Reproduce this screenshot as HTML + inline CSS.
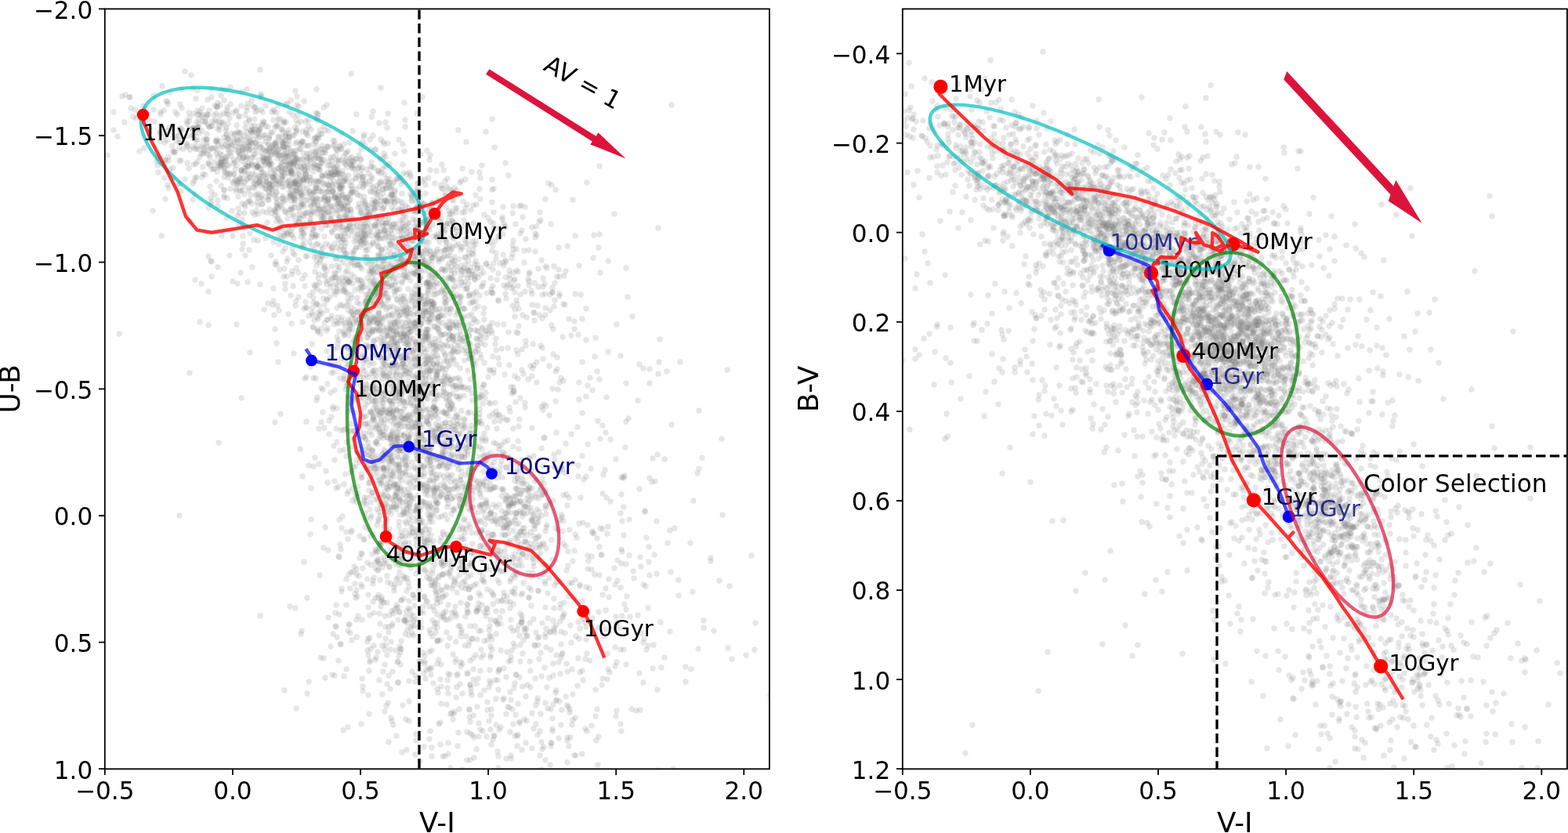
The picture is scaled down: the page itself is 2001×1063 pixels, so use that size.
<!DOCTYPE html>
<html><head><meta charset="utf-8"><title>Color-color diagrams</title><style>
html,body{margin:0;padding:0;background:#fff;width:2001px;height:1063px;overflow:hidden}
svg{display:block}
text{font-family:"DejaVu Sans","Liberation Sans",sans-serif}
.s{fill:#808080;fill-opacity:0.2}
</style></head><body>
<svg width="2001" height="1063" viewBox="0 0 2001 1063">
<rect width="2001" height="1063" fill="#fff"/>
<defs><clipPath id="cl"><rect x="133.8" y="11.4" width="848.1" height="969.9"/></clipPath><clipPath id="cr"><rect x="1151.8" y="11.4" width="848.1" height="969.9"/></clipPath></defs><g clip-path="url(#cl)" class="s"><circle cx="511" cy="425" r="3.7"/><circle cx="513" cy="272" r="3.7"/><circle cx="489" cy="181" r="3.7"/><circle cx="445" cy="284" r="3.7"/><circle cx="474" cy="289" r="3.7"/><circle cx="611" cy="539" r="3.7"/><circle cx="600" cy="421" r="3.7"/><circle cx="548" cy="527" r="3.7"/><circle cx="392" cy="202" r="3.7"/><circle cx="706" cy="452" r="3.7"/><circle cx="523" cy="424" r="3.7"/><circle cx="299" cy="178" r="3.7"/><circle cx="330" cy="169" r="3.7"/><circle cx="664" cy="640" r="3.7"/><circle cx="440" cy="224" r="3.7"/><circle cx="444" cy="506" r="3.7"/><circle cx="726" cy="407" r="3.7"/><circle cx="703" cy="952" r="3.7"/><circle cx="752" cy="751" r="3.7"/><circle cx="448" cy="268" r="3.7"/><circle cx="452" cy="434" r="3.7"/><circle cx="533" cy="338" r="3.7"/><circle cx="449" cy="215" r="3.7"/><circle cx="513" cy="264" r="3.7"/><circle cx="455" cy="146" r="3.7"/><circle cx="477" cy="214" r="3.7"/><circle cx="520" cy="562" r="3.7"/><circle cx="534" cy="385" r="3.7"/><circle cx="468" cy="328" r="3.7"/><circle cx="412" cy="526" r="3.7"/><circle cx="539" cy="265" r="3.7"/><circle cx="294" cy="221" r="3.7"/><circle cx="483" cy="398" r="3.7"/><circle cx="231" cy="164" r="3.7"/><circle cx="414" cy="546" r="3.7"/><circle cx="411" cy="224" r="3.7"/><circle cx="474" cy="658" r="3.7"/><circle cx="553" cy="444" r="3.7"/><circle cx="614" cy="457" r="3.7"/><circle cx="373" cy="205" r="3.7"/><circle cx="429" cy="623" r="3.7"/><circle cx="221" cy="227" r="3.7"/><circle cx="549" cy="389" r="3.7"/><circle cx="518" cy="277" r="3.7"/><circle cx="509" cy="227" r="3.7"/><circle cx="491" cy="829" r="3.7"/><circle cx="484" cy="281" r="3.7"/><circle cx="654" cy="642" r="3.7"/><circle cx="460" cy="289" r="3.7"/><circle cx="443" cy="442" r="3.7"/><circle cx="724" cy="645" r="3.7"/><circle cx="657" cy="663" r="3.7"/><circle cx="523" cy="412" r="3.7"/><circle cx="515" cy="346" r="3.7"/><circle cx="679" cy="636" r="3.7"/><circle cx="595" cy="812" r="3.7"/><circle cx="529" cy="459" r="3.7"/><circle cx="290" cy="141" r="3.7"/><circle cx="405" cy="240" r="3.7"/><circle cx="513" cy="295" r="3.7"/><circle cx="502" cy="783" r="3.7"/><circle cx="681" cy="684" r="3.7"/><circle cx="557" cy="623" r="3.7"/><circle cx="365" cy="156" r="3.7"/><circle cx="496" cy="947" r="3.7"/><circle cx="660" cy="939" r="3.7"/><circle cx="428" cy="190" r="3.7"/><circle cx="483" cy="663" r="3.7"/><circle cx="475" cy="574" r="3.7"/><circle cx="515" cy="535" r="3.7"/><circle cx="560" cy="924" r="3.7"/><circle cx="596" cy="344" r="3.7"/><circle cx="541" cy="859" r="3.7"/><circle cx="506" cy="650" r="3.7"/><circle cx="547" cy="361" r="3.7"/><circle cx="669" cy="679" r="3.7"/><circle cx="747" cy="841" r="3.7"/><circle cx="556" cy="740" r="3.7"/><circle cx="558" cy="818" r="3.7"/><circle cx="706" cy="899" r="3.7"/><circle cx="525" cy="554" r="3.7"/><circle cx="427" cy="348" r="3.7"/><circle cx="403" cy="254" r="3.7"/><circle cx="383" cy="190" r="3.7"/><circle cx="507" cy="560" r="3.7"/><circle cx="518" cy="792" r="3.7"/><circle cx="566" cy="733" r="3.7"/><circle cx="626" cy="655" r="3.7"/><circle cx="378" cy="167" r="3.7"/><circle cx="668" cy="626" r="3.7"/><circle cx="531" cy="732" r="3.7"/><circle cx="618" cy="743" r="3.7"/><circle cx="443" cy="291" r="3.7"/><circle cx="576" cy="345" r="3.7"/><circle cx="521" cy="488" r="3.7"/><circle cx="456" cy="634" r="3.7"/><circle cx="441" cy="347" r="3.7"/><circle cx="659" cy="654" r="3.7"/><circle cx="715" cy="860" r="3.7"/><circle cx="555" cy="394" r="3.7"/><circle cx="521" cy="638" r="3.7"/><circle cx="519" cy="668" r="3.7"/><circle cx="414" cy="194" r="3.7"/><circle cx="431" cy="438" r="3.7"/><circle cx="556" cy="441" r="3.7"/><circle cx="484" cy="783" r="3.7"/><circle cx="551" cy="852" r="3.7"/><circle cx="657" cy="939" r="3.7"/><circle cx="525" cy="446" r="3.7"/><circle cx="350" cy="142" r="3.7"/><circle cx="651" cy="768" r="3.7"/><circle cx="528" cy="500" r="3.7"/><circle cx="500" cy="516" r="3.7"/><circle cx="539" cy="582" r="3.7"/><circle cx="703" cy="905" r="3.7"/><circle cx="573" cy="269" r="3.7"/><circle cx="520" cy="531" r="3.7"/><circle cx="568" cy="580" r="3.7"/><circle cx="578" cy="414" r="3.7"/><circle cx="239" cy="158" r="3.7"/><circle cx="855" cy="677" r="3.7"/><circle cx="530" cy="684" r="3.7"/><circle cx="594" cy="641" r="3.7"/><circle cx="503" cy="644" r="3.7"/><circle cx="471" cy="413" r="3.7"/><circle cx="600" cy="350" r="3.7"/><circle cx="835" cy="708" r="3.7"/><circle cx="400" cy="246" r="3.7"/><circle cx="312" cy="218" r="3.7"/><circle cx="430" cy="302" r="3.7"/><circle cx="330" cy="224" r="3.7"/><circle cx="496" cy="580" r="3.7"/><circle cx="599" cy="495" r="3.7"/><circle cx="393" cy="214" r="3.7"/><circle cx="401" cy="328" r="3.7"/><circle cx="769" cy="759" r="3.7"/><circle cx="258" cy="188" r="3.7"/><circle cx="627" cy="624" r="3.7"/><circle cx="375" cy="231" r="3.7"/><circle cx="668" cy="617" r="3.7"/><circle cx="479" cy="371" r="3.7"/><circle cx="215" cy="200" r="3.7"/><circle cx="368" cy="221" r="3.7"/><circle cx="520" cy="540" r="3.7"/><circle cx="319" cy="227" r="3.7"/><circle cx="482" cy="832" r="3.7"/><circle cx="606" cy="527" r="3.7"/><circle cx="430" cy="316" r="3.7"/><circle cx="654" cy="718" r="3.7"/><circle cx="468" cy="492" r="3.7"/><circle cx="482" cy="567" r="3.7"/><circle cx="630" cy="622" r="3.7"/><circle cx="312" cy="272" r="3.7"/><circle cx="536" cy="664" r="3.7"/><circle cx="678" cy="607" r="3.7"/><circle cx="534" cy="562" r="3.7"/><circle cx="533" cy="632" r="3.7"/><circle cx="398" cy="270" r="3.7"/><circle cx="489" cy="857" r="3.7"/><circle cx="484" cy="613" r="3.7"/><circle cx="351" cy="223" r="3.7"/><circle cx="563" cy="240" r="3.7"/><circle cx="548" cy="474" r="3.7"/><circle cx="556" cy="564" r="3.7"/><circle cx="344" cy="240" r="3.7"/><circle cx="464" cy="509" r="3.7"/><circle cx="748" cy="800" r="3.7"/><circle cx="538" cy="566" r="3.7"/><circle cx="707" cy="801" r="3.7"/><circle cx="492" cy="509" r="3.7"/><circle cx="568" cy="305" r="3.7"/><circle cx="391" cy="256" r="3.7"/><circle cx="556" cy="522" r="3.7"/><circle cx="549" cy="574" r="3.7"/><circle cx="840" cy="983" r="3.7"/><circle cx="622" cy="752" r="3.7"/><circle cx="333" cy="188" r="3.7"/><circle cx="293" cy="151" r="3.7"/><circle cx="749" cy="834" r="3.7"/><circle cx="689" cy="271" r="3.7"/><circle cx="409" cy="839" r="3.7"/><circle cx="375" cy="451" r="3.7"/><circle cx="482" cy="218" r="3.7"/><circle cx="829" cy="734" r="3.7"/><circle cx="556" cy="639" r="3.7"/><circle cx="609" cy="816" r="3.7"/><circle cx="387" cy="229" r="3.7"/><circle cx="495" cy="708" r="3.7"/><circle cx="467" cy="385" r="3.7"/><circle cx="343" cy="255" r="3.7"/><circle cx="494" cy="558" r="3.7"/><circle cx="750" cy="780" r="3.7"/><circle cx="404" cy="114" r="3.7"/><circle cx="499" cy="586" r="3.7"/><circle cx="374" cy="323" r="3.7"/><circle cx="387" cy="233" r="3.7"/><circle cx="714" cy="375" r="3.7"/><circle cx="485" cy="304" r="3.7"/><circle cx="362" cy="206" r="3.7"/><circle cx="485" cy="455" r="3.7"/><circle cx="589" cy="750" r="3.7"/><circle cx="423" cy="274" r="3.7"/><circle cx="545" cy="737" r="3.7"/><circle cx="641" cy="712" r="3.7"/><circle cx="493" cy="661" r="3.7"/><circle cx="707" cy="764" r="3.7"/><circle cx="774" cy="635" r="3.7"/><circle cx="440" cy="427" r="3.7"/><circle cx="566" cy="555" r="3.7"/><circle cx="618" cy="781" r="3.7"/><circle cx="619" cy="660" r="3.7"/><circle cx="530" cy="707" r="3.7"/><circle cx="545" cy="361" r="3.7"/><circle cx="485" cy="405" r="3.7"/><circle cx="786" cy="787" r="3.7"/><circle cx="465" cy="251" r="3.7"/><circle cx="367" cy="299" r="3.7"/><circle cx="385" cy="805" r="3.7"/><circle cx="606" cy="466" r="3.7"/><circle cx="305" cy="149" r="3.7"/><circle cx="719" cy="486" r="3.7"/><circle cx="479" cy="290" r="3.7"/><circle cx="326" cy="196" r="3.7"/><circle cx="430" cy="191" r="3.7"/><circle cx="288" cy="115" r="3.7"/><circle cx="572" cy="481" r="3.7"/><circle cx="512" cy="525" r="3.7"/><circle cx="473" cy="191" r="3.7"/><circle cx="530" cy="393" r="3.7"/><circle cx="315" cy="189" r="3.7"/><circle cx="759" cy="733" r="3.7"/><circle cx="403" cy="240" r="3.7"/><circle cx="364" cy="271" r="3.7"/><circle cx="550" cy="717" r="3.7"/><circle cx="730" cy="854" r="3.7"/><circle cx="298" cy="204" r="3.7"/><circle cx="534" cy="262" r="3.7"/><circle cx="452" cy="509" r="3.7"/><circle cx="661" cy="615" r="3.7"/><circle cx="401" cy="259" r="3.7"/><circle cx="510" cy="571" r="3.7"/><circle cx="439" cy="618" r="3.7"/><circle cx="404" cy="175" r="3.7"/><circle cx="610" cy="509" r="3.7"/><circle cx="661" cy="483" r="3.7"/><circle cx="601" cy="722" r="3.7"/><circle cx="717" cy="657" r="3.7"/><circle cx="414" cy="279" r="3.7"/><circle cx="626" cy="825" r="3.7"/><circle cx="468" cy="458" r="3.7"/><circle cx="599" cy="457" r="3.7"/><circle cx="384" cy="155" r="3.7"/><circle cx="502" cy="287" r="3.7"/><circle cx="787" cy="795" r="3.7"/><circle cx="658" cy="660" r="3.7"/><circle cx="552" cy="438" r="3.7"/><circle cx="731" cy="716" r="3.7"/><circle cx="419" cy="256" r="3.7"/><circle cx="821" cy="470" r="3.7"/><circle cx="553" cy="376" r="3.7"/><circle cx="582" cy="890" r="3.7"/><circle cx="557" cy="352" r="3.7"/><circle cx="641" cy="682" r="3.7"/><circle cx="430" cy="521" r="3.7"/><circle cx="559" cy="404" r="3.7"/><circle cx="528" cy="526" r="3.7"/><circle cx="510" cy="638" r="3.7"/><circle cx="202" cy="220" r="3.7"/><circle cx="538" cy="479" r="3.7"/><circle cx="521" cy="561" r="3.7"/><circle cx="417" cy="363" r="3.7"/><circle cx="492" cy="232" r="3.7"/><circle cx="441" cy="228" r="3.7"/><circle cx="641" cy="609" r="3.7"/><circle cx="640" cy="652" r="3.7"/><circle cx="589" cy="344" r="3.7"/><circle cx="415" cy="273" r="3.7"/><circle cx="426" cy="414" r="3.7"/><circle cx="558" cy="651" r="3.7"/><circle cx="470" cy="337" r="3.7"/><circle cx="273" cy="147" r="3.7"/><circle cx="617" cy="741" r="3.7"/><circle cx="497" cy="403" r="3.7"/><circle cx="691" cy="982" r="3.7"/><circle cx="223" cy="195" r="3.7"/><circle cx="365" cy="174" r="3.7"/><circle cx="337" cy="211" r="3.7"/><circle cx="477" cy="435" r="3.7"/><circle cx="648" cy="715" r="3.7"/><circle cx="286" cy="128" r="3.7"/><circle cx="381" cy="236" r="3.7"/><circle cx="509" cy="267" r="3.7"/><circle cx="633" cy="647" r="3.7"/><circle cx="521" cy="481" r="3.7"/><circle cx="652" cy="838" r="3.7"/><circle cx="665" cy="678" r="3.7"/><circle cx="453" cy="629" r="3.7"/><circle cx="318" cy="256" r="3.7"/><circle cx="696" cy="649" r="3.7"/><circle cx="343" cy="244" r="3.7"/><circle cx="485" cy="384" r="3.7"/><circle cx="386" cy="411" r="3.7"/><circle cx="565" cy="241" r="3.7"/><circle cx="258" cy="226" r="3.7"/><circle cx="507" cy="582" r="3.7"/><circle cx="485" cy="415" r="3.7"/><circle cx="521" cy="776" r="3.7"/><circle cx="574" cy="314" r="3.7"/><circle cx="572" cy="545" r="3.7"/><circle cx="576" cy="349" r="3.7"/><circle cx="464" cy="575" r="3.7"/><circle cx="551" cy="276" r="3.7"/><circle cx="330" cy="253" r="3.7"/><circle cx="552" cy="550" r="3.7"/><circle cx="667" cy="757" r="3.7"/><circle cx="619" cy="440" r="3.7"/><circle cx="398" cy="314" r="3.7"/><circle cx="604" cy="854" r="3.7"/><circle cx="447" cy="254" r="3.7"/><circle cx="492" cy="823" r="3.7"/><circle cx="435" cy="190" r="3.7"/><circle cx="371" cy="221" r="3.7"/><circle cx="467" cy="440" r="3.7"/><circle cx="306" cy="169" r="3.7"/><circle cx="446" cy="256" r="3.7"/><circle cx="315" cy="114" r="3.7"/><circle cx="510" cy="575" r="3.7"/><circle cx="563" cy="299" r="3.7"/><circle cx="497" cy="209" r="3.7"/><circle cx="314" cy="157" r="3.7"/><circle cx="411" cy="224" r="3.7"/><circle cx="537" cy="325" r="3.7"/><circle cx="500" cy="419" r="3.7"/><circle cx="644" cy="666" r="3.7"/><circle cx="448" cy="550" r="3.7"/><circle cx="412" cy="225" r="3.7"/><circle cx="544" cy="407" r="3.7"/><circle cx="378" cy="240" r="3.7"/><circle cx="538" cy="678" r="3.7"/><circle cx="534" cy="675" r="3.7"/><circle cx="514" cy="285" r="3.7"/><circle cx="377" cy="231" r="3.7"/><circle cx="587" cy="589" r="3.7"/><circle cx="481" cy="387" r="3.7"/><circle cx="525" cy="378" r="3.7"/><circle cx="442" cy="293" r="3.7"/><circle cx="462" cy="366" r="3.7"/><circle cx="533" cy="539" r="3.7"/><circle cx="258" cy="138" r="3.7"/><circle cx="246" cy="172" r="3.7"/><circle cx="569" cy="528" r="3.7"/><circle cx="568" cy="452" r="3.7"/><circle cx="445" cy="420" r="3.7"/><circle cx="652" cy="964" r="3.7"/><circle cx="787" cy="845" r="3.7"/><circle cx="405" cy="211" r="3.7"/><circle cx="471" cy="581" r="3.7"/><circle cx="540" cy="308" r="3.7"/><circle cx="433" cy="287" r="3.7"/><circle cx="664" cy="298" r="3.7"/><circle cx="660" cy="593" r="3.7"/><circle cx="571" cy="442" r="3.7"/><circle cx="483" cy="300" r="3.7"/><circle cx="465" cy="328" r="3.7"/><circle cx="531" cy="622" r="3.7"/><circle cx="678" cy="736" r="3.7"/><circle cx="409" cy="426" r="3.7"/><circle cx="479" cy="701" r="3.7"/><circle cx="503" cy="617" r="3.7"/><circle cx="405" cy="266" r="3.7"/><circle cx="601" cy="341" r="3.7"/><circle cx="546" cy="509" r="3.7"/><circle cx="322" cy="166" r="3.7"/><circle cx="312" cy="233" r="3.7"/><circle cx="355" cy="192" r="3.7"/><circle cx="530" cy="339" r="3.7"/><circle cx="353" cy="245" r="3.7"/><circle cx="332" cy="164" r="3.7"/><circle cx="596" cy="633" r="3.7"/><circle cx="503" cy="619" r="3.7"/><circle cx="538" cy="425" r="3.7"/><circle cx="512" cy="684" r="3.7"/><circle cx="630" cy="271" r="3.7"/><circle cx="393" cy="211" r="3.7"/><circle cx="507" cy="623" r="3.7"/><circle cx="306" cy="234" r="3.7"/><circle cx="569" cy="308" r="3.7"/><circle cx="705" cy="930" r="3.7"/><circle cx="554" cy="629" r="3.7"/><circle cx="452" cy="206" r="3.7"/><circle cx="664" cy="715" r="3.7"/><circle cx="291" cy="221" r="3.7"/><circle cx="531" cy="416" r="3.7"/><circle cx="675" cy="639" r="3.7"/><circle cx="425" cy="200" r="3.7"/><circle cx="690" cy="911" r="3.7"/><circle cx="360" cy="226" r="3.7"/><circle cx="514" cy="381" r="3.7"/><circle cx="575" cy="374" r="3.7"/><circle cx="614" cy="342" r="3.7"/><circle cx="666" cy="472" r="3.7"/><circle cx="518" cy="473" r="3.7"/><circle cx="574" cy="400" r="3.7"/><circle cx="434" cy="302" r="3.7"/><circle cx="959" cy="709" r="3.7"/><circle cx="430" cy="430" r="3.7"/><circle cx="892" cy="598" r="3.7"/><circle cx="522" cy="693" r="3.7"/><circle cx="559" cy="884" r="3.7"/><circle cx="619" cy="669" r="3.7"/><circle cx="713" cy="316" r="3.7"/><circle cx="386" cy="297" r="3.7"/><circle cx="602" cy="611" r="3.7"/><circle cx="433" cy="234" r="3.7"/><circle cx="450" cy="322" r="3.7"/><circle cx="471" cy="380" r="3.7"/><circle cx="466" cy="300" r="3.7"/><circle cx="503" cy="232" r="3.7"/><circle cx="580" cy="302" r="3.7"/><circle cx="645" cy="654" r="3.7"/><circle cx="517" cy="666" r="3.7"/><circle cx="560" cy="414" r="3.7"/><circle cx="530" cy="389" r="3.7"/><circle cx="491" cy="293" r="3.7"/><circle cx="545" cy="323" r="3.7"/><circle cx="344" cy="190" r="3.7"/><circle cx="558" cy="475" r="3.7"/><circle cx="405" cy="311" r="3.7"/><circle cx="410" cy="273" r="3.7"/><circle cx="492" cy="504" r="3.7"/><circle cx="417" cy="326" r="3.7"/><circle cx="497" cy="621" r="3.7"/><circle cx="725" cy="722" r="3.7"/><circle cx="588" cy="351" r="3.7"/><circle cx="600" cy="921" r="3.7"/><circle cx="432" cy="280" r="3.7"/><circle cx="545" cy="286" r="3.7"/><circle cx="675" cy="623" r="3.7"/><circle cx="293" cy="223" r="3.7"/><circle cx="583" cy="496" r="3.7"/><circle cx="644" cy="683" r="3.7"/><circle cx="672" cy="920" r="3.7"/><circle cx="400" cy="294" r="3.7"/><circle cx="341" cy="203" r="3.7"/><circle cx="525" cy="497" r="3.7"/><circle cx="362" cy="190" r="3.7"/><circle cx="535" cy="386" r="3.7"/><circle cx="484" cy="653" r="3.7"/><circle cx="575" cy="355" r="3.7"/><circle cx="336" cy="220" r="3.7"/><circle cx="480" cy="703" r="3.7"/><circle cx="498" cy="466" r="3.7"/><circle cx="361" cy="187" r="3.7"/><circle cx="530" cy="711" r="3.7"/><circle cx="489" cy="503" r="3.7"/><circle cx="342" cy="193" r="3.7"/><circle cx="519" cy="957" r="3.7"/><circle cx="391" cy="538" r="3.7"/><circle cx="535" cy="754" r="3.7"/><circle cx="544" cy="289" r="3.7"/><circle cx="376" cy="325" r="3.7"/><circle cx="497" cy="477" r="3.7"/><circle cx="359" cy="224" r="3.7"/><circle cx="436" cy="236" r="3.7"/><circle cx="571" cy="340" r="3.7"/><circle cx="696" cy="375" r="3.7"/><circle cx="574" cy="608" r="3.7"/><circle cx="415" cy="191" r="3.7"/><circle cx="493" cy="240" r="3.7"/><circle cx="751" cy="716" r="3.7"/><circle cx="304" cy="170" r="3.7"/><circle cx="433" cy="784" r="3.7"/><circle cx="674" cy="642" r="3.7"/><circle cx="868" cy="462" r="3.7"/><circle cx="537" cy="197" r="3.7"/><circle cx="643" cy="761" r="3.7"/><circle cx="354" cy="254" r="3.7"/><circle cx="241" cy="155" r="3.7"/><circle cx="360" cy="266" r="3.7"/><circle cx="505" cy="504" r="3.7"/><circle cx="503" cy="326" r="3.7"/><circle cx="659" cy="601" r="3.7"/><circle cx="255" cy="411" r="3.7"/><circle cx="672" cy="618" r="3.7"/><circle cx="418" cy="383" r="3.7"/><circle cx="597" cy="576" r="3.7"/><circle cx="396" cy="682" r="3.7"/><circle cx="637" cy="644" r="3.7"/><circle cx="415" cy="351" r="3.7"/><circle cx="468" cy="274" r="3.7"/><circle cx="714" cy="488" r="3.7"/><circle cx="679" cy="375" r="3.7"/><circle cx="511" cy="639" r="3.7"/><circle cx="434" cy="222" r="3.7"/><circle cx="551" cy="606" r="3.7"/><circle cx="482" cy="407" r="3.7"/><circle cx="517" cy="603" r="3.7"/><circle cx="281" cy="134" r="3.7"/><circle cx="395" cy="377" r="3.7"/><circle cx="510" cy="435" r="3.7"/><circle cx="251" cy="226" r="3.7"/><circle cx="523" cy="606" r="3.7"/><circle cx="739" cy="510" r="3.7"/><circle cx="479" cy="191" r="3.7"/><circle cx="538" cy="556" r="3.7"/><circle cx="275" cy="153" r="3.7"/><circle cx="530" cy="390" r="3.7"/><circle cx="615" cy="419" r="3.7"/><circle cx="562" cy="634" r="3.7"/><circle cx="344" cy="234" r="3.7"/><circle cx="679" cy="955" r="3.7"/><circle cx="637" cy="707" r="3.7"/><circle cx="473" cy="236" r="3.7"/><circle cx="563" cy="788" r="3.7"/><circle cx="592" cy="583" r="3.7"/><circle cx="417" cy="448" r="3.7"/><circle cx="543" cy="321" r="3.7"/><circle cx="360" cy="228" r="3.7"/><circle cx="540" cy="572" r="3.7"/><circle cx="401" cy="262" r="3.7"/><circle cx="549" cy="658" r="3.7"/><circle cx="541" cy="260" r="3.7"/><circle cx="517" cy="602" r="3.7"/><circle cx="743" cy="462" r="3.7"/><circle cx="576" cy="582" r="3.7"/><circle cx="368" cy="231" r="3.7"/><circle cx="420" cy="537" r="3.7"/><circle cx="500" cy="298" r="3.7"/><circle cx="459" cy="315" r="3.7"/><circle cx="487" cy="762" r="3.7"/><circle cx="561" cy="465" r="3.7"/><circle cx="497" cy="240" r="3.7"/><circle cx="444" cy="206" r="3.7"/><circle cx="530" cy="338" r="3.7"/><circle cx="686" cy="938" r="3.7"/><circle cx="637" cy="855" r="3.7"/><circle cx="542" cy="692" r="3.7"/><circle cx="442" cy="203" r="3.7"/><circle cx="512" cy="714" r="3.7"/><circle cx="463" cy="882" r="3.7"/><circle cx="482" cy="296" r="3.7"/><circle cx="573" cy="326" r="3.7"/><circle cx="578" cy="357" r="3.7"/><circle cx="663" cy="679" r="3.7"/><circle cx="364" cy="362" r="3.7"/><circle cx="390" cy="385" r="3.7"/><circle cx="355" cy="462" r="3.7"/><circle cx="787" cy="907" r="3.7"/><circle cx="511" cy="576" r="3.7"/><circle cx="246" cy="234" r="3.7"/><circle cx="583" cy="449" r="3.7"/><circle cx="682" cy="399" r="3.7"/><circle cx="479" cy="507" r="3.7"/><circle cx="585" cy="746" r="3.7"/><circle cx="487" cy="765" r="3.7"/><circle cx="568" cy="381" r="3.7"/><circle cx="551" cy="965" r="3.7"/><circle cx="600" cy="874" r="3.7"/><circle cx="332" cy="184" r="3.7"/><circle cx="423" cy="280" r="3.7"/><circle cx="636" cy="457" r="3.7"/><circle cx="454" cy="430" r="3.7"/><circle cx="657" cy="751" r="3.7"/><circle cx="483" cy="547" r="3.7"/><circle cx="436" cy="290" r="3.7"/><circle cx="532" cy="612" r="3.7"/><circle cx="533" cy="400" r="3.7"/><circle cx="394" cy="161" r="3.7"/><circle cx="281" cy="196" r="3.7"/><circle cx="530" cy="445" r="3.7"/><circle cx="613" cy="647" r="3.7"/><circle cx="425" cy="244" r="3.7"/><circle cx="397" cy="623" r="3.7"/><circle cx="579" cy="292" r="3.7"/><circle cx="785" cy="850" r="3.7"/><circle cx="426" cy="372" r="3.7"/><circle cx="528" cy="328" r="3.7"/><circle cx="627" cy="688" r="3.7"/><circle cx="549" cy="808" r="3.7"/><circle cx="455" cy="203" r="3.7"/><circle cx="476" cy="494" r="3.7"/><circle cx="431" cy="192" r="3.7"/><circle cx="403" cy="483" r="3.7"/><circle cx="485" cy="526" r="3.7"/><circle cx="422" cy="280" r="3.7"/><circle cx="469" cy="593" r="3.7"/><circle cx="471" cy="856" r="3.7"/><circle cx="787" cy="414" r="3.7"/><circle cx="510" cy="508" r="3.7"/><circle cx="396" cy="273" r="3.7"/><circle cx="398" cy="399" r="3.7"/><circle cx="378" cy="169" r="3.7"/><circle cx="693" cy="355" r="3.7"/><circle cx="553" cy="302" r="3.7"/><circle cx="490" cy="476" r="3.7"/><circle cx="262" cy="156" r="3.7"/><circle cx="560" cy="735" r="3.7"/><circle cx="528" cy="570" r="3.7"/><circle cx="248" cy="190" r="3.7"/><circle cx="615" cy="495" r="3.7"/><circle cx="548" cy="943" r="3.7"/><circle cx="269" cy="333" r="3.7"/><circle cx="480" cy="299" r="3.7"/><circle cx="530" cy="376" r="3.7"/><circle cx="696" cy="678" r="3.7"/><circle cx="636" cy="604" r="3.7"/><circle cx="383" cy="279" r="3.7"/><circle cx="489" cy="378" r="3.7"/><circle cx="697" cy="826" r="3.7"/><circle cx="664" cy="596" r="3.7"/><circle cx="449" cy="398" r="3.7"/><circle cx="318" cy="154" r="3.7"/><circle cx="710" cy="881" r="3.7"/><circle cx="637" cy="465" r="3.7"/><circle cx="633" cy="323" r="3.7"/><circle cx="463" cy="281" r="3.7"/><circle cx="242" cy="150" r="3.7"/><circle cx="502" cy="356" r="3.7"/><circle cx="511" cy="227" r="3.7"/><circle cx="354" cy="264" r="3.7"/><circle cx="630" cy="565" r="3.7"/><circle cx="444" cy="445" r="3.7"/><circle cx="536" cy="475" r="3.7"/><circle cx="482" cy="368" r="3.7"/><circle cx="442" cy="679" r="3.7"/><circle cx="325" cy="223" r="3.7"/><circle cx="487" cy="692" r="3.7"/><circle cx="797" cy="607" r="3.7"/><circle cx="482" cy="716" r="3.7"/><circle cx="594" cy="624" r="3.7"/><circle cx="508" cy="575" r="3.7"/><circle cx="490" cy="596" r="3.7"/><circle cx="439" cy="372" r="3.7"/><circle cx="552" cy="359" r="3.7"/><circle cx="430" cy="369" r="3.7"/><circle cx="662" cy="668" r="3.7"/><circle cx="475" cy="301" r="3.7"/><circle cx="485" cy="326" r="3.7"/><circle cx="252" cy="115" r="3.7"/><circle cx="418" cy="220" r="3.7"/><circle cx="554" cy="455" r="3.7"/><circle cx="475" cy="213" r="3.7"/><circle cx="538" cy="493" r="3.7"/><circle cx="496" cy="298" r="3.7"/><circle cx="660" cy="388" r="3.7"/><circle cx="612" cy="697" r="3.7"/><circle cx="360" cy="238" r="3.7"/><circle cx="589" cy="718" r="3.7"/><circle cx="488" cy="580" r="3.7"/><circle cx="330" cy="247" r="3.7"/><circle cx="545" cy="192" r="3.7"/><circle cx="284" cy="188" r="3.7"/><circle cx="377" cy="236" r="3.7"/><circle cx="596" cy="934" r="3.7"/><circle cx="664" cy="844" r="3.7"/><circle cx="421" cy="263" r="3.7"/><circle cx="381" cy="222" r="3.7"/><circle cx="468" cy="396" r="3.7"/><circle cx="293" cy="177" r="3.7"/><circle cx="617" cy="400" r="3.7"/><circle cx="547" cy="582" r="3.7"/><circle cx="369" cy="230" r="3.7"/><circle cx="799" cy="848" r="3.7"/><circle cx="699" cy="757" r="3.7"/><circle cx="504" cy="245" r="3.7"/><circle cx="532" cy="545" r="3.7"/><circle cx="569" cy="508" r="3.7"/><circle cx="896" cy="584" r="3.7"/><circle cx="549" cy="590" r="3.7"/><circle cx="549" cy="320" r="3.7"/><circle cx="596" cy="295" r="3.7"/><circle cx="518" cy="336" r="3.7"/><circle cx="493" cy="257" r="3.7"/><circle cx="491" cy="522" r="3.7"/><circle cx="405" cy="151" r="3.7"/><circle cx="648" cy="654" r="3.7"/><circle cx="498" cy="513" r="3.7"/><circle cx="531" cy="567" r="3.7"/><circle cx="561" cy="362" r="3.7"/><circle cx="580" cy="333" r="3.7"/><circle cx="574" cy="485" r="3.7"/><circle cx="546" cy="396" r="3.7"/><circle cx="634" cy="725" r="3.7"/><circle cx="629" cy="455" r="3.7"/><circle cx="590" cy="622" r="3.7"/><circle cx="555" cy="348" r="3.7"/><circle cx="599" cy="915" r="3.7"/><circle cx="320" cy="184" r="3.7"/><circle cx="461" cy="706" r="3.7"/><circle cx="503" cy="412" r="3.7"/><circle cx="408" cy="232" r="3.7"/><circle cx="838" cy="665" r="3.7"/><circle cx="331" cy="233" r="3.7"/><circle cx="502" cy="533" r="3.7"/><circle cx="581" cy="265" r="3.7"/><circle cx="465" cy="403" r="3.7"/><circle cx="719" cy="786" r="3.7"/><circle cx="495" cy="585" r="3.7"/><circle cx="577" cy="450" r="3.7"/><circle cx="538" cy="619" r="3.7"/><circle cx="571" cy="327" r="3.7"/><circle cx="816" cy="859" r="3.7"/><circle cx="598" cy="599" r="3.7"/><circle cx="475" cy="354" r="3.7"/><circle cx="351" cy="218" r="3.7"/><circle cx="344" cy="191" r="3.7"/><circle cx="490" cy="719" r="3.7"/><circle cx="683" cy="321" r="3.7"/><circle cx="376" cy="265" r="3.7"/><circle cx="399" cy="293" r="3.7"/><circle cx="439" cy="252" r="3.7"/><circle cx="521" cy="721" r="3.7"/><circle cx="522" cy="399" r="3.7"/><circle cx="448" cy="730" r="3.7"/><circle cx="712" cy="497" r="3.7"/><circle cx="614" cy="696" r="3.7"/><circle cx="587" cy="574" r="3.7"/><circle cx="512" cy="705" r="3.7"/><circle cx="555" cy="365" r="3.7"/><circle cx="622" cy="782" r="3.7"/><circle cx="370" cy="238" r="3.7"/><circle cx="554" cy="417" r="3.7"/><circle cx="432" cy="221" r="3.7"/><circle cx="642" cy="893" r="3.7"/><circle cx="432" cy="465" r="3.7"/><circle cx="444" cy="292" r="3.7"/><circle cx="522" cy="549" r="3.7"/><circle cx="413" cy="204" r="3.7"/><circle cx="497" cy="490" r="3.7"/><circle cx="377" cy="776" r="3.7"/><circle cx="315" cy="212" r="3.7"/><circle cx="680" cy="731" r="3.7"/><circle cx="486" cy="231" r="3.7"/><circle cx="482" cy="301" r="3.7"/><circle cx="502" cy="439" r="3.7"/><circle cx="414" cy="343" r="3.7"/><circle cx="493" cy="446" r="3.7"/><circle cx="490" cy="523" r="3.7"/><circle cx="388" cy="230" r="3.7"/><circle cx="702" cy="376" r="3.7"/><circle cx="547" cy="650" r="3.7"/><circle cx="568" cy="477" r="3.7"/><circle cx="349" cy="153" r="3.7"/><circle cx="298" cy="209" r="3.7"/><circle cx="907" cy="716" r="3.7"/><circle cx="268" cy="211" r="3.7"/><circle cx="704" cy="948" r="3.7"/><circle cx="538" cy="299" r="3.7"/><circle cx="340" cy="271" r="3.7"/><circle cx="443" cy="252" r="3.7"/><circle cx="613" cy="627" r="3.7"/><circle cx="370" cy="250" r="3.7"/><circle cx="742" cy="787" r="3.7"/><circle cx="449" cy="211" r="3.7"/><circle cx="282" cy="237" r="3.7"/><circle cx="359" cy="303" r="3.7"/><circle cx="473" cy="407" r="3.7"/><circle cx="577" cy="354" r="3.7"/><circle cx="287" cy="219" r="3.7"/><circle cx="605" cy="479" r="3.7"/><circle cx="321" cy="128" r="3.7"/><circle cx="296" cy="185" r="3.7"/><circle cx="628" cy="816" r="3.7"/><circle cx="529" cy="412" r="3.7"/><circle cx="453" cy="436" r="3.7"/><circle cx="418" cy="255" r="3.7"/><circle cx="775" cy="834" r="3.7"/><circle cx="463" cy="256" r="3.7"/><circle cx="246" cy="187" r="3.7"/><circle cx="532" cy="493" r="3.7"/><circle cx="272" cy="189" r="3.7"/><circle cx="532" cy="265" r="3.7"/><circle cx="561" cy="272" r="3.7"/><circle cx="687" cy="366" r="3.7"/><circle cx="541" cy="691" r="3.7"/><circle cx="518" cy="334" r="3.7"/><circle cx="694" cy="695" r="3.7"/><circle cx="356" cy="312" r="3.7"/><circle cx="724" cy="314" r="3.7"/><circle cx="440" cy="412" r="3.7"/><circle cx="430" cy="813" r="3.7"/><circle cx="547" cy="622" r="3.7"/><circle cx="570" cy="807" r="3.7"/><circle cx="326" cy="182" r="3.7"/><circle cx="472" cy="444" r="3.7"/><circle cx="530" cy="862" r="3.7"/><circle cx="485" cy="421" r="3.7"/><circle cx="577" cy="637" r="3.7"/><circle cx="526" cy="799" r="3.7"/><circle cx="594" cy="621" r="3.7"/><circle cx="671" cy="435" r="3.7"/><circle cx="519" cy="465" r="3.7"/><circle cx="714" cy="895" r="3.7"/><circle cx="557" cy="561" r="3.7"/><circle cx="526" cy="251" r="3.7"/><circle cx="510" cy="730" r="3.7"/><circle cx="512" cy="544" r="3.7"/><circle cx="881" cy="693" r="3.7"/><circle cx="542" cy="671" r="3.7"/><circle cx="614" cy="686" r="3.7"/><circle cx="450" cy="420" r="3.7"/><circle cx="584" cy="542" r="3.7"/><circle cx="516" cy="459" r="3.7"/><circle cx="465" cy="172" r="3.7"/><circle cx="428" cy="376" r="3.7"/><circle cx="420" cy="237" r="3.7"/><circle cx="564" cy="580" r="3.7"/><circle cx="788" cy="715" r="3.7"/><circle cx="542" cy="561" r="3.7"/><circle cx="678" cy="371" r="3.7"/><circle cx="486" cy="261" r="3.7"/><circle cx="566" cy="441" r="3.7"/><circle cx="443" cy="258" r="3.7"/><circle cx="510" cy="705" r="3.7"/><circle cx="641" cy="766" r="3.7"/><circle cx="588" cy="647" r="3.7"/><circle cx="419" cy="702" r="3.7"/><circle cx="342" cy="162" r="3.7"/><circle cx="449" cy="677" r="3.7"/><circle cx="458" cy="398" r="3.7"/><circle cx="473" cy="525" r="3.7"/><circle cx="490" cy="264" r="3.7"/><circle cx="518" cy="596" r="3.7"/><circle cx="505" cy="565" r="3.7"/><circle cx="498" cy="391" r="3.7"/><circle cx="617" cy="698" r="3.7"/><circle cx="334" cy="249" r="3.7"/><circle cx="501" cy="528" r="3.7"/><circle cx="578" cy="290" r="3.7"/><circle cx="439" cy="320" r="3.7"/><circle cx="217" cy="118" r="3.7"/><circle cx="224" cy="174" r="3.7"/><circle cx="773" cy="751" r="3.7"/><circle cx="459" cy="712" r="3.7"/><circle cx="432" cy="269" r="3.7"/><circle cx="645" cy="637" r="3.7"/><circle cx="545" cy="468" r="3.7"/><circle cx="404" cy="333" r="3.7"/><circle cx="518" cy="640" r="3.7"/><circle cx="497" cy="233" r="3.7"/><circle cx="408" cy="327" r="3.7"/><circle cx="567" cy="549" r="3.7"/><circle cx="544" cy="399" r="3.7"/><circle cx="605" cy="747" r="3.7"/><circle cx="568" cy="319" r="3.7"/><circle cx="371" cy="247" r="3.7"/><circle cx="599" cy="906" r="3.7"/><circle cx="559" cy="255" r="3.7"/><circle cx="551" cy="342" r="3.7"/><circle cx="589" cy="807" r="3.7"/><circle cx="672" cy="405" r="3.7"/><circle cx="577" cy="544" r="3.7"/><circle cx="571" cy="459" r="3.7"/><circle cx="350" cy="268" r="3.7"/><circle cx="435" cy="549" r="3.7"/><circle cx="520" cy="495" r="3.7"/><circle cx="311" cy="184" r="3.7"/><circle cx="362" cy="296" r="3.7"/><circle cx="856" cy="730" r="3.7"/><circle cx="612" cy="507" r="3.7"/><circle cx="451" cy="507" r="3.7"/><circle cx="513" cy="499" r="3.7"/><circle cx="527" cy="674" r="3.7"/><circle cx="392" cy="240" r="3.7"/><circle cx="330" cy="167" r="3.7"/><circle cx="544" cy="768" r="3.7"/><circle cx="557" cy="610" r="3.7"/><circle cx="439" cy="485" r="3.7"/><circle cx="261" cy="189" r="3.7"/><circle cx="336" cy="190" r="3.7"/><circle cx="371" cy="207" r="3.7"/><circle cx="570" cy="636" r="3.7"/><circle cx="468" cy="289" r="3.7"/><circle cx="546" cy="731" r="3.7"/><circle cx="606" cy="350" r="3.7"/><circle cx="568" cy="540" r="3.7"/><circle cx="596" cy="368" r="3.7"/><circle cx="505" cy="462" r="3.7"/><circle cx="367" cy="279" r="3.7"/><circle cx="351" cy="420" r="3.7"/><circle cx="463" cy="239" r="3.7"/><circle cx="594" cy="787" r="3.7"/><circle cx="558" cy="463" r="3.7"/><circle cx="770" cy="606" r="3.7"/><circle cx="422" cy="501" r="3.7"/><circle cx="470" cy="442" r="3.7"/><circle cx="534" cy="605" r="3.7"/><circle cx="562" cy="403" r="3.7"/><circle cx="348" cy="169" r="3.7"/><circle cx="566" cy="345" r="3.7"/><circle cx="507" cy="382" r="3.7"/><circle cx="534" cy="409" r="3.7"/><circle cx="567" cy="320" r="3.7"/><circle cx="351" cy="337" r="3.7"/><circle cx="765" cy="212" r="3.7"/><circle cx="498" cy="560" r="3.7"/><circle cx="415" cy="166" r="3.7"/><circle cx="400" cy="255" r="3.7"/><circle cx="577" cy="516" r="3.7"/><circle cx="753" cy="482" r="3.7"/><circle cx="570" cy="750" r="3.7"/><circle cx="507" cy="623" r="3.7"/><circle cx="626" cy="473" r="3.7"/><circle cx="515" cy="495" r="3.7"/><circle cx="584" cy="594" r="3.7"/><circle cx="485" cy="589" r="3.7"/><circle cx="604" cy="407" r="3.7"/><circle cx="489" cy="597" r="3.7"/><circle cx="510" cy="525" r="3.7"/><circle cx="679" cy="623" r="3.7"/><circle cx="561" cy="595" r="3.7"/><circle cx="507" cy="523" r="3.7"/><circle cx="590" cy="688" r="3.7"/><circle cx="564" cy="343" r="3.7"/><circle cx="423" cy="407" r="3.7"/><circle cx="692" cy="631" r="3.7"/><circle cx="460" cy="502" r="3.7"/><circle cx="582" cy="483" r="3.7"/><circle cx="516" cy="694" r="3.7"/><circle cx="517" cy="589" r="3.7"/><circle cx="325" cy="274" r="3.7"/><circle cx="423" cy="226" r="3.7"/><circle cx="587" cy="725" r="3.7"/><circle cx="594" cy="265" r="3.7"/><circle cx="774" cy="507" r="3.7"/><circle cx="350" cy="229" r="3.7"/><circle cx="542" cy="396" r="3.7"/><circle cx="442" cy="854" r="3.7"/><circle cx="685" cy="488" r="3.7"/><circle cx="410" cy="314" r="3.7"/><circle cx="552" cy="268" r="3.7"/><circle cx="556" cy="755" r="3.7"/><circle cx="344" cy="237" r="3.7"/><circle cx="184" cy="189" r="3.7"/><circle cx="534" cy="455" r="3.7"/><circle cx="601" cy="705" r="3.7"/><circle cx="498" cy="601" r="3.7"/><circle cx="504" cy="632" r="3.7"/><circle cx="377" cy="244" r="3.7"/><circle cx="599" cy="526" r="3.7"/><circle cx="308" cy="222" r="3.7"/><circle cx="664" cy="639" r="3.7"/><circle cx="321" cy="182" r="3.7"/><circle cx="330" cy="204" r="3.7"/><circle cx="492" cy="459" r="3.7"/><circle cx="504" cy="253" r="3.7"/><circle cx="491" cy="582" r="3.7"/><circle cx="490" cy="464" r="3.7"/><circle cx="517" cy="340" r="3.7"/><circle cx="627" cy="624" r="3.7"/><circle cx="405" cy="420" r="3.7"/><circle cx="156" cy="123" r="3.7"/><circle cx="260" cy="195" r="3.7"/><circle cx="530" cy="331" r="3.7"/><circle cx="410" cy="372" r="3.7"/><circle cx="586" cy="637" r="3.7"/><circle cx="583" cy="862" r="3.7"/><circle cx="346" cy="326" r="3.7"/><circle cx="599" cy="819" r="3.7"/><circle cx="572" cy="434" r="3.7"/><circle cx="613" cy="856" r="3.7"/><circle cx="501" cy="549" r="3.7"/><circle cx="493" cy="429" r="3.7"/><circle cx="441" cy="276" r="3.7"/><circle cx="570" cy="563" r="3.7"/><circle cx="646" cy="381" r="3.7"/><circle cx="363" cy="201" r="3.7"/><circle cx="376" cy="253" r="3.7"/><circle cx="535" cy="528" r="3.7"/><circle cx="267" cy="162" r="3.7"/><circle cx="427" cy="311" r="3.7"/><circle cx="598" cy="346" r="3.7"/><circle cx="511" cy="501" r="3.7"/><circle cx="646" cy="911" r="3.7"/><circle cx="504" cy="618" r="3.7"/><circle cx="532" cy="245" r="3.7"/><circle cx="429" cy="330" r="3.7"/><circle cx="421" cy="279" r="3.7"/><circle cx="348" cy="226" r="3.7"/><circle cx="439" cy="184" r="3.7"/><circle cx="569" cy="264" r="3.7"/><circle cx="632" cy="793" r="3.7"/><circle cx="534" cy="446" r="3.7"/><circle cx="522" cy="440" r="3.7"/><circle cx="636" cy="857" r="3.7"/><circle cx="534" cy="383" r="3.7"/><circle cx="516" cy="426" r="3.7"/><circle cx="687" cy="714" r="3.7"/><circle cx="797" cy="771" r="3.7"/><circle cx="764" cy="316" r="3.7"/><circle cx="776" cy="449" r="3.7"/><circle cx="577" cy="273" r="3.7"/><circle cx="634" cy="357" r="3.7"/><circle cx="512" cy="818" r="3.7"/><circle cx="658" cy="632" r="3.7"/><circle cx="441" cy="206" r="3.7"/><circle cx="479" cy="518" r="3.7"/><circle cx="550" cy="528" r="3.7"/><circle cx="207" cy="110" r="3.7"/><circle cx="391" cy="171" r="3.7"/><circle cx="589" cy="231" r="3.7"/><circle cx="603" cy="453" r="3.7"/><circle cx="384" cy="288" r="3.7"/><circle cx="517" cy="692" r="3.7"/><circle cx="507" cy="845" r="3.7"/><circle cx="485" cy="369" r="3.7"/><circle cx="308" cy="217" r="3.7"/><circle cx="406" cy="268" r="3.7"/><circle cx="579" cy="570" r="3.7"/><circle cx="499" cy="650" r="3.7"/><circle cx="277" cy="136" r="3.7"/><circle cx="756" cy="680" r="3.7"/><circle cx="302" cy="141" r="3.7"/><circle cx="638" cy="537" r="3.7"/><circle cx="718" cy="833" r="3.7"/><circle cx="471" cy="414" r="3.7"/><circle cx="586" cy="591" r="3.7"/><circle cx="537" cy="414" r="3.7"/><circle cx="638" cy="601" r="3.7"/><circle cx="541" cy="445" r="3.7"/><circle cx="659" cy="655" r="3.7"/><circle cx="714" cy="378" r="3.7"/><circle cx="544" cy="463" r="3.7"/><circle cx="464" cy="289" r="3.7"/><circle cx="597" cy="497" r="3.7"/><circle cx="572" cy="531" r="3.7"/><circle cx="423" cy="205" r="3.7"/><circle cx="488" cy="377" r="3.7"/><circle cx="715" cy="793" r="3.7"/><circle cx="589" cy="345" r="3.7"/><circle cx="487" cy="648" r="3.7"/><circle cx="776" cy="854" r="3.7"/><circle cx="537" cy="687" r="3.7"/><circle cx="541" cy="608" r="3.7"/><circle cx="563" cy="555" r="3.7"/><circle cx="529" cy="546" r="3.7"/><circle cx="598" cy="752" r="3.7"/><circle cx="581" cy="416" r="3.7"/><circle cx="556" cy="277" r="3.7"/><circle cx="534" cy="801" r="3.7"/><circle cx="487" cy="345" r="3.7"/><circle cx="676" cy="348" r="3.7"/><circle cx="494" cy="325" r="3.7"/><circle cx="716" cy="925" r="3.7"/><circle cx="762" cy="474" r="3.7"/><circle cx="351" cy="270" r="3.7"/><circle cx="455" cy="726" r="3.7"/><circle cx="632" cy="719" r="3.7"/><circle cx="539" cy="390" r="3.7"/><circle cx="666" cy="609" r="3.7"/><circle cx="583" cy="877" r="3.7"/><circle cx="315" cy="141" r="3.7"/><circle cx="467" cy="496" r="3.7"/><circle cx="468" cy="406" r="3.7"/><circle cx="484" cy="157" r="3.7"/><circle cx="447" cy="210" r="3.7"/><circle cx="577" cy="429" r="3.7"/><circle cx="267" cy="162" r="3.7"/><circle cx="520" cy="513" r="3.7"/><circle cx="429" cy="772" r="3.7"/><circle cx="588" cy="491" r="3.7"/><circle cx="312" cy="218" r="3.7"/><circle cx="288" cy="206" r="3.7"/><circle cx="413" cy="699" r="3.7"/><circle cx="557" cy="505" r="3.7"/><circle cx="533" cy="240" r="3.7"/><circle cx="562" cy="606" r="3.7"/><circle cx="580" cy="448" r="3.7"/><circle cx="907" cy="712" r="3.7"/><circle cx="501" cy="606" r="3.7"/><circle cx="744" cy="868" r="3.7"/><circle cx="635" cy="959" r="3.7"/><circle cx="395" cy="196" r="3.7"/><circle cx="429" cy="547" r="3.7"/><circle cx="481" cy="650" r="3.7"/><circle cx="461" cy="204" r="3.7"/><circle cx="530" cy="416" r="3.7"/><circle cx="402" cy="257" r="3.7"/><circle cx="836" cy="614" r="3.7"/><circle cx="388" cy="394" r="3.7"/><circle cx="491" cy="236" r="3.7"/><circle cx="332" cy="123" r="3.7"/><circle cx="558" cy="318" r="3.7"/><circle cx="476" cy="173" r="3.7"/><circle cx="543" cy="574" r="3.7"/><circle cx="510" cy="564" r="3.7"/><circle cx="655" cy="713" r="3.7"/><circle cx="618" cy="881" r="3.7"/><circle cx="607" cy="307" r="3.7"/><circle cx="794" cy="704" r="3.7"/><circle cx="413" cy="272" r="3.7"/><circle cx="488" cy="768" r="3.7"/><circle cx="527" cy="759" r="3.7"/><circle cx="552" cy="500" r="3.7"/><circle cx="807" cy="404" r="3.7"/><circle cx="326" cy="182" r="3.7"/><circle cx="588" cy="315" r="3.7"/><circle cx="570" cy="396" r="3.7"/><circle cx="689" cy="625" r="3.7"/><circle cx="441" cy="324" r="3.7"/><circle cx="666" cy="708" r="3.7"/><circle cx="458" cy="214" r="3.7"/><circle cx="445" cy="627" r="3.7"/><circle cx="538" cy="382" r="3.7"/><circle cx="718" cy="430" r="3.7"/><circle cx="622" cy="680" r="3.7"/><circle cx="492" cy="362" r="3.7"/><circle cx="436" cy="755" r="3.7"/><circle cx="467" cy="335" r="3.7"/><circle cx="558" cy="558" r="3.7"/><circle cx="608" cy="261" r="3.7"/><circle cx="247" cy="173" r="3.7"/><circle cx="609" cy="776" r="3.7"/><circle cx="379" cy="243" r="3.7"/><circle cx="519" cy="328" r="3.7"/><circle cx="384" cy="258" r="3.7"/><circle cx="439" cy="298" r="3.7"/><circle cx="403" cy="144" r="3.7"/><circle cx="366" cy="208" r="3.7"/><circle cx="519" cy="494" r="3.7"/><circle cx="362" cy="353" r="3.7"/><circle cx="542" cy="389" r="3.7"/><circle cx="506" cy="572" r="3.7"/><circle cx="501" cy="234" r="3.7"/><circle cx="312" cy="215" r="3.7"/><circle cx="518" cy="787" r="3.7"/><circle cx="706" cy="420" r="3.7"/><circle cx="569" cy="780" r="3.7"/><circle cx="574" cy="465" r="3.7"/><circle cx="684" cy="699" r="3.7"/><circle cx="353" cy="195" r="3.7"/><circle cx="643" cy="364" r="3.7"/><circle cx="517" cy="162" r="3.7"/><circle cx="590" cy="271" r="3.7"/><circle cx="609" cy="654" r="3.7"/><circle cx="346" cy="198" r="3.7"/><circle cx="191" cy="170" r="3.7"/><circle cx="487" cy="276" r="3.7"/><circle cx="458" cy="260" r="3.7"/><circle cx="591" cy="542" r="3.7"/><circle cx="290" cy="137" r="3.7"/><circle cx="485" cy="391" r="3.7"/><circle cx="254" cy="146" r="3.7"/><circle cx="921" cy="560" r="3.7"/><circle cx="511" cy="321" r="3.7"/><circle cx="445" cy="359" r="3.7"/><circle cx="628" cy="412" r="3.7"/><circle cx="518" cy="412" r="3.7"/><circle cx="406" cy="215" r="3.7"/><circle cx="355" cy="215" r="3.7"/><circle cx="387" cy="300" r="3.7"/><circle cx="566" cy="449" r="3.7"/><circle cx="460" cy="223" r="3.7"/><circle cx="586" cy="441" r="3.7"/><circle cx="559" cy="420" r="3.7"/><circle cx="341" cy="192" r="3.7"/><circle cx="528" cy="402" r="3.7"/><circle cx="477" cy="521" r="3.7"/><circle cx="360" cy="259" r="3.7"/><circle cx="570" cy="748" r="3.7"/><circle cx="664" cy="630" r="3.7"/><circle cx="640" cy="767" r="3.7"/><circle cx="674" cy="356" r="3.7"/><circle cx="389" cy="365" r="3.7"/><circle cx="344" cy="267" r="3.7"/><circle cx="343" cy="176" r="3.7"/><circle cx="432" cy="256" r="3.7"/><circle cx="875" cy="851" r="3.7"/><circle cx="541" cy="502" r="3.7"/><circle cx="821" cy="746" r="3.7"/><circle cx="590" cy="847" r="3.7"/><circle cx="471" cy="572" r="3.7"/><circle cx="848" cy="586" r="3.7"/><circle cx="491" cy="848" r="3.7"/><circle cx="608" cy="745" r="3.7"/><circle cx="460" cy="272" r="3.7"/><circle cx="329" cy="213" r="3.7"/><circle cx="450" cy="498" r="3.7"/><circle cx="599" cy="618" r="3.7"/><circle cx="470" cy="262" r="3.7"/><circle cx="530" cy="328" r="3.7"/><circle cx="520" cy="795" r="3.7"/><circle cx="436" cy="260" r="3.7"/><circle cx="511" cy="608" r="3.7"/><circle cx="498" cy="511" r="3.7"/><circle cx="652" cy="593" r="3.7"/><circle cx="545" cy="455" r="3.7"/><circle cx="542" cy="488" r="3.7"/><circle cx="591" cy="716" r="3.7"/><circle cx="508" cy="871" r="3.7"/><circle cx="307" cy="244" r="3.7"/><circle cx="448" cy="523" r="3.7"/><circle cx="672" cy="711" r="3.7"/><circle cx="410" cy="229" r="3.7"/><circle cx="617" cy="361" r="3.7"/><circle cx="537" cy="442" r="3.7"/><circle cx="630" cy="476" r="3.7"/><circle cx="556" cy="640" r="3.7"/><circle cx="832" cy="615" r="3.7"/><circle cx="387" cy="209" r="3.7"/><circle cx="607" cy="384" r="3.7"/><circle cx="605" cy="612" r="3.7"/><circle cx="586" cy="734" r="3.7"/><circle cx="481" cy="237" r="3.7"/><circle cx="337" cy="290" r="3.7"/><circle cx="574" cy="861" r="3.7"/><circle cx="417" cy="408" r="3.7"/><circle cx="621" cy="336" r="3.7"/><circle cx="562" cy="922" r="3.7"/><circle cx="306" cy="243" r="3.7"/><circle cx="543" cy="866" r="3.7"/><circle cx="503" cy="497" r="3.7"/><circle cx="392" cy="205" r="3.7"/><circle cx="547" cy="291" r="3.7"/><circle cx="616" cy="515" r="3.7"/><circle cx="490" cy="448" r="3.7"/><circle cx="377" cy="244" r="3.7"/><circle cx="465" cy="400" r="3.7"/><circle cx="626" cy="690" r="3.7"/><circle cx="524" cy="492" r="3.7"/><circle cx="360" cy="225" r="3.7"/><circle cx="681" cy="718" r="3.7"/><circle cx="503" cy="512" r="3.7"/><circle cx="258" cy="149" r="3.7"/><circle cx="463" cy="496" r="3.7"/><circle cx="510" cy="416" r="3.7"/><circle cx="526" cy="570" r="3.7"/><circle cx="445" cy="301" r="3.7"/><circle cx="550" cy="861" r="3.7"/><circle cx="408" cy="734" r="3.7"/><circle cx="750" cy="492" r="3.7"/><circle cx="555" cy="355" r="3.7"/><circle cx="539" cy="396" r="3.7"/><circle cx="631" cy="188" r="3.7"/><circle cx="510" cy="825" r="3.7"/><circle cx="491" cy="627" r="3.7"/><circle cx="499" cy="606" r="3.7"/><circle cx="591" cy="617" r="3.7"/><circle cx="572" cy="317" r="3.7"/><circle cx="524" cy="653" r="3.7"/><circle cx="747" cy="930" r="3.7"/><circle cx="769" cy="630" r="3.7"/><circle cx="239" cy="187" r="3.7"/><circle cx="282" cy="122" r="3.7"/><circle cx="571" cy="606" r="3.7"/><circle cx="387" cy="292" r="3.7"/><circle cx="571" cy="824" r="3.7"/><circle cx="694" cy="631" r="3.7"/><circle cx="298" cy="223" r="3.7"/><circle cx="462" cy="791" r="3.7"/><circle cx="643" cy="891" r="3.7"/><circle cx="513" cy="960" r="3.7"/><circle cx="337" cy="236" r="3.7"/><circle cx="562" cy="283" r="3.7"/><circle cx="577" cy="375" r="3.7"/><circle cx="490" cy="769" r="3.7"/><circle cx="584" cy="579" r="3.7"/><circle cx="250" cy="126" r="3.7"/><circle cx="499" cy="656" r="3.7"/><circle cx="647" cy="768" r="3.7"/><circle cx="455" cy="247" r="3.7"/><circle cx="509" cy="597" r="3.7"/><circle cx="348" cy="231" r="3.7"/><circle cx="603" cy="323" r="3.7"/><circle cx="467" cy="490" r="3.7"/><circle cx="701" cy="530" r="3.7"/><circle cx="550" cy="385" r="3.7"/><circle cx="258" cy="185" r="3.7"/><circle cx="627" cy="905" r="3.7"/><circle cx="348" cy="235" r="3.7"/><circle cx="512" cy="489" r="3.7"/><circle cx="522" cy="767" r="3.7"/><circle cx="499" cy="294" r="3.7"/><circle cx="677" cy="694" r="3.7"/><circle cx="526" cy="660" r="3.7"/><circle cx="585" cy="449" r="3.7"/><circle cx="510" cy="603" r="3.7"/><circle cx="705" cy="917" r="3.7"/><circle cx="638" cy="788" r="3.7"/><circle cx="482" cy="602" r="3.7"/><circle cx="428" cy="329" r="3.7"/><circle cx="603" cy="647" r="3.7"/><circle cx="522" cy="322" r="3.7"/><circle cx="304" cy="266" r="3.7"/><circle cx="456" cy="338" r="3.7"/><circle cx="521" cy="632" r="3.7"/><circle cx="487" cy="537" r="3.7"/><circle cx="677" cy="648" r="3.7"/><circle cx="734" cy="740" r="3.7"/><circle cx="344" cy="235" r="3.7"/><circle cx="486" cy="613" r="3.7"/><circle cx="423" cy="316" r="3.7"/><circle cx="424" cy="245" r="3.7"/><circle cx="553" cy="613" r="3.7"/><circle cx="543" cy="397" r="3.7"/><circle cx="533" cy="503" r="3.7"/><circle cx="545" cy="340" r="3.7"/><circle cx="275" cy="180" r="3.7"/><circle cx="570" cy="288" r="3.7"/><circle cx="239" cy="208" r="3.7"/><circle cx="593" cy="741" r="3.7"/><circle cx="571" cy="878" r="3.7"/><circle cx="461" cy="301" r="3.7"/><circle cx="447" cy="237" r="3.7"/><circle cx="365" cy="201" r="3.7"/><circle cx="605" cy="967" r="3.7"/><circle cx="385" cy="214" r="3.7"/><circle cx="536" cy="324" r="3.7"/><circle cx="401" cy="210" r="3.7"/><circle cx="313" cy="186" r="3.7"/><circle cx="589" cy="582" r="3.7"/><circle cx="696" cy="645" r="3.7"/><circle cx="538" cy="258" r="3.7"/><circle cx="663" cy="923" r="3.7"/><circle cx="515" cy="657" r="3.7"/><circle cx="628" cy="698" r="3.7"/><circle cx="604" cy="840" r="3.7"/><circle cx="635" cy="797" r="3.7"/><circle cx="738" cy="427" r="3.7"/><circle cx="661" cy="699" r="3.7"/><circle cx="476" cy="474" r="3.7"/><circle cx="489" cy="284" r="3.7"/><circle cx="556" cy="557" r="3.7"/><circle cx="465" cy="366" r="3.7"/><circle cx="371" cy="300" r="3.7"/><circle cx="267" cy="198" r="3.7"/><circle cx="517" cy="534" r="3.7"/><circle cx="481" cy="368" r="3.7"/><circle cx="533" cy="315" r="3.7"/><circle cx="766" cy="348" r="3.7"/><circle cx="583" cy="345" r="3.7"/><circle cx="351" cy="185" r="3.7"/><circle cx="544" cy="433" r="3.7"/><circle cx="489" cy="608" r="3.7"/><circle cx="559" cy="475" r="3.7"/><circle cx="477" cy="464" r="3.7"/><circle cx="443" cy="356" r="3.7"/><circle cx="523" cy="507" r="3.7"/><circle cx="422" cy="232" r="3.7"/><circle cx="670" cy="803" r="3.7"/><circle cx="494" cy="873" r="3.7"/><circle cx="515" cy="650" r="3.7"/><circle cx="291" cy="146" r="3.7"/><circle cx="569" cy="315" r="3.7"/><circle cx="739" cy="815" r="3.7"/><circle cx="584" cy="300" r="3.7"/><circle cx="554" cy="520" r="3.7"/><circle cx="473" cy="684" r="3.7"/><circle cx="423" cy="221" r="3.7"/><circle cx="386" cy="180" r="3.7"/><circle cx="451" cy="324" r="3.7"/><circle cx="637" cy="303" r="3.7"/><circle cx="501" cy="502" r="3.7"/><circle cx="600" cy="484" r="3.7"/><circle cx="439" cy="443" r="3.7"/><circle cx="301" cy="187" r="3.7"/><circle cx="674" cy="648" r="3.7"/><circle cx="461" cy="191" r="3.7"/><circle cx="536" cy="652" r="3.7"/><circle cx="492" cy="299" r="3.7"/><circle cx="290" cy="187" r="3.7"/><circle cx="508" cy="737" r="3.7"/><circle cx="769" cy="675" r="3.7"/><circle cx="675" cy="349" r="3.7"/><circle cx="566" cy="761" r="3.7"/><circle cx="505" cy="647" r="3.7"/><circle cx="593" cy="306" r="3.7"/><circle cx="601" cy="749" r="3.7"/><circle cx="411" cy="328" r="3.7"/><circle cx="446" cy="509" r="3.7"/><circle cx="425" cy="224" r="3.7"/><circle cx="276" cy="145" r="3.7"/><circle cx="646" cy="334" r="3.7"/><circle cx="469" cy="430" r="3.7"/><circle cx="368" cy="166" r="3.7"/><circle cx="407" cy="547" r="3.7"/><circle cx="705" cy="496" r="3.7"/><circle cx="512" cy="331" r="3.7"/><circle cx="577" cy="429" r="3.7"/><circle cx="374" cy="249" r="3.7"/><circle cx="666" cy="294" r="3.7"/><circle cx="366" cy="211" r="3.7"/><circle cx="735" cy="964" r="3.7"/><circle cx="612" cy="664" r="3.7"/><circle cx="521" cy="410" r="3.7"/><circle cx="898" cy="801" r="3.7"/><circle cx="467" cy="561" r="3.7"/><circle cx="534" cy="368" r="3.7"/><circle cx="464" cy="557" r="3.7"/><circle cx="553" cy="558" r="3.7"/><circle cx="481" cy="260" r="3.7"/><circle cx="681" cy="658" r="3.7"/><circle cx="631" cy="664" r="3.7"/><circle cx="464" cy="234" r="3.7"/><circle cx="397" cy="303" r="3.7"/><circle cx="620" cy="431" r="3.7"/><circle cx="423" cy="250" r="3.7"/><circle cx="419" cy="167" r="3.7"/><circle cx="448" cy="376" r="3.7"/><circle cx="420" cy="287" r="3.7"/><circle cx="384" cy="809" r="3.7"/><circle cx="465" cy="532" r="3.7"/><circle cx="611" cy="923" r="3.7"/><circle cx="668" cy="477" r="3.7"/><circle cx="602" cy="706" r="3.7"/><circle cx="577" cy="782" r="3.7"/><circle cx="535" cy="542" r="3.7"/><circle cx="816" cy="465" r="3.7"/><circle cx="635" cy="868" r="3.7"/><circle cx="491" cy="786" r="3.7"/><circle cx="518" cy="700" r="3.7"/><circle cx="526" cy="307" r="3.7"/><circle cx="372" cy="413" r="3.7"/><circle cx="460" cy="456" r="3.7"/><circle cx="580" cy="743" r="3.7"/><circle cx="512" cy="555" r="3.7"/><circle cx="342" cy="255" r="3.7"/><circle cx="479" cy="288" r="3.7"/><circle cx="485" cy="552" r="3.7"/><circle cx="541" cy="641" r="3.7"/><circle cx="719" cy="694" r="3.7"/><circle cx="465" cy="397" r="3.7"/><circle cx="548" cy="660" r="3.7"/><circle cx="546" cy="656" r="3.7"/><circle cx="463" cy="504" r="3.7"/><circle cx="535" cy="439" r="3.7"/><circle cx="526" cy="374" r="3.7"/><circle cx="454" cy="763" r="3.7"/><circle cx="352" cy="182" r="3.7"/><circle cx="441" cy="310" r="3.7"/><circle cx="533" cy="531" r="3.7"/><circle cx="494" cy="687" r="3.7"/><circle cx="741" cy="376" r="3.7"/><circle cx="385" cy="249" r="3.7"/><circle cx="571" cy="624" r="3.7"/><circle cx="587" cy="470" r="3.7"/><circle cx="574" cy="540" r="3.7"/><circle cx="755" cy="727" r="3.7"/><circle cx="389" cy="213" r="3.7"/><circle cx="238" cy="183" r="3.7"/><circle cx="468" cy="216" r="3.7"/><circle cx="665" cy="679" r="3.7"/><circle cx="506" cy="371" r="3.7"/><circle cx="745" cy="790" r="3.7"/><circle cx="472" cy="495" r="3.7"/><circle cx="602" cy="543" r="3.7"/><circle cx="383" cy="223" r="3.7"/><circle cx="433" cy="259" r="3.7"/><circle cx="610" cy="866" r="3.7"/><circle cx="234" cy="190" r="3.7"/><circle cx="535" cy="468" r="3.7"/><circle cx="543" cy="480" r="3.7"/><circle cx="402" cy="366" r="3.7"/><circle cx="572" cy="554" r="3.7"/><circle cx="508" cy="543" r="3.7"/><circle cx="526" cy="590" r="3.7"/><circle cx="630" cy="590" r="3.7"/><circle cx="671" cy="889" r="3.7"/><circle cx="519" cy="754" r="3.7"/><circle cx="545" cy="446" r="3.7"/><circle cx="474" cy="271" r="3.7"/><circle cx="320" cy="249" r="3.7"/><circle cx="353" cy="180" r="3.7"/><circle cx="499" cy="248" r="3.7"/><circle cx="485" cy="740" r="3.7"/><circle cx="318" cy="240" r="3.7"/><circle cx="453" cy="395" r="3.7"/><circle cx="647" cy="696" r="3.7"/><circle cx="615" cy="677" r="3.7"/><circle cx="587" cy="415" r="3.7"/><circle cx="638" cy="662" r="3.7"/><circle cx="423" cy="263" r="3.7"/><circle cx="196" cy="140" r="3.7"/><circle cx="506" cy="772" r="3.7"/><circle cx="439" cy="863" r="3.7"/><circle cx="520" cy="297" r="3.7"/><circle cx="627" cy="950" r="3.7"/><circle cx="482" cy="541" r="3.7"/><circle cx="517" cy="584" r="3.7"/><circle cx="669" cy="655" r="3.7"/><circle cx="572" cy="467" r="3.7"/><circle cx="231" cy="244" r="3.7"/><circle cx="305" cy="188" r="3.7"/><circle cx="486" cy="376" r="3.7"/><circle cx="324" cy="197" r="3.7"/><circle cx="518" cy="535" r="3.7"/><circle cx="229" cy="182" r="3.7"/><circle cx="516" cy="378" r="3.7"/><circle cx="553" cy="597" r="3.7"/><circle cx="434" cy="267" r="3.7"/><circle cx="557" cy="301" r="3.7"/><circle cx="469" cy="265" r="3.7"/><circle cx="557" cy="480" r="3.7"/><circle cx="525" cy="400" r="3.7"/><circle cx="639" cy="796" r="3.7"/><circle cx="336" cy="206" r="3.7"/><circle cx="696" cy="970" r="3.7"/><circle cx="609" cy="411" r="3.7"/><circle cx="246" cy="255" r="3.7"/><circle cx="402" cy="202" r="3.7"/><circle cx="557" cy="478" r="3.7"/><circle cx="688" cy="684" r="3.7"/><circle cx="575" cy="729" r="3.7"/><circle cx="303" cy="362" r="3.7"/><circle cx="325" cy="137" r="3.7"/><circle cx="514" cy="700" r="3.7"/><circle cx="476" cy="745" r="3.7"/><circle cx="392" cy="327" r="3.7"/><circle cx="521" cy="284" r="3.7"/><circle cx="355" cy="174" r="3.7"/><circle cx="294" cy="133" r="3.7"/><circle cx="507" cy="467" r="3.7"/><circle cx="440" cy="262" r="3.7"/><circle cx="515" cy="631" r="3.7"/><circle cx="426" cy="285" r="3.7"/><circle cx="547" cy="594" r="3.7"/><circle cx="453" cy="406" r="3.7"/><circle cx="456" cy="380" r="3.7"/><circle cx="457" cy="294" r="3.7"/><circle cx="652" cy="968" r="3.7"/><circle cx="406" cy="173" r="3.7"/><circle cx="492" cy="439" r="3.7"/><circle cx="276" cy="196" r="3.7"/><circle cx="366" cy="296" r="3.7"/><circle cx="693" cy="693" r="3.7"/><circle cx="426" cy="231" r="3.7"/><circle cx="647" cy="669" r="3.7"/><circle cx="713" cy="344" r="3.7"/><circle cx="581" cy="387" r="3.7"/><circle cx="341" cy="232" r="3.7"/><circle cx="629" cy="365" r="3.7"/><circle cx="407" cy="231" r="3.7"/><circle cx="571" cy="638" r="3.7"/><circle cx="588" cy="380" r="3.7"/><circle cx="348" cy="225" r="3.7"/><circle cx="579" cy="911" r="3.7"/><circle cx="560" cy="329" r="3.7"/><circle cx="483" cy="400" r="3.7"/><circle cx="688" cy="699" r="3.7"/><circle cx="309" cy="191" r="3.7"/><circle cx="459" cy="477" r="3.7"/><circle cx="501" cy="308" r="3.7"/><circle cx="432" cy="345" r="3.7"/><circle cx="594" cy="337" r="3.7"/><circle cx="456" cy="444" r="3.7"/><circle cx="477" cy="782" r="3.7"/><circle cx="491" cy="375" r="3.7"/><circle cx="476" cy="410" r="3.7"/><circle cx="494" cy="597" r="3.7"/><circle cx="498" cy="702" r="3.7"/><circle cx="704" cy="236" r="3.7"/><circle cx="733" cy="410" r="3.7"/><circle cx="855" cy="806" r="3.7"/><circle cx="642" cy="674" r="3.7"/><circle cx="492" cy="343" r="3.7"/><circle cx="532" cy="480" r="3.7"/><circle cx="377" cy="201" r="3.7"/><circle cx="533" cy="518" r="3.7"/><circle cx="701" cy="639" r="3.7"/><circle cx="513" cy="461" r="3.7"/><circle cx="463" cy="876" r="3.7"/><circle cx="441" cy="276" r="3.7"/><circle cx="648" cy="562" r="3.7"/><circle cx="530" cy="348" r="3.7"/><circle cx="575" cy="452" r="3.7"/><circle cx="477" cy="387" r="3.7"/><circle cx="356" cy="190" r="3.7"/><circle cx="310" cy="301" r="3.7"/><circle cx="785" cy="826" r="3.7"/><circle cx="504" cy="260" r="3.7"/><circle cx="723" cy="728" r="3.7"/><circle cx="657" cy="356" r="3.7"/><circle cx="466" cy="302" r="3.7"/><circle cx="315" cy="137" r="3.7"/><circle cx="500" cy="265" r="3.7"/><circle cx="509" cy="575" r="3.7"/><circle cx="736" cy="686" r="3.7"/><circle cx="346" cy="169" r="3.7"/><circle cx="599" cy="438" r="3.7"/><circle cx="617" cy="836" r="3.7"/><circle cx="439" cy="230" r="3.7"/><circle cx="513" cy="533" r="3.7"/><circle cx="629" cy="344" r="3.7"/><circle cx="494" cy="418" r="3.7"/><circle cx="513" cy="613" r="3.7"/><circle cx="552" cy="287" r="3.7"/><circle cx="573" cy="277" r="3.7"/><circle cx="489" cy="242" r="3.7"/><circle cx="313" cy="210" r="3.7"/><circle cx="666" cy="625" r="3.7"/><circle cx="650" cy="351" r="3.7"/><circle cx="469" cy="355" r="3.7"/><circle cx="534" cy="648" r="3.7"/><circle cx="580" cy="240" r="3.7"/><circle cx="551" cy="391" r="3.7"/><circle cx="673" cy="811" r="3.7"/><circle cx="509" cy="781" r="3.7"/><circle cx="473" cy="721" r="3.7"/><circle cx="574" cy="418" r="3.7"/><circle cx="434" cy="285" r="3.7"/><circle cx="613" cy="433" r="3.7"/><circle cx="502" cy="342" r="3.7"/><circle cx="523" cy="536" r="3.7"/><circle cx="519" cy="437" r="3.7"/><circle cx="520" cy="444" r="3.7"/><circle cx="521" cy="265" r="3.7"/><circle cx="438" cy="549" r="3.7"/><circle cx="303" cy="236" r="3.7"/><circle cx="478" cy="477" r="3.7"/><circle cx="671" cy="441" r="3.7"/><circle cx="527" cy="347" r="3.7"/><circle cx="538" cy="377" r="3.7"/><circle cx="409" cy="397" r="3.7"/><circle cx="511" cy="434" r="3.7"/><circle cx="599" cy="458" r="3.7"/><circle cx="519" cy="476" r="3.7"/><circle cx="477" cy="491" r="3.7"/><circle cx="504" cy="508" r="3.7"/><circle cx="475" cy="537" r="3.7"/><circle cx="342" cy="202" r="3.7"/><circle cx="561" cy="394" r="3.7"/><circle cx="672" cy="625" r="3.7"/><circle cx="583" cy="266" r="3.7"/><circle cx="620" cy="587" r="3.7"/><circle cx="270" cy="353" r="3.7"/><circle cx="643" cy="674" r="3.7"/><circle cx="616" cy="735" r="3.7"/><circle cx="648" cy="634" r="3.7"/><circle cx="620" cy="727" r="3.7"/><circle cx="744" cy="781" r="3.7"/><circle cx="386" cy="260" r="3.7"/><circle cx="710" cy="836" r="3.7"/><circle cx="527" cy="279" r="3.7"/><circle cx="538" cy="500" r="3.7"/><circle cx="337" cy="203" r="3.7"/><circle cx="510" cy="502" r="3.7"/><circle cx="404" cy="232" r="3.7"/><circle cx="677" cy="679" r="3.7"/><circle cx="554" cy="615" r="3.7"/><circle cx="555" cy="714" r="3.7"/><circle cx="722" cy="697" r="3.7"/><circle cx="468" cy="299" r="3.7"/><circle cx="522" cy="662" r="3.7"/><circle cx="712" cy="676" r="3.7"/><circle cx="339" cy="231" r="3.7"/><circle cx="581" cy="774" r="3.7"/><circle cx="533" cy="518" r="3.7"/><circle cx="523" cy="617" r="3.7"/><circle cx="210" cy="227" r="3.7"/><circle cx="320" cy="167" r="3.7"/><circle cx="613" cy="503" r="3.7"/><circle cx="372" cy="219" r="3.7"/><circle cx="485" cy="413" r="3.7"/><circle cx="451" cy="596" r="3.7"/><circle cx="489" cy="586" r="3.7"/><circle cx="364" cy="221" r="3.7"/><circle cx="423" cy="222" r="3.7"/><circle cx="504" cy="437" r="3.7"/><circle cx="656" cy="878" r="3.7"/><circle cx="558" cy="706" r="3.7"/><circle cx="660" cy="952" r="3.7"/><circle cx="396" cy="204" r="3.7"/><circle cx="545" cy="338" r="3.7"/><circle cx="488" cy="477" r="3.7"/><circle cx="349" cy="309" r="3.7"/><circle cx="292" cy="187" r="3.7"/><circle cx="608" cy="441" r="3.7"/><circle cx="477" cy="604" r="3.7"/><circle cx="575" cy="560" r="3.7"/><circle cx="549" cy="217" r="3.7"/><circle cx="434" cy="331" r="3.7"/><circle cx="448" cy="392" r="3.7"/><circle cx="655" cy="771" r="3.7"/><circle cx="521" cy="529" r="3.7"/><circle cx="403" cy="181" r="3.7"/><circle cx="750" cy="567" r="3.7"/><circle cx="538" cy="435" r="3.7"/><circle cx="454" cy="228" r="3.7"/><circle cx="431" cy="262" r="3.7"/><circle cx="363" cy="180" r="3.7"/><circle cx="483" cy="727" r="3.7"/><circle cx="560" cy="595" r="3.7"/><circle cx="389" cy="272" r="3.7"/><circle cx="296" cy="269" r="3.7"/><circle cx="559" cy="457" r="3.7"/><circle cx="580" cy="697" r="3.7"/><circle cx="485" cy="500" r="3.7"/><circle cx="611" cy="294" r="3.7"/><circle cx="418" cy="211" r="3.7"/><circle cx="529" cy="468" r="3.7"/><circle cx="601" cy="570" r="3.7"/><circle cx="269" cy="253" r="3.7"/><circle cx="604" cy="386" r="3.7"/><circle cx="572" cy="948" r="3.7"/><circle cx="578" cy="283" r="3.7"/><circle cx="535" cy="490" r="3.7"/><circle cx="640" cy="633" r="3.7"/><circle cx="471" cy="367" r="3.7"/><circle cx="690" cy="624" r="3.7"/><circle cx="433" cy="250" r="3.7"/><circle cx="430" cy="365" r="3.7"/><circle cx="642" cy="533" r="3.7"/><circle cx="270" cy="124" r="3.7"/><circle cx="735" cy="812" r="3.7"/><circle cx="573" cy="630" r="3.7"/><circle cx="283" cy="186" r="3.7"/><circle cx="353" cy="247" r="3.7"/><circle cx="278" cy="256" r="3.7"/><circle cx="531" cy="525" r="3.7"/><circle cx="555" cy="582" r="3.7"/><circle cx="737" cy="545" r="3.7"/><circle cx="392" cy="196" r="3.7"/><circle cx="538" cy="677" r="3.7"/><circle cx="137" cy="198" r="3.7"/><circle cx="778" cy="858" r="3.7"/><circle cx="414" cy="256" r="3.7"/><circle cx="538" cy="321" r="3.7"/><circle cx="438" cy="335" r="3.7"/><circle cx="503" cy="345" r="3.7"/><circle cx="285" cy="145" r="3.7"/><circle cx="580" cy="349" r="3.7"/><circle cx="519" cy="334" r="3.7"/><circle cx="557" cy="483" r="3.7"/><circle cx="792" cy="750" r="3.7"/><circle cx="349" cy="384" r="3.7"/><circle cx="447" cy="808" r="3.7"/><circle cx="430" cy="254" r="3.7"/><circle cx="467" cy="383" r="3.7"/><circle cx="286" cy="243" r="3.7"/><circle cx="487" cy="520" r="3.7"/><circle cx="844" cy="852" r="3.7"/><circle cx="866" cy="760" r="3.7"/><circle cx="529" cy="412" r="3.7"/><circle cx="460" cy="492" r="3.7"/><circle cx="499" cy="916" r="3.7"/><circle cx="544" cy="425" r="3.7"/><circle cx="347" cy="143" r="3.7"/><circle cx="352" cy="197" r="3.7"/><circle cx="471" cy="505" r="3.7"/><circle cx="355" cy="159" r="3.7"/><circle cx="281" cy="207" r="3.7"/><circle cx="721" cy="389" r="3.7"/><circle cx="560" cy="424" r="3.7"/><circle cx="561" cy="624" r="3.7"/><circle cx="574" cy="512" r="3.7"/><circle cx="548" cy="362" r="3.7"/><circle cx="258" cy="167" r="3.7"/><circle cx="578" cy="580" r="3.7"/><circle cx="541" cy="761" r="3.7"/><circle cx="497" cy="527" r="3.7"/><circle cx="545" cy="430" r="3.7"/><circle cx="327" cy="184" r="3.7"/><circle cx="717" cy="660" r="3.7"/><circle cx="651" cy="601" r="3.7"/><circle cx="612" cy="522" r="3.7"/><circle cx="511" cy="479" r="3.7"/><circle cx="594" cy="728" r="3.7"/><circle cx="541" cy="499" r="3.7"/><circle cx="547" cy="853" r="3.7"/><circle cx="675" cy="750" r="3.7"/><circle cx="303" cy="182" r="3.7"/><circle cx="590" cy="215" r="3.7"/><circle cx="251" cy="187" r="3.7"/><circle cx="322" cy="135" r="3.7"/><circle cx="675" cy="763" r="3.7"/><circle cx="574" cy="814" r="3.7"/><circle cx="370" cy="214" r="3.7"/><circle cx="666" cy="957" r="3.7"/><circle cx="508" cy="559" r="3.7"/><circle cx="545" cy="767" r="3.7"/><circle cx="412" cy="497" r="3.7"/><circle cx="711" cy="471" r="3.7"/><circle cx="244" cy="96" r="3.7"/><circle cx="799" cy="778" r="3.7"/><circle cx="205" cy="146" r="3.7"/><circle cx="281" cy="214" r="3.7"/><circle cx="436" cy="263" r="3.7"/><circle cx="431" cy="260" r="3.7"/><circle cx="731" cy="255" r="3.7"/><circle cx="390" cy="155" r="3.7"/><circle cx="397" cy="275" r="3.7"/><circle cx="324" cy="232" r="3.7"/><circle cx="481" cy="309" r="3.7"/><circle cx="585" cy="619" r="3.7"/><circle cx="411" cy="186" r="3.7"/><circle cx="884" cy="755" r="3.7"/><circle cx="491" cy="223" r="3.7"/><circle cx="809" cy="738" r="3.7"/><circle cx="609" cy="422" r="3.7"/><circle cx="608" cy="680" r="3.7"/><circle cx="412" cy="234" r="3.7"/><circle cx="512" cy="695" r="3.7"/><circle cx="506" cy="466" r="3.7"/><circle cx="410" cy="277" r="3.7"/><circle cx="552" cy="747" r="3.7"/><circle cx="343" cy="209" r="3.7"/><circle cx="713" cy="845" r="3.7"/><circle cx="446" cy="332" r="3.7"/><circle cx="599" cy="752" r="3.7"/><circle cx="394" cy="870" r="3.7"/><circle cx="457" cy="358" r="3.7"/><circle cx="510" cy="645" r="3.7"/><circle cx="668" cy="744" r="3.7"/><circle cx="651" cy="668" r="3.7"/><circle cx="720" cy="352" r="3.7"/><circle cx="307" cy="348" r="3.7"/><circle cx="534" cy="578" r="3.7"/><circle cx="367" cy="189" r="3.7"/><circle cx="408" cy="244" r="3.7"/><circle cx="362" cy="154" r="3.7"/><circle cx="415" cy="223" r="3.7"/><circle cx="507" cy="394" r="3.7"/><circle cx="634" cy="707" r="3.7"/><circle cx="636" cy="980" r="3.7"/><circle cx="750" cy="726" r="3.7"/><circle cx="613" cy="538" r="3.7"/><circle cx="465" cy="458" r="3.7"/><circle cx="459" cy="590" r="3.7"/><circle cx="226" cy="146" r="3.7"/><circle cx="541" cy="572" r="3.7"/><circle cx="655" cy="805" r="3.7"/><circle cx="527" cy="622" r="3.7"/><circle cx="636" cy="965" r="3.7"/><circle cx="567" cy="567" r="3.7"/><circle cx="522" cy="683" r="3.7"/><circle cx="201" cy="211" r="3.7"/><circle cx="559" cy="563" r="3.7"/><circle cx="506" cy="469" r="3.7"/><circle cx="397" cy="165" r="3.7"/><circle cx="470" cy="565" r="3.7"/><circle cx="518" cy="263" r="3.7"/><circle cx="414" cy="251" r="3.7"/><circle cx="528" cy="481" r="3.7"/><circle cx="526" cy="546" r="3.7"/><circle cx="489" cy="333" r="3.7"/><circle cx="509" cy="666" r="3.7"/><circle cx="764" cy="940" r="3.7"/><circle cx="348" cy="188" r="3.7"/><circle cx="326" cy="166" r="3.7"/><circle cx="654" cy="711" r="3.7"/><circle cx="446" cy="182" r="3.7"/><circle cx="490" cy="555" r="3.7"/><circle cx="545" cy="689" r="3.7"/><circle cx="449" cy="514" r="3.7"/><circle cx="532" cy="400" r="3.7"/><circle cx="510" cy="596" r="3.7"/><circle cx="658" cy="722" r="3.7"/><circle cx="519" cy="717" r="3.7"/><circle cx="577" cy="270" r="3.7"/><circle cx="330" cy="211" r="3.7"/><circle cx="450" cy="437" r="3.7"/><circle cx="615" cy="541" r="3.7"/><circle cx="687" cy="343" r="3.7"/><circle cx="449" cy="478" r="3.7"/><circle cx="365" cy="196" r="3.7"/><circle cx="393" cy="255" r="3.7"/><circle cx="507" cy="369" r="3.7"/><circle cx="539" cy="618" r="3.7"/><circle cx="286" cy="226" r="3.7"/><circle cx="598" cy="334" r="3.7"/><circle cx="483" cy="325" r="3.7"/><circle cx="365" cy="255" r="3.7"/><circle cx="519" cy="431" r="3.7"/><circle cx="491" cy="465" r="3.7"/><circle cx="646" cy="661" r="3.7"/><circle cx="264" cy="146" r="3.7"/><circle cx="792" cy="655" r="3.7"/><circle cx="499" cy="337" r="3.7"/><circle cx="547" cy="541" r="3.7"/><circle cx="491" cy="908" r="3.7"/><circle cx="559" cy="817" r="3.7"/><circle cx="453" cy="758" r="3.7"/><circle cx="557" cy="218" r="3.7"/><circle cx="513" cy="419" r="3.7"/><circle cx="497" cy="609" r="3.7"/><circle cx="544" cy="855" r="3.7"/><circle cx="739" cy="488" r="3.7"/><circle cx="304" cy="233" r="3.7"/><circle cx="582" cy="787" r="3.7"/><circle cx="477" cy="492" r="3.7"/><circle cx="461" cy="309" r="3.7"/><circle cx="543" cy="427" r="3.7"/><circle cx="630" cy="760" r="3.7"/><circle cx="635" cy="669" r="3.7"/><circle cx="567" cy="527" r="3.7"/><circle cx="629" cy="771" r="3.7"/><circle cx="451" cy="245" r="3.7"/><circle cx="524" cy="418" r="3.7"/><circle cx="252" cy="163" r="3.7"/><circle cx="684" cy="630" r="3.7"/><circle cx="602" cy="887" r="3.7"/><circle cx="803" cy="709" r="3.7"/><circle cx="301" cy="142" r="3.7"/><circle cx="626" cy="599" r="3.7"/><circle cx="248" cy="171" r="3.7"/><circle cx="545" cy="586" r="3.7"/><circle cx="547" cy="309" r="3.7"/><circle cx="625" cy="309" r="3.7"/><circle cx="500" cy="588" r="3.7"/><circle cx="520" cy="347" r="3.7"/><circle cx="586" cy="676" r="3.7"/><circle cx="537" cy="284" r="3.7"/><circle cx="576" cy="302" r="3.7"/><circle cx="501" cy="344" r="3.7"/><circle cx="426" cy="214" r="3.7"/><circle cx="508" cy="531" r="3.7"/><circle cx="588" cy="608" r="3.7"/><circle cx="500" cy="469" r="3.7"/><circle cx="586" cy="379" r="3.7"/><circle cx="472" cy="814" r="3.7"/><circle cx="659" cy="447" r="3.7"/><circle cx="562" cy="867" r="3.7"/><circle cx="388" cy="306" r="3.7"/><circle cx="686" cy="891" r="3.7"/><circle cx="471" cy="426" r="3.7"/><circle cx="423" cy="476" r="3.7"/><circle cx="542" cy="319" r="3.7"/><circle cx="351" cy="268" r="3.7"/><circle cx="498" cy="312" r="3.7"/><circle cx="620" cy="422" r="3.7"/><circle cx="501" cy="464" r="3.7"/><circle cx="540" cy="439" r="3.7"/><circle cx="526" cy="540" r="3.7"/><circle cx="514" cy="486" r="3.7"/><circle cx="600" cy="440" r="3.7"/><circle cx="338" cy="241" r="3.7"/><circle cx="502" cy="253" r="3.7"/><circle cx="571" cy="285" r="3.7"/><circle cx="716" cy="482" r="3.7"/><circle cx="691" cy="863" r="3.7"/><circle cx="541" cy="953" r="3.7"/><circle cx="632" cy="514" r="3.7"/><circle cx="495" cy="559" r="3.7"/><circle cx="392" cy="289" r="3.7"/><circle cx="583" cy="415" r="3.7"/><circle cx="424" cy="243" r="3.7"/><circle cx="566" cy="427" r="3.7"/><circle cx="476" cy="576" r="3.7"/><circle cx="556" cy="550" r="3.7"/><circle cx="650" cy="646" r="3.7"/><circle cx="336" cy="223" r="3.7"/><circle cx="570" cy="696" r="3.7"/><circle cx="444" cy="339" r="3.7"/><circle cx="515" cy="739" r="3.7"/><circle cx="326" cy="229" r="3.7"/><circle cx="655" cy="677" r="3.7"/><circle cx="453" cy="527" r="3.7"/><circle cx="565" cy="785" r="3.7"/><circle cx="305" cy="148" r="3.7"/><circle cx="259" cy="222" r="3.7"/><circle cx="560" cy="760" r="3.7"/><circle cx="374" cy="212" r="3.7"/><circle cx="559" cy="764" r="3.7"/><circle cx="522" cy="450" r="3.7"/><circle cx="434" cy="575" r="3.7"/><circle cx="640" cy="568" r="3.7"/><circle cx="455" cy="813" r="3.7"/><circle cx="599" cy="627" r="3.7"/><circle cx="485" cy="203" r="3.7"/><circle cx="552" cy="384" r="3.7"/><circle cx="646" cy="968" r="3.7"/><circle cx="534" cy="505" r="3.7"/><circle cx="489" cy="712" r="3.7"/><circle cx="497" cy="675" r="3.7"/><circle cx="468" cy="384" r="3.7"/><circle cx="442" cy="739" r="3.7"/><circle cx="591" cy="630" r="3.7"/><circle cx="519" cy="780" r="3.7"/><circle cx="535" cy="452" r="3.7"/><circle cx="660" cy="683" r="3.7"/><circle cx="545" cy="587" r="3.7"/><circle cx="402" cy="194" r="3.7"/><circle cx="601" cy="718" r="3.7"/><circle cx="317" cy="212" r="3.7"/><circle cx="589" cy="543" r="3.7"/><circle cx="327" cy="248" r="3.7"/><circle cx="437" cy="240" r="3.7"/><circle cx="743" cy="527" r="3.7"/><circle cx="511" cy="427" r="3.7"/><circle cx="413" cy="283" r="3.7"/><circle cx="399" cy="373" r="3.7"/><circle cx="651" cy="363" r="3.7"/><circle cx="439" cy="428" r="3.7"/><circle cx="543" cy="620" r="3.7"/><circle cx="348" cy="389" r="3.7"/><circle cx="560" cy="443" r="3.7"/><circle cx="341" cy="206" r="3.7"/><circle cx="565" cy="679" r="3.7"/><circle cx="433" cy="186" r="3.7"/><circle cx="524" cy="223" r="3.7"/><circle cx="444" cy="263" r="3.7"/><circle cx="590" cy="885" r="3.7"/><circle cx="626" cy="655" r="3.7"/><circle cx="145" cy="143" r="3.7"/><circle cx="440" cy="459" r="3.7"/><circle cx="582" cy="465" r="3.7"/><circle cx="539" cy="408" r="3.7"/><circle cx="388" cy="276" r="3.7"/><circle cx="541" cy="455" r="3.7"/><circle cx="551" cy="461" r="3.7"/><circle cx="549" cy="441" r="3.7"/><circle cx="438" cy="200" r="3.7"/><circle cx="418" cy="260" r="3.7"/><circle cx="664" cy="655" r="3.7"/><circle cx="565" cy="469" r="3.7"/><circle cx="585" cy="554" r="3.7"/><circle cx="621" cy="644" r="3.7"/><circle cx="342" cy="387" r="3.7"/><circle cx="574" cy="590" r="3.7"/><circle cx="508" cy="617" r="3.7"/><circle cx="367" cy="272" r="3.7"/><circle cx="582" cy="436" r="3.7"/><circle cx="506" cy="446" r="3.7"/><circle cx="585" cy="714" r="3.7"/><circle cx="626" cy="812" r="3.7"/><circle cx="697" cy="518" r="3.7"/><circle cx="398" cy="439" r="3.7"/><circle cx="264" cy="178" r="3.7"/><circle cx="591" cy="638" r="3.7"/><circle cx="564" cy="753" r="3.7"/><circle cx="527" cy="529" r="3.7"/><circle cx="167" cy="138" r="3.7"/><circle cx="326" cy="143" r="3.7"/><circle cx="514" cy="460" r="3.7"/><circle cx="377" cy="183" r="3.7"/><circle cx="518" cy="403" r="3.7"/><circle cx="519" cy="533" r="3.7"/><circle cx="287" cy="215" r="3.7"/><circle cx="459" cy="238" r="3.7"/><circle cx="479" cy="566" r="3.7"/><circle cx="532" cy="495" r="3.7"/><circle cx="501" cy="445" r="3.7"/><circle cx="534" cy="588" r="3.7"/><circle cx="463" cy="230" r="3.7"/><circle cx="401" cy="177" r="3.7"/><circle cx="839" cy="880" r="3.7"/><circle cx="345" cy="206" r="3.7"/><circle cx="431" cy="444" r="3.7"/><circle cx="337" cy="156" r="3.7"/><circle cx="552" cy="522" r="3.7"/><circle cx="552" cy="401" r="3.7"/><circle cx="353" cy="230" r="3.7"/><circle cx="642" cy="577" r="3.7"/><circle cx="332" cy="786" r="3.7"/><circle cx="549" cy="502" r="3.7"/><circle cx="470" cy="775" r="3.7"/><circle cx="463" cy="226" r="3.7"/><circle cx="690" cy="281" r="3.7"/><circle cx="335" cy="158" r="3.7"/><circle cx="247" cy="210" r="3.7"/><circle cx="497" cy="616" r="3.7"/><circle cx="592" cy="644" r="3.7"/><circle cx="667" cy="277" r="3.7"/><circle cx="377" cy="234" r="3.7"/><circle cx="444" cy="408" r="3.7"/><circle cx="376" cy="233" r="3.7"/><circle cx="568" cy="231" r="3.7"/><circle cx="541" cy="506" r="3.7"/><circle cx="514" cy="900" r="3.7"/><circle cx="333" cy="252" r="3.7"/><circle cx="559" cy="348" r="3.7"/><circle cx="772" cy="600" r="3.7"/><circle cx="539" cy="404" r="3.7"/><circle cx="500" cy="402" r="3.7"/><circle cx="494" cy="621" r="3.7"/><circle cx="573" cy="630" r="3.7"/><circle cx="614" cy="839" r="3.7"/><circle cx="551" cy="743" r="3.7"/><circle cx="566" cy="394" r="3.7"/><circle cx="559" cy="331" r="3.7"/><circle cx="651" cy="883" r="3.7"/><circle cx="644" cy="660" r="3.7"/><circle cx="496" cy="402" r="3.7"/><circle cx="230" cy="179" r="3.7"/><circle cx="612" cy="533" r="3.7"/><circle cx="578" cy="429" r="3.7"/><circle cx="531" cy="651" r="3.7"/><circle cx="262" cy="155" r="3.7"/><circle cx="602" cy="606" r="3.7"/><circle cx="376" cy="207" r="3.7"/><circle cx="500" cy="647" r="3.7"/><circle cx="765" cy="299" r="3.7"/><circle cx="524" cy="248" r="3.7"/><circle cx="514" cy="604" r="3.7"/><circle cx="435" cy="309" r="3.7"/><circle cx="792" cy="924" r="3.7"/><circle cx="483" cy="218" r="3.7"/><circle cx="633" cy="531" r="3.7"/><circle cx="575" cy="521" r="3.7"/><circle cx="615" cy="714" r="3.7"/><circle cx="521" cy="392" r="3.7"/><circle cx="679" cy="389" r="3.7"/><circle cx="626" cy="355" r="3.7"/><circle cx="620" cy="563" r="3.7"/><circle cx="552" cy="259" r="3.7"/><circle cx="646" cy="367" r="3.7"/><circle cx="449" cy="335" r="3.7"/><circle cx="488" cy="579" r="3.7"/><circle cx="534" cy="520" r="3.7"/><circle cx="592" cy="281" r="3.7"/><circle cx="404" cy="388" r="3.7"/><circle cx="466" cy="673" r="3.7"/><circle cx="316" cy="132" r="3.7"/><circle cx="542" cy="575" r="3.7"/><circle cx="250" cy="180" r="3.7"/><circle cx="371" cy="250" r="3.7"/><circle cx="427" cy="253" r="3.7"/><circle cx="355" cy="215" r="3.7"/><circle cx="530" cy="598" r="3.7"/><circle cx="696" cy="393" r="3.7"/><circle cx="669" cy="801" r="3.7"/><circle cx="459" cy="428" r="3.7"/><circle cx="567" cy="571" r="3.7"/><circle cx="578" cy="315" r="3.7"/><circle cx="529" cy="518" r="3.7"/><circle cx="842" cy="433" r="3.7"/><circle cx="558" cy="279" r="3.7"/><circle cx="287" cy="202" r="3.7"/><circle cx="472" cy="526" r="3.7"/><circle cx="496" cy="307" r="3.7"/><circle cx="532" cy="565" r="3.7"/><circle cx="710" cy="893" r="3.7"/><circle cx="598" cy="318" r="3.7"/><circle cx="701" cy="722" r="3.7"/><circle cx="707" cy="340" r="3.7"/><circle cx="528" cy="319" r="3.7"/><circle cx="513" cy="430" r="3.7"/><circle cx="696" cy="728" r="3.7"/><circle cx="352" cy="240" r="3.7"/><circle cx="265" cy="148" r="3.7"/><circle cx="482" cy="347" r="3.7"/><circle cx="413" cy="381" r="3.7"/><circle cx="488" cy="341" r="3.7"/><circle cx="364" cy="369" r="3.7"/><circle cx="738" cy="840" r="3.7"/><circle cx="150" cy="174" r="3.7"/><circle cx="374" cy="222" r="3.7"/><circle cx="622" cy="817" r="3.7"/><circle cx="476" cy="629" r="3.7"/><circle cx="229" cy="234" r="3.7"/><circle cx="466" cy="261" r="3.7"/><circle cx="582" cy="411" r="3.7"/><circle cx="408" cy="217" r="3.7"/><circle cx="264" cy="183" r="3.7"/><circle cx="472" cy="598" r="3.7"/><circle cx="486" cy="431" r="3.7"/><circle cx="625" cy="617" r="3.7"/><circle cx="611" cy="757" r="3.7"/><circle cx="501" cy="467" r="3.7"/><circle cx="223" cy="193" r="3.7"/><circle cx="503" cy="325" r="3.7"/><circle cx="549" cy="589" r="3.7"/><circle cx="339" cy="304" r="3.7"/><circle cx="558" cy="586" r="3.7"/><circle cx="685" cy="668" r="3.7"/><circle cx="576" cy="715" r="3.7"/><circle cx="604" cy="377" r="3.7"/><circle cx="524" cy="226" r="3.7"/><circle cx="569" cy="759" r="3.7"/><circle cx="733" cy="763" r="3.7"/><circle cx="691" cy="632" r="3.7"/><circle cx="424" cy="861" r="3.7"/><circle cx="698" cy="342" r="3.7"/><circle cx="513" cy="492" r="3.7"/><circle cx="473" cy="461" r="3.7"/><circle cx="554" cy="748" r="3.7"/><circle cx="443" cy="293" r="3.7"/><circle cx="475" cy="260" r="3.7"/><circle cx="550" cy="407" r="3.7"/><circle cx="578" cy="457" r="3.7"/><circle cx="409" cy="171" r="3.7"/><circle cx="535" cy="416" r="3.7"/><circle cx="618" cy="591" r="3.7"/><circle cx="434" cy="483" r="3.7"/><circle cx="319" cy="298" r="3.7"/><circle cx="535" cy="483" r="3.7"/><circle cx="474" cy="383" r="3.7"/><circle cx="515" cy="655" r="3.7"/><circle cx="558" cy="407" r="3.7"/><circle cx="501" cy="526" r="3.7"/><circle cx="734" cy="682" r="3.7"/><circle cx="482" cy="433" r="3.7"/><circle cx="421" cy="211" r="3.7"/><circle cx="623" cy="611" r="3.7"/><circle cx="563" cy="236" r="3.7"/><circle cx="488" cy="389" r="3.7"/><circle cx="495" cy="429" r="3.7"/><circle cx="487" cy="327" r="3.7"/><circle cx="444" cy="259" r="3.7"/><circle cx="429" cy="372" r="3.7"/><circle cx="527" cy="432" r="3.7"/><circle cx="677" cy="856" r="3.7"/><circle cx="557" cy="321" r="3.7"/><circle cx="618" cy="463" r="3.7"/><circle cx="601" cy="621" r="3.7"/><circle cx="478" cy="246" r="3.7"/><circle cx="772" cy="812" r="3.7"/><circle cx="582" cy="784" r="3.7"/><circle cx="347" cy="197" r="3.7"/><circle cx="799" cy="538" r="3.7"/><circle cx="457" cy="786" r="3.7"/><circle cx="535" cy="460" r="3.7"/><circle cx="415" cy="267" r="3.7"/><circle cx="474" cy="598" r="3.7"/><circle cx="386" cy="356" r="3.7"/><circle cx="450" cy="362" r="3.7"/><circle cx="515" cy="735" r="3.7"/><circle cx="632" cy="584" r="3.7"/><circle cx="572" cy="560" r="3.7"/><circle cx="513" cy="359" r="3.7"/><circle cx="549" cy="366" r="3.7"/><circle cx="375" cy="209" r="3.7"/><circle cx="600" cy="763" r="3.7"/><circle cx="422" cy="201" r="3.7"/><circle cx="573" cy="510" r="3.7"/><circle cx="383" cy="240" r="3.7"/><circle cx="281" cy="148" r="3.7"/><circle cx="614" cy="666" r="3.7"/><circle cx="367" cy="132" r="3.7"/><circle cx="386" cy="245" r="3.7"/><circle cx="557" cy="303" r="3.7"/><circle cx="541" cy="399" r="3.7"/><circle cx="547" cy="420" r="3.7"/><circle cx="494" cy="259" r="3.7"/><circle cx="465" cy="473" r="3.7"/><circle cx="562" cy="619" r="3.7"/><circle cx="518" cy="593" r="3.7"/><circle cx="577" cy="334" r="3.7"/><circle cx="486" cy="318" r="3.7"/><circle cx="480" cy="512" r="3.7"/><circle cx="730" cy="925" r="3.7"/><circle cx="530" cy="510" r="3.7"/><circle cx="733" cy="964" r="3.7"/><circle cx="503" cy="754" r="3.7"/><circle cx="340" cy="204" r="3.7"/><circle cx="606" cy="394" r="3.7"/><circle cx="489" cy="422" r="3.7"/><circle cx="371" cy="218" r="3.7"/><circle cx="499" cy="351" r="3.7"/><circle cx="280" cy="161" r="3.7"/><circle cx="564" cy="541" r="3.7"/><circle cx="604" cy="285" r="3.7"/><circle cx="361" cy="253" r="3.7"/><circle cx="501" cy="590" r="3.7"/><circle cx="354" cy="231" r="3.7"/><circle cx="543" cy="645" r="3.7"/><circle cx="587" cy="494" r="3.7"/><circle cx="451" cy="285" r="3.7"/><circle cx="710" cy="894" r="3.7"/><circle cx="484" cy="234" r="3.7"/><circle cx="445" cy="385" r="3.7"/><circle cx="575" cy="581" r="3.7"/><circle cx="558" cy="454" r="3.7"/><circle cx="640" cy="624" r="3.7"/><circle cx="689" cy="933" r="3.7"/><circle cx="590" cy="548" r="3.7"/><circle cx="749" cy="933" r="3.7"/><circle cx="756" cy="498" r="3.7"/><circle cx="453" cy="370" r="3.7"/><circle cx="327" cy="210" r="3.7"/><circle cx="351" cy="275" r="3.7"/><circle cx="719" cy="665" r="3.7"/><circle cx="571" cy="868" r="3.7"/><circle cx="474" cy="342" r="3.7"/><circle cx="676" cy="622" r="3.7"/><circle cx="316" cy="228" r="3.7"/><circle cx="266" cy="209" r="3.7"/><circle cx="528" cy="308" r="3.7"/><circle cx="488" cy="886" r="3.7"/><circle cx="529" cy="763" r="3.7"/><circle cx="563" cy="279" r="3.7"/><circle cx="487" cy="500" r="3.7"/><circle cx="517" cy="495" r="3.7"/><circle cx="629" cy="528" r="3.7"/><circle cx="657" cy="872" r="3.7"/><circle cx="433" cy="241" r="3.7"/><circle cx="568" cy="380" r="3.7"/><circle cx="519" cy="457" r="3.7"/><circle cx="425" cy="522" r="3.7"/><circle cx="324" cy="165" r="3.7"/><circle cx="512" cy="469" r="3.7"/><circle cx="531" cy="540" r="3.7"/><circle cx="535" cy="717" r="3.7"/><circle cx="582" cy="271" r="3.7"/><circle cx="565" cy="965" r="3.7"/><circle cx="316" cy="258" r="3.7"/><circle cx="439" cy="425" r="3.7"/><circle cx="445" cy="428" r="3.7"/><circle cx="324" cy="168" r="3.7"/><circle cx="332" cy="166" r="3.7"/><circle cx="534" cy="865" r="3.7"/><circle cx="419" cy="237" r="3.7"/><circle cx="610" cy="621" r="3.7"/><circle cx="540" cy="476" r="3.7"/><circle cx="512" cy="330" r="3.7"/><circle cx="626" cy="661" r="3.7"/><circle cx="378" cy="192" r="3.7"/><circle cx="542" cy="333" r="3.7"/><circle cx="481" cy="670" r="3.7"/><circle cx="833" cy="585" r="3.7"/><circle cx="492" cy="350" r="3.7"/><circle cx="507" cy="454" r="3.7"/><circle cx="501" cy="348" r="3.7"/><circle cx="685" cy="300" r="3.7"/><circle cx="555" cy="745" r="3.7"/><circle cx="558" cy="303" r="3.7"/><circle cx="443" cy="374" r="3.7"/><circle cx="610" cy="423" r="3.7"/><circle cx="661" cy="685" r="3.7"/><circle cx="487" cy="320" r="3.7"/><circle cx="709" cy="884" r="3.7"/><circle cx="393" cy="218" r="3.7"/><circle cx="479" cy="379" r="3.7"/><circle cx="589" cy="685" r="3.7"/><circle cx="612" cy="630" r="3.7"/><circle cx="542" cy="728" r="3.7"/><circle cx="501" cy="715" r="3.7"/><circle cx="270" cy="245" r="3.7"/><circle cx="666" cy="794" r="3.7"/><circle cx="465" cy="295" r="3.7"/><circle cx="630" cy="939" r="3.7"/><circle cx="387" cy="181" r="3.7"/><circle cx="412" cy="265" r="3.7"/><circle cx="466" cy="235" r="3.7"/><circle cx="417" cy="134" r="3.7"/><circle cx="604" cy="599" r="3.7"/><circle cx="595" cy="675" r="3.7"/><circle cx="410" cy="208" r="3.7"/><circle cx="801" cy="379" r="3.7"/><circle cx="344" cy="235" r="3.7"/><circle cx="535" cy="498" r="3.7"/><circle cx="477" cy="498" r="3.7"/><circle cx="598" cy="403" r="3.7"/><circle cx="739" cy="668" r="3.7"/><circle cx="633" cy="666" r="3.7"/><circle cx="571" cy="791" r="3.7"/><circle cx="493" cy="546" r="3.7"/><circle cx="551" cy="469" r="3.7"/><circle cx="429" cy="223" r="3.7"/><circle cx="667" cy="834" r="3.7"/><circle cx="748" cy="816" r="3.7"/><circle cx="334" cy="261" r="3.7"/><circle cx="652" cy="843" r="3.7"/><circle cx="371" cy="267" r="3.7"/><circle cx="485" cy="456" r="3.7"/><circle cx="586" cy="331" r="3.7"/><circle cx="476" cy="309" r="3.7"/><circle cx="739" cy="781" r="3.7"/><circle cx="440" cy="231" r="3.7"/><circle cx="522" cy="471" r="3.7"/><circle cx="338" cy="192" r="3.7"/><circle cx="291" cy="191" r="3.7"/><circle cx="462" cy="226" r="3.7"/><circle cx="382" cy="241" r="3.7"/><circle cx="465" cy="237" r="3.7"/><circle cx="649" cy="844" r="3.7"/><circle cx="459" cy="432" r="3.7"/><circle cx="277" cy="192" r="3.7"/><circle cx="441" cy="547" r="3.7"/><circle cx="567" cy="483" r="3.7"/><circle cx="466" cy="501" r="3.7"/><circle cx="268" cy="238" r="3.7"/><circle cx="463" cy="362" r="3.7"/><circle cx="657" cy="737" r="3.7"/><circle cx="552" cy="328" r="3.7"/><circle cx="532" cy="524" r="3.7"/><circle cx="488" cy="824" r="3.7"/><circle cx="334" cy="220" r="3.7"/><circle cx="521" cy="556" r="3.7"/><circle cx="152" cy="426" r="3.7"/><circle cx="428" cy="251" r="3.7"/><circle cx="408" cy="166" r="3.7"/><circle cx="518" cy="918" r="3.7"/><circle cx="658" cy="286" r="3.7"/><circle cx="635" cy="414" r="3.7"/><circle cx="458" cy="198" r="3.7"/><circle cx="421" cy="379" r="3.7"/><circle cx="465" cy="642" r="3.7"/><circle cx="839" cy="580" r="3.7"/><circle cx="335" cy="255" r="3.7"/><circle cx="544" cy="420" r="3.7"/><circle cx="569" cy="570" r="3.7"/><circle cx="857" cy="542" r="3.7"/><circle cx="354" cy="390" r="3.7"/><circle cx="376" cy="255" r="3.7"/><circle cx="531" cy="265" r="3.7"/><circle cx="466" cy="460" r="3.7"/><circle cx="160" cy="121" r="3.7"/><circle cx="459" cy="388" r="3.7"/><circle cx="289" cy="200" r="3.7"/><circle cx="489" cy="344" r="3.7"/><circle cx="679" cy="600" r="3.7"/><circle cx="529" cy="369" r="3.7"/><circle cx="449" cy="380" r="3.7"/><circle cx="576" cy="571" r="3.7"/><circle cx="251" cy="190" r="3.7"/><circle cx="594" cy="573" r="3.7"/><circle cx="474" cy="225" r="3.7"/><circle cx="457" cy="265" r="3.7"/><circle cx="369" cy="237" r="3.7"/><circle cx="503" cy="608" r="3.7"/><circle cx="315" cy="223" r="3.7"/><circle cx="484" cy="700" r="3.7"/><circle cx="649" cy="584" r="3.7"/><circle cx="575" cy="980" r="3.7"/><circle cx="595" cy="558" r="3.7"/><circle cx="405" cy="369" r="3.7"/><circle cx="462" cy="866" r="3.7"/><circle cx="571" cy="731" r="3.7"/><circle cx="592" cy="688" r="3.7"/><circle cx="336" cy="200" r="3.7"/><circle cx="432" cy="621" r="3.7"/><circle cx="315" cy="230" r="3.7"/><circle cx="478" cy="268" r="3.7"/><circle cx="510" cy="335" r="3.7"/><circle cx="324" cy="160" r="3.7"/><circle cx="469" cy="819" r="3.7"/><circle cx="539" cy="483" r="3.7"/><circle cx="507" cy="439" r="3.7"/><circle cx="310" cy="311" r="3.7"/><circle cx="378" cy="287" r="3.7"/><circle cx="530" cy="963" r="3.7"/><circle cx="410" cy="322" r="3.7"/><circle cx="511" cy="281" r="3.7"/><circle cx="663" cy="921" r="3.7"/><circle cx="506" cy="709" r="3.7"/><circle cx="396" cy="200" r="3.7"/><circle cx="399" cy="287" r="3.7"/><circle cx="478" cy="501" r="3.7"/><circle cx="582" cy="340" r="3.7"/><circle cx="644" cy="290" r="3.7"/><circle cx="445" cy="396" r="3.7"/><circle cx="756" cy="789" r="3.7"/><circle cx="497" cy="588" r="3.7"/><circle cx="536" cy="532" r="3.7"/><circle cx="249" cy="357" r="3.7"/><circle cx="499" cy="819" r="3.7"/><circle cx="439" cy="318" r="3.7"/><circle cx="333" cy="120" r="3.7"/><circle cx="755" cy="710" r="3.7"/><circle cx="456" cy="289" r="3.7"/><circle cx="270" cy="161" r="3.7"/><circle cx="230" cy="133" r="3.7"/><circle cx="692" cy="956" r="3.7"/><circle cx="622" cy="896" r="3.7"/><circle cx="469" cy="830" r="3.7"/><circle cx="375" cy="304" r="3.7"/><circle cx="469" cy="267" r="3.7"/><circle cx="353" cy="282" r="3.7"/><circle cx="371" cy="218" r="3.7"/><circle cx="389" cy="186" r="3.7"/><circle cx="278" cy="200" r="3.7"/><circle cx="576" cy="318" r="3.7"/><circle cx="601" cy="878" r="3.7"/><circle cx="359" cy="284" r="3.7"/><circle cx="743" cy="856" r="3.7"/><circle cx="530" cy="652" r="3.7"/><circle cx="760" cy="914" r="3.7"/><circle cx="497" cy="511" r="3.7"/><circle cx="517" cy="153" r="3.7"/><circle cx="548" cy="481" r="3.7"/><circle cx="319" cy="190" r="3.7"/><circle cx="560" cy="434" r="3.7"/><circle cx="546" cy="411" r="3.7"/><circle cx="567" cy="621" r="3.7"/><circle cx="417" cy="372" r="3.7"/><circle cx="521" cy="701" r="3.7"/><circle cx="559" cy="526" r="3.7"/><circle cx="662" cy="602" r="3.7"/><circle cx="594" cy="311" r="3.7"/><circle cx="557" cy="479" r="3.7"/><circle cx="533" cy="295" r="3.7"/><circle cx="380" cy="207" r="3.7"/><circle cx="325" cy="152" r="3.7"/><circle cx="481" cy="479" r="3.7"/><circle cx="552" cy="564" r="3.7"/><circle cx="515" cy="563" r="3.7"/><circle cx="544" cy="361" r="3.7"/><circle cx="631" cy="657" r="3.7"/><circle cx="221" cy="214" r="3.7"/><circle cx="524" cy="725" r="3.7"/><circle cx="565" cy="762" r="3.7"/><circle cx="446" cy="516" r="3.7"/><circle cx="349" cy="368" r="3.7"/><circle cx="356" cy="232" r="3.7"/><circle cx="472" cy="244" r="3.7"/><circle cx="656" cy="501" r="3.7"/><circle cx="266" cy="327" r="3.7"/><circle cx="563" cy="714" r="3.7"/><circle cx="259" cy="213" r="3.7"/><circle cx="527" cy="349" r="3.7"/><circle cx="572" cy="610" r="3.7"/><circle cx="556" cy="587" r="3.7"/><circle cx="503" cy="426" r="3.7"/><circle cx="465" cy="639" r="3.7"/><circle cx="471" cy="411" r="3.7"/><circle cx="555" cy="530" r="3.7"/><circle cx="443" cy="346" r="3.7"/><circle cx="578" cy="494" r="3.7"/><circle cx="516" cy="478" r="3.7"/><circle cx="532" cy="509" r="3.7"/><circle cx="535" cy="251" r="3.7"/><circle cx="458" cy="735" r="3.7"/><circle cx="501" cy="552" r="3.7"/><circle cx="463" cy="276" r="3.7"/><circle cx="825" cy="686" r="3.7"/><circle cx="502" cy="431" r="3.7"/><circle cx="576" cy="460" r="3.7"/><circle cx="378" cy="342" r="3.7"/><circle cx="522" cy="895" r="3.7"/><circle cx="597" cy="560" r="3.7"/><circle cx="481" cy="302" r="3.7"/><circle cx="502" cy="291" r="3.7"/><circle cx="547" cy="465" r="3.7"/><circle cx="665" cy="262" r="3.7"/><circle cx="449" cy="205" r="3.7"/><circle cx="313" cy="163" r="3.7"/><circle cx="542" cy="431" r="3.7"/><circle cx="583" cy="541" r="3.7"/><circle cx="730" cy="744" r="3.7"/><circle cx="395" cy="244" r="3.7"/><circle cx="701" cy="467" r="3.7"/><circle cx="475" cy="347" r="3.7"/><circle cx="499" cy="622" r="3.7"/><circle cx="563" cy="753" r="3.7"/><circle cx="462" cy="307" r="3.7"/><circle cx="552" cy="732" r="3.7"/><circle cx="934" cy="841" r="3.7"/><circle cx="898" cy="792" r="3.7"/><circle cx="582" cy="313" r="3.7"/><circle cx="495" cy="145" r="3.7"/><circle cx="412" cy="279" r="3.7"/><circle cx="499" cy="555" r="3.7"/><circle cx="492" cy="606" r="3.7"/><circle cx="461" cy="433" r="3.7"/><circle cx="552" cy="532" r="3.7"/><circle cx="405" cy="145" r="3.7"/><circle cx="659" cy="383" r="3.7"/><circle cx="798" cy="571" r="3.7"/><circle cx="655" cy="645" r="3.7"/><circle cx="551" cy="656" r="3.7"/><circle cx="264" cy="196" r="3.7"/><circle cx="568" cy="246" r="3.7"/><circle cx="671" cy="948" r="3.7"/><circle cx="467" cy="310" r="3.7"/><circle cx="287" cy="220" r="3.7"/><circle cx="347" cy="241" r="3.7"/><circle cx="316" cy="176" r="3.7"/><circle cx="635" cy="795" r="3.7"/><circle cx="602" cy="680" r="3.7"/><circle cx="590" cy="447" r="3.7"/><circle cx="425" cy="355" r="3.7"/><circle cx="563" cy="295" r="3.7"/><circle cx="377" cy="282" r="3.7"/><circle cx="748" cy="394" r="3.7"/><circle cx="462" cy="609" r="3.7"/><circle cx="487" cy="641" r="3.7"/><circle cx="370" cy="216" r="3.7"/><circle cx="648" cy="444" r="3.7"/><circle cx="628" cy="665" r="3.7"/><circle cx="489" cy="515" r="3.7"/><circle cx="395" cy="309" r="3.7"/><circle cx="431" cy="212" r="3.7"/><circle cx="540" cy="623" r="3.7"/><circle cx="459" cy="504" r="3.7"/><circle cx="463" cy="181" r="3.7"/><circle cx="538" cy="449" r="3.7"/><circle cx="508" cy="871" r="3.7"/><circle cx="667" cy="654" r="3.7"/><circle cx="307" cy="176" r="3.7"/><circle cx="650" cy="690" r="3.7"/><circle cx="568" cy="346" r="3.7"/><circle cx="512" cy="303" r="3.7"/><circle cx="459" cy="338" r="3.7"/><circle cx="432" cy="254" r="3.7"/><circle cx="458" cy="578" r="3.7"/><circle cx="491" cy="536" r="3.7"/><circle cx="206" cy="301" r="3.7"/><circle cx="300" cy="216" r="3.7"/><circle cx="480" cy="331" r="3.7"/><circle cx="264" cy="171" r="3.7"/><circle cx="376" cy="233" r="3.7"/><circle cx="705" cy="367" r="3.7"/><circle cx="408" cy="212" r="3.7"/><circle cx="252" cy="146" r="3.7"/><circle cx="447" cy="447" r="3.7"/><circle cx="649" cy="681" r="3.7"/><circle cx="549" cy="458" r="3.7"/><circle cx="663" cy="535" r="3.7"/><circle cx="606" cy="421" r="3.7"/><circle cx="583" cy="531" r="3.7"/><circle cx="661" cy="425" r="3.7"/><circle cx="666" cy="794" r="3.7"/><circle cx="523" cy="576" r="3.7"/><circle cx="615" cy="772" r="3.7"/><circle cx="371" cy="128" r="3.7"/><circle cx="599" cy="327" r="3.7"/><circle cx="472" cy="843" r="3.7"/><circle cx="445" cy="224" r="3.7"/><circle cx="388" cy="313" r="3.7"/><circle cx="298" cy="234" r="3.7"/><circle cx="515" cy="314" r="3.7"/><circle cx="633" cy="699" r="3.7"/><circle cx="702" cy="976" r="3.7"/><circle cx="553" cy="625" r="3.7"/><circle cx="549" cy="473" r="3.7"/><circle cx="553" cy="465" r="3.7"/><circle cx="514" cy="259" r="3.7"/><circle cx="599" cy="378" r="3.7"/><circle cx="634" cy="547" r="3.7"/><circle cx="629" cy="313" r="3.7"/><circle cx="407" cy="592" r="3.7"/><circle cx="539" cy="490" r="3.7"/><circle cx="592" cy="536" r="3.7"/><circle cx="665" cy="631" r="3.7"/><circle cx="315" cy="203" r="3.7"/><circle cx="467" cy="662" r="3.7"/><circle cx="587" cy="637" r="3.7"/><circle cx="367" cy="233" r="3.7"/><circle cx="577" cy="518" r="3.7"/><circle cx="451" cy="561" r="3.7"/><circle cx="271" cy="155" r="3.7"/><circle cx="457" cy="333" r="3.7"/><circle cx="669" cy="918" r="3.7"/><circle cx="202" cy="201" r="3.7"/><circle cx="470" cy="836" r="3.7"/><circle cx="374" cy="251" r="3.7"/><circle cx="625" cy="656" r="3.7"/><circle cx="329" cy="273" r="3.7"/><circle cx="417" cy="422" r="3.7"/><circle cx="539" cy="571" r="3.7"/><circle cx="465" cy="579" r="3.7"/><circle cx="476" cy="741" r="3.7"/><circle cx="612" cy="593" r="3.7"/><circle cx="355" cy="279" r="3.7"/><circle cx="544" cy="383" r="3.7"/><circle cx="550" cy="747" r="3.7"/><circle cx="767" cy="708" r="3.7"/><circle cx="555" cy="269" r="3.7"/><circle cx="519" cy="301" r="3.7"/><circle cx="196" cy="122" r="3.7"/><circle cx="484" cy="693" r="3.7"/><circle cx="541" cy="561" r="3.7"/><circle cx="476" cy="142" r="3.7"/><circle cx="590" cy="394" r="3.7"/><circle cx="488" cy="514" r="3.7"/><circle cx="284" cy="206" r="3.7"/><circle cx="793" cy="609" r="3.7"/><circle cx="514" cy="398" r="3.7"/><circle cx="542" cy="388" r="3.7"/><circle cx="447" cy="414" r="3.7"/><circle cx="396" cy="263" r="3.7"/><circle cx="531" cy="937" r="3.7"/><circle cx="501" cy="515" r="3.7"/><circle cx="512" cy="532" r="3.7"/><circle cx="658" cy="623" r="3.7"/><circle cx="516" cy="535" r="3.7"/><circle cx="399" cy="184" r="3.7"/><circle cx="529" cy="323" r="3.7"/><circle cx="383" cy="235" r="3.7"/><circle cx="563" cy="720" r="3.7"/><circle cx="695" cy="362" r="3.7"/><circle cx="518" cy="311" r="3.7"/><circle cx="514" cy="281" r="3.7"/><circle cx="611" cy="770" r="3.7"/><circle cx="391" cy="166" r="3.7"/><circle cx="584" cy="506" r="3.7"/><circle cx="500" cy="799" r="3.7"/><circle cx="670" cy="514" r="3.7"/><circle cx="376" cy="248" r="3.7"/><circle cx="429" cy="221" r="3.7"/><circle cx="547" cy="434" r="3.7"/><circle cx="555" cy="417" r="3.7"/><circle cx="503" cy="412" r="3.7"/><circle cx="498" cy="311" r="3.7"/><circle cx="539" cy="283" r="3.7"/><circle cx="591" cy="495" r="3.7"/><circle cx="364" cy="215" r="3.7"/><circle cx="578" cy="502" r="3.7"/><circle cx="608" cy="780" r="3.7"/><circle cx="566" cy="487" r="3.7"/><circle cx="613" cy="350" r="3.7"/><circle cx="214" cy="133" r="3.7"/><circle cx="550" cy="599" r="3.7"/><circle cx="489" cy="288" r="3.7"/><circle cx="577" cy="751" r="3.7"/><circle cx="497" cy="723" r="3.7"/><circle cx="531" cy="578" r="3.7"/><circle cx="535" cy="356" r="3.7"/><circle cx="534" cy="547" r="3.7"/><circle cx="222" cy="194" r="3.7"/><circle cx="463" cy="570" r="3.7"/><circle cx="731" cy="591" r="3.7"/><circle cx="503" cy="342" r="3.7"/><circle cx="608" cy="873" r="3.7"/><circle cx="500" cy="248" r="3.7"/><circle cx="400" cy="380" r="3.7"/><circle cx="532" cy="376" r="3.7"/><circle cx="485" cy="694" r="3.7"/><circle cx="498" cy="485" r="3.7"/><circle cx="658" cy="607" r="3.7"/><circle cx="559" cy="473" r="3.7"/><circle cx="606" cy="353" r="3.7"/><circle cx="321" cy="210" r="3.7"/><circle cx="288" cy="180" r="3.7"/><circle cx="567" cy="490" r="3.7"/><circle cx="332" cy="229" r="3.7"/><circle cx="536" cy="618" r="3.7"/><circle cx="641" cy="581" r="3.7"/><circle cx="683" cy="824" r="3.7"/><circle cx="532" cy="581" r="3.7"/><circle cx="463" cy="470" r="3.7"/><circle cx="536" cy="504" r="3.7"/><circle cx="695" cy="558" r="3.7"/><circle cx="588" cy="633" r="3.7"/><circle cx="688" cy="402" r="3.7"/><circle cx="682" cy="409" r="3.7"/><circle cx="489" cy="288" r="3.7"/><circle cx="467" cy="390" r="3.7"/><circle cx="429" cy="236" r="3.7"/><circle cx="440" cy="324" r="3.7"/><circle cx="588" cy="434" r="3.7"/><circle cx="444" cy="270" r="3.7"/><circle cx="526" cy="300" r="3.7"/><circle cx="442" cy="468" r="3.7"/><circle cx="590" cy="701" r="3.7"/><circle cx="354" cy="276" r="3.7"/><circle cx="517" cy="417" r="3.7"/><circle cx="369" cy="185" r="3.7"/><circle cx="491" cy="256" r="3.7"/><circle cx="363" cy="301" r="3.7"/><circle cx="592" cy="664" r="3.7"/><circle cx="528" cy="447" r="3.7"/><circle cx="492" cy="200" r="3.7"/><circle cx="701" cy="738" r="3.7"/><circle cx="679" cy="480" r="3.7"/><circle cx="551" cy="351" r="3.7"/><circle cx="514" cy="270" r="3.7"/><circle cx="612" cy="679" r="3.7"/><circle cx="567" cy="480" r="3.7"/><circle cx="381" cy="235" r="3.7"/><circle cx="466" cy="386" r="3.7"/><circle cx="777" cy="739" r="3.7"/><circle cx="466" cy="541" r="3.7"/><circle cx="667" cy="674" r="3.7"/><circle cx="270" cy="190" r="3.7"/><circle cx="331" cy="174" r="3.7"/><circle cx="694" cy="953" r="3.7"/><circle cx="710" cy="552" r="3.7"/><circle cx="706" cy="639" r="3.7"/><circle cx="416" cy="359" r="3.7"/><circle cx="484" cy="543" r="3.7"/><circle cx="377" cy="232" r="3.7"/><circle cx="633" cy="622" r="3.7"/><circle cx="653" cy="368" r="3.7"/><circle cx="746" cy="794" r="3.7"/><circle cx="229" cy="164" r="3.7"/><circle cx="597" cy="782" r="3.7"/><circle cx="476" cy="443" r="3.7"/><circle cx="566" cy="682" r="3.7"/><circle cx="551" cy="954" r="3.7"/><circle cx="587" cy="485" r="3.7"/><circle cx="506" cy="229" r="3.7"/><circle cx="437" cy="354" r="3.7"/><circle cx="388" cy="298" r="3.7"/><circle cx="429" cy="410" r="3.7"/><circle cx="367" cy="330" r="3.7"/><circle cx="547" cy="385" r="3.7"/><circle cx="400" cy="595" r="3.7"/><circle cx="554" cy="622" r="3.7"/><circle cx="600" cy="354" r="3.7"/><circle cx="379" cy="123" r="3.7"/><circle cx="544" cy="508" r="3.7"/><circle cx="375" cy="208" r="3.7"/><circle cx="462" cy="214" r="3.7"/><circle cx="488" cy="461" r="3.7"/><circle cx="291" cy="158" r="3.7"/><circle cx="627" cy="422" r="3.7"/><circle cx="421" cy="225" r="3.7"/><circle cx="370" cy="206" r="3.7"/><circle cx="475" cy="528" r="3.7"/><circle cx="432" cy="219" r="3.7"/><circle cx="464" cy="501" r="3.7"/><circle cx="552" cy="727" r="3.7"/><circle cx="520" cy="544" r="3.7"/><circle cx="546" cy="531" r="3.7"/><circle cx="548" cy="366" r="3.7"/><circle cx="728" cy="798" r="3.7"/><circle cx="546" cy="374" r="3.7"/><circle cx="484" cy="400" r="3.7"/><circle cx="475" cy="384" r="3.7"/><circle cx="579" cy="560" r="3.7"/><circle cx="356" cy="195" r="3.7"/><circle cx="436" cy="390" r="3.7"/><circle cx="314" cy="200" r="3.7"/><circle cx="309" cy="117" r="3.7"/><circle cx="664" cy="376" r="3.7"/><circle cx="627" cy="373" r="3.7"/><circle cx="529" cy="609" r="3.7"/><circle cx="435" cy="293" r="3.7"/><circle cx="306" cy="197" r="3.7"/><circle cx="579" cy="554" r="3.7"/><circle cx="602" cy="456" r="3.7"/><circle cx="660" cy="733" r="3.7"/><circle cx="598" cy="377" r="3.7"/><circle cx="165" cy="124" r="3.7"/><circle cx="696" cy="809" r="3.7"/><circle cx="417" cy="396" r="3.7"/><circle cx="489" cy="559" r="3.7"/><circle cx="461" cy="271" r="3.7"/><circle cx="572" cy="518" r="3.7"/><circle cx="542" cy="336" r="3.7"/><circle cx="444" cy="465" r="3.7"/><circle cx="344" cy="173" r="3.7"/><circle cx="404" cy="188" r="3.7"/><circle cx="449" cy="213" r="3.7"/><circle cx="444" cy="688" r="3.7"/><circle cx="166" cy="124" r="3.7"/><circle cx="659" cy="861" r="3.7"/><circle cx="547" cy="369" r="3.7"/><circle cx="496" cy="634" r="3.7"/><circle cx="516" cy="294" r="3.7"/><circle cx="443" cy="362" r="3.7"/><circle cx="504" cy="634" r="3.7"/><circle cx="409" cy="200" r="3.7"/><circle cx="509" cy="178" r="3.7"/><circle cx="617" cy="582" r="3.7"/><circle cx="446" cy="797" r="3.7"/><circle cx="427" cy="180" r="3.7"/><circle cx="209" cy="174" r="3.7"/><circle cx="537" cy="532" r="3.7"/><circle cx="257" cy="196" r="3.7"/><circle cx="585" cy="935" r="3.7"/><circle cx="575" cy="911" r="3.7"/><circle cx="568" cy="717" r="3.7"/><circle cx="611" cy="940" r="3.7"/><circle cx="702" cy="807" r="3.7"/><circle cx="504" cy="303" r="3.7"/><circle cx="654" cy="272" r="3.7"/><circle cx="369" cy="179" r="3.7"/><circle cx="848" cy="839" r="3.7"/><circle cx="542" cy="762" r="3.7"/><circle cx="514" cy="587" r="3.7"/><circle cx="449" cy="246" r="3.7"/><circle cx="564" cy="370" r="3.7"/><circle cx="590" cy="406" r="3.7"/><circle cx="514" cy="574" r="3.7"/><circle cx="610" cy="354" r="3.7"/><circle cx="468" cy="328" r="3.7"/><circle cx="557" cy="642" r="3.7"/><circle cx="541" cy="261" r="3.7"/><circle cx="490" cy="304" r="3.7"/><circle cx="648" cy="673" r="3.7"/><circle cx="697" cy="802" r="3.7"/><circle cx="482" cy="586" r="3.7"/><circle cx="406" cy="154" r="3.7"/><circle cx="401" cy="319" r="3.7"/><circle cx="328" cy="212" r="3.7"/><circle cx="494" cy="422" r="3.7"/><circle cx="313" cy="147" r="3.7"/><circle cx="424" cy="355" r="3.7"/><circle cx="204" cy="171" r="3.7"/><circle cx="277" cy="136" r="3.7"/><circle cx="579" cy="256" r="3.7"/><circle cx="674" cy="632" r="3.7"/><circle cx="539" cy="541" r="3.7"/><circle cx="731" cy="919" r="3.7"/><circle cx="578" cy="369" r="3.7"/><circle cx="506" cy="286" r="3.7"/><circle cx="553" cy="604" r="3.7"/><circle cx="546" cy="371" r="3.7"/><circle cx="524" cy="432" r="3.7"/><circle cx="718" cy="678" r="3.7"/><circle cx="524" cy="668" r="3.7"/><circle cx="437" cy="266" r="3.7"/><circle cx="515" cy="221" r="3.7"/><circle cx="582" cy="494" r="3.7"/><circle cx="551" cy="354" r="3.7"/><circle cx="405" cy="405" r="3.7"/><circle cx="301" cy="241" r="3.7"/><circle cx="635" cy="767" r="3.7"/><circle cx="599" cy="375" r="3.7"/><circle cx="539" cy="571" r="3.7"/><circle cx="633" cy="525" r="3.7"/><circle cx="861" cy="674" r="3.7"/><circle cx="523" cy="294" r="3.7"/><circle cx="693" cy="595" r="3.7"/><circle cx="448" cy="541" r="3.7"/><circle cx="438" cy="248" r="3.7"/><circle cx="514" cy="513" r="3.7"/><circle cx="531" cy="689" r="3.7"/><circle cx="449" cy="231" r="3.7"/><circle cx="567" cy="627" r="3.7"/><circle cx="245" cy="164" r="3.7"/><circle cx="331" cy="232" r="3.7"/><circle cx="574" cy="523" r="3.7"/><circle cx="792" cy="829" r="3.7"/><circle cx="596" cy="304" r="3.7"/><circle cx="817" cy="711" r="3.7"/><circle cx="536" cy="299" r="3.7"/><circle cx="495" cy="481" r="3.7"/><circle cx="578" cy="536" r="3.7"/><circle cx="531" cy="653" r="3.7"/><circle cx="260" cy="178" r="3.7"/><circle cx="443" cy="231" r="3.7"/><circle cx="447" cy="415" r="3.7"/><circle cx="536" cy="397" r="3.7"/><circle cx="475" cy="707" r="3.7"/><circle cx="477" cy="288" r="3.7"/><circle cx="515" cy="425" r="3.7"/><circle cx="518" cy="633" r="3.7"/><circle cx="779" cy="640" r="3.7"/><circle cx="572" cy="860" r="3.7"/><circle cx="734" cy="301" r="3.7"/><circle cx="499" cy="637" r="3.7"/><circle cx="270" cy="113" r="3.7"/><circle cx="512" cy="504" r="3.7"/><circle cx="476" cy="531" r="3.7"/><circle cx="566" cy="782" r="3.7"/><circle cx="396" cy="230" r="3.7"/><circle cx="512" cy="766" r="3.7"/><circle cx="597" cy="622" r="3.7"/><circle cx="433" cy="711" r="3.7"/><circle cx="490" cy="196" r="3.7"/><circle cx="573" cy="336" r="3.7"/><circle cx="269" cy="189" r="3.7"/><circle cx="649" cy="643" r="3.7"/><circle cx="530" cy="870" r="3.7"/><circle cx="597" cy="636" r="3.7"/><circle cx="536" cy="363" r="3.7"/><circle cx="526" cy="505" r="3.7"/><circle cx="530" cy="419" r="3.7"/><circle cx="419" cy="225" r="3.7"/><circle cx="545" cy="271" r="3.7"/><circle cx="488" cy="551" r="3.7"/><circle cx="633" cy="432" r="3.7"/><circle cx="510" cy="515" r="3.7"/><circle cx="330" cy="233" r="3.7"/><circle cx="427" cy="862" r="3.7"/><circle cx="527" cy="680" r="3.7"/><circle cx="538" cy="413" r="3.7"/><circle cx="526" cy="808" r="3.7"/><circle cx="390" cy="222" r="3.7"/><circle cx="504" cy="243" r="3.7"/><circle cx="413" cy="352" r="3.7"/><circle cx="494" cy="361" r="3.7"/><circle cx="496" cy="443" r="3.7"/><circle cx="607" cy="460" r="3.7"/><circle cx="371" cy="249" r="3.7"/><circle cx="597" cy="723" r="3.7"/><circle cx="931" cy="748" r="3.7"/><circle cx="667" cy="683" r="3.7"/><circle cx="353" cy="259" r="3.7"/><circle cx="551" cy="713" r="3.7"/><circle cx="262" cy="150" r="3.7"/><circle cx="535" cy="844" r="3.7"/><circle cx="667" cy="876" r="3.7"/><circle cx="523" cy="680" r="3.7"/><circle cx="443" cy="278" r="3.7"/><circle cx="347" cy="242" r="3.7"/><circle cx="503" cy="492" r="3.7"/><circle cx="499" cy="241" r="3.7"/><circle cx="491" cy="647" r="3.7"/><circle cx="505" cy="558" r="3.7"/><circle cx="613" cy="429" r="3.7"/><circle cx="448" cy="246" r="3.7"/><circle cx="466" cy="559" r="3.7"/><circle cx="481" cy="375" r="3.7"/><circle cx="286" cy="250" r="3.7"/><circle cx="522" cy="545" r="3.7"/><circle cx="558" cy="770" r="3.7"/><circle cx="578" cy="431" r="3.7"/><circle cx="727" cy="744" r="3.7"/><circle cx="509" cy="403" r="3.7"/><circle cx="608" cy="372" r="3.7"/><circle cx="663" cy="263" r="3.7"/><circle cx="796" cy="647" r="3.7"/><circle cx="557" cy="765" r="3.7"/><circle cx="295" cy="199" r="3.7"/><circle cx="484" cy="549" r="3.7"/><circle cx="538" cy="525" r="3.7"/><circle cx="579" cy="522" r="3.7"/><circle cx="564" cy="210" r="3.7"/><circle cx="375" cy="173" r="3.7"/><circle cx="478" cy="365" r="3.7"/><circle cx="679" cy="546" r="3.7"/><circle cx="530" cy="575" r="3.7"/><circle cx="510" cy="713" r="3.7"/><circle cx="495" cy="183" r="3.7"/><circle cx="685" cy="462" r="3.7"/><circle cx="529" cy="349" r="3.7"/><circle cx="376" cy="210" r="3.7"/><circle cx="633" cy="892" r="3.7"/><circle cx="534" cy="320" r="3.7"/><circle cx="520" cy="291" r="3.7"/><circle cx="511" cy="385" r="3.7"/><circle cx="636" cy="383" r="3.7"/><circle cx="603" cy="626" r="3.7"/><circle cx="748" cy="434" r="3.7"/><circle cx="585" cy="554" r="3.7"/><circle cx="214" cy="167" r="3.7"/><circle cx="494" cy="284" r="3.7"/><circle cx="490" cy="600" r="3.7"/><circle cx="799" cy="720" r="3.7"/><circle cx="650" cy="668" r="3.7"/><circle cx="435" cy="701" r="3.7"/><circle cx="489" cy="435" r="3.7"/><circle cx="360" cy="198" r="3.7"/><circle cx="587" cy="357" r="3.7"/><circle cx="466" cy="454" r="3.7"/><circle cx="824" cy="748" r="3.7"/><circle cx="506" cy="423" r="3.7"/><circle cx="567" cy="614" r="3.7"/><circle cx="191" cy="166" r="3.7"/><circle cx="643" cy="583" r="3.7"/><circle cx="400" cy="219" r="3.7"/><circle cx="306" cy="272" r="3.7"/><circle cx="471" cy="911" r="3.7"/><circle cx="470" cy="513" r="3.7"/><circle cx="429" cy="800" r="3.7"/><circle cx="646" cy="536" r="3.7"/><circle cx="545" cy="290" r="3.7"/><circle cx="361" cy="183" r="3.7"/><circle cx="352" cy="195" r="3.7"/><circle cx="394" cy="594" r="3.7"/><circle cx="393" cy="186" r="3.7"/><circle cx="422" cy="362" r="3.7"/><circle cx="522" cy="597" r="3.7"/><circle cx="699" cy="789" r="3.7"/><circle cx="490" cy="471" r="3.7"/><circle cx="479" cy="598" r="3.7"/><circle cx="647" cy="761" r="3.7"/><circle cx="857" cy="134" r="3.7"/><circle cx="197" cy="155" r="3.7"/><circle cx="660" cy="804" r="3.7"/><circle cx="593" cy="394" r="3.7"/><circle cx="482" cy="524" r="3.7"/><circle cx="440" cy="306" r="3.7"/><circle cx="422" cy="216" r="3.7"/><circle cx="479" cy="408" r="3.7"/><circle cx="613" cy="452" r="3.7"/><circle cx="546" cy="359" r="3.7"/><circle cx="647" cy="671" r="3.7"/><circle cx="229" cy="205" r="3.7"/><circle cx="553" cy="633" r="3.7"/><circle cx="448" cy="679" r="3.7"/><circle cx="541" cy="626" r="3.7"/><circle cx="578" cy="918" r="3.7"/><circle cx="651" cy="525" r="3.7"/><circle cx="627" cy="727" r="3.7"/><circle cx="378" cy="225" r="3.7"/><circle cx="725" cy="704" r="3.7"/><circle cx="434" cy="695" r="3.7"/><circle cx="215" cy="240" r="3.7"/><circle cx="498" cy="442" r="3.7"/><circle cx="585" cy="632" r="3.7"/><circle cx="504" cy="340" r="3.7"/><circle cx="545" cy="427" r="3.7"/><circle cx="396" cy="207" r="3.7"/><circle cx="578" cy="651" r="3.7"/><circle cx="690" cy="618" r="3.7"/><circle cx="532" cy="496" r="3.7"/><circle cx="702" cy="806" r="3.7"/><circle cx="486" cy="252" r="3.7"/><circle cx="557" cy="446" r="3.7"/><circle cx="614" cy="366" r="3.7"/><circle cx="659" cy="669" r="3.7"/><circle cx="603" cy="985" r="3.7"/><circle cx="482" cy="412" r="3.7"/><circle cx="467" cy="280" r="3.7"/><circle cx="368" cy="252" r="3.7"/><circle cx="405" cy="301" r="3.7"/><circle cx="497" cy="285" r="3.7"/><circle cx="539" cy="532" r="3.7"/><circle cx="537" cy="510" r="3.7"/><circle cx="494" cy="836" r="3.7"/><circle cx="513" cy="478" r="3.7"/><circle cx="477" cy="435" r="3.7"/><circle cx="573" cy="410" r="3.7"/><circle cx="560" cy="544" r="3.7"/><circle cx="665" cy="794" r="3.7"/><circle cx="467" cy="531" r="3.7"/><circle cx="452" cy="550" r="3.7"/><circle cx="625" cy="531" r="3.7"/><circle cx="443" cy="564" r="3.7"/><circle cx="594" cy="229" r="3.7"/><circle cx="593" cy="535" r="3.7"/><circle cx="535" cy="542" r="3.7"/><circle cx="505" cy="450" r="3.7"/><circle cx="579" cy="445" r="3.7"/><circle cx="476" cy="682" r="3.7"/><circle cx="489" cy="544" r="3.7"/><circle cx="479" cy="191" r="3.7"/><circle cx="775" cy="867" r="3.7"/><circle cx="418" cy="257" r="3.7"/><circle cx="646" cy="864" r="3.7"/><circle cx="793" cy="631" r="3.7"/><circle cx="511" cy="624" r="3.7"/><circle cx="545" cy="539" r="3.7"/><circle cx="643" cy="285" r="3.7"/><circle cx="283" cy="301" r="3.7"/><circle cx="294" cy="241" r="3.7"/><circle cx="280" cy="166" r="3.7"/><circle cx="441" cy="254" r="3.7"/><circle cx="533" cy="660" r="3.7"/><circle cx="466" cy="445" r="3.7"/><circle cx="552" cy="792" r="3.7"/><circle cx="536" cy="607" r="3.7"/><circle cx="503" cy="372" r="3.7"/><circle cx="707" cy="391" r="3.7"/><circle cx="498" cy="829" r="3.7"/><circle cx="698" cy="670" r="3.7"/><circle cx="460" cy="264" r="3.7"/><circle cx="827" cy="776" r="3.7"/><circle cx="656" cy="358" r="3.7"/><circle cx="485" cy="695" r="3.7"/><circle cx="594" cy="329" r="3.7"/><circle cx="519" cy="563" r="3.7"/><circle cx="814" cy="785" r="3.7"/><circle cx="387" cy="195" r="3.7"/><circle cx="593" cy="460" r="3.7"/><circle cx="541" cy="726" r="3.7"/><circle cx="486" cy="535" r="3.7"/><circle cx="614" cy="829" r="3.7"/><circle cx="414" cy="252" r="3.7"/><circle cx="593" cy="824" r="3.7"/><circle cx="442" cy="195" r="3.7"/><circle cx="667" cy="706" r="3.7"/><circle cx="499" cy="584" r="3.7"/><circle cx="345" cy="216" r="3.7"/><circle cx="463" cy="286" r="3.7"/><circle cx="547" cy="571" r="3.7"/><circle cx="589" cy="583" r="3.7"/><circle cx="549" cy="265" r="3.7"/><circle cx="476" cy="345" r="3.7"/><circle cx="587" cy="233" r="3.7"/><circle cx="481" cy="248" r="3.7"/><circle cx="361" cy="168" r="3.7"/><circle cx="473" cy="371" r="3.7"/><circle cx="602" cy="413" r="3.7"/><circle cx="573" cy="355" r="3.7"/><circle cx="360" cy="220" r="3.7"/><circle cx="413" cy="267" r="3.7"/><circle cx="692" cy="376" r="3.7"/><circle cx="397" cy="252" r="3.7"/><circle cx="433" cy="341" r="3.7"/><circle cx="515" cy="351" r="3.7"/><circle cx="511" cy="489" r="3.7"/><circle cx="365" cy="133" r="3.7"/><circle cx="522" cy="749" r="3.7"/><circle cx="476" cy="513" r="3.7"/><circle cx="503" cy="406" r="3.7"/><circle cx="432" cy="205" r="3.7"/><circle cx="507" cy="551" r="3.7"/><circle cx="517" cy="685" r="3.7"/><circle cx="494" cy="769" r="3.7"/><circle cx="545" cy="340" r="3.7"/><circle cx="391" cy="200" r="3.7"/><circle cx="386" cy="312" r="3.7"/><circle cx="687" cy="636" r="3.7"/><circle cx="460" cy="357" r="3.7"/><circle cx="603" cy="385" r="3.7"/><circle cx="293" cy="193" r="3.7"/><circle cx="642" cy="335" r="3.7"/><circle cx="261" cy="192" r="3.7"/><circle cx="495" cy="678" r="3.7"/><circle cx="313" cy="194" r="3.7"/><circle cx="178" cy="193" r="3.7"/><circle cx="561" cy="634" r="3.7"/><circle cx="544" cy="398" r="3.7"/><circle cx="557" cy="395" r="3.7"/><circle cx="430" cy="216" r="3.7"/><circle cx="403" cy="200" r="3.7"/><circle cx="466" cy="655" r="3.7"/><circle cx="496" cy="279" r="3.7"/><circle cx="418" cy="408" r="3.7"/><circle cx="302" cy="160" r="3.7"/><circle cx="558" cy="509" r="3.7"/><circle cx="540" cy="328" r="3.7"/><circle cx="338" cy="201" r="3.7"/><circle cx="433" cy="237" r="3.7"/><circle cx="377" cy="197" r="3.7"/><circle cx="580" cy="584" r="3.7"/><circle cx="513" cy="247" r="3.7"/><circle cx="385" cy="261" r="3.7"/><circle cx="363" cy="196" r="3.7"/><circle cx="457" cy="299" r="3.7"/><circle cx="572" cy="885" r="3.7"/><circle cx="719" cy="632" r="3.7"/><circle cx="477" cy="737" r="3.7"/><circle cx="519" cy="401" r="3.7"/><circle cx="305" cy="192" r="3.7"/><circle cx="516" cy="131" r="3.7"/><circle cx="328" cy="235" r="3.7"/><circle cx="410" cy="539" r="3.7"/><circle cx="429" cy="354" r="3.7"/><circle cx="468" cy="599" r="3.7"/><circle cx="623" cy="703" r="3.7"/><circle cx="262" cy="223" r="3.7"/><circle cx="723" cy="847" r="3.7"/><circle cx="489" cy="247" r="3.7"/><circle cx="503" cy="432" r="3.7"/><circle cx="694" cy="617" r="3.7"/><circle cx="275" cy="189" r="3.7"/><circle cx="416" cy="601" r="3.7"/><circle cx="599" cy="618" r="3.7"/><circle cx="690" cy="697" r="3.7"/><circle cx="644" cy="579" r="3.7"/><circle cx="373" cy="317" r="3.7"/><circle cx="460" cy="203" r="3.7"/><circle cx="172" cy="140" r="3.7"/><circle cx="367" cy="195" r="3.7"/><circle cx="533" cy="646" r="3.7"/><circle cx="531" cy="269" r="3.7"/><circle cx="446" cy="289" r="3.7"/><circle cx="633" cy="291" r="3.7"/><circle cx="520" cy="354" r="3.7"/><circle cx="539" cy="620" r="3.7"/><circle cx="299" cy="222" r="3.7"/><circle cx="429" cy="290" r="3.7"/><circle cx="500" cy="329" r="3.7"/><circle cx="461" cy="540" r="3.7"/><circle cx="569" cy="344" r="3.7"/><circle cx="521" cy="321" r="3.7"/><circle cx="611" cy="777" r="3.7"/><circle cx="464" cy="305" r="3.7"/><circle cx="286" cy="175" r="3.7"/><circle cx="425" cy="268" r="3.7"/><circle cx="576" cy="515" r="3.7"/><circle cx="665" cy="759" r="3.7"/><circle cx="654" cy="905" r="3.7"/><circle cx="612" cy="570" r="3.7"/><circle cx="557" cy="547" r="3.7"/><circle cx="727" cy="676" r="3.7"/><circle cx="550" cy="400" r="3.7"/><circle cx="660" cy="639" r="3.7"/><circle cx="438" cy="290" r="3.7"/><circle cx="572" cy="686" r="3.7"/><circle cx="526" cy="491" r="3.7"/><circle cx="496" cy="393" r="3.7"/><circle cx="396" cy="234" r="3.7"/><circle cx="379" cy="165" r="3.7"/><circle cx="795" cy="610" r="3.7"/><circle cx="248" cy="248" r="3.7"/><circle cx="636" cy="349" r="3.7"/><circle cx="381" cy="265" r="3.7"/><circle cx="344" cy="210" r="3.7"/><circle cx="460" cy="250" r="3.7"/><circle cx="383" cy="184" r="3.7"/><circle cx="521" cy="500" r="3.7"/><circle cx="424" cy="236" r="3.7"/><circle cx="549" cy="854" r="3.7"/><circle cx="484" cy="412" r="3.7"/><circle cx="621" cy="723" r="3.7"/><circle cx="238" cy="155" r="3.7"/><circle cx="563" cy="848" r="3.7"/><circle cx="416" cy="311" r="3.7"/><circle cx="467" cy="320" r="3.7"/><circle cx="637" cy="574" r="3.7"/><circle cx="500" cy="432" r="3.7"/><circle cx="241" cy="164" r="3.7"/><circle cx="600" cy="673" r="3.7"/><circle cx="539" cy="124" r="3.7"/><circle cx="645" cy="375" r="3.7"/><circle cx="326" cy="188" r="3.7"/><circle cx="628" cy="258" r="3.7"/><circle cx="549" cy="326" r="3.7"/><circle cx="708" cy="587" r="3.7"/><circle cx="480" cy="705" r="3.7"/><circle cx="470" cy="283" r="3.7"/><circle cx="607" cy="836" r="3.7"/><circle cx="548" cy="293" r="3.7"/><circle cx="311" cy="201" r="3.7"/><circle cx="499" cy="561" r="3.7"/><circle cx="273" cy="207" r="3.7"/><circle cx="518" cy="429" r="3.7"/><circle cx="509" cy="503" r="3.7"/><circle cx="242" cy="476" r="3.7"/><circle cx="321" cy="260" r="3.7"/><circle cx="378" cy="288" r="3.7"/><circle cx="406" cy="202" r="3.7"/><circle cx="428" cy="286" r="3.7"/><circle cx="706" cy="792" r="3.7"/><circle cx="500" cy="256" r="3.7"/><circle cx="353" cy="262" r="3.7"/><circle cx="372" cy="192" r="3.7"/><circle cx="254" cy="191" r="3.7"/><circle cx="411" cy="400" r="3.7"/><circle cx="719" cy="388" r="3.7"/><circle cx="604" cy="319" r="3.7"/><circle cx="337" cy="206" r="3.7"/><circle cx="446" cy="360" r="3.7"/><circle cx="526" cy="336" r="3.7"/><circle cx="510" cy="637" r="3.7"/><circle cx="558" cy="784" r="3.7"/><circle cx="438" cy="306" r="3.7"/><circle cx="497" cy="302" r="3.7"/><circle cx="362" cy="257" r="3.7"/><circle cx="519" cy="644" r="3.7"/><circle cx="537" cy="667" r="3.7"/><circle cx="427" cy="498" r="3.7"/><circle cx="327" cy="236" r="3.7"/><circle cx="492" cy="404" r="3.7"/><circle cx="648" cy="720" r="3.7"/><circle cx="535" cy="359" r="3.7"/><circle cx="840" cy="477" r="3.7"/><circle cx="687" cy="686" r="3.7"/><circle cx="556" cy="652" r="3.7"/><circle cx="628" cy="320" r="3.7"/><circle cx="487" cy="484" r="3.7"/><circle cx="615" cy="740" r="3.7"/><circle cx="669" cy="595" r="3.7"/><circle cx="421" cy="456" r="3.7"/><circle cx="496" cy="800" r="3.7"/><circle cx="519" cy="393" r="3.7"/><circle cx="471" cy="617" r="3.7"/><circle cx="425" cy="809" r="3.7"/><circle cx="401" cy="364" r="3.7"/><circle cx="578" cy="592" r="3.7"/><circle cx="653" cy="830" r="3.7"/><circle cx="389" cy="351" r="3.7"/><circle cx="587" cy="570" r="3.7"/><circle cx="486" cy="557" r="3.7"/><circle cx="558" cy="795" r="3.7"/><circle cx="499" cy="413" r="3.7"/><circle cx="543" cy="247" r="3.7"/><circle cx="503" cy="354" r="3.7"/><circle cx="343" cy="211" r="3.7"/><circle cx="587" cy="698" r="3.7"/><circle cx="559" cy="642" r="3.7"/><circle cx="303" cy="204" r="3.7"/><circle cx="729" cy="820" r="3.7"/><circle cx="532" cy="425" r="3.7"/><circle cx="566" cy="368" r="3.7"/><circle cx="335" cy="201" r="3.7"/><circle cx="418" cy="244" r="3.7"/><circle cx="434" cy="240" r="3.7"/><circle cx="512" cy="292" r="3.7"/><circle cx="584" cy="399" r="3.7"/><circle cx="368" cy="289" r="3.7"/><circle cx="514" cy="713" r="3.7"/><circle cx="508" cy="451" r="3.7"/><circle cx="213" cy="179" r="3.7"/><circle cx="681" cy="582" r="3.7"/><circle cx="535" cy="982" r="3.7"/><circle cx="571" cy="517" r="3.7"/><circle cx="432" cy="434" r="3.7"/><circle cx="442" cy="582" r="3.7"/><circle cx="315" cy="212" r="3.7"/><circle cx="493" cy="901" r="3.7"/><circle cx="352" cy="234" r="3.7"/><circle cx="370" cy="198" r="3.7"/><circle cx="671" cy="305" r="3.7"/><circle cx="360" cy="181" r="3.7"/><circle cx="510" cy="403" r="3.7"/><circle cx="474" cy="583" r="3.7"/><circle cx="364" cy="180" r="3.7"/><circle cx="543" cy="504" r="3.7"/><circle cx="487" cy="367" r="3.7"/><circle cx="696" cy="775" r="3.7"/><circle cx="469" cy="506" r="3.7"/><circle cx="762" cy="905" r="3.7"/><circle cx="659" cy="624" r="3.7"/><circle cx="599" cy="905" r="3.7"/><circle cx="569" cy="471" r="3.7"/><circle cx="491" cy="492" r="3.7"/><circle cx="496" cy="862" r="3.7"/><circle cx="596" cy="561" r="3.7"/><circle cx="453" cy="339" r="3.7"/><circle cx="488" cy="619" r="3.7"/><circle cx="527" cy="679" r="3.7"/><circle cx="372" cy="265" r="3.7"/><circle cx="499" cy="419" r="3.7"/><circle cx="438" cy="932" r="3.7"/><circle cx="512" cy="627" r="3.7"/><circle cx="466" cy="257" r="3.7"/><circle cx="410" cy="280" r="3.7"/><circle cx="750" cy="670" r="3.7"/><circle cx="220" cy="186" r="3.7"/><circle cx="502" cy="392" r="3.7"/><circle cx="435" cy="205" r="3.7"/><circle cx="410" cy="292" r="3.7"/><circle cx="628" cy="374" r="3.7"/><circle cx="672" cy="812" r="3.7"/><circle cx="379" cy="203" r="3.7"/><circle cx="592" cy="431" r="3.7"/><circle cx="784" cy="273" r="3.7"/><circle cx="478" cy="242" r="3.7"/><circle cx="686" cy="814" r="3.7"/><circle cx="466" cy="553" r="3.7"/><circle cx="690" cy="441" r="3.7"/><circle cx="521" cy="440" r="3.7"/><circle cx="588" cy="428" r="3.7"/><circle cx="359" cy="165" r="3.7"/><circle cx="768" cy="708" r="3.7"/><circle cx="248" cy="231" r="3.7"/><circle cx="551" cy="263" r="3.7"/><circle cx="592" cy="342" r="3.7"/><circle cx="639" cy="928" r="3.7"/><circle cx="681" cy="399" r="3.7"/><circle cx="557" cy="361" r="3.7"/><circle cx="565" cy="594" r="3.7"/><circle cx="304" cy="251" r="3.7"/><circle cx="686" cy="662" r="3.7"/><circle cx="823" cy="653" r="3.7"/><circle cx="402" cy="347" r="3.7"/><circle cx="556" cy="448" r="3.7"/><circle cx="491" cy="649" r="3.7"/><circle cx="534" cy="554" r="3.7"/><circle cx="569" cy="360" r="3.7"/><circle cx="613" cy="931" r="3.7"/><circle cx="452" cy="550" r="3.7"/><circle cx="510" cy="600" r="3.7"/><circle cx="662" cy="544" r="3.7"/><circle cx="817" cy="906" r="3.7"/><circle cx="796" cy="829" r="3.7"/><circle cx="514" cy="510" r="3.7"/><circle cx="440" cy="415" r="3.7"/><circle cx="536" cy="421" r="3.7"/><circle cx="483" cy="326" r="3.7"/><circle cx="963" cy="829" r="3.7"/><circle cx="468" cy="302" r="3.7"/><circle cx="409" cy="255" r="3.7"/><circle cx="708" cy="747" r="3.7"/><circle cx="517" cy="385" r="3.7"/><circle cx="308" cy="231" r="3.7"/><circle cx="615" cy="562" r="3.7"/><circle cx="882" cy="854" r="3.7"/><circle cx="506" cy="334" r="3.7"/><circle cx="316" cy="201" r="3.7"/><circle cx="502" cy="249" r="3.7"/><circle cx="396" cy="468" r="3.7"/><circle cx="423" cy="265" r="3.7"/><circle cx="695" cy="852" r="3.7"/><circle cx="653" cy="329" r="3.7"/><circle cx="669" cy="646" r="3.7"/><circle cx="486" cy="385" r="3.7"/><circle cx="220" cy="169" r="3.7"/><circle cx="661" cy="691" r="3.7"/><circle cx="393" cy="173" r="3.7"/><circle cx="885" cy="639" r="3.7"/><circle cx="443" cy="630" r="3.7"/><circle cx="494" cy="527" r="3.7"/><circle cx="480" cy="839" r="3.7"/><circle cx="446" cy="464" r="3.7"/><circle cx="489" cy="555" r="3.7"/><circle cx="466" cy="309" r="3.7"/><circle cx="403" cy="238" r="3.7"/><circle cx="748" cy="749" r="3.7"/><circle cx="645" cy="332" r="3.7"/><circle cx="676" cy="844" r="3.7"/><circle cx="299" cy="191" r="3.7"/><circle cx="333" cy="140" r="3.7"/><circle cx="717" cy="835" r="3.7"/><circle cx="554" cy="779" r="3.7"/><circle cx="433" cy="663" r="3.7"/><circle cx="536" cy="554" r="3.7"/><circle cx="274" cy="135" r="3.7"/><circle cx="550" cy="547" r="3.7"/><circle cx="652" cy="654" r="3.7"/><circle cx="489" cy="266" r="3.7"/><circle cx="387" cy="203" r="3.7"/><circle cx="535" cy="244" r="3.7"/><circle cx="566" cy="721" r="3.7"/><circle cx="666" cy="722" r="3.7"/><circle cx="621" cy="620" r="3.7"/><circle cx="479" cy="422" r="3.7"/><circle cx="308" cy="217" r="3.7"/><circle cx="657" cy="825" r="3.7"/><circle cx="540" cy="698" r="3.7"/><circle cx="467" cy="516" r="3.7"/><circle cx="427" cy="587" r="3.7"/><circle cx="350" cy="249" r="3.7"/><circle cx="437" cy="362" r="3.7"/><circle cx="541" cy="333" r="3.7"/><circle cx="460" cy="507" r="3.7"/><circle cx="548" cy="576" r="3.7"/><circle cx="687" cy="666" r="3.7"/><circle cx="693" cy="366" r="3.7"/><circle cx="588" cy="378" r="3.7"/><circle cx="534" cy="347" r="3.7"/><circle cx="697" cy="656" r="3.7"/><circle cx="485" cy="296" r="3.7"/><circle cx="348" cy="185" r="3.7"/><circle cx="422" cy="825" r="3.7"/><circle cx="543" cy="642" r="3.7"/><circle cx="643" cy="339" r="3.7"/><circle cx="515" cy="653" r="3.7"/><circle cx="611" cy="805" r="3.7"/><circle cx="379" cy="244" r="3.7"/><circle cx="604" cy="622" r="3.7"/><circle cx="615" cy="644" r="3.7"/><circle cx="744" cy="667" r="3.7"/><circle cx="511" cy="622" r="3.7"/><circle cx="618" cy="408" r="3.7"/><circle cx="486" cy="617" r="3.7"/><circle cx="454" cy="227" r="3.7"/><circle cx="619" cy="508" r="3.7"/><circle cx="364" cy="215" r="3.7"/><circle cx="603" cy="815" r="3.7"/><circle cx="310" cy="202" r="3.7"/><circle cx="553" cy="449" r="3.7"/><circle cx="501" cy="857" r="3.7"/><circle cx="591" cy="743" r="3.7"/><circle cx="407" cy="176" r="3.7"/><circle cx="282" cy="208" r="3.7"/><circle cx="539" cy="311" r="3.7"/><circle cx="593" cy="662" r="3.7"/><circle cx="381" cy="283" r="3.7"/><circle cx="681" cy="723" r="3.7"/><circle cx="329" cy="262" r="3.7"/><circle cx="664" cy="652" r="3.7"/><circle cx="370" cy="268" r="3.7"/><circle cx="579" cy="543" r="3.7"/><circle cx="691" cy="332" r="3.7"/><circle cx="507" cy="629" r="3.7"/><circle cx="569" cy="440" r="3.7"/><circle cx="373" cy="210" r="3.7"/><circle cx="385" cy="253" r="3.7"/><circle cx="806" cy="905" r="3.7"/><circle cx="323" cy="201" r="3.7"/><circle cx="472" cy="427" r="3.7"/><circle cx="330" cy="176" r="3.7"/><circle cx="450" cy="295" r="3.7"/><circle cx="446" cy="411" r="3.7"/><circle cx="627" cy="369" r="3.7"/><circle cx="515" cy="556" r="3.7"/><circle cx="211" cy="205" r="3.7"/><circle cx="704" cy="415" r="3.7"/><circle cx="646" cy="632" r="3.7"/><circle cx="295" cy="185" r="3.7"/><circle cx="644" cy="672" r="3.7"/><circle cx="543" cy="298" r="3.7"/><circle cx="619" cy="580" r="3.7"/><circle cx="254" cy="158" r="3.7"/><circle cx="490" cy="459" r="3.7"/><circle cx="482" cy="413" r="3.7"/><circle cx="695" cy="720" r="3.7"/><circle cx="336" cy="155" r="3.7"/><circle cx="623" cy="581" r="3.7"/><circle cx="594" cy="697" r="3.7"/><circle cx="579" cy="435" r="3.7"/><circle cx="829" cy="471" r="3.7"/><circle cx="537" cy="412" r="3.7"/><circle cx="282" cy="207" r="3.7"/><circle cx="460" cy="364" r="3.7"/><circle cx="745" cy="612" r="3.7"/><circle cx="507" cy="228" r="3.7"/><circle cx="655" cy="821" r="3.7"/><circle cx="496" cy="235" r="3.7"/><circle cx="534" cy="234" r="3.7"/><circle cx="469" cy="380" r="3.7"/><circle cx="488" cy="367" r="3.7"/><circle cx="447" cy="202" r="3.7"/><circle cx="308" cy="508" r="3.7"/><circle cx="829" cy="610" r="3.7"/><circle cx="379" cy="181" r="3.7"/><circle cx="799" cy="489" r="3.7"/><circle cx="449" cy="244" r="3.7"/><circle cx="533" cy="613" r="3.7"/><circle cx="514" cy="641" r="3.7"/><circle cx="570" cy="527" r="3.7"/><circle cx="442" cy="772" r="3.7"/><circle cx="404" cy="511" r="3.7"/><circle cx="574" cy="419" r="3.7"/><circle cx="522" cy="920" r="3.7"/><circle cx="484" cy="868" r="3.7"/><circle cx="664" cy="823" r="3.7"/><circle cx="534" cy="727" r="3.7"/><circle cx="380" cy="213" r="3.7"/><circle cx="518" cy="594" r="3.7"/><circle cx="278" cy="164" r="3.7"/><circle cx="557" cy="646" r="3.7"/><circle cx="465" cy="225" r="3.7"/><circle cx="726" cy="635" r="3.7"/><circle cx="533" cy="456" r="3.7"/><circle cx="633" cy="792" r="3.7"/><circle cx="701" cy="865" r="3.7"/><circle cx="443" cy="269" r="3.7"/><circle cx="427" cy="219" r="3.7"/><circle cx="687" cy="823" r="3.7"/><circle cx="576" cy="636" r="3.7"/><circle cx="576" cy="490" r="3.7"/><circle cx="476" cy="255" r="3.7"/><circle cx="507" cy="399" r="3.7"/><circle cx="294" cy="195" r="3.7"/><circle cx="535" cy="522" r="3.7"/><circle cx="459" cy="412" r="3.7"/><circle cx="524" cy="472" r="3.7"/><circle cx="542" cy="844" r="3.7"/><circle cx="507" cy="321" r="3.7"/><circle cx="604" cy="867" r="3.7"/><circle cx="572" cy="490" r="3.7"/><circle cx="501" cy="400" r="3.7"/><circle cx="531" cy="257" r="3.7"/><circle cx="574" cy="427" r="3.7"/><circle cx="617" cy="491" r="3.7"/><circle cx="577" cy="255" r="3.7"/><circle cx="329" cy="307" r="3.7"/><circle cx="390" cy="327" r="3.7"/><circle cx="299" cy="181" r="3.7"/><circle cx="482" cy="373" r="3.7"/><circle cx="356" cy="300" r="3.7"/><circle cx="645" cy="354" r="3.7"/><circle cx="417" cy="187" r="3.7"/><circle cx="483" cy="284" r="3.7"/><circle cx="496" cy="471" r="3.7"/><circle cx="337" cy="395" r="3.7"/><circle cx="642" cy="660" r="3.7"/><circle cx="609" cy="342" r="3.7"/><circle cx="548" cy="407" r="3.7"/><circle cx="597" cy="859" r="3.7"/><circle cx="631" cy="538" r="3.7"/><circle cx="517" cy="468" r="3.7"/><circle cx="532" cy="585" r="3.7"/><circle cx="531" cy="437" r="3.7"/><circle cx="564" cy="486" r="3.7"/><circle cx="426" cy="475" r="3.7"/><circle cx="534" cy="664" r="3.7"/><circle cx="537" cy="524" r="3.7"/><circle cx="620" cy="501" r="3.7"/><circle cx="630" cy="285" r="3.7"/><circle cx="464" cy="294" r="3.7"/><circle cx="448" cy="295" r="3.7"/><circle cx="573" cy="596" r="3.7"/><circle cx="633" cy="925" r="3.7"/><circle cx="504" cy="507" r="3.7"/><circle cx="563" cy="331" r="3.7"/><circle cx="584" cy="572" r="3.7"/><circle cx="664" cy="508" r="3.7"/><circle cx="481" cy="496" r="3.7"/><circle cx="528" cy="811" r="3.7"/><circle cx="462" cy="359" r="3.7"/><circle cx="610" cy="624" r="3.7"/><circle cx="527" cy="380" r="3.7"/><circle cx="371" cy="194" r="3.7"/><circle cx="322" cy="222" r="3.7"/><circle cx="691" cy="658" r="3.7"/><circle cx="465" cy="259" r="3.7"/><circle cx="816" cy="624" r="3.7"/><circle cx="439" cy="359" r="3.7"/><circle cx="715" cy="776" r="3.7"/><circle cx="170" cy="149" r="3.7"/><circle cx="702" cy="396" r="3.7"/><circle cx="759" cy="455" r="3.7"/><circle cx="307" cy="170" r="3.7"/><circle cx="548" cy="666" r="3.7"/><circle cx="558" cy="465" r="3.7"/><circle cx="522" cy="811" r="3.7"/><circle cx="604" cy="553" r="3.7"/><circle cx="494" cy="484" r="3.7"/><circle cx="431" cy="301" r="3.7"/><circle cx="433" cy="359" r="3.7"/><circle cx="309" cy="318" r="3.7"/><circle cx="361" cy="250" r="3.7"/><circle cx="288" cy="185" r="3.7"/><circle cx="616" cy="933" r="3.7"/><circle cx="576" cy="243" r="3.7"/><circle cx="768" cy="874" r="3.7"/><circle cx="544" cy="421" r="3.7"/><circle cx="393" cy="247" r="3.7"/><circle cx="646" cy="597" r="3.7"/><circle cx="602" cy="346" r="3.7"/><circle cx="549" cy="492" r="3.7"/><circle cx="463" cy="533" r="3.7"/><circle cx="622" cy="546" r="3.7"/><circle cx="549" cy="412" r="3.7"/><circle cx="682" cy="675" r="3.7"/><circle cx="539" cy="502" r="3.7"/><circle cx="614" cy="634" r="3.7"/><circle cx="382" cy="269" r="3.7"/><circle cx="596" cy="448" r="3.7"/><circle cx="612" cy="703" r="3.7"/><circle cx="423" cy="532" r="3.7"/><circle cx="414" cy="412" r="3.7"/><circle cx="478" cy="511" r="3.7"/><circle cx="466" cy="186" r="3.7"/><circle cx="463" cy="304" r="3.7"/><circle cx="321" cy="169" r="3.7"/><circle cx="488" cy="278" r="3.7"/><circle cx="588" cy="422" r="3.7"/><circle cx="545" cy="533" r="3.7"/><circle cx="890" cy="604" r="3.7"/><circle cx="531" cy="665" r="3.7"/><circle cx="497" cy="528" r="3.7"/><circle cx="396" cy="285" r="3.7"/><circle cx="740" cy="802" r="3.7"/><circle cx="479" cy="368" r="3.7"/><circle cx="487" cy="644" r="3.7"/><circle cx="449" cy="406" r="3.7"/><circle cx="351" cy="162" r="3.7"/><circle cx="621" cy="610" r="3.7"/><circle cx="355" cy="152" r="3.7"/><circle cx="628" cy="425" r="3.7"/><circle cx="433" cy="372" r="3.7"/><circle cx="423" cy="403" r="3.7"/><circle cx="356" cy="187" r="3.7"/><circle cx="620" cy="560" r="3.7"/><circle cx="322" cy="211" r="3.7"/><circle cx="565" cy="355" r="3.7"/><circle cx="506" cy="524" r="3.7"/><circle cx="643" cy="756" r="3.7"/><circle cx="547" cy="475" r="3.7"/><circle cx="533" cy="375" r="3.7"/><circle cx="654" cy="666" r="3.7"/><circle cx="570" cy="634" r="3.7"/><circle cx="526" cy="568" r="3.7"/><circle cx="714" cy="353" r="3.7"/><circle cx="661" cy="611" r="3.7"/><circle cx="471" cy="507" r="3.7"/><circle cx="555" cy="437" r="3.7"/><circle cx="755" cy="926" r="3.7"/><circle cx="649" cy="646" r="3.7"/><circle cx="501" cy="796" r="3.7"/><circle cx="259" cy="196" r="3.7"/><circle cx="247" cy="145" r="3.7"/><circle cx="502" cy="639" r="3.7"/><circle cx="553" cy="520" r="3.7"/><circle cx="588" cy="319" r="3.7"/><circle cx="561" cy="261" r="3.7"/><circle cx="641" cy="729" r="3.7"/><circle cx="425" cy="186" r="3.7"/><circle cx="557" cy="610" r="3.7"/><circle cx="646" cy="637" r="3.7"/><circle cx="370" cy="209" r="3.7"/><circle cx="683" cy="303" r="3.7"/><circle cx="473" cy="408" r="3.7"/><circle cx="408" cy="361" r="3.7"/><circle cx="587" cy="506" r="3.7"/><circle cx="379" cy="217" r="3.7"/><circle cx="584" cy="572" r="3.7"/><circle cx="578" cy="283" r="3.7"/><circle cx="517" cy="809" r="3.7"/><circle cx="436" cy="249" r="3.7"/><circle cx="453" cy="636" r="3.7"/><circle cx="758" cy="681" r="3.7"/><circle cx="500" cy="500" r="3.7"/><circle cx="549" cy="645" r="3.7"/><circle cx="859" cy="981" r="3.7"/><circle cx="499" cy="493" r="3.7"/><circle cx="599" cy="452" r="3.7"/><circle cx="291" cy="227" r="3.7"/><circle cx="416" cy="234" r="3.7"/><circle cx="629" cy="682" r="3.7"/><circle cx="571" cy="663" r="3.7"/><circle cx="652" cy="801" r="3.7"/><circle cx="379" cy="134" r="3.7"/><circle cx="506" cy="645" r="3.7"/><circle cx="645" cy="683" r="3.7"/><circle cx="376" cy="205" r="3.7"/><circle cx="581" cy="532" r="3.7"/><circle cx="586" cy="905" r="3.7"/><circle cx="265" cy="127" r="3.7"/><circle cx="446" cy="413" r="3.7"/><circle cx="432" cy="356" r="3.7"/><circle cx="255" cy="143" r="3.7"/><circle cx="437" cy="218" r="3.7"/><circle cx="498" cy="556" r="3.7"/><circle cx="277" cy="137" r="3.7"/><circle cx="628" cy="242" r="3.7"/><circle cx="482" cy="456" r="3.7"/><circle cx="504" cy="463" r="3.7"/><circle cx="326" cy="137" r="3.7"/><circle cx="609" cy="338" r="3.7"/><circle cx="626" cy="515" r="3.7"/><circle cx="322" cy="271" r="3.7"/><circle cx="705" cy="714" r="3.7"/><circle cx="231" cy="205" r="3.7"/><circle cx="574" cy="420" r="3.7"/><circle cx="527" cy="500" r="3.7"/><circle cx="436" cy="190" r="3.7"/><circle cx="652" cy="636" r="3.7"/><circle cx="388" cy="229" r="3.7"/><circle cx="452" cy="215" r="3.7"/><circle cx="607" cy="249" r="3.7"/><circle cx="598" cy="604" r="3.7"/><circle cx="317" cy="182" r="3.7"/><circle cx="353" cy="162" r="3.7"/><circle cx="577" cy="606" r="3.7"/><circle cx="310" cy="287" r="3.7"/><circle cx="356" cy="175" r="3.7"/><circle cx="655" cy="570" r="3.7"/><circle cx="505" cy="315" r="3.7"/><circle cx="693" cy="458" r="3.7"/><circle cx="553" cy="464" r="3.7"/><circle cx="707" cy="776" r="3.7"/><circle cx="554" cy="704" r="3.7"/><circle cx="613" cy="507" r="3.7"/><circle cx="394" cy="153" r="3.7"/><circle cx="617" cy="616" r="3.7"/><circle cx="372" cy="219" r="3.7"/><circle cx="661" cy="452" r="3.7"/><circle cx="592" cy="404" r="3.7"/><circle cx="311" cy="191" r="3.7"/><circle cx="497" cy="724" r="3.7"/><circle cx="471" cy="410" r="3.7"/><circle cx="532" cy="553" r="3.7"/><circle cx="422" cy="366" r="3.7"/><circle cx="647" cy="674" r="3.7"/><circle cx="590" cy="346" r="3.7"/><circle cx="596" cy="970" r="3.7"/><circle cx="395" cy="201" r="3.7"/><circle cx="480" cy="638" r="3.7"/><circle cx="464" cy="310" r="3.7"/><circle cx="573" cy="433" r="3.7"/><circle cx="484" cy="472" r="3.7"/><circle cx="403" cy="239" r="3.7"/><circle cx="545" cy="387" r="3.7"/><circle cx="363" cy="881" r="3.7"/><circle cx="626" cy="839" r="3.7"/><circle cx="598" cy="324" r="3.7"/><circle cx="633" cy="330" r="3.7"/><circle cx="645" cy="640" r="3.7"/><circle cx="550" cy="502" r="3.7"/><circle cx="306" cy="228" r="3.7"/><circle cx="477" cy="390" r="3.7"/><circle cx="516" cy="452" r="3.7"/><circle cx="515" cy="464" r="3.7"/><circle cx="456" cy="386" r="3.7"/><circle cx="576" cy="394" r="3.7"/><circle cx="270" cy="257" r="3.7"/><circle cx="644" cy="564" r="3.7"/><circle cx="598" cy="554" r="3.7"/><circle cx="638" cy="729" r="3.7"/><circle cx="681" cy="790" r="3.7"/><circle cx="546" cy="421" r="3.7"/><circle cx="616" cy="418" r="3.7"/><circle cx="511" cy="593" r="3.7"/><circle cx="546" cy="381" r="3.7"/><circle cx="495" cy="743" r="3.7"/><circle cx="387" cy="274" r="3.7"/><circle cx="404" cy="363" r="3.7"/><circle cx="486" cy="178" r="3.7"/><circle cx="648" cy="902" r="3.7"/><circle cx="675" cy="762" r="3.7"/><circle cx="534" cy="343" r="3.7"/><circle cx="336" cy="204" r="3.7"/><circle cx="399" cy="301" r="3.7"/><circle cx="403" cy="195" r="3.7"/><circle cx="451" cy="402" r="3.7"/><circle cx="618" cy="553" r="3.7"/><circle cx="285" cy="156" r="3.7"/><circle cx="604" cy="464" r="3.7"/><circle cx="372" cy="224" r="3.7"/><circle cx="610" cy="441" r="3.7"/><circle cx="626" cy="872" r="3.7"/><circle cx="584" cy="291" r="3.7"/><circle cx="204" cy="180" r="3.7"/><circle cx="501" cy="466" r="3.7"/><circle cx="492" cy="667" r="3.7"/><circle cx="610" cy="391" r="3.7"/><circle cx="547" cy="428" r="3.7"/><circle cx="502" cy="430" r="3.7"/><circle cx="378" cy="153" r="3.7"/><circle cx="437" cy="282" r="3.7"/><circle cx="501" cy="423" r="3.7"/><circle cx="361" cy="231" r="3.7"/><circle cx="464" cy="174" r="3.7"/><circle cx="435" cy="237" r="3.7"/><circle cx="695" cy="742" r="3.7"/><circle cx="818" cy="723" r="3.7"/><circle cx="566" cy="499" r="3.7"/><circle cx="656" cy="642" r="3.7"/><circle cx="661" cy="713" r="3.7"/><circle cx="554" cy="495" r="3.7"/><circle cx="558" cy="847" r="3.7"/><circle cx="482" cy="314" r="3.7"/><circle cx="668" cy="613" r="3.7"/><circle cx="395" cy="226" r="3.7"/><circle cx="571" cy="228" r="3.7"/><circle cx="524" cy="801" r="3.7"/><circle cx="492" cy="800" r="3.7"/><circle cx="468" cy="270" r="3.7"/><circle cx="530" cy="436" r="3.7"/><circle cx="673" cy="683" r="3.7"/><circle cx="519" cy="431" r="3.7"/><circle cx="474" cy="245" r="3.7"/><circle cx="440" cy="483" r="3.7"/><circle cx="604" cy="297" r="3.7"/><circle cx="448" cy="209" r="3.7"/><circle cx="366" cy="183" r="3.7"/><circle cx="601" cy="268" r="3.7"/><circle cx="633" cy="447" r="3.7"/><circle cx="718" cy="599" r="3.7"/><circle cx="540" cy="521" r="3.7"/><circle cx="498" cy="466" r="3.7"/><circle cx="310" cy="192" r="3.7"/><circle cx="578" cy="835" r="3.7"/><circle cx="258" cy="146" r="3.7"/><circle cx="819" cy="808" r="3.7"/><circle cx="263" cy="178" r="3.7"/><circle cx="515" cy="764" r="3.7"/><circle cx="784" cy="725" r="3.7"/><circle cx="531" cy="440" r="3.7"/><circle cx="570" cy="238" r="3.7"/><circle cx="286" cy="206" r="3.7"/><circle cx="546" cy="489" r="3.7"/><circle cx="411" cy="208" r="3.7"/><circle cx="278" cy="131" r="3.7"/><circle cx="576" cy="356" r="3.7"/><circle cx="648" cy="363" r="3.7"/><circle cx="576" cy="341" r="3.7"/><circle cx="305" cy="287" r="3.7"/><circle cx="549" cy="613" r="3.7"/><circle cx="361" cy="321" r="3.7"/><circle cx="449" cy="237" r="3.7"/><circle cx="444" cy="928" r="3.7"/><circle cx="475" cy="455" r="3.7"/><circle cx="593" cy="584" r="3.7"/><circle cx="624" cy="877" r="3.7"/><circle cx="507" cy="427" r="3.7"/><circle cx="542" cy="384" r="3.7"/><circle cx="503" cy="778" r="3.7"/><circle cx="388" cy="240" r="3.7"/><circle cx="537" cy="647" r="3.7"/><circle cx="446" cy="422" r="3.7"/><circle cx="504" cy="377" r="3.7"/><circle cx="410" cy="245" r="3.7"/><circle cx="522" cy="476" r="3.7"/><circle cx="633" cy="809" r="3.7"/><circle cx="928" cy="472" r="3.7"/><circle cx="498" cy="288" r="3.7"/><circle cx="480" cy="564" r="3.7"/><circle cx="529" cy="439" r="3.7"/><circle cx="505" cy="638" r="3.7"/><circle cx="522" cy="559" r="3.7"/><circle cx="481" cy="595" r="3.7"/><circle cx="247" cy="177" r="3.7"/><circle cx="615" cy="676" r="3.7"/><circle cx="715" cy="663" r="3.7"/><circle cx="687" cy="754" r="3.7"/><circle cx="720" cy="769" r="3.7"/><circle cx="729" cy="554" r="3.7"/><circle cx="642" cy="626" r="3.7"/><circle cx="495" cy="380" r="3.7"/><circle cx="413" cy="276" r="3.7"/><circle cx="581" cy="845" r="3.7"/><circle cx="467" cy="388" r="3.7"/><circle cx="456" cy="300" r="3.7"/><circle cx="454" cy="221" r="3.7"/><circle cx="671" cy="647" r="3.7"/><circle cx="531" cy="364" r="3.7"/><circle cx="252" cy="178" r="3.7"/><circle cx="714" cy="742" r="3.7"/><circle cx="571" cy="647" r="3.7"/><circle cx="397" cy="663" r="3.7"/><circle cx="496" cy="420" r="3.7"/><circle cx="559" cy="405" r="3.7"/><circle cx="435" cy="314" r="3.7"/><circle cx="428" cy="248" r="3.7"/><circle cx="233" cy="166" r="3.7"/><circle cx="618" cy="393" r="3.7"/><circle cx="591" cy="673" r="3.7"/><circle cx="596" cy="261" r="3.7"/><circle cx="794" cy="665" r="3.7"/><circle cx="405" cy="261" r="3.7"/><circle cx="668" cy="817" r="3.7"/><circle cx="624" cy="804" r="3.7"/><circle cx="477" cy="359" r="3.7"/><circle cx="475" cy="420" r="3.7"/><circle cx="522" cy="564" r="3.7"/><circle cx="195" cy="269" r="3.7"/><circle cx="441" cy="605" r="3.7"/><circle cx="240" cy="174" r="3.7"/><circle cx="482" cy="252" r="3.7"/><circle cx="368" cy="200" r="3.7"/><circle cx="418" cy="419" r="3.7"/><circle cx="247" cy="163" r="3.7"/><circle cx="583" cy="376" r="3.7"/><circle cx="441" cy="373" r="3.7"/><circle cx="628" cy="229" r="3.7"/><circle cx="371" cy="377" r="3.7"/><circle cx="549" cy="364" r="3.7"/><circle cx="542" cy="837" r="3.7"/><circle cx="216" cy="162" r="3.7"/><circle cx="623" cy="647" r="3.7"/><circle cx="455" cy="587" r="3.7"/><circle cx="236" cy="91" r="3.7"/><circle cx="585" cy="482" r="3.7"/><circle cx="352" cy="183" r="3.7"/><circle cx="472" cy="373" r="3.7"/><circle cx="470" cy="581" r="3.7"/><circle cx="455" cy="412" r="3.7"/><circle cx="637" cy="569" r="3.7"/><circle cx="524" cy="395" r="3.7"/><circle cx="587" cy="411" r="3.7"/><circle cx="312" cy="261" r="3.7"/><circle cx="625" cy="799" r="3.7"/><circle cx="440" cy="263" r="3.7"/><circle cx="375" cy="239" r="3.7"/><circle cx="454" cy="241" r="3.7"/><circle cx="396" cy="226" r="3.7"/><circle cx="228" cy="173" r="3.7"/><circle cx="536" cy="660" r="3.7"/><circle cx="486" cy="351" r="3.7"/><circle cx="474" cy="332" r="3.7"/><circle cx="629" cy="758" r="3.7"/><circle cx="405" cy="215" r="3.7"/><circle cx="600" cy="548" r="3.7"/><circle cx="595" cy="451" r="3.7"/><circle cx="428" cy="799" r="3.7"/><circle cx="468" cy="289" r="3.7"/><circle cx="552" cy="259" r="3.7"/><circle cx="324" cy="234" r="3.7"/><circle cx="483" cy="560" r="3.7"/><circle cx="389" cy="217" r="3.7"/><circle cx="286" cy="213" r="3.7"/><circle cx="425" cy="179" r="3.7"/><circle cx="282" cy="156" r="3.7"/><circle cx="527" cy="450" r="3.7"/><circle cx="688" cy="653" r="3.7"/><circle cx="559" cy="747" r="3.7"/><circle cx="490" cy="432" r="3.7"/><circle cx="580" cy="379" r="3.7"/><circle cx="384" cy="294" r="3.7"/><circle cx="369" cy="209" r="3.7"/><circle cx="546" cy="458" r="3.7"/><circle cx="513" cy="289" r="3.7"/><circle cx="525" cy="635" r="3.7"/><circle cx="445" cy="550" r="3.7"/><circle cx="397" cy="248" r="3.7"/><circle cx="610" cy="614" r="3.7"/><circle cx="492" cy="276" r="3.7"/><circle cx="327" cy="269" r="3.7"/><circle cx="475" cy="628" r="3.7"/><circle cx="922" cy="657" r="3.7"/><circle cx="480" cy="504" r="3.7"/><circle cx="376" cy="260" r="3.7"/><circle cx="667" cy="402" r="3.7"/><circle cx="677" cy="877" r="3.7"/><circle cx="531" cy="563" r="3.7"/><circle cx="353" cy="270" r="3.7"/><circle cx="536" cy="377" r="3.7"/><circle cx="490" cy="336" r="3.7"/><circle cx="609" cy="616" r="3.7"/><circle cx="636" cy="384" r="3.7"/><circle cx="390" cy="223" r="3.7"/><circle cx="434" cy="187" r="3.7"/><circle cx="620" cy="642" r="3.7"/><circle cx="423" cy="340" r="3.7"/><circle cx="507" cy="474" r="3.7"/><circle cx="487" cy="319" r="3.7"/><circle cx="327" cy="173" r="3.7"/><circle cx="437" cy="237" r="3.7"/><circle cx="478" cy="537" r="3.7"/><circle cx="576" cy="910" r="3.7"/><circle cx="602" cy="815" r="3.7"/><circle cx="529" cy="326" r="3.7"/><circle cx="575" cy="736" r="3.7"/><circle cx="567" cy="525" r="3.7"/><circle cx="381" cy="229" r="3.7"/><circle cx="581" cy="739" r="3.7"/><circle cx="424" cy="320" r="3.7"/><circle cx="456" cy="357" r="3.7"/><circle cx="359" cy="208" r="3.7"/><circle cx="709" cy="474" r="3.7"/><circle cx="429" cy="268" r="3.7"/><circle cx="456" cy="399" r="3.7"/><circle cx="550" cy="647" r="3.7"/><circle cx="469" cy="278" r="3.7"/><circle cx="493" cy="302" r="3.7"/><circle cx="403" cy="300" r="3.7"/><circle cx="540" cy="473" r="3.7"/><circle cx="306" cy="228" r="3.7"/><circle cx="500" cy="249" r="3.7"/><circle cx="289" cy="173" r="3.7"/><circle cx="522" cy="220" r="3.7"/><circle cx="447" cy="751" r="3.7"/><circle cx="494" cy="425" r="3.7"/><circle cx="355" cy="236" r="3.7"/><circle cx="425" cy="244" r="3.7"/><circle cx="476" cy="405" r="3.7"/><circle cx="525" cy="478" r="3.7"/><circle cx="402" cy="210" r="3.7"/><circle cx="289" cy="163" r="3.7"/><circle cx="498" cy="340" r="3.7"/><circle cx="438" cy="370" r="3.7"/><circle cx="211" cy="254" r="3.7"/><circle cx="596" cy="344" r="3.7"/><circle cx="509" cy="721" r="3.7"/><circle cx="532" cy="650" r="3.7"/><circle cx="439" cy="266" r="3.7"/><circle cx="618" cy="651" r="3.7"/><circle cx="310" cy="200" r="3.7"/><circle cx="553" cy="690" r="3.7"/><circle cx="386" cy="168" r="3.7"/><circle cx="319" cy="257" r="3.7"/><circle cx="344" cy="250" r="3.7"/><circle cx="518" cy="439" r="3.7"/><circle cx="603" cy="350" r="3.7"/><circle cx="529" cy="506" r="3.7"/><circle cx="534" cy="526" r="3.7"/><circle cx="405" cy="507" r="3.7"/><circle cx="574" cy="590" r="3.7"/><circle cx="484" cy="408" r="3.7"/><circle cx="699" cy="904" r="3.7"/><circle cx="479" cy="258" r="3.7"/><circle cx="502" cy="483" r="3.7"/><circle cx="511" cy="456" r="3.7"/><circle cx="291" cy="176" r="3.7"/><circle cx="568" cy="965" r="3.7"/><circle cx="546" cy="360" r="3.7"/><circle cx="630" cy="644" r="3.7"/><circle cx="360" cy="165" r="3.7"/><circle cx="543" cy="483" r="3.7"/><circle cx="399" cy="393" r="3.7"/><circle cx="588" cy="649" r="3.7"/><circle cx="625" cy="811" r="3.7"/><circle cx="537" cy="378" r="3.7"/><circle cx="269" cy="261" r="3.7"/><circle cx="711" cy="353" r="3.7"/><circle cx="843" cy="794" r="3.7"/><circle cx="630" cy="683" r="3.7"/><circle cx="548" cy="267" r="3.7"/><circle cx="461" cy="610" r="3.7"/><circle cx="590" cy="435" r="3.7"/><circle cx="464" cy="689" r="3.7"/><circle cx="412" cy="317" r="3.7"/><circle cx="558" cy="556" r="3.7"/><circle cx="430" cy="413" r="3.7"/><circle cx="499" cy="565" r="3.7"/><circle cx="722" cy="346" r="3.7"/><circle cx="571" cy="415" r="3.7"/><circle cx="491" cy="370" r="3.7"/><circle cx="558" cy="299" r="3.7"/><circle cx="615" cy="620" r="3.7"/><circle cx="472" cy="500" r="3.7"/><circle cx="661" cy="938" r="3.7"/><circle cx="479" cy="842" r="3.7"/><circle cx="510" cy="781" r="3.7"/><circle cx="490" cy="480" r="3.7"/><circle cx="588" cy="812" r="3.7"/><circle cx="427" cy="292" r="3.7"/><circle cx="318" cy="192" r="3.7"/><circle cx="793" cy="933" r="3.7"/><circle cx="498" cy="647" r="3.7"/><circle cx="482" cy="304" r="3.7"/><circle cx="484" cy="221" r="3.7"/><circle cx="183" cy="135" r="3.7"/><circle cx="564" cy="344" r="3.7"/><circle cx="698" cy="877" r="3.7"/><circle cx="601" cy="883" r="3.7"/><circle cx="536" cy="667" r="3.7"/><circle cx="521" cy="334" r="3.7"/><circle cx="437" cy="264" r="3.7"/><circle cx="493" cy="719" r="3.7"/><circle cx="678" cy="653" r="3.7"/><circle cx="455" cy="544" r="3.7"/><circle cx="531" cy="501" r="3.7"/><circle cx="494" cy="735" r="3.7"/><circle cx="537" cy="781" r="3.7"/><circle cx="522" cy="530" r="3.7"/><circle cx="479" cy="357" r="3.7"/><circle cx="335" cy="143" r="3.7"/><circle cx="579" cy="634" r="3.7"/><circle cx="359" cy="203" r="3.7"/><circle cx="514" cy="502" r="3.7"/><circle cx="363" cy="343" r="3.7"/><circle cx="468" cy="635" r="3.7"/><circle cx="467" cy="644" r="3.7"/><circle cx="229" cy="658" r="3.7"/><circle cx="386" cy="229" r="3.7"/><circle cx="465" cy="521" r="3.7"/><circle cx="547" cy="347" r="3.7"/><circle cx="703" cy="948" r="3.7"/><circle cx="484" cy="529" r="3.7"/><circle cx="513" cy="388" r="3.7"/><circle cx="439" cy="270" r="3.7"/><circle cx="612" cy="730" r="3.7"/><circle cx="556" cy="753" r="3.7"/><circle cx="335" cy="235" r="3.7"/><circle cx="510" cy="508" r="3.7"/><circle cx="597" cy="355" r="3.7"/><circle cx="554" cy="363" r="3.7"/><circle cx="290" cy="211" r="3.7"/><circle cx="485" cy="720" r="3.7"/><circle cx="432" cy="306" r="3.7"/><circle cx="447" cy="357" r="3.7"/><circle cx="407" cy="198" r="3.7"/><circle cx="497" cy="356" r="3.7"/><circle cx="563" cy="427" r="3.7"/><circle cx="549" cy="570" r="3.7"/><circle cx="766" cy="674" r="3.7"/><circle cx="582" cy="402" r="3.7"/><circle cx="505" cy="290" r="3.7"/><circle cx="496" cy="380" r="3.7"/><circle cx="492" cy="285" r="3.7"/><circle cx="547" cy="541" r="3.7"/><circle cx="446" cy="287" r="3.7"/><circle cx="461" cy="396" r="3.7"/><circle cx="496" cy="478" r="3.7"/><circle cx="563" cy="321" r="3.7"/><circle cx="420" cy="313" r="3.7"/><circle cx="618" cy="274" r="3.7"/><circle cx="404" cy="388" r="3.7"/><circle cx="509" cy="352" r="3.7"/><circle cx="658" cy="731" r="3.7"/><circle cx="411" cy="271" r="3.7"/><circle cx="582" cy="841" r="3.7"/><circle cx="517" cy="737" r="3.7"/><circle cx="475" cy="423" r="3.7"/><circle cx="385" cy="203" r="3.7"/><circle cx="564" cy="402" r="3.7"/><circle cx="457" cy="338" r="3.7"/><circle cx="362" cy="157" r="3.7"/><circle cx="552" cy="473" r="3.7"/><circle cx="499" cy="421" r="3.7"/><circle cx="537" cy="353" r="3.7"/><circle cx="500" cy="568" r="3.7"/><circle cx="382" cy="278" r="3.7"/><circle cx="536" cy="701" r="3.7"/><circle cx="516" cy="793" r="3.7"/><circle cx="465" cy="495" r="3.7"/><circle cx="560" cy="595" r="3.7"/><circle cx="452" cy="308" r="3.7"/><circle cx="415" cy="865" r="3.7"/><circle cx="482" cy="420" r="3.7"/><circle cx="455" cy="482" r="3.7"/><circle cx="648" cy="693" r="3.7"/><circle cx="455" cy="733" r="3.7"/><circle cx="485" cy="658" r="3.7"/><circle cx="544" cy="282" r="3.7"/><circle cx="487" cy="304" r="3.7"/><circle cx="383" cy="246" r="3.7"/><circle cx="309" cy="188" r="3.7"/><circle cx="666" cy="446" r="3.7"/><circle cx="594" cy="369" r="3.7"/><circle cx="643" cy="414" r="3.7"/><circle cx="436" cy="409" r="3.7"/><circle cx="404" cy="339" r="3.7"/><circle cx="911" cy="805" r="3.7"/><circle cx="738" cy="608" r="3.7"/><circle cx="650" cy="903" r="3.7"/><circle cx="563" cy="632" r="3.7"/><circle cx="542" cy="449" r="3.7"/><circle cx="827" cy="824" r="3.7"/><circle cx="252" cy="206" r="3.7"/><circle cx="517" cy="518" r="3.7"/><circle cx="608" cy="570" r="3.7"/><circle cx="294" cy="111" r="3.7"/><circle cx="655" cy="348" r="3.7"/><circle cx="500" cy="780" r="3.7"/><circle cx="575" cy="321" r="3.7"/><circle cx="505" cy="521" r="3.7"/><circle cx="391" cy="169" r="3.7"/><circle cx="475" cy="511" r="3.7"/><circle cx="515" cy="396" r="3.7"/><circle cx="433" cy="252" r="3.7"/><circle cx="672" cy="700" r="3.7"/><circle cx="504" cy="440" r="3.7"/><circle cx="726" cy="952" r="3.7"/><circle cx="633" cy="566" r="3.7"/><circle cx="321" cy="208" r="3.7"/><circle cx="307" cy="198" r="3.7"/><circle cx="677" cy="467" r="3.7"/><circle cx="590" cy="982" r="3.7"/><circle cx="522" cy="557" r="3.7"/><circle cx="559" cy="543" r="3.7"/><circle cx="727" cy="909" r="3.7"/><circle cx="629" cy="374" r="3.7"/><circle cx="603" cy="308" r="3.7"/><circle cx="663" cy="811" r="3.7"/><circle cx="554" cy="390" r="3.7"/><circle cx="266" cy="372" r="3.7"/><circle cx="511" cy="572" r="3.7"/><circle cx="450" cy="279" r="3.7"/><circle cx="547" cy="454" r="3.7"/><circle cx="439" cy="422" r="3.7"/><circle cx="549" cy="662" r="3.7"/><circle cx="565" cy="564" r="3.7"/><circle cx="362" cy="183" r="3.7"/><circle cx="511" cy="657" r="3.7"/><circle cx="516" cy="342" r="3.7"/><circle cx="419" cy="788" r="3.7"/><circle cx="399" cy="417" r="3.7"/><circle cx="515" cy="472" r="3.7"/><circle cx="520" cy="615" r="3.7"/><circle cx="512" cy="539" r="3.7"/><circle cx="614" cy="707" r="3.7"/><circle cx="583" cy="621" r="3.7"/><circle cx="533" cy="265" r="3.7"/><circle cx="520" cy="590" r="3.7"/><circle cx="381" cy="204" r="3.7"/><circle cx="616" cy="653" r="3.7"/><circle cx="580" cy="651" r="3.7"/><circle cx="494" cy="212" r="3.7"/><circle cx="327" cy="250" r="3.7"/><circle cx="454" cy="203" r="3.7"/><circle cx="451" cy="413" r="3.7"/><circle cx="621" cy="940" r="3.7"/><circle cx="567" cy="327" r="3.7"/><circle cx="672" cy="637" r="3.7"/><circle cx="241" cy="144" r="3.7"/><circle cx="554" cy="623" r="3.7"/><circle cx="596" cy="567" r="3.7"/><circle cx="635" cy="740" r="3.7"/><circle cx="574" cy="549" r="3.7"/><circle cx="452" cy="330" r="3.7"/><circle cx="352" cy="225" r="3.7"/><circle cx="609" cy="343" r="3.7"/><circle cx="600" cy="799" r="3.7"/><circle cx="225" cy="180" r="3.7"/><circle cx="548" cy="804" r="3.7"/><circle cx="318" cy="319" r="3.7"/><circle cx="559" cy="277" r="3.7"/><circle cx="651" cy="636" r="3.7"/><circle cx="520" cy="804" r="3.7"/><circle cx="278" cy="185" r="3.7"/><circle cx="716" cy="822" r="3.7"/><circle cx="598" cy="649" r="3.7"/><circle cx="283" cy="198" r="3.7"/><circle cx="608" cy="781" r="3.7"/><circle cx="661" cy="641" r="3.7"/><circle cx="472" cy="391" r="3.7"/><circle cx="383" cy="232" r="3.7"/><circle cx="504" cy="314" r="3.7"/><circle cx="305" cy="201" r="3.7"/><circle cx="297" cy="144" r="3.7"/><circle cx="411" cy="327" r="3.7"/><circle cx="545" cy="461" r="3.7"/><circle cx="579" cy="379" r="3.7"/><circle cx="688" cy="813" r="3.7"/><circle cx="573" cy="625" r="3.7"/><circle cx="589" cy="601" r="3.7"/><circle cx="557" cy="622" r="3.7"/><circle cx="502" cy="464" r="3.7"/><circle cx="554" cy="800" r="3.7"/><circle cx="624" cy="416" r="3.7"/><circle cx="531" cy="524" r="3.7"/><circle cx="729" cy="428" r="3.7"/><circle cx="700" cy="234" r="3.7"/><circle cx="278" cy="341" r="3.7"/><circle cx="734" cy="375" r="3.7"/><circle cx="828" cy="698" r="3.7"/><circle cx="566" cy="608" r="3.7"/><circle cx="612" cy="583" r="3.7"/><circle cx="537" cy="844" r="3.7"/><circle cx="667" cy="659" r="3.7"/><circle cx="466" cy="264" r="3.7"/><circle cx="605" cy="374" r="3.7"/><circle cx="460" cy="302" r="3.7"/><circle cx="565" cy="577" r="3.7"/><circle cx="299" cy="172" r="3.7"/><circle cx="451" cy="401" r="3.7"/><circle cx="506" cy="360" r="3.7"/><circle cx="692" cy="795" r="3.7"/><circle cx="670" cy="372" r="3.7"/><circle cx="376" cy="255" r="3.7"/><circle cx="419" cy="245" r="3.7"/><circle cx="637" cy="854" r="3.7"/><circle cx="709" cy="597" r="3.7"/><circle cx="497" cy="345" r="3.7"/><circle cx="276" cy="231" r="3.7"/><circle cx="407" cy="240" r="3.7"/><circle cx="426" cy="466" r="3.7"/><circle cx="610" cy="539" r="3.7"/><circle cx="565" cy="471" r="3.7"/><circle cx="631" cy="622" r="3.7"/><circle cx="510" cy="688" r="3.7"/><circle cx="507" cy="427" r="3.7"/><circle cx="703" cy="829" r="3.7"/><circle cx="380" cy="158" r="3.7"/><circle cx="586" cy="566" r="3.7"/><circle cx="455" cy="753" r="3.7"/><circle cx="649" cy="647" r="3.7"/><circle cx="496" cy="252" r="3.7"/><circle cx="355" cy="135" r="3.7"/><circle cx="357" cy="234" r="3.7"/><circle cx="496" cy="528" r="3.7"/><circle cx="315" cy="169" r="3.7"/><circle cx="656" cy="499" r="3.7"/><circle cx="399" cy="253" r="3.7"/><circle cx="603" cy="694" r="3.7"/><circle cx="333" cy="195" r="3.7"/><circle cx="563" cy="718" r="3.7"/><circle cx="564" cy="733" r="3.7"/><circle cx="674" cy="584" r="3.7"/><circle cx="456" cy="398" r="3.7"/><circle cx="400" cy="245" r="3.7"/><circle cx="710" cy="798" r="3.7"/><circle cx="522" cy="629" r="3.7"/><circle cx="524" cy="785" r="3.7"/><circle cx="622" cy="776" r="3.7"/><circle cx="494" cy="617" r="3.7"/><circle cx="534" cy="620" r="3.7"/><circle cx="537" cy="593" r="3.7"/><circle cx="639" cy="704" r="3.7"/><circle cx="472" cy="650" r="3.7"/><circle cx="655" cy="634" r="3.7"/><circle cx="537" cy="346" r="3.7"/><circle cx="369" cy="175" r="3.7"/><circle cx="512" cy="572" r="3.7"/><circle cx="521" cy="624" r="3.7"/><circle cx="494" cy="441" r="3.7"/><circle cx="581" cy="615" r="3.7"/><circle cx="480" cy="564" r="3.7"/><circle cx="567" cy="403" r="3.7"/><circle cx="349" cy="222" r="3.7"/><circle cx="704" cy="689" r="3.7"/><circle cx="681" cy="656" r="3.7"/><circle cx="563" cy="555" r="3.7"/><circle cx="691" cy="947" r="3.7"/><circle cx="929" cy="827" r="3.7"/><circle cx="574" cy="504" r="3.7"/><circle cx="545" cy="491" r="3.7"/><circle cx="775" cy="681" r="3.7"/><circle cx="464" cy="296" r="3.7"/><circle cx="523" cy="642" r="3.7"/><circle cx="557" cy="521" r="3.7"/><circle cx="788" cy="741" r="3.7"/><circle cx="680" cy="713" r="3.7"/><circle cx="479" cy="378" r="3.7"/><circle cx="739" cy="339" r="3.7"/><circle cx="625" cy="869" r="3.7"/><circle cx="640" cy="588" r="3.7"/><circle cx="479" cy="443" r="3.7"/><circle cx="406" cy="355" r="3.7"/><circle cx="459" cy="425" r="3.7"/><circle cx="555" cy="497" r="3.7"/><circle cx="509" cy="548" r="3.7"/><circle cx="349" cy="227" r="3.7"/><circle cx="490" cy="391" r="3.7"/><circle cx="541" cy="345" r="3.7"/><circle cx="601" cy="447" r="3.7"/><circle cx="613" cy="254" r="3.7"/><circle cx="565" cy="733" r="3.7"/><circle cx="511" cy="679" r="3.7"/><circle cx="655" cy="734" r="3.7"/><circle cx="440" cy="391" r="3.7"/><circle cx="504" cy="414" r="3.7"/><circle cx="370" cy="295" r="3.7"/><circle cx="615" cy="559" r="3.7"/><circle cx="406" cy="146" r="3.7"/><circle cx="388" cy="211" r="3.7"/><circle cx="400" cy="213" r="3.7"/><circle cx="443" cy="324" r="3.7"/><circle cx="474" cy="343" r="3.7"/><circle cx="562" cy="768" r="3.7"/><circle cx="564" cy="717" r="3.7"/><circle cx="484" cy="811" r="3.7"/><circle cx="402" cy="303" r="3.7"/><circle cx="481" cy="276" r="3.7"/><circle cx="598" cy="569" r="3.7"/><circle cx="555" cy="524" r="3.7"/><circle cx="737" cy="875" r="3.7"/><circle cx="547" cy="431" r="3.7"/><circle cx="533" cy="234" r="3.7"/><circle cx="476" cy="473" r="3.7"/><circle cx="392" cy="393" r="3.7"/><circle cx="507" cy="567" r="3.7"/><circle cx="499" cy="258" r="3.7"/><circle cx="353" cy="338" r="3.7"/><circle cx="669" cy="674" r="3.7"/><circle cx="776" cy="333" r="3.7"/><circle cx="612" cy="241" r="3.7"/><circle cx="532" cy="336" r="3.7"/><circle cx="429" cy="205" r="3.7"/><circle cx="641" cy="280" r="3.7"/><circle cx="506" cy="739" r="3.7"/><circle cx="585" cy="568" r="3.7"/><circle cx="303" cy="231" r="3.7"/><circle cx="406" cy="399" r="3.7"/><circle cx="506" cy="417" r="3.7"/><circle cx="498" cy="523" r="3.7"/><circle cx="608" cy="432" r="3.7"/><circle cx="593" cy="436" r="3.7"/><circle cx="309" cy="260" r="3.7"/><circle cx="461" cy="605" r="3.7"/><circle cx="332" cy="89" r="3.7"/><circle cx="538" cy="303" r="3.7"/><circle cx="506" cy="543" r="3.7"/><circle cx="389" cy="217" r="3.7"/><circle cx="804" cy="787" r="3.7"/><circle cx="541" cy="491" r="3.7"/><circle cx="658" cy="912" r="3.7"/><circle cx="733" cy="703" r="3.7"/><circle cx="497" cy="785" r="3.7"/><circle cx="439" cy="574" r="3.7"/><circle cx="527" cy="544" r="3.7"/><circle cx="508" cy="409" r="3.7"/><circle cx="694" cy="559" r="3.7"/><circle cx="407" cy="350" r="3.7"/><circle cx="552" cy="666" r="3.7"/><circle cx="410" cy="495" r="3.7"/><circle cx="408" cy="203" r="3.7"/><circle cx="692" cy="611" r="3.7"/><circle cx="481" cy="522" r="3.7"/><circle cx="516" cy="193" r="3.7"/><circle cx="684" cy="924" r="3.7"/><circle cx="462" cy="749" r="3.7"/><circle cx="471" cy="273" r="3.7"/><circle cx="696" cy="625" r="3.7"/><circle cx="608" cy="956" r="3.7"/><circle cx="734" cy="916" r="3.7"/><circle cx="489" cy="418" r="3.7"/><circle cx="568" cy="426" r="3.7"/><circle cx="502" cy="925" r="3.7"/><circle cx="437" cy="222" r="3.7"/><circle cx="330" cy="161" r="3.7"/><circle cx="589" cy="721" r="3.7"/><circle cx="553" cy="485" r="3.7"/><circle cx="563" cy="876" r="3.7"/><circle cx="527" cy="759" r="3.7"/><circle cx="476" cy="239" r="3.7"/><circle cx="335" cy="159" r="3.7"/><circle cx="309" cy="243" r="3.7"/><circle cx="748" cy="608" r="3.7"/><circle cx="597" cy="311" r="3.7"/><circle cx="351" cy="539" r="3.7"/><circle cx="672" cy="802" r="3.7"/><circle cx="399" cy="193" r="3.7"/><circle cx="446" cy="420" r="3.7"/><circle cx="686" cy="390" r="3.7"/><circle cx="449" cy="601" r="3.7"/><circle cx="705" cy="373" r="3.7"/><circle cx="765" cy="484" r="3.7"/><circle cx="545" cy="625" r="3.7"/><circle cx="508" cy="411" r="3.7"/><circle cx="503" cy="750" r="3.7"/><circle cx="833" cy="853" r="3.7"/><circle cx="548" cy="352" r="3.7"/><circle cx="442" cy="329" r="3.7"/><circle cx="581" cy="621" r="3.7"/><circle cx="670" cy="691" r="3.7"/><circle cx="773" cy="779" r="3.7"/><circle cx="493" cy="362" r="3.7"/><circle cx="319" cy="450" r="3.7"/><circle cx="569" cy="539" r="3.7"/><circle cx="406" cy="262" r="3.7"/><circle cx="414" cy="389" r="3.7"/><circle cx="364" cy="206" r="3.7"/><circle cx="568" cy="791" r="3.7"/><circle cx="812" cy="907" r="3.7"/><circle cx="562" cy="547" r="3.7"/><circle cx="468" cy="422" r="3.7"/><circle cx="416" cy="262" r="3.7"/><circle cx="561" cy="309" r="3.7"/><circle cx="707" cy="580" r="3.7"/><circle cx="534" cy="270" r="3.7"/><circle cx="551" cy="334" r="3.7"/><circle cx="570" cy="511" r="3.7"/><circle cx="574" cy="285" r="3.7"/><circle cx="540" cy="782" r="3.7"/><circle cx="641" cy="277" r="3.7"/><circle cx="764" cy="781" r="3.7"/><circle cx="548" cy="204" r="3.7"/><circle cx="484" cy="719" r="3.7"/><circle cx="760" cy="431" r="3.7"/><circle cx="657" cy="758" r="3.7"/><circle cx="487" cy="220" r="3.7"/><circle cx="475" cy="228" r="3.7"/><circle cx="585" cy="583" r="3.7"/><circle cx="621" cy="777" r="3.7"/><circle cx="536" cy="594" r="3.7"/><circle cx="461" cy="269" r="3.7"/><circle cx="487" cy="406" r="3.7"/><circle cx="707" cy="595" r="3.7"/><circle cx="472" cy="396" r="3.7"/><circle cx="494" cy="228" r="3.7"/><circle cx="509" cy="837" r="3.7"/><circle cx="211" cy="204" r="3.7"/><circle cx="491" cy="374" r="3.7"/><circle cx="662" cy="394" r="3.7"/><circle cx="360" cy="219" r="3.7"/><circle cx="491" cy="715" r="3.7"/><circle cx="628" cy="606" r="3.7"/><circle cx="339" cy="181" r="3.7"/><circle cx="515" cy="426" r="3.7"/><circle cx="537" cy="511" r="3.7"/><circle cx="570" cy="502" r="3.7"/><circle cx="683" cy="692" r="3.7"/><circle cx="602" cy="502" r="3.7"/><circle cx="485" cy="295" r="3.7"/><circle cx="654" cy="390" r="3.7"/><circle cx="596" cy="368" r="3.7"/><circle cx="145" cy="166" r="3.7"/><circle cx="389" cy="483" r="3.7"/><circle cx="319" cy="166" r="3.7"/><circle cx="266" cy="265" r="3.7"/><circle cx="512" cy="331" r="3.7"/><circle cx="676" cy="706" r="3.7"/><circle cx="343" cy="209" r="3.7"/><circle cx="549" cy="198" r="3.7"/><circle cx="626" cy="791" r="3.7"/><circle cx="399" cy="269" r="3.7"/><circle cx="659" cy="424" r="3.7"/><circle cx="354" cy="202" r="3.7"/><circle cx="691" cy="519" r="3.7"/><circle cx="577" cy="722" r="3.7"/><circle cx="536" cy="467" r="3.7"/><circle cx="576" cy="564" r="3.7"/><circle cx="402" cy="197" r="3.7"/><circle cx="302" cy="414" r="3.7"/><circle cx="466" cy="425" r="3.7"/><circle cx="508" cy="584" r="3.7"/><circle cx="471" cy="275" r="3.7"/><circle cx="586" cy="645" r="3.7"/><circle cx="675" cy="698" r="3.7"/><circle cx="488" cy="597" r="3.7"/><circle cx="415" cy="195" r="3.7"/><circle cx="253" cy="164" r="3.7"/><circle cx="477" cy="824" r="3.7"/><circle cx="266" cy="415" r="3.7"/><circle cx="549" cy="933" r="3.7"/><circle cx="521" cy="313" r="3.7"/><circle cx="293" cy="326" r="3.7"/><circle cx="491" cy="349" r="3.7"/><circle cx="651" cy="776" r="3.7"/><circle cx="636" cy="714" r="3.7"/><circle cx="756" cy="678" r="3.7"/><circle cx="673" cy="655" r="3.7"/><circle cx="524" cy="424" r="3.7"/><circle cx="501" cy="588" r="3.7"/><circle cx="471" cy="676" r="3.7"/><circle cx="530" cy="489" r="3.7"/><circle cx="487" cy="631" r="3.7"/><circle cx="441" cy="210" r="3.7"/><circle cx="454" cy="595" r="3.7"/><circle cx="642" cy="299" r="3.7"/><circle cx="640" cy="669" r="3.7"/><circle cx="344" cy="204" r="3.7"/><circle cx="585" cy="799" r="3.7"/><circle cx="531" cy="340" r="3.7"/><circle cx="502" cy="603" r="3.7"/><circle cx="428" cy="350" r="3.7"/><circle cx="488" cy="216" r="3.7"/><circle cx="503" cy="258" r="3.7"/><circle cx="666" cy="617" r="3.7"/><circle cx="467" cy="478" r="3.7"/><circle cx="365" cy="170" r="3.7"/><circle cx="696" cy="745" r="3.7"/><circle cx="567" cy="297" r="3.7"/><circle cx="482" cy="288" r="3.7"/><circle cx="793" cy="701" r="3.7"/><circle cx="655" cy="366" r="3.7"/><circle cx="690" cy="706" r="3.7"/><circle cx="556" cy="467" r="3.7"/><circle cx="575" cy="394" r="3.7"/><circle cx="505" cy="593" r="3.7"/><circle cx="400" cy="418" r="3.7"/><circle cx="221" cy="163" r="3.7"/><circle cx="514" cy="184" r="3.7"/><circle cx="459" cy="407" r="3.7"/><circle cx="523" cy="778" r="3.7"/><circle cx="567" cy="593" r="3.7"/><circle cx="541" cy="465" r="3.7"/><circle cx="547" cy="227" r="3.7"/><circle cx="283" cy="203" r="3.7"/><circle cx="575" cy="725" r="3.7"/><circle cx="561" cy="504" r="3.7"/><circle cx="480" cy="347" r="3.7"/><circle cx="514" cy="304" r="3.7"/><circle cx="429" cy="261" r="3.7"/><circle cx="565" cy="289" r="3.7"/><circle cx="492" cy="815" r="3.7"/><circle cx="553" cy="658" r="3.7"/><circle cx="342" cy="222" r="3.7"/><circle cx="346" cy="210" r="3.7"/><circle cx="593" cy="351" r="3.7"/><circle cx="617" cy="618" r="3.7"/><circle cx="601" cy="563" r="3.7"/><circle cx="279" cy="155" r="3.7"/><circle cx="635" cy="726" r="3.7"/><circle cx="521" cy="404" r="3.7"/><circle cx="349" cy="194" r="3.7"/><circle cx="743" cy="962" r="3.7"/><circle cx="291" cy="178" r="3.7"/><circle cx="330" cy="165" r="3.7"/><circle cx="505" cy="539" r="3.7"/><circle cx="630" cy="472" r="3.7"/><circle cx="417" cy="245" r="3.7"/><circle cx="514" cy="304" r="3.7"/><circle cx="317" cy="221" r="3.7"/><circle cx="349" cy="140" r="3.7"/><circle cx="402" cy="290" r="3.7"/><circle cx="204" cy="168" r="3.7"/><circle cx="722" cy="889" r="3.7"/><circle cx="566" cy="787" r="3.7"/><circle cx="555" cy="406" r="3.7"/><circle cx="478" cy="484" r="3.7"/><circle cx="495" cy="633" r="3.7"/><circle cx="514" cy="454" r="3.7"/><circle cx="303" cy="168" r="3.7"/><circle cx="308" cy="135" r="3.7"/><circle cx="506" cy="330" r="3.7"/><circle cx="419" cy="187" r="3.7"/><circle cx="471" cy="346" r="3.7"/><circle cx="450" cy="570" r="3.7"/><circle cx="548" cy="625" r="3.7"/><circle cx="456" cy="511" r="3.7"/><circle cx="321" cy="161" r="3.7"/><circle cx="499" cy="745" r="3.7"/><circle cx="516" cy="289" r="3.7"/><circle cx="595" cy="572" r="3.7"/><circle cx="373" cy="350" r="3.7"/><circle cx="373" cy="267" r="3.7"/><circle cx="516" cy="544" r="3.7"/><circle cx="440" cy="314" r="3.7"/><circle cx="472" cy="231" r="3.7"/><circle cx="441" cy="355" r="3.7"/><circle cx="840" cy="291" r="3.7"/><circle cx="623" cy="481" r="3.7"/><circle cx="289" cy="278" r="3.7"/><circle cx="506" cy="447" r="3.7"/><circle cx="542" cy="715" r="3.7"/><circle cx="491" cy="294" r="3.7"/><circle cx="590" cy="316" r="3.7"/><circle cx="304" cy="179" r="3.7"/><circle cx="705" cy="373" r="3.7"/><circle cx="372" cy="256" r="3.7"/><circle cx="476" cy="497" r="3.7"/><circle cx="554" cy="324" r="3.7"/><circle cx="503" cy="600" r="3.7"/><circle cx="418" cy="616" r="3.7"/><circle cx="472" cy="349" r="3.7"/><circle cx="502" cy="475" r="3.7"/><circle cx="485" cy="340" r="3.7"/><circle cx="376" cy="163" r="3.7"/><circle cx="378" cy="384" r="3.7"/><circle cx="536" cy="382" r="3.7"/><circle cx="558" cy="418" r="3.7"/><circle cx="210" cy="182" r="3.7"/><circle cx="241" cy="215" r="3.7"/><circle cx="554" cy="519" r="3.7"/><circle cx="386" cy="608" r="3.7"/><circle cx="324" cy="306" r="3.7"/><circle cx="612" cy="220" r="3.7"/><circle cx="459" cy="308" r="3.7"/><circle cx="521" cy="420" r="3.7"/><circle cx="516" cy="578" r="3.7"/><circle cx="452" cy="320" r="3.7"/><circle cx="580" cy="908" r="3.7"/><circle cx="449" cy="200" r="3.7"/><circle cx="487" cy="438" r="3.7"/><circle cx="284" cy="159" r="3.7"/><circle cx="553" cy="520" r="3.7"/><circle cx="580" cy="781" r="3.7"/><circle cx="683" cy="614" r="3.7"/><circle cx="490" cy="509" r="3.7"/><circle cx="655" cy="756" r="3.7"/><circle cx="623" cy="426" r="3.7"/><circle cx="403" cy="181" r="3.7"/><circle cx="355" cy="293" r="3.7"/><circle cx="560" cy="399" r="3.7"/><circle cx="620" cy="337" r="3.7"/><circle cx="499" cy="238" r="3.7"/><circle cx="427" cy="354" r="3.7"/><circle cx="471" cy="221" r="3.7"/><circle cx="539" cy="335" r="3.7"/><circle cx="650" cy="520" r="3.7"/><circle cx="571" cy="418" r="3.7"/><circle cx="725" cy="902" r="3.7"/><circle cx="568" cy="250" r="3.7"/><circle cx="366" cy="353" r="3.7"/><circle cx="559" cy="481" r="3.7"/><circle cx="290" cy="253" r="3.7"/><circle cx="493" cy="395" r="3.7"/><circle cx="537" cy="794" r="3.7"/><circle cx="409" cy="191" r="3.7"/><circle cx="437" cy="305" r="3.7"/><circle cx="300" cy="230" r="3.7"/><circle cx="349" cy="216" r="3.7"/><circle cx="676" cy="795" r="3.7"/><circle cx="578" cy="483" r="3.7"/><circle cx="368" cy="237" r="3.7"/><circle cx="521" cy="458" r="3.7"/><circle cx="486" cy="233" r="3.7"/><circle cx="526" cy="385" r="3.7"/><circle cx="445" cy="525" r="3.7"/><circle cx="582" cy="548" r="3.7"/><circle cx="600" cy="387" r="3.7"/><circle cx="503" cy="285" r="3.7"/><circle cx="665" cy="695" r="3.7"/><circle cx="582" cy="492" r="3.7"/><circle cx="606" cy="356" r="3.7"/><circle cx="322" cy="169" r="3.7"/><circle cx="565" cy="293" r="3.7"/><circle cx="257" cy="362" r="3.7"/><circle cx="452" cy="353" r="3.7"/><circle cx="486" cy="774" r="3.7"/><circle cx="383" cy="247" r="3.7"/><circle cx="332" cy="226" r="3.7"/><circle cx="458" cy="225" r="3.7"/><circle cx="475" cy="588" r="3.7"/><circle cx="434" cy="319" r="3.7"/><circle cx="482" cy="609" r="3.7"/><circle cx="658" cy="655" r="3.7"/><circle cx="612" cy="528" r="3.7"/><circle cx="426" cy="569" r="3.7"/><circle cx="506" cy="939" r="3.7"/><circle cx="560" cy="421" r="3.7"/><circle cx="513" cy="394" r="3.7"/><circle cx="332" cy="188" r="3.7"/><circle cx="543" cy="236" r="3.7"/><circle cx="537" cy="718" r="3.7"/><circle cx="278" cy="211" r="3.7"/><circle cx="470" cy="815" r="3.7"/><circle cx="444" cy="443" r="3.7"/><circle cx="532" cy="409" r="3.7"/><circle cx="564" cy="579" r="3.7"/><circle cx="297" cy="232" r="3.7"/><circle cx="373" cy="207" r="3.7"/><circle cx="525" cy="533" r="3.7"/><circle cx="563" cy="589" r="3.7"/><circle cx="531" cy="696" r="3.7"/><circle cx="573" cy="484" r="3.7"/><circle cx="332" cy="363" r="3.7"/><circle cx="481" cy="544" r="3.7"/><circle cx="595" cy="747" r="3.7"/><circle cx="555" cy="487" r="3.7"/><circle cx="362" cy="301" r="3.7"/><circle cx="593" cy="579" r="3.7"/><circle cx="531" cy="945" r="3.7"/><circle cx="593" cy="546" r="3.7"/><circle cx="808" cy="729" r="3.7"/><circle cx="532" cy="520" r="3.7"/><circle cx="474" cy="477" r="3.7"/><circle cx="427" cy="614" r="3.7"/><circle cx="583" cy="418" r="3.7"/><circle cx="441" cy="497" r="3.7"/><circle cx="560" cy="547" r="3.7"/><circle cx="796" cy="609" r="3.7"/><circle cx="461" cy="294" r="3.7"/><circle cx="679" cy="699" r="3.7"/><circle cx="600" cy="970" r="3.7"/><circle cx="703" cy="286" r="3.7"/><circle cx="217" cy="216" r="3.7"/><circle cx="661" cy="630" r="3.7"/><circle cx="345" cy="188" r="3.7"/><circle cx="473" cy="213" r="3.7"/><circle cx="603" cy="630" r="3.7"/><circle cx="696" cy="897" r="3.7"/><circle cx="505" cy="411" r="3.7"/><circle cx="478" cy="265" r="3.7"/><circle cx="563" cy="445" r="3.7"/><circle cx="526" cy="410" r="3.7"/><circle cx="553" cy="774" r="3.7"/><circle cx="408" cy="267" r="3.7"/><circle cx="800" cy="761" r="3.7"/><circle cx="579" cy="624" r="3.7"/><circle cx="534" cy="482" r="3.7"/><circle cx="390" cy="227" r="3.7"/><circle cx="982" cy="887" r="3.7"/><circle cx="476" cy="421" r="3.7"/><circle cx="474" cy="347" r="3.7"/><circle cx="584" cy="396" r="3.7"/><circle cx="553" cy="387" r="3.7"/><circle cx="545" cy="315" r="3.7"/><circle cx="368" cy="170" r="3.7"/><circle cx="597" cy="580" r="3.7"/><circle cx="468" cy="405" r="3.7"/><circle cx="572" cy="772" r="3.7"/><circle cx="559" cy="558" r="3.7"/><circle cx="414" cy="341" r="3.7"/><circle cx="362" cy="188" r="3.7"/><circle cx="553" cy="440" r="3.7"/><circle cx="632" cy="599" r="3.7"/><circle cx="589" cy="524" r="3.7"/><circle cx="549" cy="693" r="3.7"/><circle cx="620" cy="168" r="3.7"/><circle cx="550" cy="603" r="3.7"/><circle cx="580" cy="337" r="3.7"/><circle cx="230" cy="168" r="3.7"/><circle cx="652" cy="791" r="3.7"/><circle cx="678" cy="773" r="3.7"/><circle cx="570" cy="484" r="3.7"/><circle cx="586" cy="387" r="3.7"/><circle cx="232" cy="138" r="3.7"/><circle cx="455" cy="641" r="3.7"/><circle cx="400" cy="482" r="3.7"/><circle cx="518" cy="474" r="3.7"/><circle cx="436" cy="170" r="3.7"/><circle cx="516" cy="512" r="3.7"/><circle cx="463" cy="725" r="3.7"/><circle cx="440" cy="299" r="3.7"/><circle cx="644" cy="478" r="3.7"/><circle cx="586" cy="533" r="3.7"/><circle cx="435" cy="301" r="3.7"/><circle cx="425" cy="519" r="3.7"/><circle cx="346" cy="272" r="3.7"/><circle cx="373" cy="300" r="3.7"/><circle cx="492" cy="643" r="3.7"/><circle cx="421" cy="465" r="3.7"/><circle cx="531" cy="244" r="3.7"/><circle cx="580" cy="328" r="3.7"/><circle cx="418" cy="188" r="3.7"/><circle cx="620" cy="638" r="3.7"/><circle cx="504" cy="746" r="3.7"/><circle cx="524" cy="508" r="3.7"/><circle cx="763" cy="976" r="3.7"/><circle cx="470" cy="544" r="3.7"/><circle cx="509" cy="500" r="3.7"/><circle cx="585" cy="599" r="3.7"/><circle cx="550" cy="401" r="3.7"/><circle cx="320" cy="182" r="3.7"/><circle cx="563" cy="439" r="3.7"/><circle cx="548" cy="438" r="3.7"/><circle cx="532" cy="645" r="3.7"/><circle cx="637" cy="744" r="3.7"/><circle cx="356" cy="290" r="3.7"/><circle cx="799" cy="342" r="3.7"/><circle cx="529" cy="544" r="3.7"/><circle cx="427" cy="185" r="3.7"/><circle cx="645" cy="289" r="3.7"/><circle cx="548" cy="739" r="3.7"/><circle cx="302" cy="211" r="3.7"/><circle cx="281" cy="211" r="3.7"/><circle cx="448" cy="279" r="3.7"/><circle cx="709" cy="242" r="3.7"/><circle cx="585" cy="311" r="3.7"/><circle cx="520" cy="655" r="3.7"/><circle cx="496" cy="590" r="3.7"/><circle cx="512" cy="431" r="3.7"/><circle cx="838" cy="732" r="3.7"/><circle cx="525" cy="464" r="3.7"/><circle cx="473" cy="295" r="3.7"/><circle cx="381" cy="136" r="3.7"/><circle cx="279" cy="565" r="3.7"/><circle cx="650" cy="644" r="3.7"/><circle cx="326" cy="191" r="3.7"/><circle cx="522" cy="420" r="3.7"/><circle cx="506" cy="555" r="3.7"/><circle cx="508" cy="775" r="3.7"/><circle cx="483" cy="665" r="3.7"/><circle cx="684" cy="289" r="3.7"/><circle cx="571" cy="682" r="3.7"/><circle cx="552" cy="456" r="3.7"/><circle cx="516" cy="397" r="3.7"/><circle cx="628" cy="682" r="3.7"/><circle cx="401" cy="203" r="3.7"/><circle cx="547" cy="713" r="3.7"/><circle cx="568" cy="569" r="3.7"/><circle cx="478" cy="597" r="3.7"/><circle cx="363" cy="217" r="3.7"/><circle cx="562" cy="487" r="3.7"/><circle cx="521" cy="425" r="3.7"/><circle cx="404" cy="326" r="3.7"/><circle cx="569" cy="374" r="3.7"/><circle cx="499" cy="611" r="3.7"/><circle cx="498" cy="318" r="3.7"/><circle cx="724" cy="945" r="3.7"/><circle cx="607" cy="333" r="3.7"/><circle cx="540" cy="403" r="3.7"/><circle cx="866" cy="740" r="3.7"/><circle cx="487" cy="507" r="3.7"/><circle cx="456" cy="215" r="3.7"/><circle cx="560" cy="627" r="3.7"/><circle cx="515" cy="556" r="3.7"/><circle cx="529" cy="596" r="3.7"/><circle cx="506" cy="694" r="3.7"/><circle cx="288" cy="166" r="3.7"/><circle cx="512" cy="766" r="3.7"/><circle cx="633" cy="780" r="3.7"/><circle cx="206" cy="209" r="3.7"/><circle cx="579" cy="649" r="3.7"/><circle cx="506" cy="619" r="3.7"/><circle cx="347" cy="237" r="3.7"/><circle cx="606" cy="799" r="3.7"/><circle cx="357" cy="200" r="3.7"/><circle cx="448" cy="470" r="3.7"/><circle cx="821" cy="820" r="3.7"/><circle cx="356" cy="396" r="3.7"/><circle cx="309" cy="206" r="3.7"/><circle cx="432" cy="204" r="3.7"/><circle cx="332" cy="231" r="3.7"/><circle cx="525" cy="674" r="3.7"/><circle cx="417" cy="382" r="3.7"/><circle cx="565" cy="722" r="3.7"/><circle cx="696" cy="254" r="3.7"/><circle cx="511" cy="257" r="3.7"/><circle cx="542" cy="574" r="3.7"/><circle cx="459" cy="307" r="3.7"/><circle cx="405" cy="423" r="3.7"/><circle cx="542" cy="687" r="3.7"/><circle cx="662" cy="721" r="3.7"/><circle cx="480" cy="258" r="3.7"/><circle cx="630" cy="336" r="3.7"/><circle cx="530" cy="281" r="3.7"/><circle cx="603" cy="938" r="3.7"/><circle cx="546" cy="280" r="3.7"/><circle cx="532" cy="678" r="3.7"/><circle cx="550" cy="571" r="3.7"/><circle cx="236" cy="229" r="3.7"/><circle cx="731" cy="886" r="3.7"/><circle cx="527" cy="269" r="3.7"/><circle cx="373" cy="346" r="3.7"/><circle cx="232" cy="114" r="3.7"/><circle cx="513" cy="268" r="3.7"/><circle cx="499" cy="558" r="3.7"/><circle cx="511" cy="828" r="3.7"/><circle cx="822" cy="815" r="3.7"/><circle cx="613" cy="887" r="3.7"/><circle cx="727" cy="905" r="3.7"/><circle cx="508" cy="445" r="3.7"/><circle cx="380" cy="147" r="3.7"/><circle cx="481" cy="419" r="3.7"/><circle cx="594" cy="751" r="3.7"/><circle cx="553" cy="872" r="3.7"/><circle cx="357" cy="198" r="3.7"/><circle cx="493" cy="374" r="3.7"/><circle cx="552" cy="388" r="3.7"/><circle cx="802" cy="534" r="3.7"/><circle cx="580" cy="613" r="3.7"/><circle cx="470" cy="570" r="3.7"/><circle cx="628" cy="152" r="3.7"/><circle cx="350" cy="190" r="3.7"/><circle cx="396" cy="280" r="3.7"/><circle cx="507" cy="557" r="3.7"/><circle cx="565" cy="526" r="3.7"/><circle cx="684" cy="612" r="3.7"/><circle cx="549" cy="321" r="3.7"/><circle cx="343" cy="246" r="3.7"/><circle cx="506" cy="594" r="3.7"/><circle cx="534" cy="436" r="3.7"/><circle cx="526" cy="257" r="3.7"/><circle cx="590" cy="675" r="3.7"/><circle cx="297" cy="301" r="3.7"/><circle cx="513" cy="465" r="3.7"/><circle cx="489" cy="478" r="3.7"/><circle cx="568" cy="294" r="3.7"/><circle cx="573" cy="504" r="3.7"/><circle cx="628" cy="829" r="3.7"/><circle cx="561" cy="267" r="3.7"/><circle cx="279" cy="213" r="3.7"/><circle cx="512" cy="828" r="3.7"/><circle cx="305" cy="195" r="3.7"/><circle cx="688" cy="736" r="3.7"/><circle cx="498" cy="366" r="3.7"/><circle cx="572" cy="643" r="3.7"/><circle cx="252" cy="162" r="3.7"/><circle cx="527" cy="785" r="3.7"/><circle cx="276" cy="180" r="3.7"/><circle cx="414" cy="236" r="3.7"/><circle cx="785" cy="746" r="3.7"/><circle cx="521" cy="384" r="3.7"/><circle cx="421" cy="221" r="3.7"/><circle cx="582" cy="819" r="3.7"/><circle cx="567" cy="375" r="3.7"/><circle cx="762" cy="687" r="3.7"/><circle cx="507" cy="256" r="3.7"/><circle cx="493" cy="525" r="3.7"/><circle cx="707" cy="804" r="3.7"/><circle cx="708" cy="807" r="3.7"/><circle cx="509" cy="495" r="3.7"/><circle cx="675" cy="319" r="3.7"/><circle cx="448" cy="272" r="3.7"/><circle cx="709" cy="674" r="3.7"/><circle cx="200" cy="206" r="3.7"/><circle cx="592" cy="505" r="3.7"/><circle cx="317" cy="243" r="3.7"/><circle cx="654" cy="313" r="3.7"/><circle cx="523" cy="537" r="3.7"/><circle cx="635" cy="610" r="3.7"/><circle cx="655" cy="318" r="3.7"/><circle cx="352" cy="253" r="3.7"/><circle cx="670" cy="520" r="3.7"/><circle cx="773" cy="552" r="3.7"/><circle cx="402" cy="176" r="3.7"/><circle cx="548" cy="832" r="3.7"/><circle cx="445" cy="454" r="3.7"/><circle cx="504" cy="370" r="3.7"/><circle cx="688" cy="841" r="3.7"/><circle cx="490" cy="672" r="3.7"/><circle cx="565" cy="329" r="3.7"/><circle cx="467" cy="232" r="3.7"/><circle cx="790" cy="801" r="3.7"/><circle cx="570" cy="635" r="3.7"/><circle cx="349" cy="191" r="3.7"/><circle cx="548" cy="409" r="3.7"/><circle cx="492" cy="342" r="3.7"/><circle cx="522" cy="285" r="3.7"/><circle cx="505" cy="438" r="3.7"/><circle cx="738" cy="594" r="3.7"/><circle cx="474" cy="526" r="3.7"/><circle cx="657" cy="480" r="3.7"/><circle cx="457" cy="283" r="3.7"/><circle cx="709" cy="512" r="3.7"/><circle cx="577" cy="331" r="3.7"/><circle cx="444" cy="193" r="3.7"/><circle cx="457" cy="408" r="3.7"/><circle cx="669" cy="335" r="3.7"/><circle cx="492" cy="576" r="3.7"/><circle cx="657" cy="395" r="3.7"/><circle cx="548" cy="774" r="3.7"/><circle cx="552" cy="328" r="3.7"/><circle cx="416" cy="288" r="3.7"/><circle cx="493" cy="637" r="3.7"/><circle cx="407" cy="390" r="3.7"/><circle cx="500" cy="920" r="3.7"/><circle cx="516" cy="438" r="3.7"/><circle cx="441" cy="276" r="3.7"/><circle cx="560" cy="409" r="3.7"/><circle cx="352" cy="187" r="3.7"/><circle cx="249" cy="227" r="3.7"/><circle cx="639" cy="662" r="3.7"/><circle cx="381" cy="379" r="3.7"/><circle cx="503" cy="268" r="3.7"/><circle cx="579" cy="459" r="3.7"/><circle cx="604" cy="313" r="3.7"/><circle cx="485" cy="644" r="3.7"/><circle cx="460" cy="442" r="3.7"/><circle cx="314" cy="179" r="3.7"/><circle cx="689" cy="695" r="3.7"/><circle cx="523" cy="632" r="3.7"/><circle cx="538" cy="640" r="3.7"/><circle cx="524" cy="358" r="3.7"/><circle cx="649" cy="424" r="3.7"/><circle cx="432" cy="843" r="3.7"/><circle cx="529" cy="289" r="3.7"/><circle cx="588" cy="554" r="3.7"/><circle cx="556" cy="376" r="3.7"/><circle cx="777" cy="762" r="3.7"/><circle cx="549" cy="534" r="3.7"/><circle cx="507" cy="501" r="3.7"/><circle cx="402" cy="584" r="3.7"/><circle cx="523" cy="317" r="3.7"/><circle cx="495" cy="428" r="3.7"/><circle cx="408" cy="402" r="3.7"/><circle cx="242" cy="191" r="3.7"/><circle cx="636" cy="301" r="3.7"/><circle cx="373" cy="173" r="3.7"/><circle cx="453" cy="302" r="3.7"/><circle cx="458" cy="368" r="3.7"/><circle cx="681" cy="670" r="3.7"/><circle cx="366" cy="199" r="3.7"/><circle cx="475" cy="361" r="3.7"/><circle cx="594" cy="637" r="3.7"/><circle cx="254" cy="152" r="3.7"/><circle cx="543" cy="297" r="3.7"/><circle cx="417" cy="225" r="3.7"/><circle cx="572" cy="394" r="3.7"/><circle cx="875" cy="870" r="3.7"/><circle cx="618" cy="491" r="3.7"/><circle cx="653" cy="642" r="3.7"/><circle cx="381" cy="284" r="3.7"/><circle cx="474" cy="633" r="3.7"/><circle cx="537" cy="599" r="3.7"/><circle cx="569" cy="319" r="3.7"/><circle cx="437" cy="659" r="3.7"/><circle cx="353" cy="144" r="3.7"/><circle cx="520" cy="648" r="3.7"/><circle cx="612" cy="646" r="3.7"/><circle cx="503" cy="495" r="3.7"/><circle cx="527" cy="518" r="3.7"/><circle cx="382" cy="190" r="3.7"/><circle cx="652" cy="494" r="3.7"/><circle cx="621" cy="641" r="3.7"/><circle cx="538" cy="430" r="3.7"/><circle cx="507" cy="486" r="3.7"/><circle cx="511" cy="318" r="3.7"/><circle cx="420" cy="254" r="3.7"/><circle cx="577" cy="706" r="3.7"/><circle cx="549" cy="586" r="3.7"/><circle cx="667" cy="643" r="3.7"/><circle cx="562" cy="691" r="3.7"/><circle cx="488" cy="267" r="3.7"/><circle cx="496" cy="353" r="3.7"/><circle cx="512" cy="378" r="3.7"/><circle cx="296" cy="170" r="3.7"/><circle cx="341" cy="284" r="3.7"/><circle cx="705" cy="933" r="3.7"/><circle cx="499" cy="454" r="3.7"/><circle cx="680" cy="439" r="3.7"/><circle cx="765" cy="698" r="3.7"/><circle cx="551" cy="329" r="3.7"/><circle cx="668" cy="707" r="3.7"/><circle cx="391" cy="481" r="3.7"/><circle cx="441" cy="196" r="3.7"/><circle cx="533" cy="600" r="3.7"/><circle cx="489" cy="634" r="3.7"/><circle cx="480" cy="390" r="3.7"/><circle cx="552" cy="552" r="3.7"/><circle cx="423" cy="295" r="3.7"/><circle cx="572" cy="962" r="3.7"/><circle cx="360" cy="175" r="3.7"/><circle cx="313" cy="326" r="3.7"/><circle cx="471" cy="616" r="3.7"/><circle cx="621" cy="588" r="3.7"/><circle cx="601" cy="598" r="3.7"/><circle cx="496" cy="807" r="3.7"/><circle cx="451" cy="211" r="3.7"/><circle cx="544" cy="388" r="3.7"/><circle cx="492" cy="581" r="3.7"/><circle cx="366" cy="334" r="3.7"/><circle cx="489" cy="607" r="3.7"/><circle cx="587" cy="873" r="3.7"/><circle cx="309" cy="228" r="3.7"/><circle cx="576" cy="485" r="3.7"/><circle cx="377" cy="390" r="3.7"/><circle cx="468" cy="275" r="3.7"/><circle cx="265" cy="146" r="3.7"/><circle cx="715" cy="602" r="3.7"/><circle cx="623" cy="685" r="3.7"/><circle cx="448" cy="399" r="3.7"/><circle cx="538" cy="559" r="3.7"/><circle cx="794" cy="786" r="3.7"/><circle cx="519" cy="222" r="3.7"/><circle cx="358" cy="212" r="3.7"/><circle cx="444" cy="381" r="3.7"/><circle cx="629" cy="944" r="3.7"/><circle cx="521" cy="498" r="3.7"/><circle cx="669" cy="320" r="3.7"/><circle cx="355" cy="261" r="3.7"/><circle cx="545" cy="617" r="3.7"/><circle cx="186" cy="140" r="3.7"/><circle cx="374" cy="365" r="3.7"/><circle cx="427" cy="223" r="3.7"/><circle cx="597" cy="527" r="3.7"/><circle cx="523" cy="299" r="3.7"/><circle cx="453" cy="745" r="3.7"/><circle cx="627" cy="913" r="3.7"/><circle cx="538" cy="683" r="3.7"/><circle cx="535" cy="304" r="3.7"/><circle cx="518" cy="582" r="3.7"/><circle cx="270" cy="161" r="3.7"/><circle cx="558" cy="642" r="3.7"/><circle cx="674" cy="484" r="3.7"/><circle cx="724" cy="941" r="3.7"/><circle cx="509" cy="635" r="3.7"/><circle cx="556" cy="523" r="3.7"/><circle cx="530" cy="466" r="3.7"/><circle cx="555" cy="325" r="3.7"/><circle cx="573" cy="427" r="3.7"/><circle cx="554" cy="509" r="3.7"/><circle cx="340" cy="241" r="3.7"/><circle cx="670" cy="807" r="3.7"/><circle cx="612" cy="618" r="3.7"/><circle cx="684" cy="634" r="3.7"/><circle cx="469" cy="718" r="3.7"/><circle cx="558" cy="818" r="3.7"/><circle cx="470" cy="481" r="3.7"/><circle cx="590" cy="568" r="3.7"/><circle cx="568" cy="591" r="3.7"/><circle cx="464" cy="463" r="3.7"/><circle cx="562" cy="950" r="3.7"/><circle cx="531" cy="511" r="3.7"/><circle cx="471" cy="296" r="3.7"/><circle cx="544" cy="675" r="3.7"/><circle cx="493" cy="466" r="3.7"/><circle cx="687" cy="660" r="3.7"/><circle cx="531" cy="790" r="3.7"/><circle cx="852" cy="693" r="3.7"/><circle cx="821" cy="871" r="3.7"/><circle cx="545" cy="280" r="3.7"/><circle cx="377" cy="116" r="3.7"/><circle cx="445" cy="360" r="3.7"/><circle cx="522" cy="645" r="3.7"/><circle cx="312" cy="173" r="3.7"/><circle cx="475" cy="424" r="3.7"/><circle cx="338" cy="208" r="3.7"/><circle cx="584" cy="624" r="3.7"/><circle cx="513" cy="330" r="3.7"/><circle cx="470" cy="540" r="3.7"/><circle cx="404" cy="253" r="3.7"/><circle cx="500" cy="248" r="3.7"/><circle cx="610" cy="446" r="3.7"/><circle cx="682" cy="361" r="3.7"/><circle cx="506" cy="419" r="3.7"/><circle cx="560" cy="737" r="3.7"/><circle cx="555" cy="626" r="3.7"/><circle cx="526" cy="857" r="3.7"/><circle cx="648" cy="536" r="3.7"/><circle cx="580" cy="366" r="3.7"/><circle cx="570" cy="285" r="3.7"/><circle cx="541" cy="434" r="3.7"/><circle cx="565" cy="573" r="3.7"/><circle cx="702" cy="643" r="3.7"/><circle cx="650" cy="345" r="3.7"/><circle cx="686" cy="895" r="3.7"/><circle cx="535" cy="294" r="3.7"/><circle cx="617" cy="348" r="3.7"/><circle cx="676" cy="585" r="3.7"/><circle cx="567" cy="501" r="3.7"/><circle cx="460" cy="583" r="3.7"/><circle cx="495" cy="232" r="3.7"/><circle cx="652" cy="739" r="3.7"/><circle cx="692" cy="444" r="3.7"/><circle cx="632" cy="868" r="3.7"/><circle cx="445" cy="797" r="3.7"/><circle cx="560" cy="584" r="3.7"/><circle cx="480" cy="278" r="3.7"/><circle cx="624" cy="514" r="3.7"/><circle cx="619" cy="584" r="3.7"/><circle cx="350" cy="183" r="3.7"/><circle cx="578" cy="433" r="3.7"/><circle cx="509" cy="601" r="3.7"/><circle cx="733" cy="420" r="3.7"/><circle cx="500" cy="560" r="3.7"/><circle cx="326" cy="215" r="3.7"/><circle cx="381" cy="251" r="3.7"/><circle cx="600" cy="936" r="3.7"/><circle cx="716" cy="806" r="3.7"/><circle cx="374" cy="274" r="3.7"/><circle cx="679" cy="910" r="3.7"/><circle cx="524" cy="514" r="3.7"/><circle cx="510" cy="610" r="3.7"/><circle cx="720" cy="783" r="3.7"/><circle cx="424" cy="211" r="3.7"/><circle cx="534" cy="555" r="3.7"/><circle cx="508" cy="592" r="3.7"/><circle cx="191" cy="154" r="3.7"/><circle cx="500" cy="364" r="3.7"/><circle cx="555" cy="432" r="3.7"/><circle cx="221" cy="175" r="3.7"/><circle cx="670" cy="691" r="3.7"/><circle cx="396" cy="283" r="3.7"/><circle cx="495" cy="625" r="3.7"/><circle cx="364" cy="173" r="3.7"/><circle cx="488" cy="523" r="3.7"/><circle cx="568" cy="454" r="3.7"/><circle cx="532" cy="477" r="3.7"/><circle cx="575" cy="568" r="3.7"/><circle cx="554" cy="371" r="3.7"/><circle cx="311" cy="237" r="3.7"/><circle cx="683" cy="671" r="3.7"/><circle cx="554" cy="387" r="3.7"/><circle cx="653" cy="502" r="3.7"/><circle cx="537" cy="307" r="3.7"/><circle cx="492" cy="294" r="3.7"/><circle cx="465" cy="398" r="3.7"/><circle cx="496" cy="427" r="3.7"/><circle cx="277" cy="181" r="3.7"/><circle cx="384" cy="263" r="3.7"/><circle cx="514" cy="210" r="3.7"/><circle cx="546" cy="621" r="3.7"/><circle cx="754" cy="598" r="3.7"/><circle cx="678" cy="753" r="3.7"/><circle cx="569" cy="416" r="3.7"/><circle cx="681" cy="930" r="3.7"/><circle cx="615" cy="426" r="3.7"/><circle cx="448" cy="603" r="3.7"/><circle cx="591" cy="364" r="3.7"/><circle cx="512" cy="401" r="3.7"/><circle cx="548" cy="333" r="3.7"/><circle cx="480" cy="452" r="3.7"/><circle cx="476" cy="545" r="3.7"/><circle cx="391" cy="272" r="3.7"/><circle cx="569" cy="386" r="3.7"/><circle cx="555" cy="741" r="3.7"/><circle cx="525" cy="610" r="3.7"/><circle cx="503" cy="524" r="3.7"/><circle cx="389" cy="225" r="3.7"/><circle cx="491" cy="212" r="3.7"/><circle cx="387" cy="285" r="3.7"/><circle cx="522" cy="869" r="3.7"/><circle cx="415" cy="251" r="3.7"/><circle cx="496" cy="653" r="3.7"/><circle cx="641" cy="780" r="3.7"/><circle cx="274" cy="249" r="3.7"/><circle cx="683" cy="298" r="3.7"/><circle cx="418" cy="490" r="3.7"/><circle cx="491" cy="330" r="3.7"/><circle cx="828" cy="717" r="3.7"/><circle cx="344" cy="177" r="3.7"/><circle cx="520" cy="738" r="3.7"/><circle cx="512" cy="300" r="3.7"/><circle cx="696" cy="813" r="3.7"/><circle cx="438" cy="366" r="3.7"/><circle cx="209" cy="141" r="3.7"/><circle cx="488" cy="333" r="3.7"/><circle cx="472" cy="845" r="3.7"/><circle cx="545" cy="565" r="3.7"/><circle cx="493" cy="240" r="3.7"/><circle cx="277" cy="219" r="3.7"/><circle cx="749" cy="233" r="3.7"/><circle cx="318" cy="152" r="3.7"/><circle cx="627" cy="755" r="3.7"/><circle cx="546" cy="472" r="3.7"/><circle cx="341" cy="251" r="3.7"/><circle cx="586" cy="726" r="3.7"/><circle cx="595" cy="431" r="3.7"/><circle cx="740" cy="858" r="3.7"/><circle cx="578" cy="676" r="3.7"/><circle cx="708" cy="361" r="3.7"/><circle cx="540" cy="774" r="3.7"/><circle cx="697" cy="700" r="3.7"/><circle cx="474" cy="335" r="3.7"/><circle cx="435" cy="458" r="3.7"/><circle cx="509" cy="269" r="3.7"/><circle cx="472" cy="359" r="3.7"/><circle cx="443" cy="389" r="3.7"/><circle cx="570" cy="461" r="3.7"/><circle cx="403" cy="300" r="3.7"/><circle cx="361" cy="234" r="3.7"/><circle cx="270" cy="334" r="3.7"/><circle cx="347" cy="247" r="3.7"/><circle cx="378" cy="202" r="3.7"/><circle cx="448" cy="350" r="3.7"/><circle cx="360" cy="253" r="3.7"/><circle cx="498" cy="594" r="3.7"/><circle cx="482" cy="763" r="3.7"/><circle cx="519" cy="303" r="3.7"/><circle cx="796" cy="683" r="3.7"/><circle cx="564" cy="659" r="3.7"/><circle cx="508" cy="791" r="3.7"/><circle cx="239" cy="185" r="3.7"/><circle cx="446" cy="290" r="3.7"/><circle cx="489" cy="360" r="3.7"/><circle cx="567" cy="577" r="3.7"/><circle cx="576" cy="656" r="3.7"/><circle cx="569" cy="622" r="3.7"/><circle cx="290" cy="222" r="3.7"/><circle cx="612" cy="377" r="3.7"/><circle cx="434" cy="260" r="3.7"/><circle cx="430" cy="393" r="3.7"/><circle cx="655" cy="307" r="3.7"/><circle cx="516" cy="625" r="3.7"/><circle cx="675" cy="626" r="3.7"/><circle cx="414" cy="339" r="3.7"/><circle cx="726" cy="761" r="3.7"/><circle cx="559" cy="374" r="3.7"/><circle cx="623" cy="278" r="3.7"/><circle cx="556" cy="541" r="3.7"/><circle cx="479" cy="763" r="3.7"/><circle cx="461" cy="217" r="3.7"/><circle cx="451" cy="337" r="3.7"/><circle cx="495" cy="383" r="3.7"/><circle cx="483" cy="362" r="3.7"/><circle cx="409" cy="203" r="3.7"/><circle cx="583" cy="756" r="3.7"/><circle cx="329" cy="227" r="3.7"/><circle cx="424" cy="297" r="3.7"/><circle cx="562" cy="591" r="3.7"/><circle cx="436" cy="751" r="3.7"/><circle cx="437" cy="255" r="3.7"/><circle cx="764" cy="801" r="3.7"/><circle cx="562" cy="817" r="3.7"/><circle cx="761" cy="945" r="3.7"/><circle cx="662" cy="798" r="3.7"/><circle cx="593" cy="271" r="3.7"/><circle cx="604" cy="648" r="3.7"/><circle cx="525" cy="639" r="3.7"/><circle cx="597" cy="772" r="3.7"/><circle cx="516" cy="554" r="3.7"/><circle cx="918" cy="741" r="3.7"/><circle cx="368" cy="200" r="3.7"/><circle cx="408" cy="267" r="3.7"/><circle cx="294" cy="183" r="3.7"/><circle cx="548" cy="689" r="3.7"/><circle cx="479" cy="404" r="3.7"/><circle cx="283" cy="210" r="3.7"/><circle cx="441" cy="252" r="3.7"/><circle cx="508" cy="295" r="3.7"/><circle cx="741" cy="635" r="3.7"/><circle cx="527" cy="383" r="3.7"/><circle cx="776" cy="672" r="3.7"/><circle cx="570" cy="309" r="3.7"/><circle cx="450" cy="445" r="3.7"/><circle cx="594" cy="606" r="3.7"/><circle cx="750" cy="709" r="3.7"/><circle cx="477" cy="349" r="3.7"/><circle cx="285" cy="210" r="3.7"/><circle cx="593" cy="680" r="3.7"/><circle cx="526" cy="717" r="3.7"/><circle cx="491" cy="388" r="3.7"/><circle cx="514" cy="464" r="3.7"/><circle cx="426" cy="445" r="3.7"/><circle cx="517" cy="355" r="3.7"/><circle cx="439" cy="231" r="3.7"/><circle cx="212" cy="129" r="3.7"/><circle cx="582" cy="506" r="3.7"/><circle cx="596" cy="778" r="3.7"/><circle cx="378" cy="904" r="3.7"/><circle cx="530" cy="413" r="3.7"/><circle cx="486" cy="112" r="3.7"/><circle cx="658" cy="861" r="3.7"/><circle cx="464" cy="558" r="3.7"/><circle cx="482" cy="265" r="3.7"/><circle cx="363" cy="156" r="3.7"/><circle cx="717" cy="596" r="3.7"/><circle cx="444" cy="251" r="3.7"/><circle cx="579" cy="380" r="3.7"/><circle cx="174" cy="151" r="3.7"/><circle cx="427" cy="215" r="3.7"/><circle cx="510" cy="484" r="3.7"/><circle cx="493" cy="644" r="3.7"/><circle cx="601" cy="734" r="3.7"/><circle cx="527" cy="615" r="3.7"/><circle cx="286" cy="242" r="3.7"/><circle cx="479" cy="257" r="3.7"/><circle cx="430" cy="339" r="3.7"/><circle cx="308" cy="178" r="3.7"/><circle cx="460" cy="341" r="3.7"/><circle cx="651" cy="356" r="3.7"/><circle cx="454" cy="431" r="3.7"/><circle cx="505" cy="479" r="3.7"/><circle cx="499" cy="290" r="3.7"/><circle cx="575" cy="615" r="3.7"/><circle cx="518" cy="607" r="3.7"/><circle cx="516" cy="352" r="3.7"/><circle cx="531" cy="646" r="3.7"/><circle cx="544" cy="377" r="3.7"/><circle cx="493" cy="684" r="3.7"/><circle cx="562" cy="567" r="3.7"/><circle cx="648" cy="664" r="3.7"/><circle cx="528" cy="494" r="3.7"/><circle cx="697" cy="673" r="3.7"/><circle cx="346" cy="209" r="3.7"/><circle cx="319" cy="175" r="3.7"/><circle cx="532" cy="571" r="3.7"/><circle cx="661" cy="365" r="3.7"/><circle cx="551" cy="491" r="3.7"/><circle cx="576" cy="411" r="3.7"/><circle cx="462" cy="367" r="3.7"/><circle cx="456" cy="761" r="3.7"/><circle cx="521" cy="567" r="3.7"/><circle cx="481" cy="525" r="3.7"/><circle cx="419" cy="254" r="3.7"/><circle cx="649" cy="584" r="3.7"/><circle cx="652" cy="643" r="3.7"/><circle cx="390" cy="392" r="3.7"/><circle cx="476" cy="265" r="3.7"/><circle cx="510" cy="537" r="3.7"/><circle cx="286" cy="252" r="3.7"/><circle cx="490" cy="632" r="3.7"/><circle cx="486" cy="527" r="3.7"/><circle cx="526" cy="458" r="3.7"/><circle cx="584" cy="442" r="3.7"/><circle cx="573" cy="575" r="3.7"/><circle cx="472" cy="271" r="3.7"/><circle cx="357" cy="344" r="3.7"/><circle cx="659" cy="345" r="3.7"/><circle cx="509" cy="593" r="3.7"/><circle cx="606" cy="707" r="3.7"/><circle cx="435" cy="245" r="3.7"/><circle cx="486" cy="767" r="3.7"/><circle cx="339" cy="227" r="3.7"/><circle cx="532" cy="292" r="3.7"/><circle cx="412" cy="244" r="3.7"/><circle cx="494" cy="163" r="3.7"/><circle cx="509" cy="711" r="3.7"/><circle cx="473" cy="661" r="3.7"/><circle cx="401" cy="271" r="3.7"/><circle cx="722" cy="604" r="3.7"/><circle cx="428" cy="782" r="3.7"/><circle cx="510" cy="511" r="3.7"/><circle cx="563" cy="286" r="3.7"/><circle cx="509" cy="497" r="3.7"/><circle cx="467" cy="597" r="3.7"/><circle cx="494" cy="690" r="3.7"/><circle cx="757" cy="329" r="3.7"/><circle cx="463" cy="303" r="3.7"/><circle cx="550" cy="593" r="3.7"/><circle cx="497" cy="411" r="3.7"/><circle cx="546" cy="681" r="3.7"/><circle cx="547" cy="578" r="3.7"/><circle cx="675" cy="359" r="3.7"/><circle cx="591" cy="415" r="3.7"/><circle cx="358" cy="263" r="3.7"/><circle cx="530" cy="351" r="3.7"/><circle cx="493" cy="498" r="3.7"/><circle cx="555" cy="260" r="3.7"/><circle cx="526" cy="307" r="3.7"/><circle cx="492" cy="156" r="3.7"/><circle cx="373" cy="293" r="3.7"/><circle cx="597" cy="473" r="3.7"/><circle cx="473" cy="828" r="3.7"/><circle cx="501" cy="304" r="3.7"/><circle cx="406" cy="407" r="3.7"/><circle cx="303" cy="275" r="3.7"/><circle cx="627" cy="594" r="3.7"/><circle cx="477" cy="592" r="3.7"/><circle cx="463" cy="453" r="3.7"/><circle cx="534" cy="500" r="3.7"/><circle cx="336" cy="173" r="3.7"/><circle cx="518" cy="288" r="3.7"/><circle cx="625" cy="855" r="3.7"/><circle cx="544" cy="523" r="3.7"/><circle cx="374" cy="200" r="3.7"/><circle cx="375" cy="196" r="3.7"/><circle cx="447" cy="267" r="3.7"/><circle cx="697" cy="646" r="3.7"/><circle cx="597" cy="415" r="3.7"/><circle cx="483" cy="530" r="3.7"/><circle cx="621" cy="624" r="3.7"/><circle cx="659" cy="318" r="3.7"/><circle cx="488" cy="411" r="3.7"/><circle cx="645" cy="208" r="3.7"/><circle cx="624" cy="920" r="3.7"/><circle cx="484" cy="698" r="3.7"/><circle cx="695" cy="721" r="3.7"/><circle cx="567" cy="386" r="3.7"/><circle cx="588" cy="339" r="3.7"/><circle cx="364" cy="269" r="3.7"/><circle cx="692" cy="406" r="3.7"/><circle cx="340" cy="239" r="3.7"/><circle cx="661" cy="624" r="3.7"/><circle cx="740" cy="746" r="3.7"/><circle cx="557" cy="606" r="3.7"/><circle cx="476" cy="582" r="3.7"/><circle cx="652" cy="893" r="3.7"/><circle cx="485" cy="796" r="3.7"/><circle cx="400" cy="386" r="3.7"/><circle cx="584" cy="537" r="3.7"/><circle cx="542" cy="695" r="3.7"/><circle cx="521" cy="306" r="3.7"/><circle cx="614" cy="438" r="3.7"/><circle cx="546" cy="632" r="3.7"/><circle cx="584" cy="689" r="3.7"/><circle cx="580" cy="741" r="3.7"/><circle cx="246" cy="113" r="3.7"/><circle cx="547" cy="341" r="3.7"/><circle cx="684" cy="900" r="3.7"/><circle cx="596" cy="860" r="3.7"/><circle cx="518" cy="391" r="3.7"/><circle cx="496" cy="337" r="3.7"/><circle cx="482" cy="716" r="3.7"/><circle cx="308" cy="218" r="3.7"/><circle cx="509" cy="305" r="3.7"/><circle cx="476" cy="589" r="3.7"/><circle cx="515" cy="275" r="3.7"/><circle cx="509" cy="501" r="3.7"/><circle cx="472" cy="178" r="3.7"/><circle cx="490" cy="574" r="3.7"/><circle cx="399" cy="402" r="3.7"/><circle cx="411" cy="190" r="3.7"/><circle cx="490" cy="530" r="3.7"/><circle cx="481" cy="636" r="3.7"/><circle cx="626" cy="283" r="3.7"/><circle cx="551" cy="830" r="3.7"/><circle cx="159" cy="156" r="3.7"/><circle cx="362" cy="198" r="3.7"/><circle cx="469" cy="431" r="3.7"/><circle cx="214" cy="130" r="3.7"/><circle cx="517" cy="655" r="3.7"/><circle cx="570" cy="899" r="3.7"/><circle cx="548" cy="676" r="3.7"/><circle cx="374" cy="276" r="3.7"/><circle cx="661" cy="898" r="3.7"/><circle cx="494" cy="663" r="3.7"/><circle cx="359" cy="211" r="3.7"/><circle cx="394" cy="245" r="3.7"/><circle cx="618" cy="818" r="3.7"/><circle cx="342" cy="184" r="3.7"/><circle cx="340" cy="232" r="3.7"/><circle cx="605" cy="941" r="3.7"/><circle cx="500" cy="685" r="3.7"/><circle cx="300" cy="171" r="3.7"/><circle cx="420" cy="272" r="3.7"/><circle cx="597" cy="781" r="3.7"/><circle cx="498" cy="521" r="3.7"/><circle cx="539" cy="515" r="3.7"/><circle cx="631" cy="706" r="3.7"/><circle cx="383" cy="212" r="3.7"/><circle cx="435" cy="241" r="3.7"/><circle cx="501" cy="526" r="3.7"/><circle cx="381" cy="332" r="3.7"/><circle cx="436" cy="674" r="3.7"/><circle cx="688" cy="283" r="3.7"/><circle cx="616" cy="614" r="3.7"/><circle cx="254" cy="163" r="3.7"/><circle cx="514" cy="411" r="3.7"/><circle cx="259" cy="155" r="3.7"/><circle cx="511" cy="848" r="3.7"/><circle cx="625" cy="625" r="3.7"/><circle cx="583" cy="243" r="3.7"/><circle cx="552" cy="649" r="3.7"/><circle cx="600" cy="553" r="3.7"/><circle cx="492" cy="479" r="3.7"/><circle cx="679" cy="665" r="3.7"/><circle cx="466" cy="316" r="3.7"/><circle cx="292" cy="211" r="3.7"/><circle cx="205" cy="143" r="3.7"/><circle cx="339" cy="161" r="3.7"/><circle cx="492" cy="256" r="3.7"/><circle cx="630" cy="241" r="3.7"/><circle cx="642" cy="264" r="3.7"/><circle cx="615" cy="505" r="3.7"/><circle cx="644" cy="703" r="3.7"/><circle cx="460" cy="551" r="3.7"/><circle cx="567" cy="544" r="3.7"/><circle cx="510" cy="541" r="3.7"/><circle cx="578" cy="245" r="3.7"/><circle cx="289" cy="145" r="3.7"/><circle cx="544" cy="362" r="3.7"/><circle cx="462" cy="707" r="3.7"/><circle cx="560" cy="334" r="3.7"/><circle cx="539" cy="665" r="3.7"/><circle cx="684" cy="807" r="3.7"/><circle cx="570" cy="365" r="3.7"/><circle cx="507" cy="397" r="3.7"/><circle cx="533" cy="686" r="3.7"/><circle cx="626" cy="931" r="3.7"/><circle cx="718" cy="788" r="3.7"/><circle cx="283" cy="203" r="3.7"/><circle cx="601" cy="719" r="3.7"/><circle cx="363" cy="188" r="3.7"/><circle cx="469" cy="739" r="3.7"/><circle cx="681" cy="466" r="3.7"/><circle cx="504" cy="196" r="3.7"/><circle cx="592" cy="394" r="3.7"/><circle cx="662" cy="573" r="3.7"/><circle cx="283" cy="212" r="3.7"/><circle cx="323" cy="178" r="3.7"/><circle cx="713" cy="577" r="3.7"/><circle cx="519" cy="399" r="3.7"/><circle cx="505" cy="633" r="3.7"/><circle cx="510" cy="744" r="3.7"/><circle cx="517" cy="677" r="3.7"/><circle cx="461" cy="746" r="3.7"/><circle cx="825" cy="829" r="3.7"/><circle cx="505" cy="830" r="3.7"/><circle cx="640" cy="445" r="3.7"/><circle cx="352" cy="334" r="3.7"/><circle cx="478" cy="617" r="3.7"/><circle cx="680" cy="664" r="3.7"/><circle cx="711" cy="456" r="3.7"/><circle cx="419" cy="236" r="3.7"/><circle cx="489" cy="202" r="3.7"/><circle cx="657" cy="687" r="3.7"/><circle cx="357" cy="152" r="3.7"/><circle cx="633" cy="663" r="3.7"/><circle cx="548" cy="613" r="3.7"/><circle cx="481" cy="412" r="3.7"/><circle cx="486" cy="510" r="3.7"/><circle cx="482" cy="728" r="3.7"/><circle cx="404" cy="312" r="3.7"/><circle cx="684" cy="687" r="3.7"/><circle cx="533" cy="585" r="3.7"/><circle cx="419" cy="206" r="3.7"/><circle cx="267" cy="141" r="3.7"/><circle cx="424" cy="316" r="3.7"/><circle cx="892" cy="524" r="3.7"/><circle cx="609" cy="540" r="3.7"/><circle cx="557" cy="503" r="3.7"/><circle cx="447" cy="248" r="3.7"/><circle cx="475" cy="575" r="3.7"/><circle cx="427" cy="251" r="3.7"/><circle cx="638" cy="336" r="3.7"/><circle cx="515" cy="418" r="3.7"/><circle cx="470" cy="887" r="3.7"/><circle cx="470" cy="442" r="3.7"/><circle cx="693" cy="523" r="3.7"/><circle cx="483" cy="422" r="3.7"/><circle cx="632" cy="439" r="3.7"/><circle cx="539" cy="328" r="3.7"/><circle cx="461" cy="924" r="3.7"/><circle cx="488" cy="440" r="3.7"/><circle cx="433" cy="277" r="3.7"/><circle cx="477" cy="535" r="3.7"/><circle cx="299" cy="207" r="3.7"/><circle cx="639" cy="594" r="3.7"/><circle cx="476" cy="768" r="3.7"/><circle cx="307" cy="184" r="3.7"/><circle cx="319" cy="181" r="3.7"/><circle cx="431" cy="222" r="3.7"/><circle cx="598" cy="669" r="3.7"/><circle cx="657" cy="707" r="3.7"/><circle cx="514" cy="684" r="3.7"/><circle cx="606" cy="337" r="3.7"/><circle cx="477" cy="260" r="3.7"/><circle cx="651" cy="934" r="3.7"/><circle cx="490" cy="296" r="3.7"/><circle cx="588" cy="656" r="3.7"/><circle cx="449" cy="817" r="3.7"/><circle cx="539" cy="640" r="3.7"/><circle cx="482" cy="340" r="3.7"/><circle cx="507" cy="559" r="3.7"/><circle cx="342" cy="225" r="3.7"/><circle cx="696" cy="340" r="3.7"/><circle cx="470" cy="759" r="3.7"/><circle cx="626" cy="836" r="3.7"/><circle cx="492" cy="285" r="3.7"/><circle cx="598" cy="346" r="3.7"/><circle cx="547" cy="403" r="3.7"/><circle cx="552" cy="389" r="3.7"/><circle cx="545" cy="627" r="3.7"/><circle cx="531" cy="271" r="3.7"/><circle cx="557" cy="758" r="3.7"/><circle cx="779" cy="561" r="3.7"/><circle cx="587" cy="799" r="3.7"/><circle cx="851" cy="474" r="3.7"/><circle cx="566" cy="583" r="3.7"/><circle cx="680" cy="470" r="3.7"/><circle cx="302" cy="229" r="3.7"/><circle cx="715" cy="771" r="3.7"/><circle cx="584" cy="952" r="3.7"/><circle cx="740" cy="748" r="3.7"/><circle cx="251" cy="156" r="3.7"/><circle cx="454" cy="409" r="3.7"/><circle cx="485" cy="552" r="3.7"/><circle cx="841" cy="462" r="3.7"/><circle cx="512" cy="235" r="3.7"/><circle cx="569" cy="388" r="3.7"/><circle cx="773" cy="803" r="3.7"/><circle cx="541" cy="273" r="3.7"/><circle cx="572" cy="719" r="3.7"/><circle cx="563" cy="686" r="3.7"/><circle cx="500" cy="433" r="3.7"/><circle cx="607" cy="449" r="3.7"/><circle cx="607" cy="312" r="3.7"/><circle cx="541" cy="597" r="3.7"/><circle cx="393" cy="271" r="3.7"/><circle cx="615" cy="211" r="3.7"/><circle cx="414" cy="302" r="3.7"/><circle cx="543" cy="630" r="3.7"/><circle cx="621" cy="374" r="3.7"/><circle cx="482" cy="245" r="3.7"/><circle cx="691" cy="572" r="3.7"/><circle cx="531" cy="412" r="3.7"/><circle cx="420" cy="241" r="3.7"/><circle cx="615" cy="573" r="3.7"/><circle cx="522" cy="350" r="3.7"/><circle cx="401" cy="409" r="3.7"/><circle cx="264" cy="186" r="3.7"/><circle cx="502" cy="620" r="3.7"/><circle cx="519" cy="396" r="3.7"/><circle cx="544" cy="424" r="3.7"/><circle cx="486" cy="455" r="3.7"/><circle cx="369" cy="175" r="3.7"/><circle cx="434" cy="822" r="3.7"/><circle cx="515" cy="430" r="3.7"/><circle cx="420" cy="554" r="3.7"/><circle cx="554" cy="513" r="3.7"/><circle cx="503" cy="534" r="3.7"/><circle cx="498" cy="537" r="3.7"/><circle cx="531" cy="559" r="3.7"/><circle cx="328" cy="213" r="3.7"/><circle cx="496" cy="366" r="3.7"/><circle cx="502" cy="422" r="3.7"/><circle cx="333" cy="237" r="3.7"/><circle cx="758" cy="300" r="3.7"/><circle cx="964" cy="795" r="3.7"/><circle cx="674" cy="625" r="3.7"/><circle cx="657" cy="373" r="3.7"/><circle cx="579" cy="548" r="3.7"/><circle cx="500" cy="364" r="3.7"/><circle cx="329" cy="171" r="3.7"/><circle cx="593" cy="360" r="3.7"/><circle cx="609" cy="902" r="3.7"/><circle cx="560" cy="842" r="3.7"/><circle cx="439" cy="479" r="3.7"/><circle cx="548" cy="460" r="3.7"/><circle cx="552" cy="397" r="3.7"/><circle cx="388" cy="129" r="3.7"/><circle cx="304" cy="194" r="3.7"/><circle cx="616" cy="365" r="3.7"/><circle cx="229" cy="235" r="3.7"/><circle cx="724" cy="857" r="3.7"/><circle cx="568" cy="657" r="3.7"/><circle cx="525" cy="335" r="3.7"/><circle cx="333" cy="215" r="3.7"/><circle cx="646" cy="655" r="3.7"/><circle cx="506" cy="776" r="3.7"/><circle cx="353" cy="438" r="3.7"/><circle cx="652" cy="693" r="3.7"/><circle cx="535" cy="287" r="3.7"/><circle cx="543" cy="464" r="3.7"/><circle cx="434" cy="226" r="3.7"/><circle cx="637" cy="931" r="3.7"/><circle cx="434" cy="229" r="3.7"/><circle cx="467" cy="590" r="3.7"/><circle cx="487" cy="425" r="3.7"/><circle cx="390" cy="222" r="3.7"/><circle cx="492" cy="317" r="3.7"/><circle cx="574" cy="419" r="3.7"/><circle cx="473" cy="641" r="3.7"/><circle cx="336" cy="225" r="3.7"/><circle cx="637" cy="529" r="3.7"/><circle cx="481" cy="515" r="3.7"/><circle cx="477" cy="532" r="3.7"/><circle cx="524" cy="633" r="3.7"/><circle cx="576" cy="684" r="3.7"/><circle cx="279" cy="208" r="3.7"/><circle cx="544" cy="308" r="3.7"/><circle cx="406" cy="193" r="3.7"/><circle cx="403" cy="245" r="3.7"/><circle cx="554" cy="269" r="3.7"/><circle cx="440" cy="369" r="3.7"/><circle cx="658" cy="513" r="3.7"/><circle cx="655" cy="924" r="3.7"/><circle cx="513" cy="361" r="3.7"/><circle cx="663" cy="864" r="3.7"/><circle cx="814" cy="511" r="3.7"/><circle cx="689" cy="964" r="3.7"/><circle cx="445" cy="733" r="3.7"/><circle cx="358" cy="218" r="3.7"/><circle cx="552" cy="491" r="3.7"/><circle cx="670" cy="647" r="3.7"/><circle cx="542" cy="459" r="3.7"/><circle cx="524" cy="515" r="3.7"/><circle cx="562" cy="373" r="3.7"/><circle cx="583" cy="529" r="3.7"/><circle cx="674" cy="731" r="3.7"/><circle cx="360" cy="181" r="3.7"/><circle cx="358" cy="528" r="3.7"/><circle cx="529" cy="773" r="3.7"/><circle cx="408" cy="335" r="3.7"/><circle cx="706" cy="847" r="3.7"/><circle cx="523" cy="434" r="3.7"/><circle cx="572" cy="382" r="3.7"/><circle cx="277" cy="178" r="3.7"/><circle cx="439" cy="208" r="3.7"/><circle cx="578" cy="747" r="3.7"/><circle cx="516" cy="427" r="3.7"/><circle cx="479" cy="376" r="3.7"/><circle cx="533" cy="535" r="3.7"/><circle cx="556" cy="529" r="3.7"/><circle cx="536" cy="971" r="3.7"/><circle cx="436" cy="405" r="3.7"/><circle cx="556" cy="473" r="3.7"/><circle cx="572" cy="569" r="3.7"/><circle cx="518" cy="353" r="3.7"/><circle cx="242" cy="282" r="3.7"/><circle cx="411" cy="171" r="3.7"/><circle cx="507" cy="493" r="3.7"/><circle cx="501" cy="531" r="3.7"/><circle cx="278" cy="263" r="3.7"/><circle cx="452" cy="723" r="3.7"/><circle cx="679" cy="662" r="3.7"/><circle cx="542" cy="594" r="3.7"/><circle cx="708" cy="383" r="3.7"/><circle cx="651" cy="742" r="3.7"/><circle cx="584" cy="860" r="3.7"/><circle cx="411" cy="419" r="3.7"/><circle cx="469" cy="576" r="3.7"/><circle cx="607" cy="536" r="3.7"/><circle cx="660" cy="609" r="3.7"/><circle cx="364" cy="317" r="3.7"/><circle cx="413" cy="137" r="3.7"/><circle cx="430" cy="253" r="3.7"/><circle cx="535" cy="428" r="3.7"/><circle cx="593" cy="494" r="3.7"/><circle cx="769" cy="866" r="3.7"/><circle cx="604" cy="325" r="3.7"/><circle cx="631" cy="939" r="3.7"/><circle cx="786" cy="586" r="3.7"/><circle cx="369" cy="245" r="3.7"/><circle cx="587" cy="612" r="3.7"/><circle cx="622" cy="662" r="3.7"/><circle cx="587" cy="432" r="3.7"/><circle cx="765" cy="734" r="3.7"/><circle cx="366" cy="188" r="3.7"/><circle cx="572" cy="692" r="3.7"/><circle cx="247" cy="164" r="3.7"/><circle cx="576" cy="442" r="3.7"/><circle cx="264" cy="178" r="3.7"/><circle cx="270" cy="216" r="3.7"/><circle cx="534" cy="561" r="3.7"/><circle cx="533" cy="482" r="3.7"/><circle cx="491" cy="551" r="3.7"/><circle cx="502" cy="577" r="3.7"/><circle cx="546" cy="495" r="3.7"/><circle cx="498" cy="445" r="3.7"/><circle cx="402" cy="152" r="3.7"/><circle cx="525" cy="422" r="3.7"/><circle cx="649" cy="224" r="3.7"/><circle cx="473" cy="313" r="3.7"/><circle cx="591" cy="257" r="3.7"/><circle cx="672" cy="692" r="3.7"/><circle cx="355" cy="198" r="3.7"/><circle cx="229" cy="189" r="3.7"/><circle cx="273" cy="216" r="3.7"/><circle cx="544" cy="697" r="3.7"/><circle cx="544" cy="537" r="3.7"/><circle cx="663" cy="704" r="3.7"/><circle cx="429" cy="362" r="3.7"/><circle cx="588" cy="769" r="3.7"/><circle cx="302" cy="178" r="3.7"/><circle cx="418" cy="270" r="3.7"/><circle cx="385" cy="247" r="3.7"/><circle cx="696" cy="628" r="3.7"/><circle cx="374" cy="253" r="3.7"/><circle cx="425" cy="223" r="3.7"/><circle cx="495" cy="534" r="3.7"/><circle cx="254" cy="170" r="3.7"/><circle cx="558" cy="801" r="3.7"/><circle cx="474" cy="207" r="3.7"/><circle cx="477" cy="362" r="3.7"/><circle cx="598" cy="362" r="3.7"/><circle cx="554" cy="627" r="3.7"/><circle cx="479" cy="725" r="3.7"/><circle cx="575" cy="789" r="3.7"/><circle cx="728" cy="941" r="3.7"/><circle cx="477" cy="593" r="3.7"/><circle cx="289" cy="205" r="3.7"/><circle cx="464" cy="298" r="3.7"/><circle cx="290" cy="199" r="3.7"/><circle cx="509" cy="672" r="3.7"/><circle cx="515" cy="434" r="3.7"/><circle cx="516" cy="791" r="3.7"/><circle cx="266" cy="208" r="3.7"/><circle cx="471" cy="626" r="3.7"/><circle cx="565" cy="412" r="3.7"/><circle cx="539" cy="679" r="3.7"/><circle cx="514" cy="468" r="3.7"/><circle cx="379" cy="204" r="3.7"/><circle cx="520" cy="427" r="3.7"/><circle cx="531" cy="284" r="3.7"/><circle cx="450" cy="450" r="3.7"/><circle cx="500" cy="554" r="3.7"/><circle cx="596" cy="771" r="3.7"/><circle cx="266" cy="192" r="3.7"/><circle cx="580" cy="492" r="3.7"/><circle cx="538" cy="554" r="3.7"/><circle cx="614" cy="805" r="3.7"/><circle cx="566" cy="217" r="3.7"/><circle cx="461" cy="312" r="3.7"/><circle cx="345" cy="239" r="3.7"/><circle cx="484" cy="239" r="3.7"/><circle cx="743" cy="407" r="3.7"/><circle cx="497" cy="511" r="3.7"/><circle cx="539" cy="402" r="3.7"/><circle cx="355" cy="265" r="3.7"/><circle cx="499" cy="324" r="3.7"/><circle cx="353" cy="160" r="3.7"/><circle cx="481" cy="582" r="3.7"/><circle cx="510" cy="369" r="3.7"/><circle cx="629" cy="291" r="3.7"/><circle cx="555" cy="633" r="3.7"/><circle cx="381" cy="275" r="3.7"/><circle cx="465" cy="688" r="3.7"/><circle cx="392" cy="231" r="3.7"/><circle cx="413" cy="840" r="3.7"/><circle cx="401" cy="245" r="3.7"/><circle cx="450" cy="623" r="3.7"/><circle cx="613" cy="644" r="3.7"/><circle cx="498" cy="450" r="3.7"/><circle cx="528" cy="418" r="3.7"/><circle cx="414" cy="254" r="3.7"/><circle cx="539" cy="335" r="3.7"/><circle cx="472" cy="785" r="3.7"/><circle cx="683" cy="866" r="3.7"/><circle cx="471" cy="401" r="3.7"/><circle cx="604" cy="913" r="3.7"/><circle cx="265" cy="159" r="3.7"/><circle cx="508" cy="443" r="3.7"/><circle cx="589" cy="360" r="3.7"/><circle cx="478" cy="266" r="3.7"/><circle cx="544" cy="474" r="3.7"/><circle cx="470" cy="376" r="3.7"/><circle cx="362" cy="187" r="3.7"/><circle cx="642" cy="325" r="3.7"/><circle cx="417" cy="345" r="3.7"/><circle cx="607" cy="448" r="3.7"/><circle cx="457" cy="621" r="3.7"/><circle cx="328" cy="258" r="3.7"/><circle cx="567" cy="371" r="3.7"/><circle cx="477" cy="450" r="3.7"/><circle cx="654" cy="324" r="3.7"/><circle cx="325" cy="240" r="3.7"/><circle cx="600" cy="421" r="3.7"/><circle cx="321" cy="201" r="3.7"/><circle cx="721" cy="808" r="3.7"/><circle cx="506" cy="631" r="3.7"/><circle cx="503" cy="647" r="3.7"/><circle cx="479" cy="547" r="3.7"/><circle cx="542" cy="847" r="3.7"/><circle cx="694" cy="733" r="3.7"/><circle cx="532" cy="346" r="3.7"/><circle cx="457" cy="629" r="3.7"/><circle cx="521" cy="743" r="3.7"/><circle cx="472" cy="551" r="3.7"/><circle cx="374" cy="147" r="3.7"/><circle cx="317" cy="208" r="3.7"/><circle cx="529" cy="457" r="3.7"/><circle cx="609" cy="433" r="3.7"/><circle cx="369" cy="143" r="3.7"/><circle cx="375" cy="193" r="3.7"/><circle cx="533" cy="291" r="3.7"/><circle cx="486" cy="616" r="3.7"/><circle cx="643" cy="853" r="3.7"/><circle cx="499" cy="437" r="3.7"/><circle cx="616" cy="644" r="3.7"/><circle cx="600" cy="763" r="3.7"/><circle cx="685" cy="650" r="3.7"/><circle cx="532" cy="331" r="3.7"/><circle cx="460" cy="481" r="3.7"/><circle cx="387" cy="261" r="3.7"/><circle cx="769" cy="543" r="3.7"/><circle cx="571" cy="596" r="3.7"/><circle cx="457" cy="249" r="3.7"/><circle cx="386" cy="216" r="3.7"/><circle cx="563" cy="428" r="3.7"/><circle cx="542" cy="229" r="3.7"/><circle cx="560" cy="660" r="3.7"/><circle cx="478" cy="338" r="3.7"/><circle cx="476" cy="441" r="3.7"/><circle cx="433" cy="423" r="3.7"/><circle cx="823" cy="652" r="3.7"/><circle cx="385" cy="316" r="3.7"/><circle cx="556" cy="807" r="3.7"/><circle cx="670" cy="264" r="3.7"/><circle cx="516" cy="792" r="3.7"/><circle cx="636" cy="702" r="3.7"/><circle cx="542" cy="282" r="3.7"/><circle cx="454" cy="453" r="3.7"/><circle cx="515" cy="530" r="3.7"/><circle cx="532" cy="322" r="3.7"/><circle cx="363" cy="224" r="3.7"/><circle cx="717" cy="906" r="3.7"/><circle cx="504" cy="363" r="3.7"/><circle cx="532" cy="459" r="3.7"/><circle cx="511" cy="456" r="3.7"/><circle cx="829" cy="489" r="3.7"/><circle cx="428" cy="253" r="3.7"/><circle cx="531" cy="466" r="3.7"/><circle cx="368" cy="175" r="3.7"/><circle cx="561" cy="548" r="3.7"/><circle cx="533" cy="290" r="3.7"/><circle cx="449" cy="206" r="3.7"/><circle cx="452" cy="289" r="3.7"/><circle cx="632" cy="307" r="3.7"/><circle cx="392" cy="229" r="3.7"/><circle cx="214" cy="236" r="3.7"/><circle cx="289" cy="171" r="3.7"/><circle cx="690" cy="833" r="3.7"/><circle cx="443" cy="491" r="3.7"/><circle cx="786" cy="914" r="3.7"/><circle cx="400" cy="213" r="3.7"/><circle cx="625" cy="418" r="3.7"/><circle cx="345" cy="194" r="3.7"/><circle cx="430" cy="220" r="3.7"/><circle cx="724" cy="900" r="3.7"/><circle cx="529" cy="798" r="3.7"/><circle cx="569" cy="557" r="3.7"/><circle cx="478" cy="472" r="3.7"/><circle cx="443" cy="213" r="3.7"/><circle cx="687" cy="754" r="3.7"/><circle cx="335" cy="260" r="3.7"/><circle cx="508" cy="623" r="3.7"/><circle cx="283" cy="114" r="3.7"/><circle cx="479" cy="286" r="3.7"/><circle cx="548" cy="642" r="3.7"/><circle cx="491" cy="256" r="3.7"/><circle cx="486" cy="695" r="3.7"/><circle cx="383" cy="573" r="3.7"/><circle cx="595" cy="181" r="3.7"/><circle cx="653" cy="755" r="3.7"/><circle cx="593" cy="730" r="3.7"/><circle cx="620" cy="786" r="3.7"/><circle cx="792" cy="454" r="3.7"/><circle cx="370" cy="235" r="3.7"/><circle cx="479" cy="718" r="3.7"/><circle cx="523" cy="415" r="3.7"/><circle cx="343" cy="201" r="3.7"/><circle cx="490" cy="540" r="3.7"/><circle cx="507" cy="383" r="3.7"/><circle cx="552" cy="812" r="3.7"/><circle cx="834" cy="823" r="3.7"/><circle cx="559" cy="534" r="3.7"/><circle cx="738" cy="794" r="3.7"/><circle cx="655" cy="263" r="3.7"/><circle cx="680" cy="711" r="3.7"/><circle cx="538" cy="606" r="3.7"/><circle cx="551" cy="584" r="3.7"/><circle cx="529" cy="301" r="3.7"/><circle cx="600" cy="874" r="3.7"/><circle cx="461" cy="403" r="3.7"/><circle cx="656" cy="642" r="3.7"/><circle cx="481" cy="598" r="3.7"/><circle cx="500" cy="569" r="3.7"/><circle cx="622" cy="906" r="3.7"/><circle cx="459" cy="211" r="3.7"/><circle cx="472" cy="421" r="3.7"/><circle cx="563" cy="898" r="3.7"/><circle cx="432" cy="232" r="3.7"/><circle cx="329" cy="212" r="3.7"/><circle cx="319" cy="191" r="3.7"/><circle cx="506" cy="565" r="3.7"/><circle cx="528" cy="269" r="3.7"/><circle cx="466" cy="417" r="3.7"/><circle cx="706" cy="862" r="3.7"/><circle cx="661" cy="347" r="3.7"/><circle cx="341" cy="198" r="3.7"/><circle cx="362" cy="239" r="3.7"/><circle cx="548" cy="583" r="3.7"/><circle cx="482" cy="332" r="3.7"/><circle cx="647" cy="832" r="3.7"/><circle cx="384" cy="302" r="3.7"/><circle cx="499" cy="312" r="3.7"/><circle cx="642" cy="624" r="3.7"/><circle cx="716" cy="596" r="3.7"/><circle cx="406" cy="254" r="3.7"/><circle cx="537" cy="380" r="3.7"/><circle cx="328" cy="141" r="3.7"/><circle cx="476" cy="534" r="3.7"/><circle cx="724" cy="973" r="3.7"/><circle cx="952" cy="836" r="3.7"/><circle cx="498" cy="580" r="3.7"/><circle cx="696" cy="402" r="3.7"/><circle cx="535" cy="372" r="3.7"/><circle cx="545" cy="538" r="3.7"/><circle cx="490" cy="361" r="3.7"/><circle cx="275" cy="156" r="3.7"/><circle cx="748" cy="506" r="3.7"/><circle cx="503" cy="561" r="3.7"/><circle cx="406" cy="232" r="3.7"/><circle cx="534" cy="463" r="3.7"/><circle cx="574" cy="522" r="3.7"/><circle cx="617" cy="602" r="3.7"/><circle cx="411" cy="205" r="3.7"/><circle cx="280" cy="180" r="3.7"/><circle cx="406" cy="423" r="3.7"/><circle cx="591" cy="289" r="3.7"/><circle cx="574" cy="273" r="3.7"/><circle cx="434" cy="389" r="3.7"/><circle cx="313" cy="264" r="3.7"/><circle cx="215" cy="205" r="3.7"/><circle cx="499" cy="416" r="3.7"/><circle cx="425" cy="238" r="3.7"/><circle cx="555" cy="721" r="3.7"/><circle cx="664" cy="783" r="3.7"/><circle cx="655" cy="499" r="3.7"/><circle cx="419" cy="270" r="3.7"/><circle cx="538" cy="546" r="3.7"/><circle cx="520" cy="584" r="3.7"/><circle cx="512" cy="722" r="3.7"/><circle cx="450" cy="167" r="3.7"/><circle cx="466" cy="287" r="3.7"/><circle cx="713" cy="942" r="3.7"/><circle cx="519" cy="650" r="3.7"/><circle cx="248" cy="164" r="3.7"/><circle cx="666" cy="790" r="3.7"/><circle cx="273" cy="215" r="3.7"/><circle cx="476" cy="311" r="3.7"/><circle cx="488" cy="724" r="3.7"/><circle cx="506" cy="477" r="3.7"/><circle cx="467" cy="277" r="3.7"/><circle cx="546" cy="522" r="3.7"/><circle cx="583" cy="295" r="3.7"/><circle cx="891" cy="828" r="3.7"/><circle cx="602" cy="219" r="3.7"/><circle cx="497" cy="580" r="3.7"/><circle cx="547" cy="395" r="3.7"/><circle cx="603" cy="637" r="3.7"/><circle cx="528" cy="451" r="3.7"/><circle cx="646" cy="710" r="3.7"/><circle cx="564" cy="631" r="3.7"/><circle cx="502" cy="541" r="3.7"/><circle cx="657" cy="614" r="3.7"/><circle cx="545" cy="365" r="3.7"/><circle cx="462" cy="402" r="3.7"/><circle cx="335" cy="270" r="3.7"/><circle cx="224" cy="143" r="3.7"/><circle cx="416" cy="287" r="3.7"/><circle cx="723" cy="631" r="3.7"/><circle cx="455" cy="558" r="3.7"/><circle cx="494" cy="257" r="3.7"/><circle cx="607" cy="531" r="3.7"/><circle cx="429" cy="198" r="3.7"/><circle cx="539" cy="231" r="3.7"/><circle cx="793" cy="719" r="3.7"/><circle cx="597" cy="736" r="3.7"/><circle cx="250" cy="165" r="3.7"/><circle cx="368" cy="211" r="3.7"/><circle cx="585" cy="365" r="3.7"/><circle cx="455" cy="307" r="3.7"/><circle cx="534" cy="680" r="3.7"/><circle cx="520" cy="453" r="3.7"/><circle cx="506" cy="437" r="3.7"/><circle cx="460" cy="184" r="3.7"/><circle cx="614" cy="679" r="3.7"/><circle cx="585" cy="166" r="3.7"/><circle cx="415" cy="673" r="3.7"/><circle cx="489" cy="588" r="3.7"/><circle cx="413" cy="161" r="3.7"/><circle cx="561" cy="404" r="3.7"/><circle cx="563" cy="303" r="3.7"/><circle cx="567" cy="461" r="3.7"/><circle cx="523" cy="647" r="3.7"/><circle cx="521" cy="558" r="3.7"/><circle cx="323" cy="239" r="3.7"/><circle cx="586" cy="509" r="3.7"/><circle cx="531" cy="247" r="3.7"/><circle cx="250" cy="209" r="3.7"/><circle cx="528" cy="792" r="3.7"/><circle cx="555" cy="551" r="3.7"/><circle cx="463" cy="412" r="3.7"/><circle cx="492" cy="653" r="3.7"/><circle cx="661" cy="563" r="3.7"/><circle cx="388" cy="717" r="3.7"/><circle cx="597" cy="438" r="3.7"/><circle cx="803" cy="663" r="3.7"/><circle cx="722" cy="566" r="3.7"/><circle cx="504" cy="569" r="3.7"/><circle cx="467" cy="541" r="3.7"/><circle cx="494" cy="623" r="3.7"/><circle cx="766" cy="560" r="3.7"/><circle cx="389" cy="287" r="3.7"/><circle cx="587" cy="643" r="3.7"/><circle cx="461" cy="371" r="3.7"/><circle cx="405" cy="273" r="3.7"/><circle cx="464" cy="482" r="3.7"/><circle cx="498" cy="879" r="3.7"/><circle cx="316" cy="187" r="3.7"/><circle cx="435" cy="822" r="3.7"/><circle cx="602" cy="401" r="3.7"/><circle cx="405" cy="177" r="3.7"/><circle cx="483" cy="759" r="3.7"/><circle cx="444" cy="359" r="3.7"/><circle cx="474" cy="149" r="3.7"/><circle cx="555" cy="234" r="3.7"/><circle cx="381" cy="348" r="3.7"/><circle cx="255" cy="200" r="3.7"/><circle cx="712" cy="667" r="3.7"/><circle cx="469" cy="319" r="3.7"/><circle cx="372" cy="221" r="3.7"/><circle cx="455" cy="791" r="3.7"/><circle cx="456" cy="577" r="3.7"/><circle cx="449" cy="330" r="3.7"/><circle cx="489" cy="599" r="3.7"/><circle cx="572" cy="354" r="3.7"/><circle cx="511" cy="292" r="3.7"/><circle cx="378" cy="235" r="3.7"/><circle cx="384" cy="183" r="3.7"/><circle cx="348" cy="226" r="3.7"/><circle cx="368" cy="401" r="3.7"/><circle cx="646" cy="596" r="3.7"/><circle cx="472" cy="611" r="3.7"/><circle cx="624" cy="472" r="3.7"/><circle cx="514" cy="231" r="3.7"/><circle cx="521" cy="369" r="3.7"/><circle cx="594" cy="543" r="3.7"/><circle cx="560" cy="406" r="3.7"/><circle cx="482" cy="496" r="3.7"/><circle cx="542" cy="604" r="3.7"/><circle cx="497" cy="524" r="3.7"/><circle cx="550" cy="683" r="3.7"/><circle cx="501" cy="453" r="3.7"/><circle cx="505" cy="720" r="3.7"/><circle cx="589" cy="494" r="3.7"/><circle cx="525" cy="255" r="3.7"/><circle cx="387" cy="251" r="3.7"/><circle cx="430" cy="564" r="3.7"/><circle cx="530" cy="483" r="3.7"/><circle cx="397" cy="262" r="3.7"/><circle cx="471" cy="466" r="3.7"/><circle cx="497" cy="711" r="3.7"/><circle cx="600" cy="843" r="3.7"/><circle cx="309" cy="280" r="3.7"/><circle cx="716" cy="839" r="3.7"/><circle cx="534" cy="537" r="3.7"/><circle cx="339" cy="135" r="3.7"/><circle cx="565" cy="491" r="3.7"/><circle cx="400" cy="232" r="3.7"/><circle cx="481" cy="279" r="3.7"/><circle cx="462" cy="343" r="3.7"/><circle cx="431" cy="405" r="3.7"/><circle cx="459" cy="684" r="3.7"/><circle cx="606" cy="357" r="3.7"/><circle cx="392" cy="885" r="3.7"/><circle cx="544" cy="429" r="3.7"/><circle cx="549" cy="738" r="3.7"/><circle cx="408" cy="217" r="3.7"/><circle cx="546" cy="647" r="3.7"/><circle cx="543" cy="576" r="3.7"/><circle cx="658" cy="634" r="3.7"/><circle cx="478" cy="406" r="3.7"/><circle cx="593" cy="444" r="3.7"/><circle cx="338" cy="172" r="3.7"/><circle cx="385" cy="181" r="3.7"/><circle cx="588" cy="850" r="3.7"/><circle cx="613" cy="227" r="3.7"/><circle cx="588" cy="613" r="3.7"/><circle cx="532" cy="145" r="3.7"/><circle cx="514" cy="382" r="3.7"/><circle cx="350" cy="402" r="3.7"/><circle cx="580" cy="359" r="3.7"/><circle cx="316" cy="360" r="3.7"/><circle cx="536" cy="355" r="3.7"/><circle cx="449" cy="242" r="3.7"/><circle cx="492" cy="500" r="3.7"/><circle cx="444" cy="805" r="3.7"/><circle cx="301" cy="244" r="3.7"/><circle cx="479" cy="364" r="3.7"/><circle cx="679" cy="290" r="3.7"/><circle cx="604" cy="262" r="3.7"/><circle cx="514" cy="586" r="3.7"/><circle cx="666" cy="786" r="3.7"/><circle cx="482" cy="713" r="3.7"/><circle cx="585" cy="670" r="3.7"/><circle cx="394" cy="403" r="3.7"/><circle cx="678" cy="664" r="3.7"/><circle cx="375" cy="198" r="3.7"/><circle cx="339" cy="193" r="3.7"/><circle cx="268" cy="201" r="3.7"/><circle cx="444" cy="268" r="3.7"/><circle cx="554" cy="558" r="3.7"/><circle cx="430" cy="273" r="3.7"/><circle cx="579" cy="415" r="3.7"/><circle cx="710" cy="743" r="3.7"/><circle cx="489" cy="241" r="3.7"/><circle cx="477" cy="411" r="3.7"/><circle cx="375" cy="233" r="3.7"/><circle cx="550" cy="581" r="3.7"/><circle cx="557" cy="442" r="3.7"/><circle cx="763" cy="537" r="3.7"/><circle cx="372" cy="217" r="3.7"/><circle cx="545" cy="280" r="3.7"/><circle cx="610" cy="779" r="3.7"/><circle cx="586" cy="392" r="3.7"/><circle cx="337" cy="176" r="3.7"/><circle cx="504" cy="533" r="3.7"/><circle cx="626" cy="578" r="3.7"/><circle cx="533" cy="383" r="3.7"/><circle cx="743" cy="582" r="3.7"/><circle cx="483" cy="315" r="3.7"/><circle cx="494" cy="457" r="3.7"/><circle cx="467" cy="400" r="3.7"/><circle cx="302" cy="234" r="3.7"/><circle cx="587" cy="385" r="3.7"/><circle cx="613" cy="760" r="3.7"/><circle cx="317" cy="213" r="3.7"/><circle cx="474" cy="555" r="3.7"/><circle cx="525" cy="250" r="3.7"/><circle cx="385" cy="293" r="3.7"/><circle cx="650" cy="466" r="3.7"/><circle cx="394" cy="985" r="3.7"/><circle cx="576" cy="624" r="3.7"/><circle cx="687" cy="710" r="3.7"/><circle cx="743" cy="767" r="3.7"/><circle cx="530" cy="539" r="3.7"/><circle cx="432" cy="710" r="3.7"/><circle cx="599" cy="429" r="3.7"/><circle cx="528" cy="636" r="3.7"/><circle cx="573" cy="241" r="3.7"/><circle cx="636" cy="880" r="3.7"/><circle cx="429" cy="219" r="3.7"/><circle cx="678" cy="633" r="3.7"/><circle cx="392" cy="763" r="3.7"/><circle cx="487" cy="527" r="3.7"/><circle cx="433" cy="412" r="3.7"/><circle cx="297" cy="359" r="3.7"/><circle cx="546" cy="689" r="3.7"/><circle cx="486" cy="384" r="3.7"/><circle cx="566" cy="496" r="3.7"/><circle cx="451" cy="730" r="3.7"/><circle cx="579" cy="305" r="3.7"/><circle cx="636" cy="530" r="3.7"/><circle cx="455" cy="315" r="3.7"/><circle cx="541" cy="285" r="3.7"/><circle cx="598" cy="824" r="3.7"/><circle cx="588" cy="845" r="3.7"/><circle cx="600" cy="651" r="3.7"/><circle cx="481" cy="364" r="3.7"/><circle cx="407" cy="212" r="3.7"/><circle cx="578" cy="448" r="3.7"/><circle cx="334" cy="123" r="3.7"/><circle cx="383" cy="229" r="3.7"/><circle cx="496" cy="438" r="3.7"/><circle cx="409" cy="332" r="3.7"/><circle cx="570" cy="598" r="3.7"/><circle cx="423" cy="220" r="3.7"/><circle cx="505" cy="627" r="3.7"/><circle cx="662" cy="416" r="3.7"/><circle cx="461" cy="232" r="3.7"/><circle cx="673" cy="874" r="3.7"/><circle cx="540" cy="833" r="3.7"/><circle cx="343" cy="185" r="3.7"/><circle cx="402" cy="230" r="3.7"/><circle cx="675" cy="364" r="3.7"/><circle cx="419" cy="357" r="3.7"/><circle cx="490" cy="406" r="3.7"/><circle cx="593" cy="328" r="3.7"/><circle cx="551" cy="393" r="3.7"/><circle cx="760" cy="880" r="3.7"/><circle cx="538" cy="801" r="3.7"/><circle cx="525" cy="791" r="3.7"/><circle cx="598" cy="428" r="3.7"/><circle cx="666" cy="587" r="3.7"/><circle cx="495" cy="897" r="3.7"/><circle cx="359" cy="214" r="3.7"/><circle cx="322" cy="341" r="3.7"/><circle cx="367" cy="298" r="3.7"/><circle cx="624" cy="340" r="3.7"/><circle cx="621" cy="423" r="3.7"/><circle cx="490" cy="610" r="3.7"/><circle cx="312" cy="248" r="3.7"/><circle cx="442" cy="493" r="3.7"/><circle cx="573" cy="732" r="3.7"/><circle cx="488" cy="468" r="3.7"/><circle cx="540" cy="596" r="3.7"/><circle cx="627" cy="653" r="3.7"/><circle cx="515" cy="522" r="3.7"/><circle cx="551" cy="556" r="3.7"/><circle cx="508" cy="844" r="3.7"/><circle cx="558" cy="879" r="3.7"/><circle cx="549" cy="472" r="3.7"/><circle cx="480" cy="372" r="3.7"/><circle cx="500" cy="583" r="3.7"/><circle cx="567" cy="620" r="3.7"/><circle cx="482" cy="704" r="3.7"/><circle cx="543" cy="431" r="3.7"/><circle cx="511" cy="832" r="3.7"/><circle cx="374" cy="235" r="3.7"/><circle cx="412" cy="195" r="3.7"/><circle cx="448" cy="94" r="3.7"/><circle cx="625" cy="696" r="3.7"/><circle cx="655" cy="494" r="3.7"/><circle cx="518" cy="456" r="3.7"/><circle cx="450" cy="639" r="3.7"/><circle cx="220" cy="193" r="3.7"/><circle cx="483" cy="245" r="3.7"/><circle cx="399" cy="259" r="3.7"/><circle cx="252" cy="141" r="3.7"/><circle cx="480" cy="341" r="3.7"/><circle cx="682" cy="823" r="3.7"/><circle cx="565" cy="505" r="3.7"/><circle cx="329" cy="213" r="3.7"/><circle cx="429" cy="212" r="3.7"/><circle cx="532" cy="508" r="3.7"/><circle cx="318" cy="186" r="3.7"/><circle cx="372" cy="242" r="3.7"/><circle cx="533" cy="351" r="3.7"/><circle cx="454" cy="317" r="3.7"/><circle cx="657" cy="404" r="3.7"/><circle cx="597" cy="643" r="3.7"/><circle cx="398" cy="298" r="3.7"/><circle cx="490" cy="184" r="3.7"/><circle cx="609" cy="666" r="3.7"/><circle cx="645" cy="729" r="3.7"/><circle cx="694" cy="516" r="3.7"/><circle cx="393" cy="186" r="3.7"/><circle cx="357" cy="282" r="3.7"/><circle cx="465" cy="635" r="3.7"/><circle cx="550" cy="385" r="3.7"/><circle cx="532" cy="496" r="3.7"/><circle cx="434" cy="240" r="3.7"/><circle cx="332" cy="216" r="3.7"/><circle cx="516" cy="514" r="3.7"/><circle cx="506" cy="425" r="3.7"/><circle cx="388" cy="264" r="3.7"/><circle cx="555" cy="795" r="3.7"/><circle cx="497" cy="228" r="3.7"/><circle cx="577" cy="281" r="3.7"/><circle cx="655" cy="547" r="3.7"/><circle cx="753" cy="843" r="3.7"/><circle cx="581" cy="549" r="3.7"/><circle cx="639" cy="830" r="3.7"/><circle cx="490" cy="598" r="3.7"/><circle cx="486" cy="257" r="3.7"/><circle cx="370" cy="774" r="3.7"/><circle cx="584" cy="428" r="3.7"/><circle cx="467" cy="376" r="3.7"/><circle cx="606" cy="408" r="3.7"/><circle cx="434" cy="277" r="3.7"/><circle cx="536" cy="250" r="3.7"/><circle cx="494" cy="600" r="3.7"/><circle cx="562" cy="470" r="3.7"/><circle cx="603" cy="511" r="3.7"/><circle cx="589" cy="804" r="3.7"/><circle cx="521" cy="437" r="3.7"/><circle cx="320" cy="226" r="3.7"/></g><g clip-path="url(#cr)" class="s"><circle cx="1521" cy="629" r="3.7"/><circle cx="1607" cy="294" r="3.7"/><circle cx="1318" cy="235" r="3.7"/><circle cx="1429" cy="416" r="3.7"/><circle cx="1685" cy="585" r="3.7"/><circle cx="1590" cy="367" r="3.7"/><circle cx="1440" cy="269" r="3.7"/><circle cx="1465" cy="449" r="3.7"/><circle cx="1463" cy="280" r="3.7"/><circle cx="1316" cy="253" r="3.7"/><circle cx="1605" cy="456" r="3.7"/><circle cx="1465" cy="321" r="3.7"/><circle cx="1256" cy="531" r="3.7"/><circle cx="1344" cy="255" r="3.7"/><circle cx="1584" cy="495" r="3.7"/><circle cx="1618" cy="486" r="3.7"/><circle cx="1161" cy="548" r="3.7"/><circle cx="1603" cy="552" r="3.7"/><circle cx="1341" cy="219" r="3.7"/><circle cx="1584" cy="560" r="3.7"/><circle cx="1317" cy="245" r="3.7"/><circle cx="1384" cy="216" r="3.7"/><circle cx="1480" cy="400" r="3.7"/><circle cx="1478" cy="428" r="3.7"/><circle cx="1504" cy="353" r="3.7"/><circle cx="1338" cy="216" r="3.7"/><circle cx="1517" cy="507" r="3.7"/><circle cx="1664" cy="571" r="3.7"/><circle cx="1720" cy="444" r="3.7"/><circle cx="1557" cy="340" r="3.7"/><circle cx="1534" cy="327" r="3.7"/><circle cx="1443" cy="336" r="3.7"/><circle cx="1592" cy="418" r="3.7"/><circle cx="1568" cy="373" r="3.7"/><circle cx="1628" cy="415" r="3.7"/><circle cx="1645" cy="425" r="3.7"/><circle cx="1396" cy="306" r="3.7"/><circle cx="1436" cy="310" r="3.7"/><circle cx="1774" cy="722" r="3.7"/><circle cx="1587" cy="531" r="3.7"/><circle cx="1562" cy="444" r="3.7"/><circle cx="1561" cy="321" r="3.7"/><circle cx="1555" cy="444" r="3.7"/><circle cx="1513" cy="318" r="3.7"/><circle cx="1656" cy="440" r="3.7"/><circle cx="1452" cy="298" r="3.7"/><circle cx="1569" cy="411" r="3.7"/><circle cx="1419" cy="362" r="3.7"/><circle cx="1422" cy="419" r="3.7"/><circle cx="1794" cy="689" r="3.7"/><circle cx="1509" cy="495" r="3.7"/><circle cx="1632" cy="542" r="3.7"/><circle cx="1250" cy="201" r="3.7"/><circle cx="1354" cy="265" r="3.7"/><circle cx="1462" cy="279" r="3.7"/><circle cx="1569" cy="458" r="3.7"/><circle cx="1555" cy="533" r="3.7"/><circle cx="1551" cy="404" r="3.7"/><circle cx="1343" cy="266" r="3.7"/><circle cx="1625" cy="486" r="3.7"/><circle cx="1546" cy="268" r="3.7"/><circle cx="1586" cy="391" r="3.7"/><circle cx="1246" cy="242" r="3.7"/><circle cx="1510" cy="649" r="3.7"/><circle cx="1878" cy="497" r="3.7"/><circle cx="1458" cy="369" r="3.7"/><circle cx="1776" cy="585" r="3.7"/><circle cx="1238" cy="114" r="3.7"/><circle cx="1621" cy="442" r="3.7"/><circle cx="1742" cy="728" r="3.7"/><circle cx="1586" cy="436" r="3.7"/><circle cx="1512" cy="373" r="3.7"/><circle cx="1497" cy="469" r="3.7"/><circle cx="1540" cy="646" r="3.7"/><circle cx="1657" cy="659" r="3.7"/><circle cx="1598" cy="487" r="3.7"/><circle cx="1537" cy="481" r="3.7"/><circle cx="1560" cy="440" r="3.7"/><circle cx="1453" cy="416" r="3.7"/><circle cx="1750" cy="673" r="3.7"/><circle cx="1413" cy="256" r="3.7"/><circle cx="1239" cy="376" r="3.7"/><circle cx="1345" cy="270" r="3.7"/><circle cx="1707" cy="701" r="3.7"/><circle cx="1799" cy="837" r="3.7"/><circle cx="1575" cy="408" r="3.7"/><circle cx="1475" cy="580" r="3.7"/><circle cx="1648" cy="451" r="3.7"/><circle cx="1506" cy="397" r="3.7"/><circle cx="1497" cy="510" r="3.7"/><circle cx="1507" cy="525" r="3.7"/><circle cx="1552" cy="362" r="3.7"/><circle cx="1947" cy="842" r="3.7"/><circle cx="1458" cy="355" r="3.7"/><circle cx="1751" cy="868" r="3.7"/><circle cx="1401" cy="238" r="3.7"/><circle cx="1532" cy="380" r="3.7"/><circle cx="1417" cy="292" r="3.7"/><circle cx="1706" cy="522" r="3.7"/><circle cx="1550" cy="417" r="3.7"/><circle cx="1399" cy="310" r="3.7"/><circle cx="1615" cy="426" r="3.7"/><circle cx="1575" cy="292" r="3.7"/><circle cx="1677" cy="558" r="3.7"/><circle cx="1601" cy="421" r="3.7"/><circle cx="1460" cy="309" r="3.7"/><circle cx="1662" cy="340" r="3.7"/><circle cx="1351" cy="378" r="3.7"/><circle cx="1564" cy="374" r="3.7"/><circle cx="1425" cy="434" r="3.7"/><circle cx="1637" cy="614" r="3.7"/><circle cx="1450" cy="320" r="3.7"/><circle cx="1848" cy="683" r="3.7"/><circle cx="1338" cy="223" r="3.7"/><circle cx="1550" cy="231" r="3.7"/><circle cx="1281" cy="193" r="3.7"/><circle cx="1405" cy="235" r="3.7"/><circle cx="1255" cy="209" r="3.7"/><circle cx="1800" cy="240" r="3.7"/><circle cx="1530" cy="429" r="3.7"/><circle cx="1573" cy="376" r="3.7"/><circle cx="1372" cy="184" r="3.7"/><circle cx="1627" cy="306" r="3.7"/><circle cx="1991" cy="859" r="3.7"/><circle cx="1453" cy="328" r="3.7"/><circle cx="1530" cy="383" r="3.7"/><circle cx="1844" cy="802" r="3.7"/><circle cx="1571" cy="391" r="3.7"/><circle cx="1676" cy="252" r="3.7"/><circle cx="1418" cy="233" r="3.7"/><circle cx="1610" cy="601" r="3.7"/><circle cx="1295" cy="193" r="3.7"/><circle cx="1504" cy="361" r="3.7"/><circle cx="1657" cy="669" r="3.7"/><circle cx="1208" cy="189" r="3.7"/><circle cx="1352" cy="238" r="3.7"/><circle cx="1457" cy="346" r="3.7"/><circle cx="1709" cy="640" r="3.7"/><circle cx="1488" cy="372" r="3.7"/><circle cx="1354" cy="524" r="3.7"/><circle cx="1502" cy="573" r="3.7"/><circle cx="1487" cy="449" r="3.7"/><circle cx="1499" cy="355" r="3.7"/><circle cx="1752" cy="500" r="3.7"/><circle cx="1529" cy="402" r="3.7"/><circle cx="1477" cy="438" r="3.7"/><circle cx="1498" cy="431" r="3.7"/><circle cx="1623" cy="467" r="3.7"/><circle cx="1656" cy="215" r="3.7"/><circle cx="1615" cy="525" r="3.7"/><circle cx="1418" cy="353" r="3.7"/><circle cx="1308" cy="212" r="3.7"/><circle cx="1735" cy="816" r="3.7"/><circle cx="1576" cy="468" r="3.7"/><circle cx="1463" cy="342" r="3.7"/><circle cx="1503" cy="497" r="3.7"/><circle cx="1493" cy="660" r="3.7"/><circle cx="1727" cy="799" r="3.7"/><circle cx="1656" cy="336" r="3.7"/><circle cx="1461" cy="295" r="3.7"/><circle cx="1670" cy="779" r="3.7"/><circle cx="1288" cy="264" r="3.7"/><circle cx="1429" cy="492" r="3.7"/><circle cx="1517" cy="288" r="3.7"/><circle cx="1358" cy="263" r="3.7"/><circle cx="1533" cy="578" r="3.7"/><circle cx="1176" cy="173" r="3.7"/><circle cx="1570" cy="439" r="3.7"/><circle cx="1417" cy="199" r="3.7"/><circle cx="1628" cy="329" r="3.7"/><circle cx="1782" cy="789" r="3.7"/><circle cx="1559" cy="364" r="3.7"/><circle cx="1387" cy="312" r="3.7"/><circle cx="1450" cy="374" r="3.7"/><circle cx="1609" cy="419" r="3.7"/><circle cx="1549" cy="325" r="3.7"/><circle cx="1608" cy="512" r="3.7"/><circle cx="1614" cy="609" r="3.7"/><circle cx="1493" cy="236" r="3.7"/><circle cx="1538" cy="420" r="3.7"/><circle cx="1539" cy="125" r="3.7"/><circle cx="1460" cy="365" r="3.7"/><circle cx="1417" cy="435" r="3.7"/><circle cx="1525" cy="352" r="3.7"/><circle cx="1282" cy="372" r="3.7"/><circle cx="1387" cy="203" r="3.7"/><circle cx="1584" cy="405" r="3.7"/><circle cx="1426" cy="388" r="3.7"/><circle cx="1573" cy="590" r="3.7"/><circle cx="1626" cy="435" r="3.7"/><circle cx="1232" cy="961" r="3.7"/><circle cx="1707" cy="564" r="3.7"/><circle cx="1567" cy="412" r="3.7"/><circle cx="1488" cy="348" r="3.7"/><circle cx="1502" cy="279" r="3.7"/><circle cx="1585" cy="516" r="3.7"/><circle cx="1590" cy="454" r="3.7"/><circle cx="1313" cy="211" r="3.7"/><circle cx="1494" cy="371" r="3.7"/><circle cx="1577" cy="430" r="3.7"/><circle cx="1499" cy="321" r="3.7"/><circle cx="1865" cy="869" r="3.7"/><circle cx="1365" cy="387" r="3.7"/><circle cx="1659" cy="528" r="3.7"/><circle cx="1593" cy="394" r="3.7"/><circle cx="1767" cy="841" r="3.7"/><circle cx="1445" cy="837" r="3.7"/><circle cx="1765" cy="766" r="3.7"/><circle cx="1306" cy="255" r="3.7"/><circle cx="1367" cy="399" r="3.7"/><circle cx="1630" cy="587" r="3.7"/><circle cx="1647" cy="601" r="3.7"/><circle cx="1542" cy="413" r="3.7"/><circle cx="1652" cy="516" r="3.7"/><circle cx="1464" cy="667" r="3.7"/><circle cx="1650" cy="404" r="3.7"/><circle cx="1413" cy="285" r="3.7"/><circle cx="1657" cy="545" r="3.7"/><circle cx="1695" cy="679" r="3.7"/><circle cx="1700" cy="912" r="3.7"/><circle cx="1516" cy="409" r="3.7"/><circle cx="1705" cy="650" r="3.7"/><circle cx="1707" cy="645" r="3.7"/><circle cx="1588" cy="479" r="3.7"/><circle cx="1396" cy="214" r="3.7"/><circle cx="1526" cy="501" r="3.7"/><circle cx="1786" cy="576" r="3.7"/><circle cx="1637" cy="386" r="3.7"/><circle cx="1494" cy="216" r="3.7"/><circle cx="1561" cy="455" r="3.7"/><circle cx="1459" cy="337" r="3.7"/><circle cx="1547" cy="275" r="3.7"/><circle cx="1723" cy="661" r="3.7"/><circle cx="1432" cy="365" r="3.7"/><circle cx="1367" cy="445" r="3.7"/><circle cx="1485" cy="392" r="3.7"/><circle cx="1486" cy="421" r="3.7"/><circle cx="1473" cy="431" r="3.7"/><circle cx="1598" cy="442" r="3.7"/><circle cx="1572" cy="408" r="3.7"/><circle cx="1492" cy="601" r="3.7"/><circle cx="1405" cy="308" r="3.7"/><circle cx="1595" cy="332" r="3.7"/><circle cx="1513" cy="361" r="3.7"/><circle cx="1806" cy="423" r="3.7"/><circle cx="1648" cy="470" r="3.7"/><circle cx="1737" cy="797" r="3.7"/><circle cx="1577" cy="345" r="3.7"/><circle cx="1554" cy="391" r="3.7"/><circle cx="1594" cy="657" r="3.7"/><circle cx="1327" cy="213" r="3.7"/><circle cx="1300" cy="247" r="3.7"/><circle cx="1470" cy="263" r="3.7"/><circle cx="1647" cy="433" r="3.7"/><circle cx="1342" cy="530" r="3.7"/><circle cx="1559" cy="459" r="3.7"/><circle cx="1517" cy="580" r="3.7"/><circle cx="1698" cy="701" r="3.7"/><circle cx="1532" cy="483" r="3.7"/><circle cx="1473" cy="287" r="3.7"/><circle cx="1486" cy="334" r="3.7"/><circle cx="1846" cy="936" r="3.7"/><circle cx="1752" cy="774" r="3.7"/><circle cx="1288" cy="251" r="3.7"/><circle cx="1331" cy="66" r="3.7"/><circle cx="1383" cy="301" r="3.7"/><circle cx="1383" cy="333" r="3.7"/><circle cx="1403" cy="393" r="3.7"/><circle cx="1472" cy="283" r="3.7"/><circle cx="1629" cy="529" r="3.7"/><circle cx="1334" cy="492" r="3.7"/><circle cx="1616" cy="351" r="3.7"/><circle cx="1269" cy="180" r="3.7"/><circle cx="1383" cy="267" r="3.7"/><circle cx="1407" cy="223" r="3.7"/><circle cx="1422" cy="292" r="3.7"/><circle cx="1638" cy="263" r="3.7"/><circle cx="1576" cy="332" r="3.7"/><circle cx="1618" cy="457" r="3.7"/><circle cx="1420" cy="259" r="3.7"/><circle cx="1452" cy="428" r="3.7"/><circle cx="1326" cy="336" r="3.7"/><circle cx="1260" cy="242" r="3.7"/><circle cx="1529" cy="341" r="3.7"/><circle cx="1779" cy="979" r="3.7"/><circle cx="1373" cy="271" r="3.7"/><circle cx="1454" cy="351" r="3.7"/><circle cx="1575" cy="414" r="3.7"/><circle cx="1383" cy="221" r="3.7"/><circle cx="1330" cy="223" r="3.7"/><circle cx="1583" cy="513" r="3.7"/><circle cx="1586" cy="436" r="3.7"/><circle cx="1568" cy="406" r="3.7"/><circle cx="1555" cy="494" r="3.7"/><circle cx="1552" cy="168" r="3.7"/><circle cx="1489" cy="454" r="3.7"/><circle cx="1561" cy="430" r="3.7"/><circle cx="1413" cy="268" r="3.7"/><circle cx="1641" cy="267" r="3.7"/><circle cx="1727" cy="699" r="3.7"/><circle cx="1590" cy="484" r="3.7"/><circle cx="1372" cy="299" r="3.7"/><circle cx="1754" cy="929" r="3.7"/><circle cx="1523" cy="252" r="3.7"/><circle cx="1164" cy="152" r="3.7"/><circle cx="1565" cy="462" r="3.7"/><circle cx="1435" cy="313" r="3.7"/><circle cx="1196" cy="417" r="3.7"/><circle cx="1792" cy="837" r="3.7"/><circle cx="1309" cy="243" r="3.7"/><circle cx="1427" cy="277" r="3.7"/><circle cx="1539" cy="481" r="3.7"/><circle cx="1412" cy="571" r="3.7"/><circle cx="1602" cy="586" r="3.7"/><circle cx="1517" cy="572" r="3.7"/><circle cx="1379" cy="294" r="3.7"/><circle cx="1638" cy="432" r="3.7"/><circle cx="1670" cy="457" r="3.7"/><circle cx="1660" cy="553" r="3.7"/><circle cx="1515" cy="336" r="3.7"/><circle cx="1314" cy="218" r="3.7"/><circle cx="1324" cy="269" r="3.7"/><circle cx="1457" cy="371" r="3.7"/><circle cx="1626" cy="346" r="3.7"/><circle cx="1764" cy="444" r="3.7"/><circle cx="1668" cy="693" r="3.7"/><circle cx="1488" cy="407" r="3.7"/><circle cx="1649" cy="493" r="3.7"/><circle cx="1522" cy="404" r="3.7"/><circle cx="1537" cy="497" r="3.7"/><circle cx="1623" cy="458" r="3.7"/><circle cx="1427" cy="325" r="3.7"/><circle cx="1476" cy="293" r="3.7"/><circle cx="1545" cy="426" r="3.7"/><circle cx="1688" cy="852" r="3.7"/><circle cx="1239" cy="222" r="3.7"/><circle cx="1525" cy="348" r="3.7"/><circle cx="1195" cy="191" r="3.7"/><circle cx="1516" cy="420" r="3.7"/><circle cx="1534" cy="592" r="3.7"/><circle cx="1490" cy="730" r="3.7"/><circle cx="1535" cy="584" r="3.7"/><circle cx="1488" cy="401" r="3.7"/><circle cx="1760" cy="727" r="3.7"/><circle cx="1740" cy="684" r="3.7"/><circle cx="1608" cy="388" r="3.7"/><circle cx="1684" cy="657" r="3.7"/><circle cx="1815" cy="821" r="3.7"/><circle cx="1577" cy="538" r="3.7"/><circle cx="1310" cy="241" r="3.7"/><circle cx="1507" cy="348" r="3.7"/><circle cx="1442" cy="291" r="3.7"/><circle cx="1655" cy="629" r="3.7"/><circle cx="1496" cy="318" r="3.7"/><circle cx="1415" cy="317" r="3.7"/><circle cx="1550" cy="336" r="3.7"/><circle cx="1716" cy="647" r="3.7"/><circle cx="1692" cy="300" r="3.7"/><circle cx="1693" cy="725" r="3.7"/><circle cx="1661" cy="299" r="3.7"/><circle cx="1257" cy="101" r="3.7"/><circle cx="1699" cy="530" r="3.7"/><circle cx="1599" cy="422" r="3.7"/><circle cx="1534" cy="495" r="3.7"/><circle cx="1622" cy="613" r="3.7"/><circle cx="1729" cy="862" r="3.7"/><circle cx="1544" cy="252" r="3.7"/><circle cx="1553" cy="271" r="3.7"/><circle cx="1281" cy="258" r="3.7"/><circle cx="1528" cy="551" r="3.7"/><circle cx="1283" cy="257" r="3.7"/><circle cx="1529" cy="376" r="3.7"/><circle cx="1554" cy="458" r="3.7"/><circle cx="1536" cy="476" r="3.7"/><circle cx="1586" cy="621" r="3.7"/><circle cx="1583" cy="465" r="3.7"/><circle cx="1385" cy="422" r="3.7"/><circle cx="1513" cy="285" r="3.7"/><circle cx="1864" cy="915" r="3.7"/><circle cx="1683" cy="525" r="3.7"/><circle cx="1691" cy="712" r="3.7"/><circle cx="1552" cy="430" r="3.7"/><circle cx="1689" cy="594" r="3.7"/><circle cx="1335" cy="216" r="3.7"/><circle cx="1422" cy="262" r="3.7"/><circle cx="1390" cy="285" r="3.7"/><circle cx="1521" cy="389" r="3.7"/><circle cx="1573" cy="494" r="3.7"/><circle cx="1762" cy="926" r="3.7"/><circle cx="1488" cy="468" r="3.7"/><circle cx="1543" cy="374" r="3.7"/><circle cx="1597" cy="442" r="3.7"/><circle cx="1396" cy="194" r="3.7"/><circle cx="1493" cy="298" r="3.7"/><circle cx="1775" cy="653" r="3.7"/><circle cx="1640" cy="552" r="3.7"/><circle cx="1699" cy="640" r="3.7"/><circle cx="1617" cy="513" r="3.7"/><circle cx="1387" cy="344" r="3.7"/><circle cx="1337" cy="267" r="3.7"/><circle cx="1409" cy="396" r="3.7"/><circle cx="1220" cy="189" r="3.7"/><circle cx="1261" cy="224" r="3.7"/><circle cx="1425" cy="453" r="3.7"/><circle cx="1421" cy="346" r="3.7"/><circle cx="1739" cy="569" r="3.7"/><circle cx="1340" cy="440" r="3.7"/><circle cx="1676" cy="790" r="3.7"/><circle cx="1320" cy="531" r="3.7"/><circle cx="1165" cy="151" r="3.7"/><circle cx="1687" cy="633" r="3.7"/><circle cx="1425" cy="269" r="3.7"/><circle cx="1417" cy="315" r="3.7"/><circle cx="1346" cy="361" r="3.7"/><circle cx="1678" cy="771" r="3.7"/><circle cx="1415" cy="292" r="3.7"/><circle cx="1639" cy="697" r="3.7"/><circle cx="1790" cy="867" r="3.7"/><circle cx="1651" cy="484" r="3.7"/><circle cx="1708" cy="648" r="3.7"/><circle cx="1605" cy="508" r="3.7"/><circle cx="1561" cy="343" r="3.7"/><circle cx="1487" cy="462" r="3.7"/><circle cx="1566" cy="502" r="3.7"/><circle cx="1492" cy="496" r="3.7"/><circle cx="1682" cy="688" r="3.7"/><circle cx="1560" cy="378" r="3.7"/><circle cx="1448" cy="351" r="3.7"/><circle cx="1531" cy="506" r="3.7"/><circle cx="1439" cy="286" r="3.7"/><circle cx="1636" cy="321" r="3.7"/><circle cx="1632" cy="275" r="3.7"/><circle cx="1602" cy="592" r="3.7"/><circle cx="1529" cy="355" r="3.7"/><circle cx="1539" cy="472" r="3.7"/><circle cx="1562" cy="385" r="3.7"/><circle cx="1736" cy="646" r="3.7"/><circle cx="1562" cy="386" r="3.7"/><circle cx="1248" cy="238" r="3.7"/><circle cx="1623" cy="500" r="3.7"/><circle cx="1534" cy="441" r="3.7"/><circle cx="1842" cy="509" r="3.7"/><circle cx="1617" cy="455" r="3.7"/><circle cx="1339" cy="217" r="3.7"/><circle cx="1235" cy="229" r="3.7"/><circle cx="1443" cy="424" r="3.7"/><circle cx="1593" cy="382" r="3.7"/><circle cx="1180" cy="321" r="3.7"/><circle cx="1778" cy="894" r="3.7"/><circle cx="1528" cy="486" r="3.7"/><circle cx="1706" cy="731" r="3.7"/><circle cx="1644" cy="625" r="3.7"/><circle cx="1466" cy="481" r="3.7"/><circle cx="1402" cy="259" r="3.7"/><circle cx="1674" cy="651" r="3.7"/><circle cx="1404" cy="353" r="3.7"/><circle cx="1199" cy="160" r="3.7"/><circle cx="1673" cy="861" r="3.7"/><circle cx="1533" cy="394" r="3.7"/><circle cx="1446" cy="390" r="3.7"/><circle cx="1216" cy="166" r="3.7"/><circle cx="1605" cy="728" r="3.7"/><circle cx="1426" cy="319" r="3.7"/><circle cx="1354" cy="217" r="3.7"/><circle cx="1542" cy="487" r="3.7"/><circle cx="1412" cy="225" r="3.7"/><circle cx="1559" cy="543" r="3.7"/><circle cx="1450" cy="339" r="3.7"/><circle cx="1255" cy="167" r="3.7"/><circle cx="1532" cy="363" r="3.7"/><circle cx="1418" cy="492" r="3.7"/><circle cx="1745" cy="672" r="3.7"/><circle cx="1353" cy="441" r="3.7"/><circle cx="1286" cy="302" r="3.7"/><circle cx="1780" cy="742" r="3.7"/><circle cx="1626" cy="538" r="3.7"/><circle cx="1505" cy="543" r="3.7"/><circle cx="1549" cy="407" r="3.7"/><circle cx="1309" cy="225" r="3.7"/><circle cx="1424" cy="513" r="3.7"/><circle cx="1341" cy="284" r="3.7"/><circle cx="1479" cy="442" r="3.7"/><circle cx="1582" cy="328" r="3.7"/><circle cx="1902" cy="814" r="3.7"/><circle cx="1610" cy="439" r="3.7"/><circle cx="1322" cy="201" r="3.7"/><circle cx="1696" cy="639" r="3.7"/><circle cx="1599" cy="409" r="3.7"/><circle cx="1530" cy="395" r="3.7"/><circle cx="1559" cy="382" r="3.7"/><circle cx="1545" cy="429" r="3.7"/><circle cx="1569" cy="336" r="3.7"/><circle cx="1428" cy="324" r="3.7"/><circle cx="1502" cy="359" r="3.7"/><circle cx="1616" cy="515" r="3.7"/><circle cx="1455" cy="287" r="3.7"/><circle cx="1441" cy="283" r="3.7"/><circle cx="1574" cy="479" r="3.7"/><circle cx="1547" cy="495" r="3.7"/><circle cx="1662" cy="592" r="3.7"/><circle cx="1274" cy="261" r="3.7"/><circle cx="1514" cy="577" r="3.7"/><circle cx="1384" cy="291" r="3.7"/><circle cx="1492" cy="409" r="3.7"/><circle cx="1484" cy="557" r="3.7"/><circle cx="1555" cy="311" r="3.7"/><circle cx="1292" cy="314" r="3.7"/><circle cx="1354" cy="283" r="3.7"/><circle cx="1431" cy="355" r="3.7"/><circle cx="1396" cy="426" r="3.7"/><circle cx="1354" cy="390" r="3.7"/><circle cx="1526" cy="492" r="3.7"/><circle cx="1644" cy="393" r="3.7"/><circle cx="1300" cy="245" r="3.7"/><circle cx="1579" cy="428" r="3.7"/><circle cx="1515" cy="676" r="3.7"/><circle cx="1725" cy="928" r="3.7"/><circle cx="1513" cy="377" r="3.7"/><circle cx="1577" cy="510" r="3.7"/><circle cx="1662" cy="409" r="3.7"/><circle cx="1618" cy="378" r="3.7"/><circle cx="1638" cy="488" r="3.7"/><circle cx="1294" cy="213" r="3.7"/><circle cx="1671" cy="550" r="3.7"/><circle cx="1656" cy="452" r="3.7"/><circle cx="1403" cy="293" r="3.7"/><circle cx="1515" cy="230" r="3.7"/><circle cx="1837" cy="714" r="3.7"/><circle cx="1746" cy="657" r="3.7"/><circle cx="1650" cy="388" r="3.7"/><circle cx="1824" cy="399" r="3.7"/><circle cx="1585" cy="286" r="3.7"/><circle cx="1545" cy="442" r="3.7"/><circle cx="1570" cy="481" r="3.7"/><circle cx="1536" cy="610" r="3.7"/><circle cx="1662" cy="520" r="3.7"/><circle cx="1572" cy="403" r="3.7"/><circle cx="1635" cy="378" r="3.7"/><circle cx="1493" cy="315" r="3.7"/><circle cx="1532" cy="431" r="3.7"/><circle cx="1630" cy="535" r="3.7"/><circle cx="1657" cy="551" r="3.7"/><circle cx="1466" cy="423" r="3.7"/><circle cx="1532" cy="513" r="3.7"/><circle cx="1627" cy="479" r="3.7"/><circle cx="1361" cy="271" r="3.7"/><circle cx="1584" cy="368" r="3.7"/><circle cx="1422" cy="415" r="3.7"/><circle cx="1515" cy="475" r="3.7"/><circle cx="1490" cy="260" r="3.7"/><circle cx="1550" cy="418" r="3.7"/><circle cx="1440" cy="282" r="3.7"/><circle cx="1508" cy="330" r="3.7"/><circle cx="1881" cy="716" r="3.7"/><circle cx="1560" cy="364" r="3.7"/><circle cx="1671" cy="438" r="3.7"/><circle cx="1323" cy="239" r="3.7"/><circle cx="1439" cy="426" r="3.7"/><circle cx="1373" cy="241" r="3.7"/><circle cx="1233" cy="196" r="3.7"/><circle cx="1623" cy="599" r="3.7"/><circle cx="1382" cy="320" r="3.7"/><circle cx="1516" cy="420" r="3.7"/><circle cx="1572" cy="468" r="3.7"/><circle cx="1429" cy="327" r="3.7"/><circle cx="1408" cy="313" r="3.7"/><circle cx="1467" cy="290" r="3.7"/><circle cx="1628" cy="592" r="3.7"/><circle cx="1542" cy="466" r="3.7"/><circle cx="1363" cy="303" r="3.7"/><circle cx="1608" cy="445" r="3.7"/><circle cx="1547" cy="478" r="3.7"/><circle cx="1520" cy="403" r="3.7"/><circle cx="1459" cy="386" r="3.7"/><circle cx="1657" cy="663" r="3.7"/><circle cx="1565" cy="492" r="3.7"/><circle cx="1698" cy="875" r="3.7"/><circle cx="1493" cy="325" r="3.7"/><circle cx="1808" cy="719" r="3.7"/><circle cx="1594" cy="399" r="3.7"/><circle cx="1283" cy="242" r="3.7"/><circle cx="1404" cy="300" r="3.7"/><circle cx="1432" cy="340" r="3.7"/><circle cx="1617" cy="373" r="3.7"/><circle cx="1515" cy="449" r="3.7"/><circle cx="1497" cy="418" r="3.7"/><circle cx="1519" cy="572" r="3.7"/><circle cx="1565" cy="391" r="3.7"/><circle cx="1395" cy="404" r="3.7"/><circle cx="1440" cy="531" r="3.7"/><circle cx="1752" cy="373" r="3.7"/><circle cx="1365" cy="236" r="3.7"/><circle cx="1686" cy="639" r="3.7"/><circle cx="1452" cy="398" r="3.7"/><circle cx="1561" cy="415" r="3.7"/><circle cx="1551" cy="450" r="3.7"/><circle cx="1339" cy="231" r="3.7"/><circle cx="1634" cy="360" r="3.7"/><circle cx="1331" cy="240" r="3.7"/><circle cx="1669" cy="491" r="3.7"/><circle cx="1535" cy="364" r="3.7"/><circle cx="1539" cy="440" r="3.7"/><circle cx="1473" cy="411" r="3.7"/><circle cx="1589" cy="505" r="3.7"/><circle cx="1556" cy="491" r="3.7"/><circle cx="1544" cy="370" r="3.7"/><circle cx="1235" cy="218" r="3.7"/><circle cx="1430" cy="373" r="3.7"/><circle cx="1446" cy="298" r="3.7"/><circle cx="1697" cy="549" r="3.7"/><circle cx="1509" cy="389" r="3.7"/><circle cx="1360" cy="213" r="3.7"/><circle cx="1483" cy="312" r="3.7"/><circle cx="1522" cy="390" r="3.7"/><circle cx="1244" cy="226" r="3.7"/><circle cx="1697" cy="606" r="3.7"/><circle cx="1532" cy="566" r="3.7"/><circle cx="1656" cy="418" r="3.7"/><circle cx="1567" cy="341" r="3.7"/><circle cx="1551" cy="475" r="3.7"/><circle cx="1582" cy="430" r="3.7"/><circle cx="1570" cy="340" r="3.7"/><circle cx="1669" cy="705" r="3.7"/><circle cx="1470" cy="551" r="3.7"/><circle cx="1741" cy="629" r="3.7"/><circle cx="1534" cy="228" r="3.7"/><circle cx="1762" cy="378" r="3.7"/><circle cx="1476" cy="314" r="3.7"/><circle cx="1563" cy="496" r="3.7"/><circle cx="1710" cy="706" r="3.7"/><circle cx="1493" cy="309" r="3.7"/><circle cx="1505" cy="414" r="3.7"/><circle cx="1539" cy="181" r="3.7"/><circle cx="1627" cy="503" r="3.7"/><circle cx="1525" cy="440" r="3.7"/><circle cx="1458" cy="443" r="3.7"/><circle cx="1514" cy="381" r="3.7"/><circle cx="1497" cy="356" r="3.7"/><circle cx="1349" cy="253" r="3.7"/><circle cx="1439" cy="349" r="3.7"/><circle cx="1595" cy="521" r="3.7"/><circle cx="1323" cy="257" r="3.7"/><circle cx="1535" cy="302" r="3.7"/><circle cx="1363" cy="293" r="3.7"/><circle cx="1548" cy="445" r="3.7"/><circle cx="1359" cy="268" r="3.7"/><circle cx="1522" cy="434" r="3.7"/><circle cx="1451" cy="429" r="3.7"/><circle cx="1769" cy="832" r="3.7"/><circle cx="1548" cy="405" r="3.7"/><circle cx="1720" cy="840" r="3.7"/><circle cx="1520" cy="321" r="3.7"/><circle cx="1414" cy="166" r="3.7"/><circle cx="1700" cy="537" r="3.7"/><circle cx="1629" cy="518" r="3.7"/><circle cx="1253" cy="203" r="3.7"/><circle cx="1612" cy="509" r="3.7"/><circle cx="1776" cy="876" r="3.7"/><circle cx="1636" cy="400" r="3.7"/><circle cx="1352" cy="334" r="3.7"/><circle cx="1370" cy="293" r="3.7"/><circle cx="1540" cy="418" r="3.7"/><circle cx="1647" cy="463" r="3.7"/><circle cx="1702" cy="728" r="3.7"/><circle cx="1480" cy="326" r="3.7"/><circle cx="1333" cy="269" r="3.7"/><circle cx="1432" cy="335" r="3.7"/><circle cx="1580" cy="429" r="3.7"/><circle cx="1612" cy="476" r="3.7"/><circle cx="1533" cy="333" r="3.7"/><circle cx="1630" cy="618" r="3.7"/><circle cx="1242" cy="201" r="3.7"/><circle cx="1763" cy="873" r="3.7"/><circle cx="1399" cy="490" r="3.7"/><circle cx="1266" cy="196" r="3.7"/><circle cx="1598" cy="533" r="3.7"/><circle cx="1820" cy="730" r="3.7"/><circle cx="1757" cy="418" r="3.7"/><circle cx="1490" cy="648" r="3.7"/><circle cx="1673" cy="419" r="3.7"/><circle cx="1518" cy="485" r="3.7"/><circle cx="1573" cy="461" r="3.7"/><circle cx="1594" cy="517" r="3.7"/><circle cx="1905" cy="908" r="3.7"/><circle cx="1355" cy="307" r="3.7"/><circle cx="1523" cy="468" r="3.7"/><circle cx="1710" cy="639" r="3.7"/><circle cx="1678" cy="439" r="3.7"/><circle cx="1478" cy="469" r="3.7"/><circle cx="1379" cy="280" r="3.7"/><circle cx="1415" cy="331" r="3.7"/><circle cx="1460" cy="340" r="3.7"/><circle cx="1537" cy="536" r="3.7"/><circle cx="1525" cy="328" r="3.7"/><circle cx="1265" cy="189" r="3.7"/><circle cx="1452" cy="370" r="3.7"/><circle cx="1423" cy="297" r="3.7"/><circle cx="1482" cy="377" r="3.7"/><circle cx="1744" cy="727" r="3.7"/><circle cx="1525" cy="311" r="3.7"/><circle cx="1458" cy="616" r="3.7"/><circle cx="1440" cy="287" r="3.7"/><circle cx="1682" cy="529" r="3.7"/><circle cx="1527" cy="442" r="3.7"/><circle cx="1408" cy="313" r="3.7"/><circle cx="1502" cy="462" r="3.7"/><circle cx="1627" cy="611" r="3.7"/><circle cx="1477" cy="190" r="3.7"/><circle cx="1596" cy="499" r="3.7"/><circle cx="1804" cy="813" r="3.7"/><circle cx="1577" cy="313" r="3.7"/><circle cx="1544" cy="424" r="3.7"/><circle cx="1490" cy="291" r="3.7"/><circle cx="1796" cy="372" r="3.7"/><circle cx="1559" cy="458" r="3.7"/><circle cx="1733" cy="804" r="3.7"/><circle cx="1627" cy="405" r="3.7"/><circle cx="1398" cy="275" r="3.7"/><circle cx="1525" cy="542" r="3.7"/><circle cx="1573" cy="460" r="3.7"/><circle cx="1794" cy="908" r="3.7"/><circle cx="1674" cy="625" r="3.7"/><circle cx="1586" cy="387" r="3.7"/><circle cx="1775" cy="660" r="3.7"/><circle cx="1353" cy="264" r="3.7"/><circle cx="1692" cy="633" r="3.7"/><circle cx="1205" cy="158" r="3.7"/><circle cx="1799" cy="446" r="3.7"/><circle cx="1381" cy="365" r="3.7"/><circle cx="1428" cy="308" r="3.7"/><circle cx="1321" cy="186" r="3.7"/><circle cx="1251" cy="312" r="3.7"/><circle cx="1524" cy="388" r="3.7"/><circle cx="1486" cy="438" r="3.7"/><circle cx="1623" cy="510" r="3.7"/><circle cx="1743" cy="751" r="3.7"/><circle cx="1479" cy="333" r="3.7"/><circle cx="1702" cy="737" r="3.7"/><circle cx="1549" cy="472" r="3.7"/><circle cx="1397" cy="289" r="3.7"/><circle cx="1578" cy="435" r="3.7"/><circle cx="1718" cy="681" r="3.7"/><circle cx="1526" cy="418" r="3.7"/><circle cx="1594" cy="467" r="3.7"/><circle cx="1398" cy="284" r="3.7"/><circle cx="1832" cy="734" r="3.7"/><circle cx="1609" cy="397" r="3.7"/><circle cx="1651" cy="775" r="3.7"/><circle cx="1417" cy="331" r="3.7"/><circle cx="1591" cy="381" r="3.7"/><circle cx="1732" cy="877" r="3.7"/><circle cx="1696" cy="708" r="3.7"/><circle cx="1601" cy="392" r="3.7"/><circle cx="1467" cy="302" r="3.7"/><circle cx="1655" cy="569" r="3.7"/><circle cx="1611" cy="412" r="3.7"/><circle cx="1489" cy="532" r="3.7"/><circle cx="1606" cy="213" r="3.7"/><circle cx="1485" cy="403" r="3.7"/><circle cx="1552" cy="274" r="3.7"/><circle cx="1435" cy="555" r="3.7"/><circle cx="1647" cy="498" r="3.7"/><circle cx="1738" cy="944" r="3.7"/><circle cx="1368" cy="196" r="3.7"/><circle cx="1414" cy="322" r="3.7"/><circle cx="1548" cy="329" r="3.7"/><circle cx="1623" cy="355" r="3.7"/><circle cx="1391" cy="230" r="3.7"/><circle cx="1601" cy="701" r="3.7"/><circle cx="1249" cy="221" r="3.7"/><circle cx="1414" cy="335" r="3.7"/><circle cx="1535" cy="527" r="3.7"/><circle cx="1420" cy="205" r="3.7"/><circle cx="1410" cy="312" r="3.7"/><circle cx="1550" cy="317" r="3.7"/><circle cx="1348" cy="417" r="3.7"/><circle cx="1474" cy="343" r="3.7"/><circle cx="1739" cy="633" r="3.7"/><circle cx="1347" cy="205" r="3.7"/><circle cx="1534" cy="561" r="3.7"/><circle cx="1441" cy="354" r="3.7"/><circle cx="1346" cy="271" r="3.7"/><circle cx="1653" cy="637" r="3.7"/><circle cx="1449" cy="277" r="3.7"/><circle cx="1304" cy="265" r="3.7"/><circle cx="1274" cy="262" r="3.7"/><circle cx="1676" cy="586" r="3.7"/><circle cx="1890" cy="974" r="3.7"/><circle cx="1724" cy="685" r="3.7"/><circle cx="1354" cy="265" r="3.7"/><circle cx="1603" cy="333" r="3.7"/><circle cx="1777" cy="544" r="3.7"/><circle cx="1551" cy="431" r="3.7"/><circle cx="1795" cy="828" r="3.7"/><circle cx="1751" cy="732" r="3.7"/><circle cx="1502" cy="512" r="3.7"/><circle cx="1721" cy="743" r="3.7"/><circle cx="1391" cy="497" r="3.7"/><circle cx="1521" cy="325" r="3.7"/><circle cx="1568" cy="478" r="3.7"/><circle cx="1575" cy="687" r="3.7"/><circle cx="1420" cy="440" r="3.7"/><circle cx="1414" cy="272" r="3.7"/><circle cx="1621" cy="479" r="3.7"/><circle cx="1631" cy="572" r="3.7"/><circle cx="1626" cy="349" r="3.7"/><circle cx="1486" cy="336" r="3.7"/><circle cx="1399" cy="266" r="3.7"/><circle cx="1675" cy="499" r="3.7"/><circle cx="1192" cy="491" r="3.7"/><circle cx="1685" cy="615" r="3.7"/><circle cx="1660" cy="691" r="3.7"/><circle cx="1532" cy="205" r="3.7"/><circle cx="1614" cy="578" r="3.7"/><circle cx="1531" cy="456" r="3.7"/><circle cx="1588" cy="361" r="3.7"/><circle cx="1536" cy="396" r="3.7"/><circle cx="1546" cy="451" r="3.7"/><circle cx="1749" cy="396" r="3.7"/><circle cx="1549" cy="604" r="3.7"/><circle cx="1614" cy="436" r="3.7"/><circle cx="1584" cy="511" r="3.7"/><circle cx="1614" cy="445" r="3.7"/><circle cx="1598" cy="663" r="3.7"/><circle cx="1667" cy="587" r="3.7"/><circle cx="1470" cy="285" r="3.7"/><circle cx="1447" cy="390" r="3.7"/><circle cx="1826" cy="446" r="3.7"/><circle cx="1598" cy="652" r="3.7"/><circle cx="1674" cy="584" r="3.7"/><circle cx="1612" cy="361" r="3.7"/><circle cx="1574" cy="373" r="3.7"/><circle cx="1588" cy="599" r="3.7"/><circle cx="1338" cy="203" r="3.7"/><circle cx="1367" cy="525" r="3.7"/><circle cx="1568" cy="329" r="3.7"/><circle cx="1492" cy="420" r="3.7"/><circle cx="1335" cy="223" r="3.7"/><circle cx="1573" cy="375" r="3.7"/><circle cx="1469" cy="351" r="3.7"/><circle cx="1652" cy="477" r="3.7"/><circle cx="1763" cy="723" r="3.7"/><circle cx="1640" cy="563" r="3.7"/><circle cx="1574" cy="434" r="3.7"/><circle cx="1376" cy="202" r="3.7"/><circle cx="1578" cy="476" r="3.7"/><circle cx="1619" cy="425" r="3.7"/><circle cx="1595" cy="391" r="3.7"/><circle cx="1533" cy="462" r="3.7"/><circle cx="1395" cy="238" r="3.7"/><circle cx="1963" cy="946" r="3.7"/><circle cx="1628" cy="513" r="3.7"/><circle cx="1759" cy="704" r="3.7"/><circle cx="1431" cy="397" r="3.7"/><circle cx="1687" cy="649" r="3.7"/><circle cx="1515" cy="728" r="3.7"/><circle cx="1431" cy="315" r="3.7"/><circle cx="1356" cy="252" r="3.7"/><circle cx="1475" cy="295" r="3.7"/><circle cx="1433" cy="350" r="3.7"/><circle cx="1641" cy="410" r="3.7"/><circle cx="1533" cy="406" r="3.7"/><circle cx="1438" cy="282" r="3.7"/><circle cx="1626" cy="466" r="3.7"/><circle cx="1268" cy="161" r="3.7"/><circle cx="1580" cy="449" r="3.7"/><circle cx="1617" cy="955" r="3.7"/><circle cx="1476" cy="314" r="3.7"/><circle cx="1537" cy="536" r="3.7"/><circle cx="1440" cy="423" r="3.7"/><circle cx="1907" cy="572" r="3.7"/><circle cx="1564" cy="428" r="3.7"/><circle cx="1530" cy="406" r="3.7"/><circle cx="1549" cy="526" r="3.7"/><circle cx="1402" cy="367" r="3.7"/><circle cx="1525" cy="362" r="3.7"/><circle cx="1665" cy="696" r="3.7"/><circle cx="1659" cy="311" r="3.7"/><circle cx="1305" cy="241" r="3.7"/><circle cx="1612" cy="448" r="3.7"/><circle cx="1347" cy="395" r="3.7"/><circle cx="1519" cy="396" r="3.7"/><circle cx="1532" cy="319" r="3.7"/><circle cx="1596" cy="461" r="3.7"/><circle cx="1426" cy="371" r="3.7"/><circle cx="1212" cy="270" r="3.7"/><circle cx="1546" cy="430" r="3.7"/><circle cx="1608" cy="496" r="3.7"/><circle cx="1589" cy="554" r="3.7"/><circle cx="1599" cy="510" r="3.7"/><circle cx="1529" cy="442" r="3.7"/><circle cx="1233" cy="188" r="3.7"/><circle cx="1560" cy="289" r="3.7"/><circle cx="1659" cy="564" r="3.7"/><circle cx="1904" cy="544" r="3.7"/><circle cx="1571" cy="405" r="3.7"/><circle cx="1459" cy="217" r="3.7"/><circle cx="1685" cy="717" r="3.7"/><circle cx="1559" cy="505" r="3.7"/><circle cx="1670" cy="498" r="3.7"/><circle cx="1368" cy="282" r="3.7"/><circle cx="1428" cy="217" r="3.7"/><circle cx="1360" cy="290" r="3.7"/><circle cx="1525" cy="485" r="3.7"/><circle cx="1374" cy="481" r="3.7"/><circle cx="1600" cy="482" r="3.7"/><circle cx="1448" cy="582" r="3.7"/><circle cx="1322" cy="257" r="3.7"/><circle cx="1612" cy="888" r="3.7"/><circle cx="1683" cy="689" r="3.7"/><circle cx="1509" cy="378" r="3.7"/><circle cx="1530" cy="380" r="3.7"/><circle cx="1489" cy="371" r="3.7"/><circle cx="1385" cy="331" r="3.7"/><circle cx="1620" cy="462" r="3.7"/><circle cx="1449" cy="284" r="3.7"/><circle cx="1544" cy="389" r="3.7"/><circle cx="1857" cy="741" r="3.7"/><circle cx="1482" cy="384" r="3.7"/><circle cx="1919" cy="885" r="3.7"/><circle cx="1811" cy="876" r="3.7"/><circle cx="1571" cy="358" r="3.7"/><circle cx="1758" cy="650" r="3.7"/><circle cx="1250" cy="131" r="3.7"/><circle cx="1590" cy="596" r="3.7"/><circle cx="1274" cy="516" r="3.7"/><circle cx="1752" cy="823" r="3.7"/><circle cx="1837" cy="899" r="3.7"/><circle cx="1154" cy="142" r="3.7"/><circle cx="1589" cy="443" r="3.7"/><circle cx="1390" cy="290" r="3.7"/><circle cx="1606" cy="437" r="3.7"/><circle cx="1405" cy="548" r="3.7"/><circle cx="1372" cy="385" r="3.7"/><circle cx="1657" cy="621" r="3.7"/><circle cx="1731" cy="746" r="3.7"/><circle cx="1452" cy="514" r="3.7"/><circle cx="1371" cy="165" r="3.7"/><circle cx="1537" cy="513" r="3.7"/><circle cx="1330" cy="485" r="3.7"/><circle cx="1239" cy="168" r="3.7"/><circle cx="1350" cy="277" r="3.7"/><circle cx="1691" cy="549" r="3.7"/><circle cx="1650" cy="567" r="3.7"/><circle cx="1505" cy="311" r="3.7"/><circle cx="1750" cy="512" r="3.7"/><circle cx="1621" cy="500" r="3.7"/><circle cx="1575" cy="452" r="3.7"/><circle cx="1617" cy="254" r="3.7"/><circle cx="1574" cy="574" r="3.7"/><circle cx="1683" cy="559" r="3.7"/><circle cx="1904" cy="883" r="3.7"/><circle cx="1288" cy="172" r="3.7"/><circle cx="1465" cy="334" r="3.7"/><circle cx="1668" cy="619" r="3.7"/><circle cx="1402" cy="279" r="3.7"/><circle cx="1551" cy="441" r="3.7"/><circle cx="1730" cy="883" r="3.7"/><circle cx="1279" cy="427" r="3.7"/><circle cx="1756" cy="607" r="3.7"/><circle cx="1499" cy="364" r="3.7"/><circle cx="1561" cy="319" r="3.7"/><circle cx="1554" cy="347" r="3.7"/><circle cx="1702" cy="685" r="3.7"/><circle cx="1385" cy="373" r="3.7"/><circle cx="1386" cy="476" r="3.7"/><circle cx="1622" cy="419" r="3.7"/><circle cx="1459" cy="437" r="3.7"/><circle cx="1721" cy="669" r="3.7"/><circle cx="1679" cy="553" r="3.7"/><circle cx="1574" cy="510" r="3.7"/><circle cx="1508" cy="361" r="3.7"/><circle cx="1366" cy="235" r="3.7"/><circle cx="1625" cy="454" r="3.7"/><circle cx="1429" cy="282" r="3.7"/><circle cx="1611" cy="449" r="3.7"/><circle cx="1364" cy="258" r="3.7"/><circle cx="1642" cy="407" r="3.7"/><circle cx="1510" cy="475" r="3.7"/><circle cx="1675" cy="675" r="3.7"/><circle cx="1478" cy="331" r="3.7"/><circle cx="1173" cy="252" r="3.7"/><circle cx="1645" cy="517" r="3.7"/><circle cx="1412" cy="289" r="3.7"/><circle cx="1657" cy="684" r="3.7"/><circle cx="1561" cy="403" r="3.7"/><circle cx="1583" cy="586" r="3.7"/><circle cx="1594" cy="339" r="3.7"/><circle cx="1416" cy="173" r="3.7"/><circle cx="1953" cy="636" r="3.7"/><circle cx="1774" cy="739" r="3.7"/><circle cx="1627" cy="468" r="3.7"/><circle cx="1712" cy="665" r="3.7"/><circle cx="1571" cy="435" r="3.7"/><circle cx="1656" cy="465" r="3.7"/><circle cx="1570" cy="371" r="3.7"/><circle cx="1281" cy="296" r="3.7"/><circle cx="1411" cy="289" r="3.7"/><circle cx="1671" cy="641" r="3.7"/><circle cx="1628" cy="566" r="3.7"/><circle cx="1577" cy="384" r="3.7"/><circle cx="1705" cy="486" r="3.7"/><circle cx="1614" cy="716" r="3.7"/><circle cx="1449" cy="517" r="3.7"/><circle cx="1571" cy="488" r="3.7"/><circle cx="1591" cy="423" r="3.7"/><circle cx="1560" cy="478" r="3.7"/><circle cx="1228" cy="193" r="3.7"/><circle cx="1507" cy="361" r="3.7"/><circle cx="1486" cy="482" r="3.7"/><circle cx="1381" cy="208" r="3.7"/><circle cx="1557" cy="431" r="3.7"/><circle cx="1292" cy="196" r="3.7"/><circle cx="1641" cy="503" r="3.7"/><circle cx="1349" cy="269" r="3.7"/><circle cx="1487" cy="581" r="3.7"/><circle cx="1671" cy="273" r="3.7"/><circle cx="1448" cy="315" r="3.7"/><circle cx="1666" cy="535" r="3.7"/><circle cx="1457" cy="301" r="3.7"/><circle cx="1508" cy="217" r="3.7"/><circle cx="1579" cy="291" r="3.7"/><circle cx="1582" cy="578" r="3.7"/><circle cx="1630" cy="556" r="3.7"/><circle cx="1304" cy="253" r="3.7"/><circle cx="1539" cy="428" r="3.7"/><circle cx="1942" cy="843" r="3.7"/><circle cx="1617" cy="410" r="3.7"/><circle cx="1610" cy="612" r="3.7"/><circle cx="1680" cy="572" r="3.7"/><circle cx="1613" cy="523" r="3.7"/><circle cx="1288" cy="209" r="3.7"/><circle cx="1628" cy="422" r="3.7"/><circle cx="1484" cy="343" r="3.7"/><circle cx="1599" cy="790" r="3.7"/><circle cx="1345" cy="361" r="3.7"/><circle cx="1635" cy="688" r="3.7"/><circle cx="1809" cy="676" r="3.7"/><circle cx="1350" cy="275" r="3.7"/><circle cx="1562" cy="450" r="3.7"/><circle cx="1562" cy="451" r="3.7"/><circle cx="1459" cy="391" r="3.7"/><circle cx="1386" cy="264" r="3.7"/><circle cx="1651" cy="440" r="3.7"/><circle cx="1648" cy="639" r="3.7"/><circle cx="1725" cy="629" r="3.7"/><circle cx="1530" cy="390" r="3.7"/><circle cx="1699" cy="640" r="3.7"/><circle cx="1395" cy="316" r="3.7"/><circle cx="1643" cy="566" r="3.7"/><circle cx="1574" cy="339" r="3.7"/><circle cx="1671" cy="421" r="3.7"/><circle cx="1527" cy="330" r="3.7"/><circle cx="1160" cy="141" r="3.7"/><circle cx="1562" cy="452" r="3.7"/><circle cx="1588" cy="719" r="3.7"/><circle cx="1326" cy="279" r="3.7"/><circle cx="1466" cy="331" r="3.7"/><circle cx="1317" cy="464" r="3.7"/><circle cx="1623" cy="352" r="3.7"/><circle cx="1624" cy="600" r="3.7"/><circle cx="1396" cy="308" r="3.7"/><circle cx="1615" cy="477" r="3.7"/><circle cx="1548" cy="252" r="3.7"/><circle cx="1506" cy="346" r="3.7"/><circle cx="1380" cy="268" r="3.7"/><circle cx="1486" cy="347" r="3.7"/><circle cx="1517" cy="374" r="3.7"/><circle cx="1600" cy="575" r="3.7"/><circle cx="1436" cy="284" r="3.7"/><circle cx="1558" cy="330" r="3.7"/><circle cx="1521" cy="240" r="3.7"/><circle cx="1841" cy="825" r="3.7"/><circle cx="1813" cy="888" r="3.7"/><circle cx="1420" cy="318" r="3.7"/><circle cx="1565" cy="380" r="3.7"/><circle cx="1595" cy="213" r="3.7"/><circle cx="1587" cy="486" r="3.7"/><circle cx="1407" cy="188" r="3.7"/><circle cx="1369" cy="279" r="3.7"/><circle cx="1556" cy="359" r="3.7"/><circle cx="1657" cy="410" r="3.7"/><circle cx="1803" cy="804" r="3.7"/><circle cx="1829" cy="783" r="3.7"/><circle cx="1654" cy="650" r="3.7"/><circle cx="1735" cy="798" r="3.7"/><circle cx="1352" cy="258" r="3.7"/><circle cx="1643" cy="594" r="3.7"/><circle cx="1356" cy="212" r="3.7"/><circle cx="1583" cy="806" r="3.7"/><circle cx="1604" cy="407" r="3.7"/><circle cx="1541" cy="489" r="3.7"/><circle cx="1556" cy="369" r="3.7"/><circle cx="1497" cy="319" r="3.7"/><circle cx="1767" cy="765" r="3.7"/><circle cx="1365" cy="259" r="3.7"/><circle cx="1608" cy="412" r="3.7"/><circle cx="1479" cy="372" r="3.7"/><circle cx="1351" cy="327" r="3.7"/><circle cx="1491" cy="446" r="3.7"/><circle cx="1666" cy="639" r="3.7"/><circle cx="1648" cy="378" r="3.7"/><circle cx="1527" cy="507" r="3.7"/><circle cx="1772" cy="817" r="3.7"/><circle cx="1685" cy="716" r="3.7"/><circle cx="1636" cy="638" r="3.7"/><circle cx="1291" cy="127" r="3.7"/><circle cx="1585" cy="516" r="3.7"/><circle cx="1500" cy="351" r="3.7"/><circle cx="1633" cy="478" r="3.7"/><circle cx="1625" cy="583" r="3.7"/><circle cx="1558" cy="458" r="3.7"/><circle cx="1515" cy="168" r="3.7"/><circle cx="1655" cy="648" r="3.7"/><circle cx="1362" cy="349" r="3.7"/><circle cx="1670" cy="660" r="3.7"/><circle cx="1410" cy="213" r="3.7"/><circle cx="1499" cy="413" r="3.7"/><circle cx="1557" cy="442" r="3.7"/><circle cx="1557" cy="446" r="3.7"/><circle cx="1763" cy="778" r="3.7"/><circle cx="1189" cy="105" r="3.7"/><circle cx="1596" cy="324" r="3.7"/><circle cx="1280" cy="307" r="3.7"/><circle cx="1374" cy="469" r="3.7"/><circle cx="1756" cy="799" r="3.7"/><circle cx="1897" cy="824" r="3.7"/><circle cx="1754" cy="671" r="3.7"/><circle cx="1582" cy="486" r="3.7"/><circle cx="1544" cy="479" r="3.7"/><circle cx="1328" cy="288" r="3.7"/><circle cx="1355" cy="241" r="3.7"/><circle cx="1673" cy="657" r="3.7"/><circle cx="1581" cy="444" r="3.7"/><circle cx="1434" cy="340" r="3.7"/><circle cx="1625" cy="517" r="3.7"/><circle cx="1496" cy="378" r="3.7"/><circle cx="1600" cy="423" r="3.7"/><circle cx="1554" cy="389" r="3.7"/><circle cx="1670" cy="682" r="3.7"/><circle cx="1444" cy="242" r="3.7"/><circle cx="1615" cy="390" r="3.7"/><circle cx="1387" cy="256" r="3.7"/><circle cx="1477" cy="304" r="3.7"/><circle cx="1297" cy="268" r="3.7"/><circle cx="1430" cy="447" r="3.7"/><circle cx="1652" cy="582" r="3.7"/><circle cx="1589" cy="449" r="3.7"/><circle cx="1793" cy="767" r="3.7"/><circle cx="1657" cy="319" r="3.7"/><circle cx="1543" cy="465" r="3.7"/><circle cx="1766" cy="834" r="3.7"/><circle cx="1598" cy="737" r="3.7"/><circle cx="1591" cy="662" r="3.7"/><circle cx="1532" cy="479" r="3.7"/><circle cx="1183" cy="181" r="3.7"/><circle cx="1673" cy="411" r="3.7"/><circle cx="1464" cy="287" r="3.7"/><circle cx="1482" cy="512" r="3.7"/><circle cx="1536" cy="394" r="3.7"/><circle cx="1671" cy="795" r="3.7"/><circle cx="1577" cy="461" r="3.7"/><circle cx="1288" cy="393" r="3.7"/><circle cx="1645" cy="377" r="3.7"/><circle cx="1407" cy="286" r="3.7"/><circle cx="1560" cy="453" r="3.7"/><circle cx="1350" cy="377" r="3.7"/><circle cx="1363" cy="289" r="3.7"/><circle cx="1580" cy="413" r="3.7"/><circle cx="1707" cy="705" r="3.7"/><circle cx="1700" cy="565" r="3.7"/><circle cx="1292" cy="277" r="3.7"/><circle cx="1365" cy="272" r="3.7"/><circle cx="1458" cy="313" r="3.7"/><circle cx="1533" cy="162" r="3.7"/><circle cx="1470" cy="305" r="3.7"/><circle cx="1665" cy="384" r="3.7"/><circle cx="1566" cy="355" r="3.7"/><circle cx="1641" cy="336" r="3.7"/><circle cx="1526" cy="502" r="3.7"/><circle cx="1598" cy="389" r="3.7"/><circle cx="1563" cy="419" r="3.7"/><circle cx="1555" cy="381" r="3.7"/><circle cx="1359" cy="258" r="3.7"/><circle cx="1438" cy="300" r="3.7"/><circle cx="1423" cy="365" r="3.7"/><circle cx="1557" cy="674" r="3.7"/><circle cx="1603" cy="430" r="3.7"/><circle cx="1629" cy="446" r="3.7"/><circle cx="1800" cy="766" r="3.7"/><circle cx="1622" cy="383" r="3.7"/><circle cx="1539" cy="491" r="3.7"/><circle cx="1248" cy="230" r="3.7"/><circle cx="1177" cy="174" r="3.7"/><circle cx="1476" cy="381" r="3.7"/><circle cx="1163" cy="110" r="3.7"/><circle cx="1411" cy="291" r="3.7"/><circle cx="1486" cy="332" r="3.7"/><circle cx="1492" cy="277" r="3.7"/><circle cx="1713" cy="684" r="3.7"/><circle cx="1793" cy="621" r="3.7"/><circle cx="1323" cy="343" r="3.7"/><circle cx="1626" cy="411" r="3.7"/><circle cx="1437" cy="314" r="3.7"/><circle cx="1446" cy="241" r="3.7"/><circle cx="1429" cy="284" r="3.7"/><circle cx="1314" cy="177" r="3.7"/><circle cx="1414" cy="532" r="3.7"/><circle cx="1588" cy="402" r="3.7"/><circle cx="1488" cy="338" r="3.7"/><circle cx="1419" cy="276" r="3.7"/><circle cx="1361" cy="244" r="3.7"/><circle cx="1533" cy="452" r="3.7"/><circle cx="1483" cy="457" r="3.7"/><circle cx="1658" cy="508" r="3.7"/><circle cx="1535" cy="446" r="3.7"/><circle cx="1599" cy="439" r="3.7"/><circle cx="1686" cy="610" r="3.7"/><circle cx="1618" cy="649" r="3.7"/><circle cx="1609" cy="479" r="3.7"/><circle cx="1316" cy="238" r="3.7"/><circle cx="1512" cy="412" r="3.7"/><circle cx="1451" cy="557" r="3.7"/><circle cx="1284" cy="274" r="3.7"/><circle cx="1559" cy="358" r="3.7"/><circle cx="1709" cy="685" r="3.7"/><circle cx="1566" cy="409" r="3.7"/><circle cx="1336" cy="239" r="3.7"/><circle cx="1545" cy="419" r="3.7"/><circle cx="1432" cy="375" r="3.7"/><circle cx="1466" cy="170" r="3.7"/><circle cx="1586" cy="479" r="3.7"/><circle cx="1465" cy="255" r="3.7"/><circle cx="1349" cy="285" r="3.7"/><circle cx="1485" cy="353" r="3.7"/><circle cx="1358" cy="200" r="3.7"/><circle cx="1742" cy="719" r="3.7"/><circle cx="1373" cy="501" r="3.7"/><circle cx="1688" cy="851" r="3.7"/><circle cx="1563" cy="369" r="3.7"/><circle cx="1555" cy="441" r="3.7"/><circle cx="1369" cy="217" r="3.7"/><circle cx="1315" cy="278" r="3.7"/><circle cx="1610" cy="505" r="3.7"/><circle cx="1781" cy="900" r="3.7"/><circle cx="1680" cy="575" r="3.7"/><circle cx="1569" cy="708" r="3.7"/><circle cx="1539" cy="381" r="3.7"/><circle cx="1583" cy="516" r="3.7"/><circle cx="1369" cy="383" r="3.7"/><circle cx="1309" cy="210" r="3.7"/><circle cx="1651" cy="642" r="3.7"/><circle cx="1464" cy="435" r="3.7"/><circle cx="1439" cy="287" r="3.7"/><circle cx="1502" cy="344" r="3.7"/><circle cx="1424" cy="179" r="3.7"/><circle cx="1313" cy="164" r="3.7"/><circle cx="1396" cy="314" r="3.7"/><circle cx="1690" cy="610" r="3.7"/><circle cx="1647" cy="503" r="3.7"/><circle cx="1484" cy="335" r="3.7"/><circle cx="1449" cy="343" r="3.7"/><circle cx="1734" cy="667" r="3.7"/><circle cx="1584" cy="381" r="3.7"/><circle cx="1436" cy="421" r="3.7"/><circle cx="1492" cy="429" r="3.7"/><circle cx="1549" cy="500" r="3.7"/><circle cx="1508" cy="200" r="3.7"/><circle cx="1537" cy="425" r="3.7"/><circle cx="1389" cy="226" r="3.7"/><circle cx="1688" cy="772" r="3.7"/><circle cx="1550" cy="475" r="3.7"/><circle cx="1559" cy="361" r="3.7"/><circle cx="1634" cy="593" r="3.7"/><circle cx="1613" cy="705" r="3.7"/><circle cx="1405" cy="283" r="3.7"/><circle cx="1621" cy="496" r="3.7"/><circle cx="1476" cy="474" r="3.7"/><circle cx="1226" cy="193" r="3.7"/><circle cx="1345" cy="248" r="3.7"/><circle cx="1704" cy="570" r="3.7"/><circle cx="1422" cy="429" r="3.7"/><circle cx="1610" cy="552" r="3.7"/><circle cx="1786" cy="863" r="3.7"/><circle cx="1628" cy="448" r="3.7"/><circle cx="1461" cy="329" r="3.7"/><circle cx="1691" cy="625" r="3.7"/><circle cx="1555" cy="697" r="3.7"/><circle cx="1554" cy="478" r="3.7"/><circle cx="1601" cy="630" r="3.7"/><circle cx="1603" cy="530" r="3.7"/><circle cx="1710" cy="605" r="3.7"/><circle cx="1724" cy="553" r="3.7"/><circle cx="1557" cy="402" r="3.7"/><circle cx="1505" cy="359" r="3.7"/><circle cx="1276" cy="153" r="3.7"/><circle cx="1331" cy="216" r="3.7"/><circle cx="1295" cy="248" r="3.7"/><circle cx="1692" cy="727" r="3.7"/><circle cx="1265" cy="176" r="3.7"/><circle cx="1310" cy="256" r="3.7"/><circle cx="1401" cy="259" r="3.7"/><circle cx="1612" cy="386" r="3.7"/><circle cx="1516" cy="378" r="3.7"/><circle cx="1812" cy="861" r="3.7"/><circle cx="1444" cy="490" r="3.7"/><circle cx="1554" cy="446" r="3.7"/><circle cx="1572" cy="460" r="3.7"/><circle cx="1585" cy="388" r="3.7"/><circle cx="1696" cy="670" r="3.7"/><circle cx="1517" cy="369" r="3.7"/><circle cx="1539" cy="374" r="3.7"/><circle cx="1355" cy="273" r="3.7"/><circle cx="1699" cy="666" r="3.7"/><circle cx="1353" cy="425" r="3.7"/><circle cx="1636" cy="525" r="3.7"/><circle cx="1614" cy="414" r="3.7"/><circle cx="1491" cy="418" r="3.7"/><circle cx="1664" cy="802" r="3.7"/><circle cx="1614" cy="472" r="3.7"/><circle cx="1611" cy="511" r="3.7"/><circle cx="1848" cy="789" r="3.7"/><circle cx="1320" cy="420" r="3.7"/><circle cx="1649" cy="433" r="3.7"/><circle cx="1433" cy="366" r="3.7"/><circle cx="1566" cy="445" r="3.7"/><circle cx="1730" cy="440" r="3.7"/><circle cx="1553" cy="264" r="3.7"/><circle cx="1527" cy="314" r="3.7"/><circle cx="1520" cy="442" r="3.7"/><circle cx="1428" cy="226" r="3.7"/><circle cx="1677" cy="625" r="3.7"/><circle cx="1584" cy="424" r="3.7"/><circle cx="1565" cy="466" r="3.7"/><circle cx="1668" cy="368" r="3.7"/><circle cx="1379" cy="349" r="3.7"/><circle cx="1562" cy="325" r="3.7"/><circle cx="1552" cy="376" r="3.7"/><circle cx="1460" cy="431" r="3.7"/><circle cx="1798" cy="829" r="3.7"/><circle cx="1599" cy="357" r="3.7"/><circle cx="1639" cy="443" r="3.7"/><circle cx="1478" cy="461" r="3.7"/><circle cx="1628" cy="543" r="3.7"/><circle cx="1527" cy="425" r="3.7"/><circle cx="1658" cy="620" r="3.7"/><circle cx="1666" cy="754" r="3.7"/><circle cx="1602" cy="507" r="3.7"/><circle cx="1559" cy="371" r="3.7"/><circle cx="1396" cy="348" r="3.7"/><circle cx="1313" cy="224" r="3.7"/><circle cx="1557" cy="402" r="3.7"/><circle cx="1737" cy="631" r="3.7"/><circle cx="1758" cy="693" r="3.7"/><circle cx="1507" cy="342" r="3.7"/><circle cx="1580" cy="416" r="3.7"/><circle cx="1475" cy="403" r="3.7"/><circle cx="1493" cy="590" r="3.7"/><circle cx="1457" cy="248" r="3.7"/><circle cx="1611" cy="551" r="3.7"/><circle cx="1547" cy="223" r="3.7"/><circle cx="1322" cy="232" r="3.7"/><circle cx="1470" cy="510" r="3.7"/><circle cx="1275" cy="246" r="3.7"/><circle cx="1661" cy="711" r="3.7"/><circle cx="1610" cy="443" r="3.7"/><circle cx="1569" cy="446" r="3.7"/><circle cx="1401" cy="302" r="3.7"/><circle cx="1331" cy="340" r="3.7"/><circle cx="1650" cy="891" r="3.7"/><circle cx="1552" cy="349" r="3.7"/><circle cx="1405" cy="251" r="3.7"/><circle cx="1340" cy="191" r="3.7"/><circle cx="1208" cy="528" r="3.7"/><circle cx="1539" cy="294" r="3.7"/><circle cx="1566" cy="431" r="3.7"/><circle cx="1619" cy="592" r="3.7"/><circle cx="1558" cy="443" r="3.7"/><circle cx="1535" cy="201" r="3.7"/><circle cx="1598" cy="441" r="3.7"/><circle cx="1658" cy="477" r="3.7"/><circle cx="1594" cy="413" r="3.7"/><circle cx="1606" cy="503" r="3.7"/><circle cx="1600" cy="499" r="3.7"/><circle cx="1566" cy="385" r="3.7"/><circle cx="1471" cy="439" r="3.7"/><circle cx="1399" cy="370" r="3.7"/><circle cx="1528" cy="438" r="3.7"/><circle cx="1489" cy="397" r="3.7"/><circle cx="1727" cy="671" r="3.7"/><circle cx="1532" cy="478" r="3.7"/><circle cx="1673" cy="396" r="3.7"/><circle cx="1818" cy="833" r="3.7"/><circle cx="1389" cy="285" r="3.7"/><circle cx="1720" cy="628" r="3.7"/><circle cx="1432" cy="309" r="3.7"/><circle cx="1503" cy="495" r="3.7"/><circle cx="1759" cy="683" r="3.7"/><circle cx="1620" cy="595" r="3.7"/><circle cx="1404" cy="292" r="3.7"/><circle cx="1713" cy="674" r="3.7"/><circle cx="1495" cy="451" r="3.7"/><circle cx="1427" cy="328" r="3.7"/><circle cx="1388" cy="424" r="3.7"/><circle cx="1612" cy="481" r="3.7"/><circle cx="1689" cy="633" r="3.7"/><circle cx="1510" cy="443" r="3.7"/><circle cx="1535" cy="483" r="3.7"/><circle cx="1245" cy="162" r="3.7"/><circle cx="1526" cy="537" r="3.7"/><circle cx="1371" cy="238" r="3.7"/><circle cx="1437" cy="339" r="3.7"/><circle cx="1650" cy="435" r="3.7"/><circle cx="1675" cy="637" r="3.7"/><circle cx="1618" cy="477" r="3.7"/><circle cx="1525" cy="257" r="3.7"/><circle cx="1415" cy="337" r="3.7"/><circle cx="1392" cy="192" r="3.7"/><circle cx="1697" cy="737" r="3.7"/><circle cx="1363" cy="235" r="3.7"/><circle cx="1616" cy="498" r="3.7"/><circle cx="1750" cy="915" r="3.7"/><circle cx="1610" cy="599" r="3.7"/><circle cx="1171" cy="218" r="3.7"/><circle cx="1149" cy="172" r="3.7"/><circle cx="1534" cy="494" r="3.7"/><circle cx="1284" cy="163" r="3.7"/><circle cx="1689" cy="529" r="3.7"/><circle cx="1413" cy="213" r="3.7"/><circle cx="1604" cy="831" r="3.7"/><circle cx="1415" cy="388" r="3.7"/><circle cx="1187" cy="186" r="3.7"/><circle cx="1466" cy="296" r="3.7"/><circle cx="1402" cy="330" r="3.7"/><circle cx="1432" cy="501" r="3.7"/><circle cx="1583" cy="418" r="3.7"/><circle cx="1421" cy="273" r="3.7"/><circle cx="1794" cy="722" r="3.7"/><circle cx="1501" cy="337" r="3.7"/><circle cx="1497" cy="325" r="3.7"/><circle cx="1556" cy="232" r="3.7"/><circle cx="1609" cy="440" r="3.7"/><circle cx="1421" cy="360" r="3.7"/><circle cx="1370" cy="450" r="3.7"/><circle cx="1417" cy="332" r="3.7"/><circle cx="1965" cy="767" r="3.7"/><circle cx="1660" cy="580" r="3.7"/><circle cx="1631" cy="410" r="3.7"/><circle cx="1231" cy="169" r="3.7"/><circle cx="1659" cy="603" r="3.7"/><circle cx="1369" cy="284" r="3.7"/><circle cx="1653" cy="423" r="3.7"/><circle cx="1324" cy="219" r="3.7"/><circle cx="1459" cy="329" r="3.7"/><circle cx="1723" cy="382" r="3.7"/><circle cx="1513" cy="348" r="3.7"/><circle cx="1717" cy="718" r="3.7"/><circle cx="1743" cy="619" r="3.7"/><circle cx="1784" cy="797" r="3.7"/><circle cx="1590" cy="411" r="3.7"/><circle cx="1592" cy="527" r="3.7"/><circle cx="1488" cy="342" r="3.7"/><circle cx="1653" cy="616" r="3.7"/><circle cx="1566" cy="449" r="3.7"/><circle cx="1423" cy="267" r="3.7"/><circle cx="1626" cy="326" r="3.7"/><circle cx="1416" cy="284" r="3.7"/><circle cx="1732" cy="795" r="3.7"/><circle cx="1517" cy="317" r="3.7"/><circle cx="1553" cy="343" r="3.7"/><circle cx="1528" cy="343" r="3.7"/><circle cx="1387" cy="257" r="3.7"/><circle cx="1587" cy="460" r="3.7"/><circle cx="1456" cy="634" r="3.7"/><circle cx="1517" cy="215" r="3.7"/><circle cx="1387" cy="295" r="3.7"/><circle cx="1741" cy="753" r="3.7"/><circle cx="1584" cy="320" r="3.7"/><circle cx="1331" cy="226" r="3.7"/><circle cx="1620" cy="419" r="3.7"/><circle cx="1646" cy="578" r="3.7"/><circle cx="1603" cy="410" r="3.7"/><circle cx="1499" cy="386" r="3.7"/><circle cx="1724" cy="824" r="3.7"/><circle cx="1675" cy="500" r="3.7"/><circle cx="1393" cy="339" r="3.7"/><circle cx="1296" cy="249" r="3.7"/><circle cx="1360" cy="321" r="3.7"/><circle cx="1577" cy="472" r="3.7"/><circle cx="1702" cy="490" r="3.7"/><circle cx="1696" cy="642" r="3.7"/><circle cx="1538" cy="291" r="3.7"/><circle cx="1575" cy="429" r="3.7"/><circle cx="1281" cy="276" r="3.7"/><circle cx="1310" cy="455" r="3.7"/><circle cx="1533" cy="427" r="3.7"/><circle cx="1262" cy="212" r="3.7"/><circle cx="1437" cy="270" r="3.7"/><circle cx="1719" cy="738" r="3.7"/><circle cx="1614" cy="269" r="3.7"/><circle cx="1484" cy="224" r="3.7"/><circle cx="1440" cy="316" r="3.7"/><circle cx="1645" cy="475" r="3.7"/><circle cx="1493" cy="305" r="3.7"/><circle cx="1362" cy="172" r="3.7"/><circle cx="1386" cy="402" r="3.7"/><circle cx="1674" cy="589" r="3.7"/><circle cx="1629" cy="560" r="3.7"/><circle cx="1407" cy="522" r="3.7"/><circle cx="1535" cy="303" r="3.7"/><circle cx="1849" cy="898" r="3.7"/><circle cx="1533" cy="406" r="3.7"/><circle cx="1277" cy="241" r="3.7"/><circle cx="1389" cy="410" r="3.7"/><circle cx="1623" cy="680" r="3.7"/><circle cx="1612" cy="571" r="3.7"/><circle cx="1592" cy="477" r="3.7"/><circle cx="1535" cy="486" r="3.7"/><circle cx="1196" cy="135" r="3.7"/><circle cx="1720" cy="658" r="3.7"/><circle cx="1711" cy="609" r="3.7"/><circle cx="1745" cy="694" r="3.7"/><circle cx="1551" cy="397" r="3.7"/><circle cx="1641" cy="480" r="3.7"/><circle cx="1510" cy="394" r="3.7"/><circle cx="1769" cy="453" r="3.7"/><circle cx="1457" cy="311" r="3.7"/><circle cx="1792" cy="859" r="3.7"/><circle cx="1580" cy="398" r="3.7"/><circle cx="1586" cy="435" r="3.7"/><circle cx="1807" cy="735" r="3.7"/><circle cx="1445" cy="420" r="3.7"/><circle cx="1894" cy="730" r="3.7"/><circle cx="1457" cy="322" r="3.7"/><circle cx="1701" cy="656" r="3.7"/><circle cx="1628" cy="489" r="3.7"/><circle cx="1422" cy="299" r="3.7"/><circle cx="1561" cy="369" r="3.7"/><circle cx="1580" cy="409" r="3.7"/><circle cx="1584" cy="623" r="3.7"/><circle cx="1596" cy="606" r="3.7"/><circle cx="1582" cy="349" r="3.7"/><circle cx="1456" cy="332" r="3.7"/><circle cx="1545" cy="270" r="3.7"/><circle cx="1667" cy="658" r="3.7"/><circle cx="1596" cy="553" r="3.7"/><circle cx="1745" cy="718" r="3.7"/><circle cx="1346" cy="265" r="3.7"/><circle cx="1607" cy="411" r="3.7"/><circle cx="1649" cy="574" r="3.7"/><circle cx="1478" cy="317" r="3.7"/><circle cx="1430" cy="348" r="3.7"/><circle cx="1329" cy="228" r="3.7"/><circle cx="1602" cy="446" r="3.7"/><circle cx="1531" cy="464" r="3.7"/><circle cx="1419" cy="398" r="3.7"/><circle cx="1435" cy="435" r="3.7"/><circle cx="1490" cy="430" r="3.7"/><circle cx="1502" cy="499" r="3.7"/><circle cx="1469" cy="376" r="3.7"/><circle cx="1497" cy="457" r="3.7"/><circle cx="1440" cy="224" r="3.7"/><circle cx="1547" cy="421" r="3.7"/><circle cx="1525" cy="290" r="3.7"/><circle cx="1522" cy="251" r="3.7"/><circle cx="1560" cy="585" r="3.7"/><circle cx="1416" cy="272" r="3.7"/><circle cx="1611" cy="433" r="3.7"/><circle cx="1615" cy="609" r="3.7"/><circle cx="1462" cy="376" r="3.7"/><circle cx="1386" cy="470" r="3.7"/><circle cx="1634" cy="447" r="3.7"/><circle cx="1371" cy="245" r="3.7"/><circle cx="1640" cy="711" r="3.7"/><circle cx="1608" cy="385" r="3.7"/><circle cx="1687" cy="653" r="3.7"/><circle cx="1603" cy="576" r="3.7"/><circle cx="1535" cy="318" r="3.7"/><circle cx="1636" cy="369" r="3.7"/><circle cx="1588" cy="441" r="3.7"/><circle cx="1601" cy="408" r="3.7"/><circle cx="1318" cy="231" r="3.7"/><circle cx="1372" cy="224" r="3.7"/><circle cx="1659" cy="688" r="3.7"/><circle cx="1241" cy="925" r="3.7"/><circle cx="1216" cy="245" r="3.7"/><circle cx="1500" cy="279" r="3.7"/><circle cx="1716" cy="591" r="3.7"/><circle cx="1409" cy="577" r="3.7"/><circle cx="1752" cy="629" r="3.7"/><circle cx="1415" cy="239" r="3.7"/><circle cx="1515" cy="362" r="3.7"/><circle cx="1558" cy="371" r="3.7"/><circle cx="1681" cy="581" r="3.7"/><circle cx="1597" cy="580" r="3.7"/><circle cx="1557" cy="388" r="3.7"/><circle cx="1715" cy="788" r="3.7"/><circle cx="1523" cy="388" r="3.7"/><circle cx="1596" cy="567" r="3.7"/><circle cx="1494" cy="464" r="3.7"/><circle cx="1452" cy="198" r="3.7"/><circle cx="1587" cy="452" r="3.7"/><circle cx="1411" cy="317" r="3.7"/><circle cx="1562" cy="415" r="3.7"/><circle cx="1724" cy="657" r="3.7"/><circle cx="1675" cy="869" r="3.7"/><circle cx="1523" cy="454" r="3.7"/><circle cx="1676" cy="401" r="3.7"/><circle cx="1433" cy="350" r="3.7"/><circle cx="1532" cy="443" r="3.7"/><circle cx="1674" cy="681" r="3.7"/><circle cx="1409" cy="366" r="3.7"/><circle cx="1521" cy="373" r="3.7"/><circle cx="1780" cy="883" r="3.7"/><circle cx="1411" cy="289" r="3.7"/><circle cx="1465" cy="287" r="3.7"/><circle cx="1613" cy="420" r="3.7"/><circle cx="1672" cy="755" r="3.7"/><circle cx="1593" cy="477" r="3.7"/><circle cx="1757" cy="929" r="3.7"/><circle cx="1768" cy="881" r="3.7"/><circle cx="1528" cy="482" r="3.7"/><circle cx="1893" cy="870" r="3.7"/><circle cx="1645" cy="562" r="3.7"/><circle cx="1640" cy="521" r="3.7"/><circle cx="1474" cy="302" r="3.7"/><circle cx="1585" cy="686" r="3.7"/><circle cx="1369" cy="459" r="3.7"/><circle cx="1600" cy="455" r="3.7"/><circle cx="1611" cy="424" r="3.7"/><circle cx="1357" cy="282" r="3.7"/><circle cx="1506" cy="416" r="3.7"/><circle cx="1369" cy="334" r="3.7"/><circle cx="1501" cy="442" r="3.7"/><circle cx="1506" cy="422" r="3.7"/><circle cx="1591" cy="530" r="3.7"/><circle cx="1307" cy="235" r="3.7"/><circle cx="1545" cy="608" r="3.7"/><circle cx="1677" cy="742" r="3.7"/><circle cx="1664" cy="702" r="3.7"/><circle cx="1586" cy="413" r="3.7"/><circle cx="1575" cy="544" r="3.7"/><circle cx="1477" cy="374" r="3.7"/><circle cx="1226" cy="207" r="3.7"/><circle cx="1483" cy="274" r="3.7"/><circle cx="1671" cy="609" r="3.7"/><circle cx="1640" cy="421" r="3.7"/><circle cx="1790" cy="766" r="3.7"/><circle cx="1510" cy="553" r="3.7"/><circle cx="1570" cy="399" r="3.7"/><circle cx="1322" cy="348" r="3.7"/><circle cx="1576" cy="338" r="3.7"/><circle cx="1526" cy="384" r="3.7"/><circle cx="1213" cy="140" r="3.7"/><circle cx="1465" cy="283" r="3.7"/><circle cx="1218" cy="156" r="3.7"/><circle cx="1798" cy="661" r="3.7"/><circle cx="1393" cy="260" r="3.7"/><circle cx="1599" cy="608" r="3.7"/><circle cx="1633" cy="447" r="3.7"/><circle cx="1587" cy="395" r="3.7"/><circle cx="1181" cy="176" r="3.7"/><circle cx="1783" cy="928" r="3.7"/><circle cx="1417" cy="451" r="3.7"/><circle cx="1502" cy="336" r="3.7"/><circle cx="1257" cy="206" r="3.7"/><circle cx="1441" cy="271" r="3.7"/><circle cx="1573" cy="462" r="3.7"/><circle cx="1294" cy="213" r="3.7"/><circle cx="1482" cy="302" r="3.7"/><circle cx="1731" cy="586" r="3.7"/><circle cx="1254" cy="207" r="3.7"/><circle cx="1487" cy="357" r="3.7"/><circle cx="1721" cy="684" r="3.7"/><circle cx="1614" cy="365" r="3.7"/><circle cx="1254" cy="156" r="3.7"/><circle cx="1674" cy="612" r="3.7"/><circle cx="1369" cy="274" r="3.7"/><circle cx="1787" cy="915" r="3.7"/><circle cx="1756" cy="746" r="3.7"/><circle cx="1456" cy="346" r="3.7"/><circle cx="1750" cy="723" r="3.7"/><circle cx="1631" cy="477" r="3.7"/><circle cx="1505" cy="376" r="3.7"/><circle cx="1391" cy="236" r="3.7"/><circle cx="1601" cy="467" r="3.7"/><circle cx="1382" cy="222" r="3.7"/><circle cx="1646" cy="423" r="3.7"/><circle cx="1642" cy="433" r="3.7"/><circle cx="1692" cy="651" r="3.7"/><circle cx="1636" cy="468" r="3.7"/><circle cx="1585" cy="647" r="3.7"/><circle cx="1510" cy="271" r="3.7"/><circle cx="1455" cy="312" r="3.7"/><circle cx="1727" cy="673" r="3.7"/><circle cx="1777" cy="918" r="3.7"/><circle cx="1522" cy="329" r="3.7"/><circle cx="1631" cy="427" r="3.7"/><circle cx="1554" cy="460" r="3.7"/><circle cx="1506" cy="217" r="3.7"/><circle cx="1689" cy="676" r="3.7"/><circle cx="1599" cy="545" r="3.7"/><circle cx="1353" cy="246" r="3.7"/><circle cx="1657" cy="499" r="3.7"/><circle cx="1596" cy="413" r="3.7"/><circle cx="1537" cy="359" r="3.7"/><circle cx="1234" cy="203" r="3.7"/><circle cx="1526" cy="290" r="3.7"/><circle cx="1266" cy="400" r="3.7"/><circle cx="1314" cy="239" r="3.7"/><circle cx="1617" cy="446" r="3.7"/><circle cx="1853" cy="978" r="3.7"/><circle cx="1381" cy="471" r="3.7"/><circle cx="1677" cy="565" r="3.7"/><circle cx="1517" cy="458" r="3.7"/><circle cx="1541" cy="403" r="3.7"/><circle cx="1758" cy="898" r="3.7"/><circle cx="1516" cy="404" r="3.7"/><circle cx="1522" cy="398" r="3.7"/><circle cx="1649" cy="486" r="3.7"/><circle cx="1405" cy="407" r="3.7"/><circle cx="1612" cy="481" r="3.7"/><circle cx="1491" cy="223" r="3.7"/><circle cx="1561" cy="642" r="3.7"/><circle cx="1844" cy="689" r="3.7"/><circle cx="1698" cy="492" r="3.7"/><circle cx="1297" cy="157" r="3.7"/><circle cx="1579" cy="487" r="3.7"/><circle cx="1591" cy="419" r="3.7"/><circle cx="1535" cy="447" r="3.7"/><circle cx="1757" cy="441" r="3.7"/><circle cx="1476" cy="298" r="3.7"/><circle cx="1539" cy="360" r="3.7"/><circle cx="1468" cy="408" r="3.7"/><circle cx="1392" cy="280" r="3.7"/><circle cx="1622" cy="515" r="3.7"/><circle cx="1594" cy="419" r="3.7"/><circle cx="1687" cy="552" r="3.7"/><circle cx="1409" cy="315" r="3.7"/><circle cx="1280" cy="183" r="3.7"/><circle cx="1519" cy="550" r="3.7"/><circle cx="1548" cy="428" r="3.7"/><circle cx="1253" cy="114" r="3.7"/><circle cx="1691" cy="648" r="3.7"/><circle cx="1585" cy="584" r="3.7"/><circle cx="1666" cy="482" r="3.7"/><circle cx="1549" cy="454" r="3.7"/><circle cx="1581" cy="532" r="3.7"/><circle cx="1764" cy="529" r="3.7"/><circle cx="1583" cy="413" r="3.7"/><circle cx="1803" cy="871" r="3.7"/><circle cx="1322" cy="222" r="3.7"/><circle cx="1703" cy="690" r="3.7"/><circle cx="1251" cy="241" r="3.7"/><circle cx="1367" cy="211" r="3.7"/><circle cx="1619" cy="474" r="3.7"/><circle cx="1715" cy="671" r="3.7"/><circle cx="1502" cy="348" r="3.7"/><circle cx="1556" cy="378" r="3.7"/><circle cx="1563" cy="522" r="3.7"/><circle cx="1668" cy="670" r="3.7"/><circle cx="1797" cy="918" r="3.7"/><circle cx="1235" cy="164" r="3.7"/><circle cx="1192" cy="169" r="3.7"/><circle cx="1405" cy="399" r="3.7"/><circle cx="1607" cy="410" r="3.7"/><circle cx="1401" cy="270" r="3.7"/><circle cx="1771" cy="764" r="3.7"/><circle cx="1525" cy="469" r="3.7"/><circle cx="1305" cy="286" r="3.7"/><circle cx="1404" cy="263" r="3.7"/><circle cx="1819" cy="708" r="3.7"/><circle cx="1672" cy="639" r="3.7"/><circle cx="1663" cy="318" r="3.7"/><circle cx="1489" cy="321" r="3.7"/><circle cx="1484" cy="358" r="3.7"/><circle cx="1355" cy="281" r="3.7"/><circle cx="1518" cy="313" r="3.7"/><circle cx="1692" cy="427" r="3.7"/><circle cx="1301" cy="215" r="3.7"/><circle cx="1542" cy="535" r="3.7"/><circle cx="1626" cy="604" r="3.7"/><circle cx="1740" cy="666" r="3.7"/><circle cx="1594" cy="285" r="3.7"/><circle cx="1523" cy="414" r="3.7"/><circle cx="1611" cy="547" r="3.7"/><circle cx="1673" cy="665" r="3.7"/><circle cx="1756" cy="628" r="3.7"/><circle cx="1832" cy="888" r="3.7"/><circle cx="1285" cy="221" r="3.7"/><circle cx="1597" cy="425" r="3.7"/><circle cx="1761" cy="613" r="3.7"/><circle cx="1523" cy="295" r="3.7"/><circle cx="1473" cy="298" r="3.7"/><circle cx="1641" cy="413" r="3.7"/><circle cx="1513" cy="136" r="3.7"/><circle cx="1526" cy="348" r="3.7"/><circle cx="1356" cy="246" r="3.7"/><circle cx="1662" cy="531" r="3.7"/><circle cx="1500" cy="485" r="3.7"/><circle cx="1748" cy="447" r="3.7"/><circle cx="1576" cy="521" r="3.7"/><circle cx="1548" cy="424" r="3.7"/><circle cx="1614" cy="404" r="3.7"/><circle cx="1259" cy="266" r="3.7"/><circle cx="1516" cy="264" r="3.7"/><circle cx="1295" cy="143" r="3.7"/><circle cx="1484" cy="359" r="3.7"/><circle cx="1588" cy="448" r="3.7"/><circle cx="1539" cy="356" r="3.7"/><circle cx="1439" cy="309" r="3.7"/><circle cx="1675" cy="642" r="3.7"/><circle cx="1451" cy="277" r="3.7"/><circle cx="1536" cy="418" r="3.7"/><circle cx="1846" cy="666" r="3.7"/><circle cx="1495" cy="403" r="3.7"/><circle cx="1594" cy="445" r="3.7"/><circle cx="1551" cy="445" r="3.7"/><circle cx="1522" cy="318" r="3.7"/><circle cx="1716" cy="667" r="3.7"/><circle cx="1576" cy="532" r="3.7"/><circle cx="1576" cy="456" r="3.7"/><circle cx="1382" cy="239" r="3.7"/><circle cx="1317" cy="215" r="3.7"/><circle cx="1696" cy="352" r="3.7"/><circle cx="1548" cy="395" r="3.7"/><circle cx="1619" cy="576" r="3.7"/><circle cx="1793" cy="901" r="3.7"/><circle cx="1761" cy="766" r="3.7"/><circle cx="1406" cy="244" r="3.7"/><circle cx="1402" cy="319" r="3.7"/><circle cx="1335" cy="326" r="3.7"/><circle cx="1496" cy="346" r="3.7"/><circle cx="1603" cy="441" r="3.7"/><circle cx="1754" cy="840" r="3.7"/><circle cx="1716" cy="682" r="3.7"/><circle cx="1262" cy="268" r="3.7"/><circle cx="1517" cy="335" r="3.7"/><circle cx="1371" cy="255" r="3.7"/><circle cx="1524" cy="327" r="3.7"/><circle cx="1336" cy="210" r="3.7"/><circle cx="1446" cy="367" r="3.7"/><circle cx="1653" cy="499" r="3.7"/><circle cx="1381" cy="311" r="3.7"/><circle cx="1537" cy="389" r="3.7"/><circle cx="1482" cy="464" r="3.7"/><circle cx="1728" cy="872" r="3.7"/><circle cx="1657" cy="647" r="3.7"/><circle cx="1605" cy="432" r="3.7"/><circle cx="1445" cy="293" r="3.7"/><circle cx="1543" cy="347" r="3.7"/><circle cx="1632" cy="308" r="3.7"/><circle cx="1476" cy="427" r="3.7"/><circle cx="1595" cy="498" r="3.7"/><circle cx="1569" cy="551" r="3.7"/><circle cx="1700" cy="412" r="3.7"/><circle cx="1625" cy="489" r="3.7"/><circle cx="1278" cy="212" r="3.7"/><circle cx="1691" cy="608" r="3.7"/><circle cx="1296" cy="157" r="3.7"/><circle cx="1530" cy="424" r="3.7"/><circle cx="1535" cy="396" r="3.7"/><circle cx="1728" cy="673" r="3.7"/><circle cx="1535" cy="468" r="3.7"/><circle cx="1703" cy="394" r="3.7"/><circle cx="1617" cy="591" r="3.7"/><circle cx="1700" cy="729" r="3.7"/><circle cx="1196" cy="414" r="3.7"/><circle cx="1555" cy="420" r="3.7"/><circle cx="1457" cy="340" r="3.7"/><circle cx="1590" cy="526" r="3.7"/><circle cx="1436" cy="484" r="3.7"/><circle cx="1704" cy="680" r="3.7"/><circle cx="1556" cy="238" r="3.7"/><circle cx="1294" cy="221" r="3.7"/><circle cx="1504" cy="524" r="3.7"/><circle cx="1749" cy="585" r="3.7"/><circle cx="1548" cy="582" r="3.7"/><circle cx="1505" cy="274" r="3.7"/><circle cx="1762" cy="815" r="3.7"/><circle cx="1582" cy="394" r="3.7"/><circle cx="1274" cy="183" r="3.7"/><circle cx="1527" cy="383" r="3.7"/><circle cx="1598" cy="419" r="3.7"/><circle cx="1725" cy="698" r="3.7"/><circle cx="1557" cy="430" r="3.7"/><circle cx="1197" cy="199" r="3.7"/><circle cx="1478" cy="389" r="3.7"/><circle cx="1333" cy="311" r="3.7"/><circle cx="1669" cy="602" r="3.7"/><circle cx="1637" cy="401" r="3.7"/><circle cx="1636" cy="429" r="3.7"/><circle cx="1406" cy="258" r="3.7"/><circle cx="1496" cy="406" r="3.7"/><circle cx="1550" cy="791" r="3.7"/><circle cx="1244" cy="182" r="3.7"/><circle cx="1298" cy="194" r="3.7"/><circle cx="1488" cy="331" r="3.7"/><circle cx="1631" cy="415" r="3.7"/><circle cx="1279" cy="254" r="3.7"/><circle cx="1263" cy="150" r="3.7"/><circle cx="1338" cy="276" r="3.7"/><circle cx="1721" cy="796" r="3.7"/><circle cx="1619" cy="399" r="3.7"/><circle cx="1426" cy="288" r="3.7"/><circle cx="1638" cy="555" r="3.7"/><circle cx="1557" cy="387" r="3.7"/><circle cx="1826" cy="940" r="3.7"/><circle cx="1627" cy="522" r="3.7"/><circle cx="1209" cy="557" r="3.7"/><circle cx="1276" cy="259" r="3.7"/><circle cx="1642" cy="760" r="3.7"/><circle cx="1559" cy="428" r="3.7"/><circle cx="1632" cy="439" r="3.7"/><circle cx="1605" cy="510" r="3.7"/><circle cx="1884" cy="699" r="3.7"/><circle cx="1803" cy="867" r="3.7"/><circle cx="1602" cy="415" r="3.7"/><circle cx="1597" cy="477" r="3.7"/><circle cx="1615" cy="228" r="3.7"/><circle cx="1512" cy="400" r="3.7"/><circle cx="1647" cy="447" r="3.7"/><circle cx="1450" cy="333" r="3.7"/><circle cx="1729" cy="709" r="3.7"/><circle cx="1527" cy="415" r="3.7"/><circle cx="1828" cy="830" r="3.7"/><circle cx="1737" cy="323" r="3.7"/><circle cx="1301" cy="257" r="3.7"/><circle cx="1392" cy="534" r="3.7"/><circle cx="1600" cy="574" r="3.7"/><circle cx="1495" cy="618" r="3.7"/><circle cx="1597" cy="326" r="3.7"/><circle cx="1582" cy="416" r="3.7"/><circle cx="1567" cy="522" r="3.7"/><circle cx="1250" cy="194" r="3.7"/><circle cx="1239" cy="181" r="3.7"/><circle cx="1572" cy="478" r="3.7"/><circle cx="1571" cy="611" r="3.7"/><circle cx="1731" cy="648" r="3.7"/><circle cx="1502" cy="388" r="3.7"/><circle cx="1410" cy="243" r="3.7"/><circle cx="1588" cy="377" r="3.7"/><circle cx="1855" cy="829" r="3.7"/><circle cx="1806" cy="953" r="3.7"/><circle cx="1414" cy="354" r="3.7"/><circle cx="1506" cy="357" r="3.7"/><circle cx="1612" cy="430" r="3.7"/><circle cx="1522" cy="453" r="3.7"/><circle cx="1481" cy="510" r="3.7"/><circle cx="1349" cy="209" r="3.7"/><circle cx="1567" cy="441" r="3.7"/><circle cx="1272" cy="222" r="3.7"/><circle cx="1511" cy="284" r="3.7"/><circle cx="1409" cy="276" r="3.7"/><circle cx="1404" cy="275" r="3.7"/><circle cx="1603" cy="386" r="3.7"/><circle cx="1661" cy="618" r="3.7"/><circle cx="1427" cy="316" r="3.7"/><circle cx="1640" cy="586" r="3.7"/><circle cx="1631" cy="479" r="3.7"/><circle cx="1652" cy="479" r="3.7"/><circle cx="1745" cy="705" r="3.7"/><circle cx="1596" cy="448" r="3.7"/><circle cx="1558" cy="470" r="3.7"/><circle cx="1297" cy="208" r="3.7"/><circle cx="1730" cy="860" r="3.7"/><circle cx="1735" cy="382" r="3.7"/><circle cx="1420" cy="321" r="3.7"/><circle cx="1378" cy="277" r="3.7"/><circle cx="1406" cy="224" r="3.7"/><circle cx="1617" cy="388" r="3.7"/><circle cx="1528" cy="418" r="3.7"/><circle cx="1591" cy="522" r="3.7"/><circle cx="1658" cy="544" r="3.7"/><circle cx="1692" cy="506" r="3.7"/><circle cx="1582" cy="501" r="3.7"/><circle cx="1862" cy="647" r="3.7"/><circle cx="1611" cy="406" r="3.7"/><circle cx="1851" cy="771" r="3.7"/><circle cx="1541" cy="405" r="3.7"/><circle cx="1280" cy="299" r="3.7"/><circle cx="1583" cy="411" r="3.7"/><circle cx="1506" cy="476" r="3.7"/><circle cx="1499" cy="549" r="3.7"/><circle cx="1621" cy="514" r="3.7"/><circle cx="1495" cy="300" r="3.7"/><circle cx="1637" cy="507" r="3.7"/><circle cx="1649" cy="803" r="3.7"/><circle cx="1336" cy="277" r="3.7"/><circle cx="1703" cy="698" r="3.7"/><circle cx="1402" cy="297" r="3.7"/><circle cx="1558" cy="368" r="3.7"/><circle cx="1699" cy="621" r="3.7"/><circle cx="1602" cy="434" r="3.7"/><circle cx="1599" cy="375" r="3.7"/><circle cx="1797" cy="653" r="3.7"/><circle cx="1675" cy="612" r="3.7"/><circle cx="1437" cy="257" r="3.7"/><circle cx="1566" cy="625" r="3.7"/><circle cx="1393" cy="372" r="3.7"/><circle cx="1673" cy="631" r="3.7"/><circle cx="1383" cy="301" r="3.7"/><circle cx="1635" cy="384" r="3.7"/><circle cx="1380" cy="253" r="3.7"/><circle cx="1442" cy="301" r="3.7"/><circle cx="1836" cy="463" r="3.7"/><circle cx="1332" cy="228" r="3.7"/><circle cx="1664" cy="520" r="3.7"/><circle cx="1604" cy="526" r="3.7"/><circle cx="1380" cy="266" r="3.7"/><circle cx="1158" cy="220" r="3.7"/><circle cx="1479" cy="370" r="3.7"/><circle cx="1877" cy="868" r="3.7"/><circle cx="1725" cy="829" r="3.7"/><circle cx="1386" cy="263" r="3.7"/><circle cx="1703" cy="609" r="3.7"/><circle cx="1626" cy="570" r="3.7"/><circle cx="1560" cy="424" r="3.7"/><circle cx="1405" cy="360" r="3.7"/><circle cx="1614" cy="464" r="3.7"/><circle cx="1422" cy="305" r="3.7"/><circle cx="1203" cy="211" r="3.7"/><circle cx="1555" cy="548" r="3.7"/><circle cx="1497" cy="601" r="3.7"/><circle cx="1419" cy="232" r="3.7"/><circle cx="1367" cy="307" r="3.7"/><circle cx="1413" cy="310" r="3.7"/><circle cx="1484" cy="355" r="3.7"/><circle cx="1650" cy="508" r="3.7"/><circle cx="1587" cy="382" r="3.7"/><circle cx="1360" cy="283" r="3.7"/><circle cx="1736" cy="772" r="3.7"/><circle cx="1243" cy="160" r="3.7"/><circle cx="1543" cy="498" r="3.7"/><circle cx="1560" cy="445" r="3.7"/><circle cx="1335" cy="323" r="3.7"/><circle cx="1241" cy="177" r="3.7"/><circle cx="1602" cy="385" r="3.7"/><circle cx="1570" cy="437" r="3.7"/><circle cx="1570" cy="417" r="3.7"/><circle cx="1602" cy="477" r="3.7"/><circle cx="1377" cy="247" r="3.7"/><circle cx="1650" cy="865" r="3.7"/><circle cx="1505" cy="227" r="3.7"/><circle cx="1503" cy="528" r="3.7"/><circle cx="1223" cy="291" r="3.7"/><circle cx="1556" cy="367" r="3.7"/><circle cx="1276" cy="217" r="3.7"/><circle cx="1579" cy="389" r="3.7"/><circle cx="1563" cy="741" r="3.7"/><circle cx="1354" cy="314" r="3.7"/><circle cx="1538" cy="366" r="3.7"/><circle cx="1373" cy="442" r="3.7"/><circle cx="1694" cy="936" r="3.7"/><circle cx="1431" cy="452" r="3.7"/><circle cx="1431" cy="319" r="3.7"/><circle cx="1619" cy="552" r="3.7"/><circle cx="1719" cy="502" r="3.7"/><circle cx="1596" cy="467" r="3.7"/><circle cx="1349" cy="406" r="3.7"/><circle cx="1602" cy="333" r="3.7"/><circle cx="1553" cy="415" r="3.7"/><circle cx="1873" cy="670" r="3.7"/><circle cx="1623" cy="326" r="3.7"/><circle cx="1765" cy="764" r="3.7"/><circle cx="1260" cy="187" r="3.7"/><circle cx="1739" cy="774" r="3.7"/><circle cx="1754" cy="682" r="3.7"/><circle cx="1321" cy="210" r="3.7"/><circle cx="1565" cy="482" r="3.7"/><circle cx="1550" cy="380" r="3.7"/><circle cx="1775" cy="733" r="3.7"/><circle cx="1582" cy="483" r="3.7"/><circle cx="1323" cy="154" r="3.7"/><circle cx="1518" cy="333" r="3.7"/><circle cx="1615" cy="670" r="3.7"/><circle cx="1498" cy="470" r="3.7"/><circle cx="1561" cy="404" r="3.7"/><circle cx="1648" cy="868" r="3.7"/><circle cx="1384" cy="268" r="3.7"/><circle cx="1718" cy="672" r="3.7"/><circle cx="1651" cy="569" r="3.7"/><circle cx="1220" cy="185" r="3.7"/><circle cx="1249" cy="155" r="3.7"/><circle cx="1501" cy="474" r="3.7"/><circle cx="1530" cy="485" r="3.7"/><circle cx="1585" cy="436" r="3.7"/><circle cx="1445" cy="513" r="3.7"/><circle cx="1504" cy="333" r="3.7"/><circle cx="1418" cy="300" r="3.7"/><circle cx="1540" cy="301" r="3.7"/><circle cx="1218" cy="135" r="3.7"/><circle cx="1437" cy="388" r="3.7"/><circle cx="1667" cy="686" r="3.7"/><circle cx="1410" cy="266" r="3.7"/><circle cx="1645" cy="525" r="3.7"/><circle cx="1676" cy="563" r="3.7"/><circle cx="1435" cy="313" r="3.7"/><circle cx="1767" cy="634" r="3.7"/><circle cx="1488" cy="409" r="3.7"/><circle cx="1374" cy="224" r="3.7"/><circle cx="1554" cy="493" r="3.7"/><circle cx="1326" cy="172" r="3.7"/><circle cx="1187" cy="361" r="3.7"/><circle cx="1562" cy="417" r="3.7"/><circle cx="1226" cy="187" r="3.7"/><circle cx="1383" cy="256" r="3.7"/><circle cx="1452" cy="500" r="3.7"/><circle cx="1452" cy="281" r="3.7"/><circle cx="1579" cy="456" r="3.7"/><circle cx="1575" cy="471" r="3.7"/><circle cx="1341" cy="311" r="3.7"/><circle cx="1560" cy="477" r="3.7"/><circle cx="1591" cy="454" r="3.7"/><circle cx="1295" cy="475" r="3.7"/><circle cx="1538" cy="421" r="3.7"/><circle cx="1220" cy="126" r="3.7"/><circle cx="1562" cy="516" r="3.7"/><circle cx="1349" cy="199" r="3.7"/><circle cx="1677" cy="750" r="3.7"/><circle cx="1664" cy="615" r="3.7"/><circle cx="1632" cy="425" r="3.7"/><circle cx="1566" cy="380" r="3.7"/><circle cx="1630" cy="455" r="3.7"/><circle cx="1592" cy="375" r="3.7"/><circle cx="1394" cy="280" r="3.7"/><circle cx="1585" cy="412" r="3.7"/><circle cx="1530" cy="412" r="3.7"/><circle cx="1508" cy="397" r="3.7"/><circle cx="1515" cy="629" r="3.7"/><circle cx="1747" cy="916" r="3.7"/><circle cx="1555" cy="366" r="3.7"/><circle cx="1429" cy="310" r="3.7"/><circle cx="1776" cy="845" r="3.7"/><circle cx="1962" cy="980" r="3.7"/><circle cx="1425" cy="366" r="3.7"/><circle cx="1474" cy="354" r="3.7"/><circle cx="1769" cy="692" r="3.7"/><circle cx="1373" cy="209" r="3.7"/><circle cx="1244" cy="223" r="3.7"/><circle cx="1582" cy="474" r="3.7"/><circle cx="1255" cy="262" r="3.7"/><circle cx="1251" cy="236" r="3.7"/><circle cx="1833" cy="795" r="3.7"/><circle cx="1650" cy="347" r="3.7"/><circle cx="1783" cy="654" r="3.7"/><circle cx="1608" cy="437" r="3.7"/><circle cx="1490" cy="339" r="3.7"/><circle cx="1556" cy="371" r="3.7"/><circle cx="1502" cy="364" r="3.7"/><circle cx="1523" cy="606" r="3.7"/><circle cx="1594" cy="415" r="3.7"/><circle cx="1747" cy="473" r="3.7"/><circle cx="1307" cy="228" r="3.7"/><circle cx="1417" cy="275" r="3.7"/><circle cx="1400" cy="293" r="3.7"/><circle cx="1397" cy="253" r="3.7"/><circle cx="1660" cy="409" r="3.7"/><circle cx="1946" cy="858" r="3.7"/><circle cx="1610" cy="391" r="3.7"/><circle cx="1717" cy="645" r="3.7"/><circle cx="1697" cy="942" r="3.7"/><circle cx="1439" cy="376" r="3.7"/><circle cx="1212" cy="199" r="3.7"/><circle cx="1474" cy="430" r="3.7"/><circle cx="1531" cy="373" r="3.7"/><circle cx="1682" cy="663" r="3.7"/><circle cx="1524" cy="456" r="3.7"/><circle cx="1601" cy="448" r="3.7"/><circle cx="1478" cy="409" r="3.7"/><circle cx="1339" cy="272" r="3.7"/><circle cx="1528" cy="673" r="3.7"/><circle cx="1608" cy="610" r="3.7"/><circle cx="1536" cy="418" r="3.7"/><circle cx="1557" cy="303" r="3.7"/><circle cx="1556" cy="338" r="3.7"/><circle cx="1372" cy="245" r="3.7"/><circle cx="1280" cy="215" r="3.7"/><circle cx="1609" cy="485" r="3.7"/><circle cx="1416" cy="435" r="3.7"/><circle cx="1555" cy="484" r="3.7"/><circle cx="1686" cy="430" r="3.7"/><circle cx="1420" cy="290" r="3.7"/><circle cx="1421" cy="193" r="3.7"/><circle cx="1589" cy="427" r="3.7"/><circle cx="1341" cy="265" r="3.7"/><circle cx="1421" cy="227" r="3.7"/><circle cx="1341" cy="248" r="3.7"/><circle cx="1710" cy="625" r="3.7"/><circle cx="1159" cy="150" r="3.7"/><circle cx="1671" cy="639" r="3.7"/><circle cx="1792" cy="429" r="3.7"/><circle cx="1426" cy="264" r="3.7"/><circle cx="1586" cy="509" r="3.7"/><circle cx="1869" cy="962" r="3.7"/><circle cx="1574" cy="413" r="3.7"/><circle cx="1696" cy="557" r="3.7"/><circle cx="1695" cy="489" r="3.7"/><circle cx="1308" cy="446" r="3.7"/><circle cx="1440" cy="352" r="3.7"/><circle cx="1633" cy="563" r="3.7"/><circle cx="1531" cy="602" r="3.7"/><circle cx="1638" cy="470" r="3.7"/><circle cx="1488" cy="378" r="3.7"/><circle cx="1335" cy="245" r="3.7"/><circle cx="1570" cy="449" r="3.7"/><circle cx="1545" cy="436" r="3.7"/><circle cx="1569" cy="383" r="3.7"/><circle cx="1333" cy="395" r="3.7"/><circle cx="1686" cy="642" r="3.7"/><circle cx="1409" cy="313" r="3.7"/><circle cx="1623" cy="504" r="3.7"/><circle cx="1706" cy="493" r="3.7"/><circle cx="1629" cy="513" r="3.7"/><circle cx="1450" cy="343" r="3.7"/><circle cx="1622" cy="655" r="3.7"/><circle cx="1410" cy="542" r="3.7"/><circle cx="1643" cy="666" r="3.7"/><circle cx="1406" cy="270" r="3.7"/><circle cx="1563" cy="449" r="3.7"/><circle cx="1497" cy="533" r="3.7"/><circle cx="1640" cy="526" r="3.7"/><circle cx="1830" cy="750" r="3.7"/><circle cx="1283" cy="199" r="3.7"/><circle cx="1561" cy="422" r="3.7"/><circle cx="1571" cy="346" r="3.7"/><circle cx="1283" cy="276" r="3.7"/><circle cx="1495" cy="329" r="3.7"/><circle cx="1269" cy="237" r="3.7"/><circle cx="1695" cy="626" r="3.7"/><circle cx="1372" cy="405" r="3.7"/><circle cx="1535" cy="294" r="3.7"/><circle cx="1501" cy="301" r="3.7"/><circle cx="1619" cy="469" r="3.7"/><circle cx="1406" cy="308" r="3.7"/><circle cx="1428" cy="295" r="3.7"/><circle cx="1608" cy="514" r="3.7"/><circle cx="1640" cy="547" r="3.7"/><circle cx="1804" cy="926" r="3.7"/><circle cx="1592" cy="447" r="3.7"/><circle cx="1449" cy="209" r="3.7"/><circle cx="1525" cy="525" r="3.7"/><circle cx="1497" cy="493" r="3.7"/><circle cx="1433" cy="299" r="3.7"/><circle cx="1591" cy="430" r="3.7"/><circle cx="1421" cy="320" r="3.7"/><circle cx="1296" cy="178" r="3.7"/><circle cx="1538" cy="477" r="3.7"/><circle cx="1766" cy="332" r="3.7"/><circle cx="1681" cy="495" r="3.7"/><circle cx="1826" cy="690" r="3.7"/><circle cx="1266" cy="255" r="3.7"/><circle cx="1517" cy="382" r="3.7"/><circle cx="1582" cy="361" r="3.7"/><circle cx="1546" cy="443" r="3.7"/><circle cx="1760" cy="696" r="3.7"/><circle cx="1670" cy="837" r="3.7"/><circle cx="1226" cy="509" r="3.7"/><circle cx="1355" cy="267" r="3.7"/><circle cx="1614" cy="467" r="3.7"/><circle cx="1631" cy="433" r="3.7"/><circle cx="1720" cy="395" r="3.7"/><circle cx="1775" cy="945" r="3.7"/><circle cx="1775" cy="785" r="3.7"/><circle cx="1566" cy="581" r="3.7"/><circle cx="1570" cy="446" r="3.7"/><circle cx="1377" cy="240" r="3.7"/><circle cx="1649" cy="585" r="3.7"/><circle cx="1594" cy="454" r="3.7"/><circle cx="1676" cy="603" r="3.7"/><circle cx="1697" cy="318" r="3.7"/><circle cx="1384" cy="274" r="3.7"/><circle cx="1425" cy="319" r="3.7"/><circle cx="1564" cy="321" r="3.7"/><circle cx="1383" cy="216" r="3.7"/><circle cx="1756" cy="931" r="3.7"/><circle cx="1652" cy="563" r="3.7"/><circle cx="1463" cy="321" r="3.7"/><circle cx="1657" cy="457" r="3.7"/><circle cx="1589" cy="520" r="3.7"/><circle cx="1817" cy="861" r="3.7"/><circle cx="1466" cy="344" r="3.7"/><circle cx="1360" cy="313" r="3.7"/><circle cx="1587" cy="635" r="3.7"/><circle cx="1671" cy="743" r="3.7"/><circle cx="1436" cy="339" r="3.7"/><circle cx="1471" cy="278" r="3.7"/><circle cx="1452" cy="608" r="3.7"/><circle cx="1569" cy="459" r="3.7"/><circle cx="1493" cy="151" r="3.7"/><circle cx="1533" cy="441" r="3.7"/><circle cx="1596" cy="467" r="3.7"/><circle cx="1617" cy="647" r="3.7"/><circle cx="1756" cy="698" r="3.7"/><circle cx="1738" cy="656" r="3.7"/><circle cx="1628" cy="577" r="3.7"/><circle cx="1300" cy="218" r="3.7"/><circle cx="1444" cy="326" r="3.7"/><circle cx="1425" cy="377" r="3.7"/><circle cx="1928" cy="840" r="3.7"/><circle cx="1572" cy="403" r="3.7"/><circle cx="1329" cy="302" r="3.7"/><circle cx="1307" cy="229" r="3.7"/><circle cx="1261" cy="214" r="3.7"/><circle cx="1559" cy="326" r="3.7"/><circle cx="1640" cy="491" r="3.7"/><circle cx="1491" cy="439" r="3.7"/><circle cx="1345" cy="294" r="3.7"/><circle cx="1562" cy="497" r="3.7"/><circle cx="1406" cy="298" r="3.7"/><circle cx="1577" cy="336" r="3.7"/><circle cx="1606" cy="510" r="3.7"/><circle cx="1609" cy="538" r="3.7"/><circle cx="1868" cy="890" r="3.7"/><circle cx="1423" cy="334" r="3.7"/><circle cx="1571" cy="465" r="3.7"/><circle cx="1543" cy="509" r="3.7"/><circle cx="1601" cy="434" r="3.7"/><circle cx="1495" cy="419" r="3.7"/><circle cx="1741" cy="816" r="3.7"/><circle cx="1461" cy="245" r="3.7"/><circle cx="1599" cy="462" r="3.7"/><circle cx="1636" cy="437" r="3.7"/><circle cx="1499" cy="423" r="3.7"/><circle cx="1669" cy="649" r="3.7"/><circle cx="1337" cy="277" r="3.7"/><circle cx="1643" cy="468" r="3.7"/><circle cx="1421" cy="343" r="3.7"/><circle cx="1529" cy="482" r="3.7"/><circle cx="1773" cy="670" r="3.7"/><circle cx="1693" cy="648" r="3.7"/><circle cx="1554" cy="439" r="3.7"/><circle cx="1736" cy="656" r="3.7"/><circle cx="1214" cy="488" r="3.7"/><circle cx="1402" cy="127" r="3.7"/><circle cx="1508" cy="347" r="3.7"/><circle cx="1586" cy="377" r="3.7"/><circle cx="1546" cy="573" r="3.7"/><circle cx="1376" cy="220" r="3.7"/><circle cx="1603" cy="688" r="3.7"/><circle cx="1517" cy="338" r="3.7"/><circle cx="1354" cy="327" r="3.7"/><circle cx="1785" cy="826" r="3.7"/><circle cx="1419" cy="424" r="3.7"/><circle cx="1540" cy="279" r="3.7"/><circle cx="1423" cy="258" r="3.7"/><circle cx="1435" cy="345" r="3.7"/><circle cx="1603" cy="647" r="3.7"/><circle cx="1759" cy="697" r="3.7"/><circle cx="1262" cy="225" r="3.7"/><circle cx="1381" cy="315" r="3.7"/><circle cx="1653" cy="337" r="3.7"/><circle cx="1531" cy="475" r="3.7"/><circle cx="1515" cy="397" r="3.7"/><circle cx="1666" cy="558" r="3.7"/><circle cx="1485" cy="388" r="3.7"/><circle cx="1490" cy="303" r="3.7"/><circle cx="1496" cy="498" r="3.7"/><circle cx="1924" cy="795" r="3.7"/><circle cx="1552" cy="425" r="3.7"/><circle cx="1595" cy="464" r="3.7"/><circle cx="1620" cy="635" r="3.7"/><circle cx="1432" cy="617" r="3.7"/><circle cx="1264" cy="77" r="3.7"/><circle cx="1249" cy="226" r="3.7"/><circle cx="1480" cy="288" r="3.7"/><circle cx="1644" cy="576" r="3.7"/><circle cx="1249" cy="163" r="3.7"/><circle cx="1509" cy="430" r="3.7"/><circle cx="1542" cy="378" r="3.7"/><circle cx="1210" cy="177" r="3.7"/><circle cx="1620" cy="530" r="3.7"/><circle cx="1459" cy="313" r="3.7"/><circle cx="1403" cy="231" r="3.7"/><circle cx="1472" cy="304" r="3.7"/><circle cx="1600" cy="448" r="3.7"/><circle cx="1585" cy="555" r="3.7"/><circle cx="1528" cy="596" r="3.7"/><circle cx="1722" cy="709" r="3.7"/><circle cx="1741" cy="328" r="3.7"/><circle cx="1501" cy="359" r="3.7"/><circle cx="1412" cy="417" r="3.7"/><circle cx="1277" cy="193" r="3.7"/><circle cx="1505" cy="684" r="3.7"/><circle cx="1612" cy="433" r="3.7"/><circle cx="1470" cy="263" r="3.7"/><circle cx="1597" cy="551" r="3.7"/><circle cx="1720" cy="665" r="3.7"/><circle cx="1558" cy="439" r="3.7"/><circle cx="1342" cy="225" r="3.7"/><circle cx="1687" cy="678" r="3.7"/><circle cx="1568" cy="760" r="3.7"/><circle cx="1501" cy="522" r="3.7"/><circle cx="1373" cy="243" r="3.7"/><circle cx="1416" cy="279" r="3.7"/><circle cx="1366" cy="242" r="3.7"/><circle cx="1661" cy="547" r="3.7"/><circle cx="1441" cy="245" r="3.7"/><circle cx="1530" cy="402" r="3.7"/><circle cx="1169" cy="155" r="3.7"/><circle cx="1580" cy="461" r="3.7"/><circle cx="1522" cy="557" r="3.7"/><circle cx="1380" cy="487" r="3.7"/><circle cx="1624" cy="271" r="3.7"/><circle cx="1507" cy="334" r="3.7"/><circle cx="1473" cy="582" r="3.7"/><circle cx="1515" cy="557" r="3.7"/><circle cx="1618" cy="440" r="3.7"/><circle cx="1589" cy="383" r="3.7"/><circle cx="1623" cy="315" r="3.7"/><circle cx="1306" cy="187" r="3.7"/><circle cx="1503" cy="425" r="3.7"/><circle cx="1656" cy="554" r="3.7"/><circle cx="1451" cy="526" r="3.7"/><circle cx="1528" cy="340" r="3.7"/><circle cx="1596" cy="482" r="3.7"/><circle cx="1802" cy="301" r="3.7"/><circle cx="1684" cy="684" r="3.7"/><circle cx="1705" cy="670" r="3.7"/><circle cx="1603" cy="425" r="3.7"/><circle cx="1496" cy="375" r="3.7"/><circle cx="1616" cy="474" r="3.7"/><circle cx="1325" cy="510" r="3.7"/><circle cx="1415" cy="426" r="3.7"/><circle cx="1415" cy="292" r="3.7"/><circle cx="1709" cy="638" r="3.7"/><circle cx="1508" cy="233" r="3.7"/><circle cx="1563" cy="532" r="3.7"/><circle cx="1346" cy="199" r="3.7"/><circle cx="1662" cy="565" r="3.7"/><circle cx="1711" cy="705" r="3.7"/><circle cx="1649" cy="380" r="3.7"/><circle cx="1729" cy="940" r="3.7"/><circle cx="1177" cy="299" r="3.7"/><circle cx="1411" cy="267" r="3.7"/><circle cx="1755" cy="596" r="3.7"/><circle cx="1654" cy="470" r="3.7"/><circle cx="1593" cy="446" r="3.7"/><circle cx="1705" cy="595" r="3.7"/><circle cx="1581" cy="425" r="3.7"/><circle cx="1766" cy="744" r="3.7"/><circle cx="1725" cy="553" r="3.7"/><circle cx="1768" cy="708" r="3.7"/><circle cx="1424" cy="452" r="3.7"/><circle cx="1617" cy="360" r="3.7"/><circle cx="1591" cy="290" r="3.7"/><circle cx="1303" cy="164" r="3.7"/><circle cx="1680" cy="734" r="3.7"/><circle cx="1581" cy="402" r="3.7"/><circle cx="1717" cy="657" r="3.7"/><circle cx="1611" cy="571" r="3.7"/><circle cx="1804" cy="567" r="3.7"/><circle cx="1531" cy="376" r="3.7"/><circle cx="1790" cy="759" r="3.7"/><circle cx="1323" cy="164" r="3.7"/><circle cx="1546" cy="381" r="3.7"/><circle cx="1603" cy="468" r="3.7"/><circle cx="1251" cy="184" r="3.7"/><circle cx="1603" cy="516" r="3.7"/><circle cx="1641" cy="592" r="3.7"/><circle cx="1411" cy="305" r="3.7"/><circle cx="1586" cy="380" r="3.7"/><circle cx="1165" cy="176" r="3.7"/><circle cx="1391" cy="501" r="3.7"/><circle cx="1566" cy="411" r="3.7"/><circle cx="1365" cy="266" r="3.7"/><circle cx="1501" cy="298" r="3.7"/><circle cx="1458" cy="349" r="3.7"/><circle cx="1872" cy="904" r="3.7"/><circle cx="1705" cy="623" r="3.7"/><circle cx="1426" cy="305" r="3.7"/><circle cx="1453" cy="298" r="3.7"/><circle cx="1500" cy="512" r="3.7"/><circle cx="1564" cy="847" r="3.7"/><circle cx="1517" cy="330" r="3.7"/><circle cx="1521" cy="375" r="3.7"/><circle cx="1314" cy="291" r="3.7"/><circle cx="1898" cy="786" r="3.7"/><circle cx="1532" cy="311" r="3.7"/><circle cx="1503" cy="341" r="3.7"/><circle cx="1209" cy="207" r="3.7"/><circle cx="1480" cy="378" r="3.7"/><circle cx="1570" cy="668" r="3.7"/><circle cx="1717" cy="671" r="3.7"/><circle cx="1559" cy="418" r="3.7"/><circle cx="1470" cy="409" r="3.7"/><circle cx="1623" cy="472" r="3.7"/><circle cx="1731" cy="756" r="3.7"/><circle cx="1753" cy="635" r="3.7"/><circle cx="1242" cy="415" r="3.7"/><circle cx="1527" cy="400" r="3.7"/><circle cx="1626" cy="473" r="3.7"/><circle cx="1534" cy="316" r="3.7"/><circle cx="1423" cy="295" r="3.7"/><circle cx="1680" cy="682" r="3.7"/><circle cx="1743" cy="874" r="3.7"/><circle cx="1339" cy="202" r="3.7"/><circle cx="1506" cy="381" r="3.7"/><circle cx="1835" cy="949" r="3.7"/><circle cx="1467" cy="276" r="3.7"/><circle cx="1719" cy="911" r="3.7"/><circle cx="1333" cy="284" r="3.7"/><circle cx="1581" cy="563" r="3.7"/><circle cx="1461" cy="351" r="3.7"/><circle cx="1385" cy="731" r="3.7"/><circle cx="1244" cy="194" r="3.7"/><circle cx="1556" cy="594" r="3.7"/><circle cx="1503" cy="523" r="3.7"/><circle cx="1550" cy="582" r="3.7"/><circle cx="1574" cy="600" r="3.7"/><circle cx="1645" cy="344" r="3.7"/><circle cx="1468" cy="269" r="3.7"/><circle cx="1471" cy="294" r="3.7"/><circle cx="1468" cy="440" r="3.7"/><circle cx="1577" cy="434" r="3.7"/><circle cx="1741" cy="780" r="3.7"/><circle cx="1557" cy="405" r="3.7"/><circle cx="1523" cy="487" r="3.7"/><circle cx="1591" cy="465" r="3.7"/><circle cx="1671" cy="839" r="3.7"/><circle cx="1487" cy="334" r="3.7"/><circle cx="1707" cy="602" r="3.7"/><circle cx="1373" cy="389" r="3.7"/><circle cx="1537" cy="351" r="3.7"/><circle cx="1405" cy="316" r="3.7"/><circle cx="1594" cy="360" r="3.7"/><circle cx="1414" cy="228" r="3.7"/><circle cx="1557" cy="472" r="3.7"/><circle cx="1587" cy="462" r="3.7"/><circle cx="1676" cy="655" r="3.7"/><circle cx="1576" cy="488" r="3.7"/><circle cx="1303" cy="215" r="3.7"/><circle cx="1743" cy="662" r="3.7"/><circle cx="1618" cy="364" r="3.7"/><circle cx="1428" cy="270" r="3.7"/><circle cx="1571" cy="519" r="3.7"/><circle cx="1604" cy="655" r="3.7"/><circle cx="1444" cy="314" r="3.7"/><circle cx="1516" cy="419" r="3.7"/><circle cx="1714" cy="646" r="3.7"/><circle cx="1409" cy="225" r="3.7"/><circle cx="1568" cy="365" r="3.7"/><circle cx="1873" cy="718" r="3.7"/><circle cx="1596" cy="568" r="3.7"/><circle cx="1560" cy="346" r="3.7"/><circle cx="1507" cy="462" r="3.7"/><circle cx="1579" cy="386" r="3.7"/><circle cx="1612" cy="441" r="3.7"/><circle cx="1601" cy="343" r="3.7"/><circle cx="1623" cy="502" r="3.7"/><circle cx="1329" cy="377" r="3.7"/><circle cx="1479" cy="412" r="3.7"/><circle cx="1180" cy="100" r="3.7"/><circle cx="1533" cy="432" r="3.7"/><circle cx="1589" cy="478" r="3.7"/><circle cx="1588" cy="414" r="3.7"/><circle cx="1385" cy="324" r="3.7"/><circle cx="1614" cy="440" r="3.7"/><circle cx="1697" cy="396" r="3.7"/><circle cx="1341" cy="234" r="3.7"/><circle cx="1533" cy="375" r="3.7"/><circle cx="1702" cy="665" r="3.7"/><circle cx="1318" cy="485" r="3.7"/><circle cx="1635" cy="496" r="3.7"/><circle cx="1217" cy="209" r="3.7"/><circle cx="1585" cy="495" r="3.7"/><circle cx="1623" cy="413" r="3.7"/><circle cx="1520" cy="434" r="3.7"/><circle cx="1773" cy="922" r="3.7"/><circle cx="1682" cy="594" r="3.7"/><circle cx="1492" cy="320" r="3.7"/><circle cx="1856" cy="759" r="3.7"/><circle cx="1512" cy="614" r="3.7"/><circle cx="1560" cy="517" r="3.7"/><circle cx="1511" cy="407" r="3.7"/><circle cx="1436" cy="354" r="3.7"/><circle cx="1627" cy="373" r="3.7"/><circle cx="1608" cy="504" r="3.7"/><circle cx="1614" cy="420" r="3.7"/><circle cx="1532" cy="456" r="3.7"/><circle cx="1546" cy="356" r="3.7"/><circle cx="1437" cy="471" r="3.7"/><circle cx="1452" cy="823" r="3.7"/><circle cx="1612" cy="350" r="3.7"/><circle cx="1732" cy="839" r="3.7"/><circle cx="1661" cy="659" r="3.7"/><circle cx="1644" cy="571" r="3.7"/><circle cx="1391" cy="258" r="3.7"/><circle cx="1620" cy="464" r="3.7"/><circle cx="1601" cy="497" r="3.7"/><circle cx="1781" cy="649" r="3.7"/><circle cx="1424" cy="400" r="3.7"/><circle cx="1666" cy="655" r="3.7"/><circle cx="1614" cy="527" r="3.7"/><circle cx="1409" cy="302" r="3.7"/><circle cx="1270" cy="362" r="3.7"/><circle cx="1398" cy="256" r="3.7"/><circle cx="1770" cy="602" r="3.7"/><circle cx="1392" cy="426" r="3.7"/><circle cx="1570" cy="447" r="3.7"/><circle cx="1350" cy="234" r="3.7"/><circle cx="1672" cy="657" r="3.7"/><circle cx="1475" cy="312" r="3.7"/><circle cx="1597" cy="395" r="3.7"/><circle cx="1664" cy="722" r="3.7"/><circle cx="1674" cy="581" r="3.7"/><circle cx="1297" cy="374" r="3.7"/><circle cx="1456" cy="311" r="3.7"/><circle cx="1433" cy="640" r="3.7"/><circle cx="1386" cy="479" r="3.7"/><circle cx="1660" cy="291" r="3.7"/><circle cx="1352" cy="492" r="3.7"/><circle cx="1714" cy="667" r="3.7"/><circle cx="1595" cy="430" r="3.7"/><circle cx="1773" cy="407" r="3.7"/><circle cx="1628" cy="414" r="3.7"/><circle cx="1424" cy="316" r="3.7"/><circle cx="1692" cy="403" r="3.7"/><circle cx="1610" cy="336" r="3.7"/><circle cx="1734" cy="794" r="3.7"/><circle cx="1662" cy="401" r="3.7"/><circle cx="1170" cy="350" r="3.7"/><circle cx="1750" cy="701" r="3.7"/><circle cx="1237" cy="480" r="3.7"/><circle cx="1332" cy="373" r="3.7"/><circle cx="1261" cy="377" r="3.7"/><circle cx="1345" cy="509" r="3.7"/><circle cx="1550" cy="430" r="3.7"/><circle cx="1512" cy="491" r="3.7"/><circle cx="1530" cy="318" r="3.7"/><circle cx="1471" cy="377" r="3.7"/><circle cx="1279" cy="604" r="3.7"/><circle cx="1752" cy="751" r="3.7"/><circle cx="1579" cy="315" r="3.7"/><circle cx="1576" cy="368" r="3.7"/><circle cx="1590" cy="549" r="3.7"/><circle cx="1354" cy="245" r="3.7"/><circle cx="1514" cy="408" r="3.7"/><circle cx="1337" cy="226" r="3.7"/><circle cx="1562" cy="433" r="3.7"/><circle cx="1488" cy="345" r="3.7"/><circle cx="1408" cy="301" r="3.7"/><circle cx="1761" cy="899" r="3.7"/><circle cx="1500" cy="471" r="3.7"/><circle cx="1596" cy="582" r="3.7"/><circle cx="1376" cy="232" r="3.7"/><circle cx="1448" cy="323" r="3.7"/><circle cx="1738" cy="736" r="3.7"/><circle cx="1422" cy="619" r="3.7"/><circle cx="1602" cy="398" r="3.7"/><circle cx="1527" cy="451" r="3.7"/><circle cx="1670" cy="490" r="3.7"/><circle cx="1562" cy="358" r="3.7"/><circle cx="1478" cy="523" r="3.7"/><circle cx="1730" cy="902" r="3.7"/><circle cx="1526" cy="301" r="3.7"/><circle cx="1743" cy="732" r="3.7"/><circle cx="1680" cy="663" r="3.7"/><circle cx="1546" cy="473" r="3.7"/><circle cx="1579" cy="452" r="3.7"/><circle cx="1719" cy="797" r="3.7"/><circle cx="1565" cy="458" r="3.7"/><circle cx="1582" cy="419" r="3.7"/><circle cx="1419" cy="267" r="3.7"/><circle cx="1293" cy="213" r="3.7"/><circle cx="1430" cy="244" r="3.7"/><circle cx="1563" cy="426" r="3.7"/><circle cx="1784" cy="748" r="3.7"/><circle cx="1464" cy="214" r="3.7"/><circle cx="1683" cy="526" r="3.7"/><circle cx="1674" cy="400" r="3.7"/><circle cx="1302" cy="289" r="3.7"/><circle cx="1576" cy="464" r="3.7"/><circle cx="1444" cy="213" r="3.7"/><circle cx="1368" cy="227" r="3.7"/><circle cx="1591" cy="474" r="3.7"/><circle cx="1471" cy="313" r="3.7"/><circle cx="1437" cy="289" r="3.7"/><circle cx="1537" cy="473" r="3.7"/><circle cx="1573" cy="500" r="3.7"/><circle cx="1523" cy="500" r="3.7"/><circle cx="1603" cy="465" r="3.7"/><circle cx="1650" cy="394" r="3.7"/><circle cx="1494" cy="380" r="3.7"/><circle cx="1663" cy="500" r="3.7"/><circle cx="1466" cy="495" r="3.7"/><circle cx="1650" cy="456" r="3.7"/><circle cx="1401" cy="368" r="3.7"/><circle cx="1230" cy="207" r="3.7"/><circle cx="1347" cy="184" r="3.7"/><circle cx="1280" cy="154" r="3.7"/><circle cx="1697" cy="850" r="3.7"/><circle cx="1765" cy="479" r="3.7"/><circle cx="1582" cy="395" r="3.7"/><circle cx="1636" cy="481" r="3.7"/><circle cx="1555" cy="487" r="3.7"/><circle cx="1682" cy="429" r="3.7"/><circle cx="1392" cy="343" r="3.7"/><circle cx="1501" cy="206" r="3.7"/><circle cx="1474" cy="260" r="3.7"/><circle cx="1701" cy="814" r="3.7"/><circle cx="1563" cy="599" r="3.7"/><circle cx="1503" cy="394" r="3.7"/><circle cx="1511" cy="288" r="3.7"/><circle cx="1605" cy="499" r="3.7"/><circle cx="1662" cy="595" r="3.7"/><circle cx="1559" cy="569" r="3.7"/><circle cx="1625" cy="530" r="3.7"/><circle cx="1447" cy="298" r="3.7"/><circle cx="1507" cy="329" r="3.7"/><circle cx="1373" cy="330" r="3.7"/><circle cx="1346" cy="419" r="3.7"/><circle cx="1190" cy="129" r="3.7"/><circle cx="1681" cy="607" r="3.7"/><circle cx="1394" cy="447" r="3.7"/><circle cx="1407" cy="339" r="3.7"/><circle cx="1541" cy="359" r="3.7"/><circle cx="1569" cy="459" r="3.7"/><circle cx="1336" cy="228" r="3.7"/><circle cx="1579" cy="271" r="3.7"/><circle cx="1511" cy="298" r="3.7"/><circle cx="1417" cy="466" r="3.7"/><circle cx="1238" cy="221" r="3.7"/><circle cx="1631" cy="447" r="3.7"/><circle cx="1452" cy="223" r="3.7"/><circle cx="1444" cy="430" r="3.7"/><circle cx="1607" cy="508" r="3.7"/><circle cx="1383" cy="333" r="3.7"/><circle cx="1526" cy="310" r="3.7"/><circle cx="1615" cy="603" r="3.7"/><circle cx="1711" cy="743" r="3.7"/><circle cx="1561" cy="380" r="3.7"/><circle cx="1540" cy="499" r="3.7"/><circle cx="1744" cy="850" r="3.7"/><circle cx="1701" cy="655" r="3.7"/><circle cx="1478" cy="474" r="3.7"/><circle cx="1347" cy="254" r="3.7"/><circle cx="1318" cy="554" r="3.7"/><circle cx="1550" cy="444" r="3.7"/><circle cx="1796" cy="802" r="3.7"/><circle cx="1536" cy="637" r="3.7"/><circle cx="1571" cy="430" r="3.7"/><circle cx="1711" cy="895" r="3.7"/><circle cx="1453" cy="372" r="3.7"/><circle cx="1166" cy="236" r="3.7"/><circle cx="1395" cy="332" r="3.7"/><circle cx="1861" cy="904" r="3.7"/><circle cx="1672" cy="679" r="3.7"/><circle cx="1396" cy="253" r="3.7"/><circle cx="1711" cy="417" r="3.7"/><circle cx="1596" cy="414" r="3.7"/><circle cx="1438" cy="494" r="3.7"/><circle cx="1638" cy="569" r="3.7"/><circle cx="1587" cy="547" r="3.7"/><circle cx="1814" cy="656" r="3.7"/><circle cx="1370" cy="241" r="3.7"/><circle cx="1626" cy="285" r="3.7"/><circle cx="1584" cy="335" r="3.7"/><circle cx="1527" cy="414" r="3.7"/><circle cx="1458" cy="273" r="3.7"/><circle cx="1406" cy="316" r="3.7"/><circle cx="1309" cy="327" r="3.7"/><circle cx="1713" cy="381" r="3.7"/><circle cx="1459" cy="276" r="3.7"/><circle cx="1904" cy="276" r="3.7"/><circle cx="1593" cy="499" r="3.7"/><circle cx="1603" cy="454" r="3.7"/><circle cx="1382" cy="320" r="3.7"/><circle cx="1550" cy="361" r="3.7"/><circle cx="1618" cy="692" r="3.7"/><circle cx="1614" cy="394" r="3.7"/><circle cx="1341" cy="266" r="3.7"/><circle cx="1619" cy="488" r="3.7"/><circle cx="1607" cy="396" r="3.7"/><circle cx="1453" cy="331" r="3.7"/><circle cx="1430" cy="392" r="3.7"/><circle cx="1475" cy="434" r="3.7"/><circle cx="1336" cy="279" r="3.7"/><circle cx="1507" cy="392" r="3.7"/><circle cx="1707" cy="648" r="3.7"/><circle cx="1690" cy="620" r="3.7"/><circle cx="1437" cy="294" r="3.7"/><circle cx="1555" cy="551" r="3.7"/><circle cx="1607" cy="522" r="3.7"/><circle cx="1768" cy="756" r="3.7"/><circle cx="1493" cy="633" r="3.7"/><circle cx="1604" cy="485" r="3.7"/><circle cx="1302" cy="460" r="3.7"/><circle cx="1576" cy="208" r="3.7"/><circle cx="1486" cy="354" r="3.7"/><circle cx="1482" cy="303" r="3.7"/><circle cx="1579" cy="390" r="3.7"/><circle cx="1642" cy="413" r="3.7"/><circle cx="1586" cy="332" r="3.7"/><circle cx="1398" cy="320" r="3.7"/><circle cx="1589" cy="499" r="3.7"/><circle cx="1213" cy="463" r="3.7"/><circle cx="1423" cy="331" r="3.7"/><circle cx="1627" cy="603" r="3.7"/><circle cx="1724" cy="671" r="3.7"/><circle cx="1589" cy="172" r="3.7"/><circle cx="1384" cy="203" r="3.7"/><circle cx="1394" cy="299" r="3.7"/><circle cx="1542" cy="463" r="3.7"/><circle cx="1548" cy="460" r="3.7"/><circle cx="1462" cy="292" r="3.7"/><circle cx="1657" cy="444" r="3.7"/><circle cx="1519" cy="557" r="3.7"/><circle cx="1466" cy="249" r="3.7"/><circle cx="1625" cy="508" r="3.7"/><circle cx="1304" cy="247" r="3.7"/><circle cx="1560" cy="339" r="3.7"/><circle cx="1733" cy="429" r="3.7"/><circle cx="1630" cy="592" r="3.7"/><circle cx="1473" cy="438" r="3.7"/><circle cx="1819" cy="843" r="3.7"/><circle cx="1800" cy="811" r="3.7"/><circle cx="1457" cy="342" r="3.7"/><circle cx="1567" cy="492" r="3.7"/><circle cx="1467" cy="372" r="3.7"/><circle cx="1595" cy="526" r="3.7"/><circle cx="1609" cy="605" r="3.7"/><circle cx="1363" cy="209" r="3.7"/><circle cx="1621" cy="376" r="3.7"/><circle cx="1403" cy="284" r="3.7"/><circle cx="1681" cy="789" r="3.7"/><circle cx="1572" cy="437" r="3.7"/><circle cx="1439" cy="295" r="3.7"/><circle cx="1494" cy="453" r="3.7"/><circle cx="1519" cy="500" r="3.7"/><circle cx="1415" cy="268" r="3.7"/><circle cx="1703" cy="702" r="3.7"/><circle cx="1539" cy="423" r="3.7"/><circle cx="1548" cy="383" r="3.7"/><circle cx="1573" cy="379" r="3.7"/><circle cx="1712" cy="614" r="3.7"/><circle cx="1554" cy="288" r="3.7"/><circle cx="1510" cy="373" r="3.7"/><circle cx="1524" cy="342" r="3.7"/><circle cx="1567" cy="365" r="3.7"/><circle cx="1557" cy="320" r="3.7"/><circle cx="1590" cy="338" r="3.7"/><circle cx="1403" cy="162" r="3.7"/><circle cx="1190" cy="163" r="3.7"/><circle cx="1196" cy="212" r="3.7"/><circle cx="1486" cy="484" r="3.7"/><circle cx="1497" cy="261" r="3.7"/><circle cx="1639" cy="486" r="3.7"/><circle cx="1791" cy="840" r="3.7"/><circle cx="1592" cy="278" r="3.7"/><circle cx="1428" cy="397" r="3.7"/><circle cx="1355" cy="290" r="3.7"/><circle cx="1564" cy="530" r="3.7"/><circle cx="1591" cy="427" r="3.7"/><circle cx="1552" cy="301" r="3.7"/><circle cx="1557" cy="172" r="3.7"/><circle cx="1364" cy="296" r="3.7"/><circle cx="1510" cy="539" r="3.7"/><circle cx="1388" cy="345" r="3.7"/><circle cx="1355" cy="198" r="3.7"/><circle cx="1700" cy="600" r="3.7"/><circle cx="1423" cy="382" r="3.7"/><circle cx="1678" cy="642" r="3.7"/><circle cx="1538" cy="447" r="3.7"/><circle cx="1455" cy="601" r="3.7"/><circle cx="1737" cy="613" r="3.7"/><circle cx="1480" cy="436" r="3.7"/><circle cx="1440" cy="337" r="3.7"/><circle cx="1382" cy="488" r="3.7"/><circle cx="1567" cy="521" r="3.7"/><circle cx="1526" cy="252" r="3.7"/><circle cx="1627" cy="408" r="3.7"/><circle cx="1540" cy="367" r="3.7"/><circle cx="1562" cy="446" r="3.7"/><circle cx="1623" cy="378" r="3.7"/><circle cx="1594" cy="550" r="3.7"/><circle cx="1365" cy="243" r="3.7"/><circle cx="1297" cy="182" r="3.7"/><circle cx="1556" cy="302" r="3.7"/><circle cx="1593" cy="279" r="3.7"/><circle cx="1765" cy="730" r="3.7"/><circle cx="1467" cy="672" r="3.7"/><circle cx="1502" cy="303" r="3.7"/><circle cx="1652" cy="582" r="3.7"/><circle cx="1698" cy="774" r="3.7"/><circle cx="1510" cy="515" r="3.7"/><circle cx="1683" cy="642" r="3.7"/><circle cx="1536" cy="406" r="3.7"/><circle cx="1410" cy="285" r="3.7"/><circle cx="1703" cy="631" r="3.7"/><circle cx="1486" cy="169" r="3.7"/><circle cx="1780" cy="530" r="3.7"/><circle cx="1558" cy="448" r="3.7"/><circle cx="1232" cy="171" r="3.7"/><circle cx="1519" cy="495" r="3.7"/><circle cx="1745" cy="783" r="3.7"/><circle cx="1594" cy="577" r="3.7"/><circle cx="1880" cy="838" r="3.7"/><circle cx="1604" cy="415" r="3.7"/><circle cx="1713" cy="869" r="3.7"/><circle cx="1757" cy="693" r="3.7"/><circle cx="1628" cy="584" r="3.7"/><circle cx="1417" cy="472" r="3.7"/><circle cx="1556" cy="440" r="3.7"/><circle cx="1204" cy="186" r="3.7"/><circle cx="1541" cy="401" r="3.7"/><circle cx="1640" cy="619" r="3.7"/><circle cx="1606" cy="503" r="3.7"/><circle cx="1627" cy="759" r="3.7"/><circle cx="1592" cy="444" r="3.7"/><circle cx="1592" cy="394" r="3.7"/><circle cx="1504" cy="197" r="3.7"/><circle cx="1493" cy="519" r="3.7"/><circle cx="1457" cy="124" r="3.7"/><circle cx="1763" cy="261" r="3.7"/><circle cx="1572" cy="210" r="3.7"/><circle cx="1474" cy="307" r="3.7"/><circle cx="1608" cy="682" r="3.7"/><circle cx="1554" cy="370" r="3.7"/><circle cx="1669" cy="644" r="3.7"/><circle cx="1575" cy="336" r="3.7"/><circle cx="1506" cy="260" r="3.7"/><circle cx="1571" cy="411" r="3.7"/><circle cx="1814" cy="749" r="3.7"/><circle cx="1279" cy="191" r="3.7"/><circle cx="1540" cy="602" r="3.7"/><circle cx="1632" cy="528" r="3.7"/><circle cx="1609" cy="443" r="3.7"/><circle cx="1611" cy="527" r="3.7"/><circle cx="1662" cy="632" r="3.7"/><circle cx="1626" cy="802" r="3.7"/><circle cx="1260" cy="413" r="3.7"/><circle cx="1291" cy="160" r="3.7"/><circle cx="1620" cy="457" r="3.7"/><circle cx="1402" cy="371" r="3.7"/><circle cx="1561" cy="436" r="3.7"/><circle cx="1509" cy="392" r="3.7"/><circle cx="1292" cy="226" r="3.7"/><circle cx="1465" cy="231" r="3.7"/><circle cx="1861" cy="731" r="3.7"/><circle cx="1394" cy="547" r="3.7"/><circle cx="1698" cy="561" r="3.7"/><circle cx="1341" cy="408" r="3.7"/><circle cx="1495" cy="258" r="3.7"/><circle cx="1548" cy="452" r="3.7"/><circle cx="1503" cy="362" r="3.7"/><circle cx="1317" cy="222" r="3.7"/><circle cx="1588" cy="291" r="3.7"/><circle cx="1374" cy="215" r="3.7"/><circle cx="1304" cy="150" r="3.7"/><circle cx="1684" cy="327" r="3.7"/><circle cx="1699" cy="276" r="3.7"/><circle cx="1724" cy="695" r="3.7"/><circle cx="1357" cy="335" r="3.7"/><circle cx="1407" cy="353" r="3.7"/><circle cx="1786" cy="478" r="3.7"/><circle cx="1599" cy="362" r="3.7"/><circle cx="1505" cy="429" r="3.7"/><circle cx="1695" cy="642" r="3.7"/><circle cx="1437" cy="294" r="3.7"/><circle cx="1283" cy="259" r="3.7"/><circle cx="1821" cy="823" r="3.7"/><circle cx="1453" cy="394" r="3.7"/><circle cx="1498" cy="302" r="3.7"/><circle cx="1550" cy="415" r="3.7"/><circle cx="1391" cy="352" r="3.7"/><circle cx="1741" cy="681" r="3.7"/><circle cx="1578" cy="534" r="3.7"/><circle cx="1560" cy="433" r="3.7"/><circle cx="1686" cy="607" r="3.7"/><circle cx="1348" cy="224" r="3.7"/><circle cx="1374" cy="290" r="3.7"/><circle cx="1386" cy="306" r="3.7"/><circle cx="1222" cy="163" r="3.7"/><circle cx="1516" cy="258" r="3.7"/><circle cx="1372" cy="218" r="3.7"/><circle cx="1543" cy="310" r="3.7"/><circle cx="1469" cy="331" r="3.7"/><circle cx="1509" cy="834" r="3.7"/><circle cx="1614" cy="732" r="3.7"/><circle cx="1466" cy="285" r="3.7"/><circle cx="1809" cy="400" r="3.7"/><circle cx="1665" cy="600" r="3.7"/><circle cx="1536" cy="450" r="3.7"/><circle cx="1616" cy="377" r="3.7"/><circle cx="1510" cy="396" r="3.7"/><circle cx="1559" cy="368" r="3.7"/><circle cx="1369" cy="349" r="3.7"/><circle cx="1490" cy="313" r="3.7"/><circle cx="1758" cy="790" r="3.7"/><circle cx="1532" cy="516" r="3.7"/><circle cx="1511" cy="350" r="3.7"/><circle cx="1572" cy="433" r="3.7"/><circle cx="1570" cy="334" r="3.7"/><circle cx="1603" cy="415" r="3.7"/><circle cx="1444" cy="312" r="3.7"/><circle cx="1311" cy="239" r="3.7"/><circle cx="1418" cy="288" r="3.7"/><circle cx="1539" cy="390" r="3.7"/><circle cx="1812" cy="852" r="3.7"/><circle cx="1567" cy="293" r="3.7"/><circle cx="1488" cy="295" r="3.7"/><circle cx="1695" cy="706" r="3.7"/><circle cx="1570" cy="796" r="3.7"/><circle cx="1692" cy="666" r="3.7"/><circle cx="1654" cy="344" r="3.7"/><circle cx="1627" cy="591" r="3.7"/><circle cx="1225" cy="159" r="3.7"/><circle cx="1396" cy="516" r="3.7"/><circle cx="1483" cy="324" r="3.7"/><circle cx="1446" cy="336" r="3.7"/><circle cx="1403" cy="214" r="3.7"/><circle cx="1485" cy="332" r="3.7"/><circle cx="1480" cy="320" r="3.7"/><circle cx="1660" cy="704" r="3.7"/><circle cx="1471" cy="328" r="3.7"/><circle cx="1532" cy="415" r="3.7"/><circle cx="1281" cy="273" r="3.7"/><circle cx="1603" cy="458" r="3.7"/><circle cx="1503" cy="385" r="3.7"/><circle cx="1546" cy="311" r="3.7"/><circle cx="1596" cy="468" r="3.7"/><circle cx="1953" cy="571" r="3.7"/><circle cx="1663" cy="858" r="3.7"/><circle cx="1393" cy="239" r="3.7"/><circle cx="1597" cy="401" r="3.7"/><circle cx="1469" cy="317" r="3.7"/><circle cx="1870" cy="946" r="3.7"/><circle cx="1689" cy="624" r="3.7"/><circle cx="1604" cy="313" r="3.7"/><circle cx="1340" cy="265" r="3.7"/><circle cx="1488" cy="228" r="3.7"/><circle cx="1626" cy="640" r="3.7"/><circle cx="1580" cy="352" r="3.7"/><circle cx="1720" cy="698" r="3.7"/><circle cx="1461" cy="294" r="3.7"/><circle cx="1541" cy="486" r="3.7"/><circle cx="1385" cy="309" r="3.7"/><circle cx="1811" cy="840" r="3.7"/><circle cx="1356" cy="268" r="3.7"/><circle cx="1816" cy="824" r="3.7"/><circle cx="1399" cy="341" r="3.7"/><circle cx="1610" cy="374" r="3.7"/><circle cx="1567" cy="513" r="3.7"/><circle cx="1627" cy="462" r="3.7"/><circle cx="1407" cy="315" r="3.7"/><circle cx="1575" cy="510" r="3.7"/><circle cx="1633" cy="561" r="3.7"/><circle cx="1234" cy="164" r="3.7"/><circle cx="1688" cy="410" r="3.7"/><circle cx="1156" cy="161" r="3.7"/><circle cx="1684" cy="818" r="3.7"/><circle cx="1447" cy="343" r="3.7"/><circle cx="1570" cy="482" r="3.7"/><circle cx="1672" cy="395" r="3.7"/><circle cx="1402" cy="321" r="3.7"/><circle cx="1152" cy="11" r="3.7"/><circle cx="1519" cy="460" r="3.7"/><circle cx="1723" cy="680" r="3.7"/><circle cx="1820" cy="689" r="3.7"/><circle cx="1556" cy="355" r="3.7"/><circle cx="1244" cy="227" r="3.7"/><circle cx="1408" cy="315" r="3.7"/><circle cx="1540" cy="292" r="3.7"/><circle cx="1684" cy="646" r="3.7"/><circle cx="1523" cy="403" r="3.7"/><circle cx="1697" cy="555" r="3.7"/><circle cx="1459" cy="451" r="3.7"/><circle cx="1707" cy="717" r="3.7"/><circle cx="1738" cy="685" r="3.7"/><circle cx="1409" cy="259" r="3.7"/><circle cx="1595" cy="589" r="3.7"/><circle cx="1312" cy="280" r="3.7"/><circle cx="1483" cy="755" r="3.7"/><circle cx="1302" cy="197" r="3.7"/><circle cx="1530" cy="402" r="3.7"/><circle cx="1554" cy="295" r="3.7"/><circle cx="1531" cy="324" r="3.7"/><circle cx="1296" cy="233" r="3.7"/><circle cx="1205" cy="159" r="3.7"/><circle cx="1700" cy="689" r="3.7"/><circle cx="1570" cy="432" r="3.7"/><circle cx="1670" cy="685" r="3.7"/><circle cx="1555" cy="317" r="3.7"/><circle cx="1226" cy="202" r="3.7"/><circle cx="1500" cy="362" r="3.7"/><circle cx="1567" cy="476" r="3.7"/><circle cx="1472" cy="335" r="3.7"/><circle cx="1512" cy="497" r="3.7"/><circle cx="1493" cy="297" r="3.7"/><circle cx="1405" cy="297" r="3.7"/><circle cx="1747" cy="736" r="3.7"/><circle cx="1720" cy="688" r="3.7"/><circle cx="1419" cy="270" r="3.7"/><circle cx="1653" cy="938" r="3.7"/><circle cx="1551" cy="249" r="3.7"/><circle cx="1593" cy="516" r="3.7"/><circle cx="1477" cy="402" r="3.7"/><circle cx="1513" cy="497" r="3.7"/><circle cx="1679" cy="671" r="3.7"/><circle cx="1325" cy="231" r="3.7"/><circle cx="1638" cy="405" r="3.7"/><circle cx="1293" cy="171" r="3.7"/><circle cx="1582" cy="450" r="3.7"/><circle cx="1443" cy="309" r="3.7"/><circle cx="1515" cy="347" r="3.7"/><circle cx="1599" cy="480" r="3.7"/><circle cx="1599" cy="340" r="3.7"/><circle cx="1315" cy="190" r="3.7"/><circle cx="1318" cy="135" r="3.7"/><circle cx="1548" cy="779" r="3.7"/><circle cx="1382" cy="354" r="3.7"/><circle cx="1682" cy="778" r="3.7"/><circle cx="1312" cy="281" r="3.7"/><circle cx="1539" cy="251" r="3.7"/><circle cx="1613" cy="600" r="3.7"/><circle cx="1238" cy="123" r="3.7"/><circle cx="1802" cy="871" r="3.7"/><circle cx="1564" cy="393" r="3.7"/><circle cx="1678" cy="485" r="3.7"/><circle cx="1693" cy="652" r="3.7"/><circle cx="1594" cy="463" r="3.7"/><circle cx="1410" cy="284" r="3.7"/><circle cx="1706" cy="744" r="3.7"/><circle cx="1553" cy="459" r="3.7"/><circle cx="1160" cy="80" r="3.7"/><circle cx="1752" cy="776" r="3.7"/><circle cx="1537" cy="354" r="3.7"/><circle cx="1566" cy="448" r="3.7"/><circle cx="1536" cy="477" r="3.7"/><circle cx="1765" cy="474" r="3.7"/><circle cx="1680" cy="757" r="3.7"/><circle cx="1475" cy="258" r="3.7"/><circle cx="1830" cy="771" r="3.7"/><circle cx="1398" cy="412" r="3.7"/><circle cx="1551" cy="464" r="3.7"/><circle cx="1590" cy="401" r="3.7"/><circle cx="1682" cy="604" r="3.7"/><circle cx="1445" cy="297" r="3.7"/><circle cx="1703" cy="635" r="3.7"/><circle cx="1504" cy="432" r="3.7"/><circle cx="1381" cy="246" r="3.7"/><circle cx="1848" cy="810" r="3.7"/><circle cx="1937" cy="821" r="3.7"/><circle cx="1387" cy="273" r="3.7"/><circle cx="1418" cy="263" r="3.7"/><circle cx="1562" cy="458" r="3.7"/><circle cx="1605" cy="538" r="3.7"/><circle cx="1569" cy="405" r="3.7"/><circle cx="1636" cy="553" r="3.7"/><circle cx="1569" cy="488" r="3.7"/><circle cx="1682" cy="672" r="3.7"/><circle cx="1758" cy="470" r="3.7"/><circle cx="1301" cy="165" r="3.7"/><circle cx="1560" cy="491" r="3.7"/><circle cx="1265" cy="131" r="3.7"/><circle cx="1668" cy="487" r="3.7"/><circle cx="1586" cy="353" r="3.7"/><circle cx="1522" cy="432" r="3.7"/><circle cx="1560" cy="488" r="3.7"/><circle cx="1565" cy="419" r="3.7"/><circle cx="1426" cy="236" r="3.7"/><circle cx="1344" cy="290" r="3.7"/><circle cx="1564" cy="536" r="3.7"/><circle cx="1548" cy="583" r="3.7"/><circle cx="1757" cy="630" r="3.7"/><circle cx="1797" cy="824" r="3.7"/><circle cx="1563" cy="438" r="3.7"/><circle cx="1264" cy="213" r="3.7"/><circle cx="1556" cy="454" r="3.7"/><circle cx="1196" cy="186" r="3.7"/><circle cx="1578" cy="200" r="3.7"/><circle cx="1210" cy="158" r="3.7"/><circle cx="1380" cy="408" r="3.7"/><circle cx="1326" cy="543" r="3.7"/><circle cx="1697" cy="431" r="3.7"/><circle cx="1720" cy="674" r="3.7"/><circle cx="1709" cy="917" r="3.7"/><circle cx="1513" cy="299" r="3.7"/><circle cx="1451" cy="319" r="3.7"/><circle cx="1457" cy="304" r="3.7"/><circle cx="1595" cy="492" r="3.7"/><circle cx="1648" cy="463" r="3.7"/><circle cx="1541" cy="199" r="3.7"/><circle cx="1471" cy="416" r="3.7"/><circle cx="1510" cy="312" r="3.7"/><circle cx="1289" cy="571" r="3.7"/><circle cx="1420" cy="249" r="3.7"/><circle cx="1334" cy="249" r="3.7"/><circle cx="1473" cy="411" r="3.7"/><circle cx="1392" cy="287" r="3.7"/><circle cx="1779" cy="748" r="3.7"/><circle cx="1452" cy="341" r="3.7"/><circle cx="1612" cy="459" r="3.7"/><circle cx="1687" cy="645" r="3.7"/><circle cx="1663" cy="542" r="3.7"/><circle cx="1421" cy="490" r="3.7"/><circle cx="1609" cy="427" r="3.7"/><circle cx="1504" cy="474" r="3.7"/><circle cx="1656" cy="674" r="3.7"/><circle cx="1546" cy="409" r="3.7"/><circle cx="1528" cy="424" r="3.7"/><circle cx="1484" cy="290" r="3.7"/><circle cx="1426" cy="468" r="3.7"/><circle cx="1755" cy="631" r="3.7"/><circle cx="1609" cy="497" r="3.7"/><circle cx="1691" cy="646" r="3.7"/><circle cx="1492" cy="442" r="3.7"/><circle cx="1641" cy="454" r="3.7"/><circle cx="1502" cy="265" r="3.7"/><circle cx="1671" cy="806" r="3.7"/><circle cx="1562" cy="266" r="3.7"/><circle cx="1689" cy="695" r="3.7"/><circle cx="1801" cy="947" r="3.7"/><circle cx="1631" cy="473" r="3.7"/><circle cx="1179" cy="432" r="3.7"/><circle cx="1774" cy="681" r="3.7"/><circle cx="1275" cy="127" r="3.7"/><circle cx="1710" cy="648" r="3.7"/><circle cx="1708" cy="600" r="3.7"/><circle cx="1686" cy="602" r="3.7"/><circle cx="1503" cy="397" r="3.7"/><circle cx="1674" cy="875" r="3.7"/><circle cx="1654" cy="437" r="3.7"/><circle cx="1488" cy="394" r="3.7"/><circle cx="1681" cy="679" r="3.7"/><circle cx="1371" cy="228" r="3.7"/><circle cx="1557" cy="415" r="3.7"/><circle cx="1535" cy="379" r="3.7"/><circle cx="1536" cy="300" r="3.7"/><circle cx="1684" cy="655" r="3.7"/><circle cx="1664" cy="420" r="3.7"/><circle cx="1544" cy="360" r="3.7"/><circle cx="1401" cy="302" r="3.7"/><circle cx="1474" cy="261" r="3.7"/><circle cx="1269" cy="161" r="3.7"/><circle cx="1725" cy="673" r="3.7"/><circle cx="1610" cy="572" r="3.7"/><circle cx="1606" cy="283" r="3.7"/><circle cx="1856" cy="951" r="3.7"/><circle cx="1711" cy="544" r="3.7"/><circle cx="1678" cy="523" r="3.7"/><circle cx="1785" cy="747" r="3.7"/><circle cx="1244" cy="255" r="3.7"/><circle cx="1616" cy="478" r="3.7"/><circle cx="1374" cy="438" r="3.7"/><circle cx="1543" cy="404" r="3.7"/><circle cx="1577" cy="486" r="3.7"/><circle cx="1712" cy="616" r="3.7"/><circle cx="1173" cy="453" r="3.7"/><circle cx="1741" cy="810" r="3.7"/><circle cx="1416" cy="365" r="3.7"/><circle cx="1666" cy="678" r="3.7"/><circle cx="1413" cy="296" r="3.7"/><circle cx="1459" cy="302" r="3.7"/><circle cx="1687" cy="421" r="3.7"/><circle cx="1691" cy="709" r="3.7"/><circle cx="1464" cy="415" r="3.7"/><circle cx="1790" cy="900" r="3.7"/><circle cx="1576" cy="517" r="3.7"/><circle cx="1451" cy="433" r="3.7"/><circle cx="1334" cy="263" r="3.7"/><circle cx="1477" cy="298" r="3.7"/><circle cx="1568" cy="369" r="3.7"/><circle cx="1247" cy="435" r="3.7"/><circle cx="1321" cy="402" r="3.7"/><circle cx="1510" cy="251" r="3.7"/><circle cx="1568" cy="561" r="3.7"/><circle cx="1455" cy="357" r="3.7"/><circle cx="1337" cy="832" r="3.7"/><circle cx="1588" cy="400" r="3.7"/><circle cx="1693" cy="580" r="3.7"/><circle cx="1498" cy="538" r="3.7"/><circle cx="1667" cy="760" r="3.7"/><circle cx="1649" cy="706" r="3.7"/><circle cx="1443" cy="408" r="3.7"/><circle cx="1535" cy="401" r="3.7"/><circle cx="1556" cy="498" r="3.7"/><circle cx="1807" cy="953" r="3.7"/><circle cx="1559" cy="352" r="3.7"/><circle cx="1521" cy="490" r="3.7"/><circle cx="1422" cy="287" r="3.7"/><circle cx="1545" cy="374" r="3.7"/><circle cx="1373" cy="278" r="3.7"/><circle cx="1340" cy="313" r="3.7"/><circle cx="1735" cy="646" r="3.7"/><circle cx="1609" cy="458" r="3.7"/><circle cx="1771" cy="608" r="3.7"/><circle cx="1625" cy="352" r="3.7"/><circle cx="1559" cy="350" r="3.7"/><circle cx="1640" cy="484" r="3.7"/><circle cx="1542" cy="423" r="3.7"/><circle cx="1710" cy="833" r="3.7"/><circle cx="1677" cy="492" r="3.7"/><circle cx="1635" cy="680" r="3.7"/><circle cx="1465" cy="372" r="3.7"/><circle cx="1602" cy="416" r="3.7"/><circle cx="1711" cy="895" r="3.7"/><circle cx="1575" cy="385" r="3.7"/><circle cx="1423" cy="286" r="3.7"/><circle cx="1587" cy="495" r="3.7"/><circle cx="1191" cy="200" r="3.7"/><circle cx="1622" cy="609" r="3.7"/><circle cx="1591" cy="616" r="3.7"/><circle cx="1561" cy="447" r="3.7"/><circle cx="1380" cy="293" r="3.7"/><circle cx="1413" cy="420" r="3.7"/><circle cx="1384" cy="324" r="3.7"/><circle cx="1462" cy="373" r="3.7"/><circle cx="1644" cy="553" r="3.7"/><circle cx="1494" cy="451" r="3.7"/><circle cx="1547" cy="414" r="3.7"/><circle cx="1770" cy="842" r="3.7"/><circle cx="1369" cy="523" r="3.7"/><circle cx="1605" cy="391" r="3.7"/><circle cx="1847" cy="871" r="3.7"/><circle cx="1466" cy="278" r="3.7"/><circle cx="1444" cy="301" r="3.7"/><circle cx="1606" cy="342" r="3.7"/><circle cx="1584" cy="516" r="3.7"/><circle cx="1563" cy="530" r="3.7"/><circle cx="1401" cy="311" r="3.7"/><circle cx="1601" cy="716" r="3.7"/><circle cx="1540" cy="374" r="3.7"/><circle cx="1595" cy="397" r="3.7"/><circle cx="1413" cy="388" r="3.7"/><circle cx="1548" cy="320" r="3.7"/><circle cx="1578" cy="519" r="3.7"/><circle cx="1572" cy="315" r="3.7"/><circle cx="1566" cy="450" r="3.7"/><circle cx="1328" cy="224" r="3.7"/><circle cx="1632" cy="855" r="3.7"/><circle cx="1585" cy="389" r="3.7"/><circle cx="1382" cy="364" r="3.7"/><circle cx="1711" cy="658" r="3.7"/><circle cx="1584" cy="367" r="3.7"/><circle cx="1602" cy="310" r="3.7"/><circle cx="1346" cy="258" r="3.7"/><circle cx="1553" cy="342" r="3.7"/><circle cx="1724" cy="681" r="3.7"/><circle cx="1288" cy="270" r="3.7"/><circle cx="1713" cy="563" r="3.7"/><circle cx="1548" cy="472" r="3.7"/><circle cx="1541" cy="487" r="3.7"/><circle cx="1585" cy="421" r="3.7"/><circle cx="1545" cy="450" r="3.7"/><circle cx="1519" cy="427" r="3.7"/><circle cx="1620" cy="505" r="3.7"/><circle cx="1474" cy="500" r="3.7"/><circle cx="1633" cy="438" r="3.7"/><circle cx="1420" cy="293" r="3.7"/><circle cx="1554" cy="432" r="3.7"/><circle cx="1577" cy="448" r="3.7"/><circle cx="1706" cy="789" r="3.7"/><circle cx="1515" cy="358" r="3.7"/><circle cx="1313" cy="162" r="3.7"/><circle cx="1695" cy="640" r="3.7"/><circle cx="1578" cy="488" r="3.7"/><circle cx="1624" cy="385" r="3.7"/><circle cx="1450" cy="256" r="3.7"/><circle cx="1385" cy="263" r="3.7"/><circle cx="1302" cy="465" r="3.7"/><circle cx="1743" cy="659" r="3.7"/><circle cx="1737" cy="598" r="3.7"/><circle cx="1267" cy="186" r="3.7"/><circle cx="1511" cy="434" r="3.7"/><circle cx="1552" cy="408" r="3.7"/><circle cx="1674" cy="409" r="3.7"/><circle cx="1616" cy="552" r="3.7"/><circle cx="1683" cy="306" r="3.7"/><circle cx="1946" cy="928" r="3.7"/><circle cx="1232" cy="193" r="3.7"/><circle cx="1403" cy="196" r="3.7"/><circle cx="1332" cy="256" r="3.7"/><circle cx="1534" cy="360" r="3.7"/><circle cx="1375" cy="253" r="3.7"/><circle cx="1391" cy="241" r="3.7"/><circle cx="1323" cy="406" r="3.7"/><circle cx="1570" cy="353" r="3.7"/><circle cx="1509" cy="384" r="3.7"/><circle cx="1571" cy="497" r="3.7"/><circle cx="1377" cy="253" r="3.7"/><circle cx="1629" cy="420" r="3.7"/><circle cx="1689" cy="560" r="3.7"/><circle cx="1506" cy="419" r="3.7"/><circle cx="1699" cy="705" r="3.7"/><circle cx="1613" cy="347" r="3.7"/><circle cx="1423" cy="317" r="3.7"/><circle cx="1428" cy="303" r="3.7"/><circle cx="1579" cy="465" r="3.7"/><circle cx="1663" cy="461" r="3.7"/><circle cx="1608" cy="481" r="3.7"/><circle cx="1570" cy="542" r="3.7"/><circle cx="1782" cy="274" r="3.7"/><circle cx="1695" cy="433" r="3.7"/><circle cx="1378" cy="272" r="3.7"/><circle cx="1626" cy="611" r="3.7"/><circle cx="1466" cy="434" r="3.7"/><circle cx="1446" cy="290" r="3.7"/><circle cx="1468" cy="513" r="3.7"/><circle cx="1608" cy="340" r="3.7"/><circle cx="1327" cy="270" r="3.7"/><circle cx="1605" cy="406" r="3.7"/><circle cx="1658" cy="495" r="3.7"/><circle cx="1374" cy="264" r="3.7"/><circle cx="1341" cy="246" r="3.7"/><circle cx="1391" cy="410" r="3.7"/><circle cx="1624" cy="466" r="3.7"/><circle cx="1156" cy="172" r="3.7"/><circle cx="1620" cy="496" r="3.7"/><circle cx="1542" cy="458" r="3.7"/><circle cx="1552" cy="432" r="3.7"/><circle cx="1422" cy="321" r="3.7"/><circle cx="1544" cy="501" r="3.7"/><circle cx="1830" cy="957" r="3.7"/><circle cx="1219" cy="237" r="3.7"/><circle cx="1356" cy="265" r="3.7"/><circle cx="1509" cy="377" r="3.7"/><circle cx="1505" cy="345" r="3.7"/><circle cx="1560" cy="496" r="3.7"/><circle cx="1591" cy="257" r="3.7"/><circle cx="1483" cy="340" r="3.7"/><circle cx="1534" cy="344" r="3.7"/><circle cx="1622" cy="497" r="3.7"/><circle cx="1327" cy="273" r="3.7"/><circle cx="1759" cy="905" r="3.7"/><circle cx="1482" cy="317" r="3.7"/><circle cx="1220" cy="149" r="3.7"/><circle cx="1520" cy="306" r="3.7"/><circle cx="1206" cy="351" r="3.7"/><circle cx="1668" cy="490" r="3.7"/><circle cx="1577" cy="369" r="3.7"/><circle cx="1600" cy="329" r="3.7"/><circle cx="1454" cy="268" r="3.7"/><circle cx="1532" cy="379" r="3.7"/><circle cx="1729" cy="286" r="3.7"/><circle cx="1508" cy="436" r="3.7"/><circle cx="1464" cy="303" r="3.7"/><circle cx="1687" cy="611" r="3.7"/><circle cx="1626" cy="285" r="3.7"/><circle cx="1551" cy="484" r="3.7"/><circle cx="1677" cy="713" r="3.7"/><circle cx="1709" cy="920" r="3.7"/><circle cx="1651" cy="481" r="3.7"/><circle cx="1580" cy="386" r="3.7"/><circle cx="1599" cy="486" r="3.7"/><circle cx="1333" cy="556" r="3.7"/><circle cx="1546" cy="321" r="3.7"/><circle cx="1563" cy="321" r="3.7"/><circle cx="1579" cy="315" r="3.7"/><circle cx="1494" cy="336" r="3.7"/><circle cx="1506" cy="454" r="3.7"/><circle cx="1698" cy="666" r="3.7"/><circle cx="1556" cy="358" r="3.7"/><circle cx="1705" cy="532" r="3.7"/><circle cx="1603" cy="431" r="3.7"/><circle cx="1675" cy="440" r="3.7"/><circle cx="1643" cy="468" r="3.7"/><circle cx="1349" cy="367" r="3.7"/><circle cx="1330" cy="224" r="3.7"/><circle cx="1587" cy="557" r="3.7"/><circle cx="1562" cy="397" r="3.7"/><circle cx="1672" cy="592" r="3.7"/><circle cx="1852" cy="681" r="3.7"/><circle cx="1496" cy="362" r="3.7"/><circle cx="1727" cy="696" r="3.7"/><circle cx="1419" cy="374" r="3.7"/><circle cx="1564" cy="472" r="3.7"/><circle cx="1541" cy="442" r="3.7"/><circle cx="1544" cy="517" r="3.7"/><circle cx="1420" cy="259" r="3.7"/><circle cx="1725" cy="675" r="3.7"/><circle cx="1500" cy="439" r="3.7"/><circle cx="1335" cy="265" r="3.7"/><circle cx="1356" cy="322" r="3.7"/><circle cx="1420" cy="290" r="3.7"/><circle cx="1571" cy="372" r="3.7"/><circle cx="1412" cy="436" r="3.7"/><circle cx="1480" cy="471" r="3.7"/><circle cx="1428" cy="286" r="3.7"/><circle cx="1168" cy="458" r="3.7"/><circle cx="1486" cy="332" r="3.7"/><circle cx="1580" cy="417" r="3.7"/><circle cx="1597" cy="416" r="3.7"/><circle cx="1556" cy="722" r="3.7"/><circle cx="1407" cy="822" r="3.7"/><circle cx="1847" cy="980" r="3.7"/><circle cx="1757" cy="673" r="3.7"/><circle cx="1674" cy="338" r="3.7"/><circle cx="1820" cy="822" r="3.7"/><circle cx="1518" cy="375" r="3.7"/><circle cx="1729" cy="932" r="3.7"/><circle cx="1457" cy="317" r="3.7"/><circle cx="1310" cy="286" r="3.7"/><circle cx="1526" cy="363" r="3.7"/><circle cx="1738" cy="442" r="3.7"/><circle cx="1525" cy="477" r="3.7"/><circle cx="1423" cy="273" r="3.7"/><circle cx="1521" cy="463" r="3.7"/><circle cx="1450" cy="294" r="3.7"/><circle cx="1378" cy="460" r="3.7"/><circle cx="1554" cy="552" r="3.7"/><circle cx="1388" cy="236" r="3.7"/><circle cx="1566" cy="416" r="3.7"/><circle cx="1584" cy="791" r="3.7"/><circle cx="1434" cy="327" r="3.7"/><circle cx="1703" cy="698" r="3.7"/><circle cx="1498" cy="487" r="3.7"/><circle cx="1403" cy="288" r="3.7"/><circle cx="1366" cy="334" r="3.7"/><circle cx="1674" cy="563" r="3.7"/><circle cx="1931" cy="423" r="3.7"/><circle cx="1534" cy="408" r="3.7"/><circle cx="1364" cy="308" r="3.7"/><circle cx="1270" cy="237" r="3.7"/><circle cx="1590" cy="294" r="3.7"/><circle cx="1404" cy="313" r="3.7"/><circle cx="1775" cy="816" r="3.7"/><circle cx="1459" cy="295" r="3.7"/><circle cx="1281" cy="244" r="3.7"/><circle cx="1487" cy="342" r="3.7"/><circle cx="1661" cy="360" r="3.7"/><circle cx="1844" cy="638" r="3.7"/><circle cx="1590" cy="416" r="3.7"/><circle cx="1699" cy="607" r="3.7"/><circle cx="1646" cy="578" r="3.7"/><circle cx="1612" cy="280" r="3.7"/><circle cx="1527" cy="330" r="3.7"/><circle cx="1562" cy="361" r="3.7"/><circle cx="1534" cy="368" r="3.7"/><circle cx="1430" cy="454" r="3.7"/><circle cx="1413" cy="242" r="3.7"/><circle cx="1606" cy="456" r="3.7"/><circle cx="1511" cy="459" r="3.7"/><circle cx="1590" cy="363" r="3.7"/><circle cx="1687" cy="586" r="3.7"/><circle cx="1560" cy="384" r="3.7"/><circle cx="1726" cy="554" r="3.7"/><circle cx="1478" cy="479" r="3.7"/><circle cx="1318" cy="232" r="3.7"/><circle cx="1195" cy="139" r="3.7"/><circle cx="1207" cy="457" r="3.7"/><circle cx="1668" cy="541" r="3.7"/><circle cx="1668" cy="595" r="3.7"/><circle cx="1483" cy="178" r="3.7"/><circle cx="1716" cy="669" r="3.7"/><circle cx="1446" cy="216" r="3.7"/><circle cx="1502" cy="410" r="3.7"/><circle cx="1734" cy="483" r="3.7"/><circle cx="1335" cy="184" r="3.7"/><circle cx="1610" cy="362" r="3.7"/><circle cx="1614" cy="469" r="3.7"/><circle cx="1401" cy="304" r="3.7"/><circle cx="1469" cy="231" r="3.7"/><circle cx="1595" cy="395" r="3.7"/><circle cx="1529" cy="461" r="3.7"/><circle cx="1288" cy="222" r="3.7"/><circle cx="1533" cy="404" r="3.7"/><circle cx="1372" cy="250" r="3.7"/><circle cx="1575" cy="480" r="3.7"/><circle cx="1686" cy="621" r="3.7"/><circle cx="1754" cy="747" r="3.7"/><circle cx="1748" cy="705" r="3.7"/><circle cx="1302" cy="237" r="3.7"/><circle cx="1701" cy="545" r="3.7"/><circle cx="1744" cy="408" r="3.7"/><circle cx="1550" cy="589" r="3.7"/><circle cx="1379" cy="273" r="3.7"/><circle cx="1734" cy="537" r="3.7"/><circle cx="1683" cy="579" r="3.7"/><circle cx="1529" cy="416" r="3.7"/><circle cx="1477" cy="336" r="3.7"/><circle cx="1528" cy="452" r="3.7"/><circle cx="1498" cy="400" r="3.7"/><circle cx="1544" cy="535" r="3.7"/><circle cx="1372" cy="289" r="3.7"/><circle cx="1362" cy="268" r="3.7"/><circle cx="1764" cy="768" r="3.7"/><circle cx="1493" cy="326" r="3.7"/><circle cx="1701" cy="439" r="3.7"/><circle cx="1504" cy="491" r="3.7"/><circle cx="1472" cy="350" r="3.7"/><circle cx="1544" cy="530" r="3.7"/><circle cx="1441" cy="367" r="3.7"/><circle cx="1559" cy="742" r="3.7"/><circle cx="1608" cy="516" r="3.7"/><circle cx="1615" cy="449" r="3.7"/><circle cx="1424" cy="377" r="3.7"/><circle cx="1308" cy="255" r="3.7"/><circle cx="1576" cy="384" r="3.7"/><circle cx="1399" cy="274" r="3.7"/><circle cx="1543" cy="329" r="3.7"/><circle cx="1627" cy="543" r="3.7"/><circle cx="1459" cy="261" r="3.7"/><circle cx="1222" cy="107" r="3.7"/><circle cx="1434" cy="317" r="3.7"/><circle cx="1200" cy="282" r="3.7"/><circle cx="1391" cy="273" r="3.7"/><circle cx="1597" cy="429" r="3.7"/><circle cx="1677" cy="616" r="3.7"/><circle cx="1415" cy="329" r="3.7"/><circle cx="1506" cy="508" r="3.7"/><circle cx="1540" cy="433" r="3.7"/><circle cx="1378" cy="314" r="3.7"/><circle cx="1335" cy="214" r="3.7"/><circle cx="1656" cy="433" r="3.7"/><circle cx="1376" cy="219" r="3.7"/><circle cx="1543" cy="400" r="3.7"/><circle cx="1549" cy="610" r="3.7"/><circle cx="1897" cy="900" r="3.7"/><circle cx="1646" cy="582" r="3.7"/><circle cx="1527" cy="260" r="3.7"/><circle cx="1417" cy="340" r="3.7"/><circle cx="1690" cy="604" r="3.7"/><circle cx="1716" cy="722" r="3.7"/><circle cx="1417" cy="283" r="3.7"/><circle cx="1521" cy="410" r="3.7"/><circle cx="1410" cy="305" r="3.7"/><circle cx="1575" cy="258" r="3.7"/><circle cx="1525" cy="405" r="3.7"/><circle cx="1257" cy="239" r="3.7"/><circle cx="1782" cy="587" r="3.7"/><circle cx="1603" cy="656" r="3.7"/><circle cx="1650" cy="558" r="3.7"/><circle cx="1596" cy="631" r="3.7"/><circle cx="1331" cy="238" r="3.7"/><circle cx="1561" cy="479" r="3.7"/><circle cx="1564" cy="402" r="3.7"/><circle cx="1742" cy="663" r="3.7"/><circle cx="1513" cy="242" r="3.7"/><circle cx="1419" cy="265" r="3.7"/><circle cx="1249" cy="228" r="3.7"/><circle cx="1682" cy="562" r="3.7"/><circle cx="1370" cy="293" r="3.7"/><circle cx="1725" cy="715" r="3.7"/><circle cx="1574" cy="492" r="3.7"/><circle cx="1276" cy="244" r="3.7"/><circle cx="1590" cy="530" r="3.7"/><circle cx="1627" cy="602" r="3.7"/><circle cx="1671" cy="856" r="3.7"/><circle cx="1668" cy="639" r="3.7"/><circle cx="1308" cy="283" r="3.7"/><circle cx="1672" cy="685" r="3.7"/><circle cx="1580" cy="169" r="3.7"/><circle cx="1610" cy="714" r="3.7"/><circle cx="1527" cy="310" r="3.7"/><circle cx="1606" cy="371" r="3.7"/><circle cx="1586" cy="390" r="3.7"/><circle cx="1398" cy="240" r="3.7"/><circle cx="1552" cy="446" r="3.7"/><circle cx="1512" cy="162" r="3.7"/><circle cx="1335" cy="207" r="3.7"/><circle cx="1634" cy="918" r="3.7"/><circle cx="1633" cy="428" r="3.7"/><circle cx="1545" cy="251" r="3.7"/><circle cx="1367" cy="496" r="3.7"/><circle cx="1741" cy="803" r="3.7"/><circle cx="1512" cy="302" r="3.7"/><circle cx="1500" cy="506" r="3.7"/><circle cx="1818" cy="740" r="3.7"/><circle cx="1473" cy="320" r="3.7"/><circle cx="1527" cy="350" r="3.7"/><circle cx="1661" cy="879" r="3.7"/><circle cx="1492" cy="454" r="3.7"/><circle cx="1711" cy="683" r="3.7"/><circle cx="1604" cy="569" r="3.7"/><circle cx="1722" cy="654" r="3.7"/><circle cx="1463" cy="459" r="3.7"/><circle cx="1533" cy="350" r="3.7"/><circle cx="1689" cy="616" r="3.7"/><circle cx="1416" cy="358" r="3.7"/><circle cx="1615" cy="526" r="3.7"/><circle cx="1372" cy="311" r="3.7"/><circle cx="1376" cy="254" r="3.7"/><circle cx="1578" cy="406" r="3.7"/><circle cx="1442" cy="397" r="3.7"/><circle cx="1523" cy="452" r="3.7"/><circle cx="1570" cy="537" r="3.7"/><circle cx="1499" cy="556" r="3.7"/><circle cx="1247" cy="210" r="3.7"/><circle cx="1740" cy="722" r="3.7"/><circle cx="1677" cy="591" r="3.7"/><circle cx="1557" cy="414" r="3.7"/><circle cx="1489" cy="284" r="3.7"/><circle cx="1679" cy="899" r="3.7"/><circle cx="1466" cy="437" r="3.7"/><circle cx="1517" cy="314" r="3.7"/><circle cx="1575" cy="523" r="3.7"/><circle cx="1558" cy="392" r="3.7"/><circle cx="1421" cy="371" r="3.7"/><circle cx="1431" cy="453" r="3.7"/><circle cx="1243" cy="412" r="3.7"/><circle cx="1618" cy="750" r="3.7"/><circle cx="1550" cy="276" r="3.7"/><circle cx="1317" cy="205" r="3.7"/><circle cx="1590" cy="460" r="3.7"/><circle cx="1569" cy="438" r="3.7"/><circle cx="1384" cy="317" r="3.7"/><circle cx="1286" cy="208" r="3.7"/><circle cx="1538" cy="462" r="3.7"/><circle cx="1677" cy="728" r="3.7"/><circle cx="1303" cy="269" r="3.7"/><circle cx="1510" cy="401" r="3.7"/><circle cx="1794" cy="705" r="3.7"/><circle cx="1648" cy="481" r="3.7"/><circle cx="1737" cy="637" r="3.7"/><circle cx="1736" cy="664" r="3.7"/><circle cx="1706" cy="594" r="3.7"/><circle cx="1526" cy="441" r="3.7"/><circle cx="1768" cy="866" r="3.7"/><circle cx="1581" cy="523" r="3.7"/><circle cx="1463" cy="387" r="3.7"/><circle cx="1611" cy="436" r="3.7"/><circle cx="1565" cy="375" r="3.7"/><circle cx="1240" cy="140" r="3.7"/><circle cx="1658" cy="430" r="3.7"/><circle cx="1552" cy="712" r="3.7"/><circle cx="1493" cy="509" r="3.7"/><circle cx="1768" cy="867" r="3.7"/><circle cx="1593" cy="403" r="3.7"/><circle cx="1563" cy="436" r="3.7"/><circle cx="1397" cy="318" r="3.7"/><circle cx="1519" cy="374" r="3.7"/><circle cx="1522" cy="345" r="3.7"/><circle cx="1560" cy="526" r="3.7"/><circle cx="1371" cy="408" r="3.7"/><circle cx="1681" cy="609" r="3.7"/><circle cx="1684" cy="676" r="3.7"/><circle cx="1315" cy="615" r="3.7"/><circle cx="1746" cy="908" r="3.7"/><circle cx="1523" cy="345" r="3.7"/><circle cx="1394" cy="267" r="3.7"/><circle cx="1472" cy="325" r="3.7"/><circle cx="1363" cy="297" r="3.7"/><circle cx="1518" cy="461" r="3.7"/><circle cx="1324" cy="221" r="3.7"/><circle cx="1425" cy="386" r="3.7"/><circle cx="1568" cy="522" r="3.7"/><circle cx="1154" cy="154" r="3.7"/><circle cx="1660" cy="546" r="3.7"/><circle cx="1414" cy="263" r="3.7"/><circle cx="1611" cy="382" r="3.7"/><circle cx="1713" cy="620" r="3.7"/><circle cx="1572" cy="403" r="3.7"/><circle cx="1482" cy="316" r="3.7"/><circle cx="1405" cy="360" r="3.7"/><circle cx="1416" cy="252" r="3.7"/><circle cx="1364" cy="198" r="3.7"/><circle cx="1239" cy="281" r="3.7"/><circle cx="1594" cy="356" r="3.7"/><circle cx="1538" cy="401" r="3.7"/><circle cx="1302" cy="232" r="3.7"/><circle cx="1547" cy="259" r="3.7"/><circle cx="1719" cy="669" r="3.7"/><circle cx="1593" cy="402" r="3.7"/><circle cx="1360" cy="284" r="3.7"/><circle cx="1387" cy="392" r="3.7"/><circle cx="1884" cy="607" r="3.7"/><circle cx="1538" cy="171" r="3.7"/><circle cx="1506" cy="297" r="3.7"/><circle cx="1322" cy="222" r="3.7"/><circle cx="1470" cy="339" r="3.7"/><circle cx="1579" cy="540" r="3.7"/><circle cx="1411" cy="262" r="3.7"/><circle cx="1429" cy="318" r="3.7"/><circle cx="1510" cy="332" r="3.7"/><circle cx="1339" cy="321" r="3.7"/><circle cx="1325" cy="882" r="3.7"/><circle cx="1324" cy="264" r="3.7"/><circle cx="1555" cy="348" r="3.7"/><circle cx="1735" cy="513" r="3.7"/><circle cx="1545" cy="449" r="3.7"/><circle cx="1419" cy="202" r="3.7"/><circle cx="1486" cy="304" r="3.7"/><circle cx="1356" cy="290" r="3.7"/><circle cx="1868" cy="820" r="3.7"/><circle cx="1476" cy="643" r="3.7"/><circle cx="1665" cy="868" r="3.7"/><circle cx="1628" cy="303" r="3.7"/><circle cx="1568" cy="577" r="3.7"/><circle cx="1438" cy="258" r="3.7"/><circle cx="1595" cy="248" r="3.7"/><circle cx="1753" cy="781" r="3.7"/><circle cx="1461" cy="413" r="3.7"/><circle cx="1585" cy="664" r="3.7"/><circle cx="1538" cy="458" r="3.7"/><circle cx="1427" cy="575" r="3.7"/><circle cx="1290" cy="184" r="3.7"/><circle cx="1335" cy="261" r="3.7"/><circle cx="1434" cy="278" r="3.7"/><circle cx="1564" cy="306" r="3.7"/><circle cx="1259" cy="142" r="3.7"/><circle cx="1206" cy="138" r="3.7"/><circle cx="1515" cy="201" r="3.7"/><circle cx="1548" cy="620" r="3.7"/><circle cx="1543" cy="423" r="3.7"/><circle cx="1584" cy="411" r="3.7"/><circle cx="1551" cy="521" r="3.7"/><circle cx="1831" cy="382" r="3.7"/><circle cx="1665" cy="437" r="3.7"/><circle cx="1701" cy="668" r="3.7"/><circle cx="1377" cy="281" r="3.7"/><circle cx="1344" cy="262" r="3.7"/><circle cx="1821" cy="925" r="3.7"/><circle cx="1569" cy="364" r="3.7"/><circle cx="1631" cy="425" r="3.7"/><circle cx="1652" cy="548" r="3.7"/><circle cx="1619" cy="743" r="3.7"/><circle cx="1560" cy="466" r="3.7"/><circle cx="1655" cy="650" r="3.7"/><circle cx="1574" cy="482" r="3.7"/><circle cx="1718" cy="741" r="3.7"/><circle cx="1647" cy="498" r="3.7"/><circle cx="1601" cy="523" r="3.7"/><circle cx="1571" cy="321" r="3.7"/><circle cx="1573" cy="386" r="3.7"/><circle cx="1382" cy="243" r="3.7"/><circle cx="1393" cy="425" r="3.7"/><circle cx="1675" cy="453" r="3.7"/><circle cx="1481" cy="378" r="3.7"/><circle cx="1542" cy="450" r="3.7"/><circle cx="1719" cy="593" r="3.7"/><circle cx="1647" cy="438" r="3.7"/><circle cx="1827" cy="916" r="3.7"/><circle cx="1531" cy="397" r="3.7"/><circle cx="1594" cy="381" r="3.7"/><circle cx="1563" cy="318" r="3.7"/><circle cx="1586" cy="424" r="3.7"/><circle cx="1720" cy="711" r="3.7"/><circle cx="1307" cy="337" r="3.7"/><circle cx="1619" cy="393" r="3.7"/><circle cx="1557" cy="417" r="3.7"/><circle cx="1784" cy="645" r="3.7"/><circle cx="1554" cy="425" r="3.7"/><circle cx="1461" cy="464" r="3.7"/><circle cx="1645" cy="592" r="3.7"/><circle cx="1413" cy="375" r="3.7"/><circle cx="1616" cy="449" r="3.7"/><circle cx="1362" cy="342" r="3.7"/><circle cx="1645" cy="862" r="3.7"/><circle cx="1577" cy="538" r="3.7"/><circle cx="1696" cy="416" r="3.7"/><circle cx="1630" cy="431" r="3.7"/><circle cx="1523" cy="481" r="3.7"/><circle cx="1465" cy="528" r="3.7"/><circle cx="1491" cy="329" r="3.7"/><circle cx="1542" cy="410" r="3.7"/><circle cx="1651" cy="353" r="3.7"/><circle cx="1481" cy="373" r="3.7"/><circle cx="1433" cy="290" r="3.7"/><circle cx="1554" cy="484" r="3.7"/><circle cx="1577" cy="631" r="3.7"/><circle cx="1456" cy="243" r="3.7"/><circle cx="1637" cy="434" r="3.7"/><circle cx="1301" cy="265" r="3.7"/><circle cx="1599" cy="424" r="3.7"/><circle cx="1577" cy="390" r="3.7"/><circle cx="1455" cy="397" r="3.7"/><circle cx="1411" cy="245" r="3.7"/><circle cx="1627" cy="436" r="3.7"/><circle cx="1617" cy="426" r="3.7"/><circle cx="1577" cy="463" r="3.7"/><circle cx="1699" cy="644" r="3.7"/><circle cx="1318" cy="218" r="3.7"/><circle cx="1715" cy="490" r="3.7"/><circle cx="1318" cy="205" r="3.7"/><circle cx="1449" cy="300" r="3.7"/><circle cx="1803" cy="650" r="3.7"/><circle cx="1640" cy="420" r="3.7"/><circle cx="1375" cy="223" r="3.7"/><circle cx="1716" cy="550" r="3.7"/><circle cx="1729" cy="802" r="3.7"/><circle cx="1462" cy="334" r="3.7"/><circle cx="1416" cy="337" r="3.7"/><circle cx="1625" cy="407" r="3.7"/><circle cx="1582" cy="355" r="3.7"/><circle cx="1561" cy="315" r="3.7"/><circle cx="1671" cy="638" r="3.7"/><circle cx="1337" cy="237" r="3.7"/><circle cx="1559" cy="293" r="3.7"/><circle cx="1534" cy="478" r="3.7"/><circle cx="1411" cy="468" r="3.7"/><circle cx="1675" cy="466" r="3.7"/><circle cx="1607" cy="406" r="3.7"/><circle cx="1513" cy="452" r="3.7"/><circle cx="1321" cy="265" r="3.7"/><circle cx="1811" cy="853" r="3.7"/><circle cx="1812" cy="874" r="3.7"/><circle cx="1681" cy="704" r="3.7"/><circle cx="1534" cy="690" r="3.7"/><circle cx="1601" cy="397" r="3.7"/><circle cx="1543" cy="406" r="3.7"/><circle cx="1477" cy="310" r="3.7"/><circle cx="1453" cy="412" r="3.7"/><circle cx="1480" cy="449" r="3.7"/><circle cx="1506" cy="514" r="3.7"/><circle cx="1473" cy="276" r="3.7"/><circle cx="1596" cy="313" r="3.7"/><circle cx="1342" cy="287" r="3.7"/><circle cx="1648" cy="521" r="3.7"/><circle cx="1652" cy="576" r="3.7"/><circle cx="1384" cy="327" r="3.7"/><circle cx="1987" cy="846" r="3.7"/><circle cx="1383" cy="345" r="3.7"/><circle cx="1579" cy="783" r="3.7"/><circle cx="1470" cy="316" r="3.7"/><circle cx="1505" cy="332" r="3.7"/><circle cx="1485" cy="562" r="3.7"/><circle cx="1768" cy="821" r="3.7"/><circle cx="1767" cy="775" r="3.7"/><circle cx="1559" cy="736" r="3.7"/><circle cx="1519" cy="229" r="3.7"/><circle cx="1427" cy="323" r="3.7"/><circle cx="1748" cy="715" r="3.7"/><circle cx="1497" cy="410" r="3.7"/><circle cx="1530" cy="312" r="3.7"/><circle cx="1458" cy="357" r="3.7"/><circle cx="1523" cy="312" r="3.7"/><circle cx="1500" cy="221" r="3.7"/><circle cx="1271" cy="236" r="3.7"/><circle cx="1792" cy="968" r="3.7"/><circle cx="1413" cy="471" r="3.7"/><circle cx="1584" cy="588" r="3.7"/><circle cx="1552" cy="263" r="3.7"/><circle cx="1346" cy="179" r="3.7"/><circle cx="1578" cy="404" r="3.7"/><circle cx="1510" cy="445" r="3.7"/><circle cx="1630" cy="516" r="3.7"/><circle cx="1715" cy="722" r="3.7"/><circle cx="1281" cy="176" r="3.7"/><circle cx="1552" cy="408" r="3.7"/><circle cx="1592" cy="451" r="3.7"/><circle cx="1349" cy="263" r="3.7"/><circle cx="1685" cy="407" r="3.7"/><circle cx="1660" cy="294" r="3.7"/><circle cx="1427" cy="342" r="3.7"/><circle cx="1574" cy="354" r="3.7"/><circle cx="1669" cy="400" r="3.7"/><circle cx="1676" cy="690" r="3.7"/><circle cx="1355" cy="234" r="3.7"/><circle cx="1489" cy="437" r="3.7"/><circle cx="1650" cy="584" r="3.7"/><circle cx="1395" cy="240" r="3.7"/><circle cx="1298" cy="198" r="3.7"/><circle cx="1597" cy="870" r="3.7"/><circle cx="1733" cy="759" r="3.7"/><circle cx="1655" cy="646" r="3.7"/><circle cx="1393" cy="287" r="3.7"/><circle cx="1422" cy="495" r="3.7"/><circle cx="1709" cy="792" r="3.7"/><circle cx="1604" cy="253" r="3.7"/><circle cx="1736" cy="617" r="3.7"/><circle cx="1492" cy="552" r="3.7"/><circle cx="1717" cy="711" r="3.7"/><circle cx="1521" cy="519" r="3.7"/><circle cx="1504" cy="442" r="3.7"/><circle cx="1224" cy="163" r="3.7"/><circle cx="1313" cy="227" r="3.7"/><circle cx="1476" cy="323" r="3.7"/><circle cx="1624" cy="689" r="3.7"/><circle cx="1553" cy="299" r="3.7"/><circle cx="1523" cy="454" r="3.7"/><circle cx="1480" cy="364" r="3.7"/><circle cx="1316" cy="271" r="3.7"/><circle cx="1432" cy="300" r="3.7"/><circle cx="1388" cy="449" r="3.7"/><circle cx="1357" cy="362" r="3.7"/><circle cx="1382" cy="256" r="3.7"/><circle cx="1435" cy="285" r="3.7"/><circle cx="1562" cy="530" r="3.7"/><circle cx="1629" cy="400" r="3.7"/><circle cx="1480" cy="267" r="3.7"/><circle cx="1703" cy="685" r="3.7"/><circle cx="1544" cy="661" r="3.7"/><circle cx="1575" cy="429" r="3.7"/><circle cx="1343" cy="271" r="3.7"/><circle cx="1496" cy="489" r="3.7"/><circle cx="1353" cy="178" r="3.7"/><circle cx="1502" cy="252" r="3.7"/><circle cx="1946" cy="840" r="3.7"/><circle cx="1474" cy="253" r="3.7"/><circle cx="1699" cy="641" r="3.7"/><circle cx="1519" cy="524" r="3.7"/><circle cx="1544" cy="409" r="3.7"/><circle cx="1557" cy="439" r="3.7"/><circle cx="1472" cy="185" r="3.7"/><circle cx="1753" cy="855" r="3.7"/><circle cx="1617" cy="478" r="3.7"/><circle cx="1687" cy="664" r="3.7"/><circle cx="1373" cy="754" r="3.7"/><circle cx="1605" cy="415" r="3.7"/><circle cx="1700" cy="710" r="3.7"/><circle cx="1765" cy="790" r="3.7"/><circle cx="1549" cy="452" r="3.7"/><circle cx="1758" cy="580" r="3.7"/><circle cx="1598" cy="425" r="3.7"/><circle cx="1496" cy="521" r="3.7"/><circle cx="1274" cy="268" r="3.7"/><circle cx="1490" cy="339" r="3.7"/><circle cx="1429" cy="340" r="3.7"/><circle cx="1522" cy="575" r="3.7"/><circle cx="1201" cy="224" r="3.7"/><circle cx="1594" cy="405" r="3.7"/><circle cx="1424" cy="203" r="3.7"/><circle cx="1614" cy="498" r="3.7"/><circle cx="1630" cy="286" r="3.7"/><circle cx="1598" cy="480" r="3.7"/><circle cx="1632" cy="496" r="3.7"/><circle cx="1622" cy="526" r="3.7"/><circle cx="1472" cy="454" r="3.7"/><circle cx="1412" cy="413" r="3.7"/><circle cx="1483" cy="611" r="3.7"/><circle cx="1475" cy="367" r="3.7"/><circle cx="1614" cy="507" r="3.7"/><circle cx="1683" cy="548" r="3.7"/><circle cx="1498" cy="438" r="3.7"/><circle cx="1443" cy="226" r="3.7"/><circle cx="1451" cy="507" r="3.7"/><circle cx="1338" cy="271" r="3.7"/><circle cx="1677" cy="605" r="3.7"/><circle cx="1537" cy="481" r="3.7"/><circle cx="1698" cy="632" r="3.7"/><circle cx="1740" cy="967" r="3.7"/><circle cx="1701" cy="872" r="3.7"/><circle cx="1333" cy="499" r="3.7"/><circle cx="1622" cy="366" r="3.7"/><circle cx="1607" cy="350" r="3.7"/><circle cx="1429" cy="238" r="3.7"/><circle cx="1542" cy="325" r="3.7"/><circle cx="1502" cy="297" r="3.7"/><circle cx="1400" cy="250" r="3.7"/><circle cx="1544" cy="379" r="3.7"/><circle cx="1576" cy="540" r="3.7"/><circle cx="1733" cy="631" r="3.7"/><circle cx="1546" cy="358" r="3.7"/><circle cx="1737" cy="576" r="3.7"/><circle cx="1448" cy="292" r="3.7"/><circle cx="1393" cy="326" r="3.7"/><circle cx="1759" cy="656" r="3.7"/><circle cx="1653" cy="454" r="3.7"/><circle cx="1269" cy="171" r="3.7"/><circle cx="1692" cy="627" r="3.7"/><circle cx="1536" cy="384" r="3.7"/><circle cx="1566" cy="575" r="3.7"/><circle cx="1601" cy="492" r="3.7"/><circle cx="1477" cy="247" r="3.7"/><circle cx="1540" cy="307" r="3.7"/><circle cx="1562" cy="461" r="3.7"/><circle cx="1558" cy="285" r="3.7"/><circle cx="1725" cy="698" r="3.7"/><circle cx="1635" cy="561" r="3.7"/><circle cx="1564" cy="449" r="3.7"/><circle cx="1696" cy="623" r="3.7"/><circle cx="1777" cy="511" r="3.7"/><circle cx="1507" cy="394" r="3.7"/><circle cx="1711" cy="901" r="3.7"/><circle cx="1929" cy="924" r="3.7"/><circle cx="1633" cy="485" r="3.7"/><circle cx="1511" cy="276" r="3.7"/><circle cx="1576" cy="449" r="3.7"/><circle cx="1613" cy="535" r="3.7"/><circle cx="1509" cy="405" r="3.7"/><circle cx="1750" cy="694" r="3.7"/><circle cx="1502" cy="262" r="3.7"/><circle cx="1459" cy="422" r="3.7"/><circle cx="1373" cy="269" r="3.7"/><circle cx="1459" cy="322" r="3.7"/><circle cx="1901" cy="250" r="3.7"/><circle cx="1775" cy="581" r="3.7"/><circle cx="1673" cy="637" r="3.7"/><circle cx="1410" cy="740" r="3.7"/><circle cx="1618" cy="623" r="3.7"/><circle cx="1367" cy="247" r="3.7"/><circle cx="1561" cy="308" r="3.7"/><circle cx="1774" cy="898" r="3.7"/><circle cx="1535" cy="348" r="3.7"/><circle cx="1202" cy="184" r="3.7"/><circle cx="1621" cy="423" r="3.7"/><circle cx="1761" cy="631" r="3.7"/><circle cx="1637" cy="655" r="3.7"/><circle cx="1533" cy="398" r="3.7"/><circle cx="1675" cy="825" r="3.7"/><circle cx="1534" cy="427" r="3.7"/><circle cx="1399" cy="256" r="3.7"/><circle cx="1618" cy="597" r="3.7"/><circle cx="1494" cy="337" r="3.7"/><circle cx="1504" cy="524" r="3.7"/><circle cx="1684" cy="699" r="3.7"/><circle cx="1583" cy="327" r="3.7"/><circle cx="1584" cy="423" r="3.7"/><circle cx="1517" cy="325" r="3.7"/><circle cx="1655" cy="471" r="3.7"/><circle cx="1586" cy="366" r="3.7"/><circle cx="1215" cy="148" r="3.7"/><circle cx="1565" cy="513" r="3.7"/><circle cx="1699" cy="705" r="3.7"/><circle cx="1186" cy="426" r="3.7"/><circle cx="1344" cy="268" r="3.7"/><circle cx="1530" cy="424" r="3.7"/><circle cx="1721" cy="626" r="3.7"/><circle cx="1300" cy="261" r="3.7"/><circle cx="1465" cy="372" r="3.7"/><circle cx="1219" cy="208" r="3.7"/><circle cx="1715" cy="614" r="3.7"/><circle cx="1562" cy="517" r="3.7"/><circle cx="1438" cy="310" r="3.7"/><circle cx="1356" cy="303" r="3.7"/><circle cx="1745" cy="672" r="3.7"/><circle cx="1581" cy="574" r="3.7"/><circle cx="1613" cy="423" r="3.7"/><circle cx="1476" cy="368" r="3.7"/><circle cx="1497" cy="354" r="3.7"/><circle cx="1554" cy="411" r="3.7"/><circle cx="1573" cy="392" r="3.7"/><circle cx="1676" cy="874" r="3.7"/><circle cx="1247" cy="128" r="3.7"/><circle cx="1522" cy="461" r="3.7"/><circle cx="1596" cy="419" r="3.7"/><circle cx="1510" cy="500" r="3.7"/><circle cx="1722" cy="636" r="3.7"/><circle cx="1522" cy="344" r="3.7"/><circle cx="1674" cy="872" r="3.7"/><circle cx="1582" cy="379" r="3.7"/><circle cx="1468" cy="255" r="3.7"/><circle cx="1734" cy="819" r="3.7"/><circle cx="1362" cy="238" r="3.7"/><circle cx="1638" cy="566" r="3.7"/><circle cx="1748" cy="739" r="3.7"/><circle cx="1552" cy="518" r="3.7"/><circle cx="1709" cy="709" r="3.7"/><circle cx="1592" cy="408" r="3.7"/><circle cx="1373" cy="312" r="3.7"/><circle cx="1338" cy="250" r="3.7"/><circle cx="1594" cy="355" r="3.7"/><circle cx="1473" cy="339" r="3.7"/><circle cx="1476" cy="446" r="3.7"/><circle cx="1423" cy="288" r="3.7"/><circle cx="1338" cy="261" r="3.7"/><circle cx="1211" cy="182" r="3.7"/><circle cx="1293" cy="238" r="3.7"/><circle cx="1703" cy="643" r="3.7"/><circle cx="1281" cy="234" r="3.7"/><circle cx="1769" cy="727" r="3.7"/><circle cx="1580" cy="538" r="3.7"/><circle cx="1698" cy="736" r="3.7"/><circle cx="1328" cy="370" r="3.7"/><circle cx="1416" cy="251" r="3.7"/><circle cx="1641" cy="484" r="3.7"/><circle cx="1684" cy="665" r="3.7"/><circle cx="1281" cy="433" r="3.7"/><circle cx="1348" cy="296" r="3.7"/><circle cx="1521" cy="503" r="3.7"/><circle cx="1241" cy="183" r="3.7"/><circle cx="1545" cy="411" r="3.7"/><circle cx="1639" cy="481" r="3.7"/><circle cx="1740" cy="642" r="3.7"/><circle cx="1376" cy="268" r="3.7"/><circle cx="1302" cy="297" r="3.7"/><circle cx="1391" cy="294" r="3.7"/><circle cx="1505" cy="255" r="3.7"/><circle cx="1693" cy="641" r="3.7"/><circle cx="1592" cy="433" r="3.7"/><circle cx="1380" cy="397" r="3.7"/><circle cx="1608" cy="355" r="3.7"/><circle cx="1526" cy="359" r="3.7"/><circle cx="1407" cy="273" r="3.7"/><circle cx="1473" cy="176" r="3.7"/><circle cx="1727" cy="673" r="3.7"/><circle cx="1524" cy="354" r="3.7"/><circle cx="1579" cy="346" r="3.7"/><circle cx="1804" cy="684" r="3.7"/><circle cx="1587" cy="510" r="3.7"/><circle cx="1617" cy="581" r="3.7"/><circle cx="1166" cy="146" r="3.7"/><circle cx="1233" cy="251" r="3.7"/><circle cx="1569" cy="459" r="3.7"/><circle cx="1588" cy="498" r="3.7"/><circle cx="1569" cy="376" r="3.7"/><circle cx="1271" cy="131" r="3.7"/><circle cx="1569" cy="395" r="3.7"/><circle cx="1388" cy="281" r="3.7"/><circle cx="1217" cy="149" r="3.7"/><circle cx="1961" cy="830" r="3.7"/><circle cx="1623" cy="360" r="3.7"/><circle cx="1701" cy="720" r="3.7"/><circle cx="1431" cy="312" r="3.7"/><circle cx="1496" cy="284" r="3.7"/><circle cx="1707" cy="381" r="3.7"/><circle cx="1756" cy="752" r="3.7"/><circle cx="1422" cy="248" r="3.7"/><circle cx="1500" cy="425" r="3.7"/><circle cx="1810" cy="486" r="3.7"/><circle cx="1310" cy="257" r="3.7"/><circle cx="1672" cy="632" r="3.7"/><circle cx="1314" cy="216" r="3.7"/><circle cx="1552" cy="307" r="3.7"/><circle cx="1740" cy="731" r="3.7"/><circle cx="1506" cy="362" r="3.7"/><circle cx="1470" cy="308" r="3.7"/><circle cx="1441" cy="361" r="3.7"/><circle cx="1472" cy="278" r="3.7"/><circle cx="1621" cy="408" r="3.7"/><circle cx="1676" cy="603" r="3.7"/><circle cx="1591" cy="375" r="3.7"/><circle cx="1372" cy="495" r="3.7"/><circle cx="1832" cy="652" r="3.7"/><circle cx="1542" cy="489" r="3.7"/><circle cx="1818" cy="859" r="3.7"/><circle cx="1667" cy="643" r="3.7"/><circle cx="1544" cy="420" r="3.7"/><circle cx="1626" cy="499" r="3.7"/><circle cx="1580" cy="395" r="3.7"/><circle cx="1354" cy="401" r="3.7"/><circle cx="1421" cy="299" r="3.7"/><circle cx="1568" cy="520" r="3.7"/><circle cx="1426" cy="217" r="3.7"/><circle cx="1542" cy="444" r="3.7"/><circle cx="1269" cy="225" r="3.7"/><circle cx="1595" cy="496" r="3.7"/><circle cx="1815" cy="900" r="3.7"/><circle cx="1263" cy="239" r="3.7"/><circle cx="1465" cy="316" r="3.7"/><circle cx="1597" cy="440" r="3.7"/><circle cx="1655" cy="581" r="3.7"/><circle cx="1635" cy="543" r="3.7"/><circle cx="1767" cy="765" r="3.7"/><circle cx="1732" cy="633" r="3.7"/><circle cx="1458" cy="358" r="3.7"/><circle cx="1339" cy="375" r="3.7"/><circle cx="1580" cy="426" r="3.7"/><circle cx="1449" cy="264" r="3.7"/><circle cx="1558" cy="370" r="3.7"/><circle cx="1406" cy="298" r="3.7"/><circle cx="1570" cy="453" r="3.7"/><circle cx="1449" cy="505" r="3.7"/><circle cx="1535" cy="499" r="3.7"/><circle cx="1350" cy="311" r="3.7"/><circle cx="1683" cy="667" r="3.7"/><circle cx="1511" cy="427" r="3.7"/><circle cx="1565" cy="476" r="3.7"/><circle cx="1360" cy="232" r="3.7"/><circle cx="1603" cy="436" r="3.7"/><circle cx="1766" cy="783" r="3.7"/><circle cx="1525" cy="409" r="3.7"/><circle cx="1703" cy="333" r="3.7"/><circle cx="1417" cy="703" r="3.7"/><circle cx="1581" cy="428" r="3.7"/><circle cx="1611" cy="438" r="3.7"/><circle cx="1555" cy="566" r="3.7"/><circle cx="1594" cy="359" r="3.7"/><circle cx="1669" cy="416" r="3.7"/><circle cx="1809" cy="879" r="3.7"/><circle cx="1349" cy="181" r="3.7"/><circle cx="1620" cy="336" r="3.7"/><circle cx="1535" cy="608" r="3.7"/><circle cx="1444" cy="374" r="3.7"/><circle cx="1598" cy="738" r="3.7"/><circle cx="1363" cy="238" r="3.7"/><circle cx="1895" cy="788" r="3.7"/><circle cx="1449" cy="325" r="3.7"/><circle cx="1570" cy="381" r="3.7"/><circle cx="1615" cy="411" r="3.7"/><circle cx="1462" cy="385" r="3.7"/><circle cx="1714" cy="647" r="3.7"/><circle cx="1689" cy="579" r="3.7"/><circle cx="1497" cy="544" r="3.7"/><circle cx="1507" cy="337" r="3.7"/><circle cx="1679" cy="666" r="3.7"/><circle cx="1498" cy="380" r="3.7"/><circle cx="1277" cy="139" r="3.7"/><circle cx="1488" cy="612" r="3.7"/><circle cx="1306" cy="162" r="3.7"/><circle cx="1833" cy="944" r="3.7"/><circle cx="1754" cy="762" r="3.7"/><circle cx="1660" cy="306" r="3.7"/><circle cx="1553" cy="500" r="3.7"/><circle cx="1583" cy="410" r="3.7"/><circle cx="1767" cy="878" r="3.7"/><circle cx="1521" cy="456" r="3.7"/><circle cx="1577" cy="321" r="3.7"/><circle cx="1680" cy="673" r="3.7"/><circle cx="1187" cy="157" r="3.7"/><circle cx="1357" cy="664" r="3.7"/><circle cx="1438" cy="297" r="3.7"/><circle cx="1661" cy="647" r="3.7"/><circle cx="1550" cy="407" r="3.7"/><circle cx="1574" cy="320" r="3.7"/><circle cx="1424" cy="281" r="3.7"/><circle cx="1507" cy="483" r="3.7"/><circle cx="1652" cy="756" r="3.7"/><circle cx="1551" cy="476" r="3.7"/><circle cx="1721" cy="497" r="3.7"/><circle cx="1303" cy="387" r="3.7"/><circle cx="1789" cy="812" r="3.7"/><circle cx="1552" cy="338" r="3.7"/><circle cx="1334" cy="228" r="3.7"/><circle cx="1531" cy="433" r="3.7"/><circle cx="1580" cy="444" r="3.7"/><circle cx="1560" cy="456" r="3.7"/><circle cx="1552" cy="394" r="3.7"/><circle cx="1490" cy="299" r="3.7"/><circle cx="1455" cy="302" r="3.7"/><circle cx="1479" cy="541" r="3.7"/><circle cx="1402" cy="247" r="3.7"/><circle cx="1334" cy="279" r="3.7"/><circle cx="1762" cy="622" r="3.7"/><circle cx="1630" cy="457" r="3.7"/><circle cx="1542" cy="419" r="3.7"/><circle cx="1584" cy="520" r="3.7"/><circle cx="1484" cy="450" r="3.7"/><circle cx="1577" cy="541" r="3.7"/><circle cx="1480" cy="297" r="3.7"/><circle cx="1610" cy="437" r="3.7"/><circle cx="1563" cy="363" r="3.7"/><circle cx="1688" cy="656" r="3.7"/><circle cx="1722" cy="642" r="3.7"/><circle cx="1771" cy="514" r="3.7"/><circle cx="1424" cy="312" r="3.7"/><circle cx="1691" cy="800" r="3.7"/><circle cx="1495" cy="331" r="3.7"/><circle cx="1441" cy="528" r="3.7"/><circle cx="1505" cy="438" r="3.7"/><circle cx="1433" cy="260" r="3.7"/><circle cx="1571" cy="423" r="3.7"/><circle cx="1449" cy="429" r="3.7"/><circle cx="1614" cy="373" r="3.7"/><circle cx="1699" cy="670" r="3.7"/><circle cx="1625" cy="531" r="3.7"/><circle cx="1426" cy="427" r="3.7"/><circle cx="1438" cy="263" r="3.7"/><circle cx="1529" cy="395" r="3.7"/><circle cx="1569" cy="392" r="3.7"/><circle cx="1244" cy="195" r="3.7"/><circle cx="1708" cy="675" r="3.7"/><circle cx="1397" cy="282" r="3.7"/><circle cx="1577" cy="509" r="3.7"/><circle cx="1498" cy="430" r="3.7"/><circle cx="1540" cy="339" r="3.7"/><circle cx="1604" cy="390" r="3.7"/><circle cx="1549" cy="539" r="3.7"/><circle cx="1572" cy="493" r="3.7"/><circle cx="1464" cy="284" r="3.7"/><circle cx="1556" cy="327" r="3.7"/><circle cx="1356" cy="296" r="3.7"/><circle cx="1660" cy="377" r="3.7"/><circle cx="1395" cy="311" r="3.7"/><circle cx="1370" cy="347" r="3.7"/><circle cx="1731" cy="672" r="3.7"/><circle cx="1446" cy="315" r="3.7"/><circle cx="1219" cy="217" r="3.7"/><circle cx="1570" cy="439" r="3.7"/><circle cx="1217" cy="200" r="3.7"/><circle cx="1353" cy="306" r="3.7"/><circle cx="1504" cy="302" r="3.7"/><circle cx="1830" cy="696" r="3.7"/><circle cx="1544" cy="594" r="3.7"/><circle cx="1564" cy="351" r="3.7"/><circle cx="1707" cy="785" r="3.7"/><circle cx="1290" cy="220" r="3.7"/><circle cx="1506" cy="360" r="3.7"/><circle cx="1642" cy="408" r="3.7"/><circle cx="1545" cy="627" r="3.7"/><circle cx="1518" cy="376" r="3.7"/><circle cx="1295" cy="469" r="3.7"/><circle cx="1693" cy="604" r="3.7"/><circle cx="1533" cy="413" r="3.7"/><circle cx="1394" cy="460" r="3.7"/><circle cx="1487" cy="312" r="3.7"/><circle cx="1757" cy="626" r="3.7"/><circle cx="1586" cy="371" r="3.7"/><circle cx="1543" cy="264" r="3.7"/><circle cx="1497" cy="328" r="3.7"/><circle cx="1537" cy="316" r="3.7"/><circle cx="1601" cy="395" r="3.7"/><circle cx="1366" cy="246" r="3.7"/><circle cx="1775" cy="769" r="3.7"/><circle cx="1500" cy="491" r="3.7"/><circle cx="1288" cy="203" r="3.7"/><circle cx="1536" cy="465" r="3.7"/><circle cx="1765" cy="903" r="3.7"/><circle cx="1470" cy="441" r="3.7"/><circle cx="1599" cy="343" r="3.7"/><circle cx="1609" cy="655" r="3.7"/><circle cx="1541" cy="341" r="3.7"/><circle cx="1476" cy="323" r="3.7"/><circle cx="1549" cy="483" r="3.7"/><circle cx="1576" cy="506" r="3.7"/><circle cx="1553" cy="434" r="3.7"/><circle cx="1540" cy="439" r="3.7"/><circle cx="1683" cy="956" r="3.7"/><circle cx="1834" cy="659" r="3.7"/><circle cx="1619" cy="414" r="3.7"/><circle cx="1328" cy="245" r="3.7"/><circle cx="1585" cy="516" r="3.7"/><circle cx="1572" cy="508" r="3.7"/><circle cx="1722" cy="728" r="3.7"/><circle cx="1537" cy="477" r="3.7"/><circle cx="1370" cy="267" r="3.7"/><circle cx="1417" cy="360" r="3.7"/><circle cx="1420" cy="346" r="3.7"/><circle cx="1666" cy="643" r="3.7"/><circle cx="1613" cy="354" r="3.7"/><circle cx="1427" cy="223" r="3.7"/><circle cx="1155" cy="330" r="3.7"/><circle cx="1419" cy="272" r="3.7"/><circle cx="1547" cy="369" r="3.7"/><circle cx="1597" cy="455" r="3.7"/><circle cx="1240" cy="187" r="3.7"/><circle cx="1440" cy="398" r="3.7"/><circle cx="1780" cy="717" r="3.7"/><circle cx="1642" cy="711" r="3.7"/><circle cx="1416" cy="235" r="3.7"/><circle cx="1642" cy="358" r="3.7"/><circle cx="1489" cy="562" r="3.7"/><circle cx="1579" cy="374" r="3.7"/><circle cx="1572" cy="415" r="3.7"/><circle cx="1239" cy="207" r="3.7"/><circle cx="1468" cy="417" r="3.7"/><circle cx="1593" cy="396" r="3.7"/><circle cx="1508" cy="449" r="3.7"/><circle cx="1325" cy="249" r="3.7"/><circle cx="1405" cy="241" r="3.7"/><circle cx="1258" cy="500" r="3.7"/><circle cx="1488" cy="427" r="3.7"/><circle cx="1545" cy="442" r="3.7"/><circle cx="1260" cy="226" r="3.7"/><circle cx="1320" cy="221" r="3.7"/><circle cx="1476" cy="308" r="3.7"/><circle cx="1731" cy="698" r="3.7"/><circle cx="1368" cy="258" r="3.7"/><circle cx="1697" cy="705" r="3.7"/><circle cx="1567" cy="357" r="3.7"/><circle cx="1456" cy="274" r="3.7"/><circle cx="1624" cy="659" r="3.7"/><circle cx="1781" cy="750" r="3.7"/><circle cx="1406" cy="326" r="3.7"/><circle cx="1631" cy="433" r="3.7"/><circle cx="1575" cy="449" r="3.7"/><circle cx="1718" cy="644" r="3.7"/><circle cx="1563" cy="298" r="3.7"/><circle cx="1248" cy="164" r="3.7"/><circle cx="1564" cy="357" r="3.7"/><circle cx="1753" cy="665" r="3.7"/><circle cx="1602" cy="413" r="3.7"/><circle cx="1540" cy="483" r="3.7"/><circle cx="1424" cy="397" r="3.7"/><circle cx="1611" cy="548" r="3.7"/><circle cx="1798" cy="655" r="3.7"/><circle cx="1576" cy="463" r="3.7"/><circle cx="1354" cy="280" r="3.7"/><circle cx="1300" cy="206" r="3.7"/><circle cx="1636" cy="524" r="3.7"/><circle cx="1269" cy="487" r="3.7"/><circle cx="1500" cy="407" r="3.7"/><circle cx="1605" cy="414" r="3.7"/><circle cx="1419" cy="286" r="3.7"/><circle cx="1516" cy="332" r="3.7"/><circle cx="1336" cy="286" r="3.7"/><circle cx="1587" cy="626" r="3.7"/><circle cx="1513" cy="489" r="3.7"/><circle cx="1311" cy="179" r="3.7"/><circle cx="1667" cy="548" r="3.7"/><circle cx="1309" cy="262" r="3.7"/><circle cx="1509" cy="521" r="3.7"/><circle cx="1672" cy="489" r="3.7"/><circle cx="1300" cy="226" r="3.7"/><circle cx="1427" cy="303" r="3.7"/><circle cx="1485" cy="302" r="3.7"/><circle cx="1429" cy="225" r="3.7"/><circle cx="1753" cy="649" r="3.7"/><circle cx="1521" cy="413" r="3.7"/><circle cx="1529" cy="330" r="3.7"/><circle cx="1497" cy="386" r="3.7"/><circle cx="1579" cy="435" r="3.7"/><circle cx="1738" cy="629" r="3.7"/><circle cx="1485" cy="406" r="3.7"/><circle cx="1394" cy="413" r="3.7"/><circle cx="1687" cy="642" r="3.7"/><circle cx="1152" cy="460" r="3.7"/><circle cx="1407" cy="370" r="3.7"/><circle cx="1577" cy="537" r="3.7"/><circle cx="1764" cy="665" r="3.7"/><circle cx="1318" cy="435" r="3.7"/><circle cx="1441" cy="287" r="3.7"/><circle cx="1611" cy="413" r="3.7"/><circle cx="1754" cy="833" r="3.7"/><circle cx="1646" cy="671" r="3.7"/><circle cx="1547" cy="374" r="3.7"/><circle cx="1443" cy="318" r="3.7"/><circle cx="1648" cy="454" r="3.7"/><circle cx="1582" cy="473" r="3.7"/><circle cx="1380" cy="263" r="3.7"/><circle cx="1607" cy="589" r="3.7"/><circle cx="1536" cy="397" r="3.7"/><circle cx="1531" cy="274" r="3.7"/><circle cx="1423" cy="421" r="3.7"/><circle cx="1496" cy="293" r="3.7"/><circle cx="1658" cy="604" r="3.7"/><circle cx="1673" cy="759" r="3.7"/><circle cx="1335" cy="528" r="3.7"/><circle cx="1184" cy="336" r="3.7"/><circle cx="1633" cy="574" r="3.7"/><circle cx="1384" cy="269" r="3.7"/><circle cx="1576" cy="586" r="3.7"/><circle cx="1432" cy="382" r="3.7"/><circle cx="1314" cy="364" r="3.7"/><circle cx="1592" cy="376" r="3.7"/><circle cx="1896" cy="947" r="3.7"/><circle cx="1726" cy="617" r="3.7"/><circle cx="1559" cy="404" r="3.7"/><circle cx="1907" cy="808" r="3.7"/><circle cx="1488" cy="499" r="3.7"/><circle cx="1711" cy="583" r="3.7"/><circle cx="1536" cy="360" r="3.7"/><circle cx="1643" cy="285" r="3.7"/><circle cx="1398" cy="321" r="3.7"/><circle cx="1718" cy="853" r="3.7"/><circle cx="1694" cy="521" r="3.7"/><circle cx="1594" cy="676" r="3.7"/><circle cx="1481" cy="285" r="3.7"/><circle cx="1633" cy="346" r="3.7"/><circle cx="1648" cy="486" r="3.7"/><circle cx="1340" cy="246" r="3.7"/><circle cx="1616" cy="717" r="3.7"/><circle cx="1727" cy="753" r="3.7"/><circle cx="1514" cy="321" r="3.7"/><circle cx="1700" cy="889" r="3.7"/><circle cx="1601" cy="542" r="3.7"/><circle cx="1648" cy="644" r="3.7"/><circle cx="1637" cy="547" r="3.7"/><circle cx="1563" cy="417" r="3.7"/><circle cx="1758" cy="733" r="3.7"/><circle cx="1483" cy="561" r="3.7"/><circle cx="1527" cy="369" r="3.7"/><circle cx="1562" cy="480" r="3.7"/><circle cx="1654" cy="731" r="3.7"/><circle cx="1692" cy="648" r="3.7"/><circle cx="1447" cy="267" r="3.7"/><circle cx="1499" cy="413" r="3.7"/><circle cx="1704" cy="972" r="3.7"/><circle cx="1551" cy="456" r="3.7"/><circle cx="1361" cy="286" r="3.7"/><circle cx="1595" cy="374" r="3.7"/><circle cx="1595" cy="484" r="3.7"/><circle cx="1161" cy="174" r="3.7"/><circle cx="1636" cy="413" r="3.7"/><circle cx="1518" cy="369" r="3.7"/><circle cx="1529" cy="395" r="3.7"/><circle cx="1347" cy="285" r="3.7"/><circle cx="1650" cy="504" r="3.7"/><circle cx="1460" cy="511" r="3.7"/><circle cx="1586" cy="576" r="3.7"/><circle cx="1438" cy="331" r="3.7"/><circle cx="1798" cy="774" r="3.7"/><circle cx="1483" cy="369" r="3.7"/><circle cx="1546" cy="379" r="3.7"/><circle cx="1317" cy="269" r="3.7"/><circle cx="1529" cy="303" r="3.7"/><circle cx="1614" cy="426" r="3.7"/><circle cx="1462" cy="331" r="3.7"/><circle cx="1571" cy="522" r="3.7"/><circle cx="1472" cy="240" r="3.7"/><circle cx="1606" cy="419" r="3.7"/><circle cx="1640" cy="449" r="3.7"/><circle cx="1581" cy="439" r="3.7"/><circle cx="1512" cy="447" r="3.7"/><circle cx="1602" cy="483" r="3.7"/><circle cx="1474" cy="370" r="3.7"/><circle cx="1700" cy="746" r="3.7"/><circle cx="1714" cy="408" r="3.7"/><circle cx="1777" cy="857" r="3.7"/><circle cx="1568" cy="523" r="3.7"/><circle cx="1488" cy="305" r="3.7"/><circle cx="1479" cy="394" r="3.7"/><circle cx="1474" cy="349" r="3.7"/><circle cx="1463" cy="314" r="3.7"/><circle cx="1628" cy="620" r="3.7"/><circle cx="1585" cy="320" r="3.7"/><circle cx="1380" cy="230" r="3.7"/><circle cx="1510" cy="447" r="3.7"/><circle cx="1581" cy="509" r="3.7"/><circle cx="1483" cy="372" r="3.7"/><circle cx="1651" cy="486" r="3.7"/><circle cx="1595" cy="303" r="3.7"/><circle cx="1657" cy="401" r="3.7"/><circle cx="1510" cy="589" r="3.7"/><circle cx="1659" cy="673" r="3.7"/><circle cx="1623" cy="559" r="3.7"/><circle cx="1284" cy="256" r="3.7"/><circle cx="1407" cy="251" r="3.7"/><circle cx="1516" cy="408" r="3.7"/><circle cx="1480" cy="398" r="3.7"/><circle cx="1535" cy="334" r="3.7"/><circle cx="1583" cy="298" r="3.7"/><circle cx="1510" cy="411" r="3.7"/><circle cx="1374" cy="289" r="3.7"/><circle cx="1581" cy="489" r="3.7"/><circle cx="1610" cy="471" r="3.7"/><circle cx="1414" cy="373" r="3.7"/><circle cx="1640" cy="357" r="3.7"/><circle cx="1628" cy="453" r="3.7"/><circle cx="1704" cy="690" r="3.7"/><circle cx="1550" cy="255" r="3.7"/><circle cx="1777" cy="843" r="3.7"/><circle cx="1419" cy="431" r="3.7"/><circle cx="1317" cy="398" r="3.7"/><circle cx="1322" cy="185" r="3.7"/><circle cx="1650" cy="331" r="3.7"/><circle cx="1422" cy="294" r="3.7"/><circle cx="1453" cy="397" r="3.7"/><circle cx="1354" cy="226" r="3.7"/><circle cx="1196" cy="220" r="3.7"/><circle cx="1665" cy="384" r="3.7"/><circle cx="1567" cy="495" r="3.7"/><circle cx="1539" cy="222" r="3.7"/><circle cx="1704" cy="603" r="3.7"/><circle cx="1541" cy="445" r="3.7"/><circle cx="1545" cy="458" r="3.7"/><circle cx="1237" cy="237" r="3.7"/><circle cx="1480" cy="439" r="3.7"/><circle cx="1448" cy="302" r="3.7"/><circle cx="1690" cy="667" r="3.7"/><circle cx="1223" cy="172" r="3.7"/><circle cx="1766" cy="791" r="3.7"/><circle cx="1778" cy="726" r="3.7"/><circle cx="1525" cy="423" r="3.7"/><circle cx="1320" cy="258" r="3.7"/><circle cx="1500" cy="415" r="3.7"/><circle cx="1412" cy="292" r="3.7"/><circle cx="1559" cy="388" r="3.7"/><circle cx="1897" cy="936" r="3.7"/><circle cx="1353" cy="203" r="3.7"/><circle cx="1423" cy="354" r="3.7"/><circle cx="1516" cy="311" r="3.7"/><circle cx="1942" cy="980" r="3.7"/><circle cx="1620" cy="569" r="3.7"/><circle cx="1398" cy="308" r="3.7"/><circle cx="1627" cy="647" r="3.7"/><circle cx="1591" cy="543" r="3.7"/><circle cx="1728" cy="651" r="3.7"/><circle cx="1628" cy="461" r="3.7"/><circle cx="1689" cy="678" r="3.7"/><circle cx="1840" cy="839" r="3.7"/><circle cx="1710" cy="685" r="3.7"/><circle cx="1714" cy="685" r="3.7"/><circle cx="1638" cy="443" r="3.7"/><circle cx="1616" cy="374" r="3.7"/><circle cx="1803" cy="674" r="3.7"/><circle cx="1430" cy="304" r="3.7"/><circle cx="1643" cy="526" r="3.7"/><circle cx="1543" cy="373" r="3.7"/><circle cx="1392" cy="251" r="3.7"/><circle cx="1555" cy="439" r="3.7"/><circle cx="1444" cy="276" r="3.7"/><circle cx="1553" cy="260" r="3.7"/><circle cx="1502" cy="515" r="3.7"/><circle cx="1618" cy="587" r="3.7"/><circle cx="1489" cy="472" r="3.7"/><circle cx="1645" cy="753" r="3.7"/><circle cx="1294" cy="229" r="3.7"/><circle cx="1530" cy="285" r="3.7"/><circle cx="1624" cy="542" r="3.7"/><circle cx="1348" cy="243" r="3.7"/><circle cx="1596" cy="438" r="3.7"/><circle cx="1725" cy="753" r="3.7"/><circle cx="1428" cy="381" r="3.7"/><circle cx="1413" cy="368" r="3.7"/><circle cx="1370" cy="296" r="3.7"/><circle cx="1525" cy="471" r="3.7"/><circle cx="1785" cy="820" r="3.7"/><circle cx="1797" cy="481" r="3.7"/><circle cx="1279" cy="220" r="3.7"/><circle cx="1517" cy="491" r="3.7"/><circle cx="1419" cy="472" r="3.7"/><circle cx="1602" cy="441" r="3.7"/><circle cx="1336" cy="164" r="3.7"/><circle cx="1835" cy="894" r="3.7"/><circle cx="1483" cy="320" r="3.7"/><circle cx="1676" cy="623" r="3.7"/><circle cx="1395" cy="244" r="3.7"/><circle cx="1651" cy="325" r="3.7"/><circle cx="1729" cy="701" r="3.7"/><circle cx="1408" cy="284" r="3.7"/><circle cx="1345" cy="290" r="3.7"/><circle cx="1458" cy="557" r="3.7"/><circle cx="1599" cy="441" r="3.7"/><circle cx="1654" cy="742" r="3.7"/><circle cx="1326" cy="504" r="3.7"/><circle cx="1436" cy="309" r="3.7"/><circle cx="1512" cy="296" r="3.7"/><circle cx="1412" cy="299" r="3.7"/><circle cx="1476" cy="367" r="3.7"/><circle cx="1446" cy="325" r="3.7"/><circle cx="1644" cy="952" r="3.7"/><circle cx="1729" cy="622" r="3.7"/><circle cx="1594" cy="451" r="3.7"/><circle cx="1566" cy="499" r="3.7"/><circle cx="1775" cy="863" r="3.7"/><circle cx="1395" cy="346" r="3.7"/><circle cx="1335" cy="246" r="3.7"/><circle cx="1338" cy="222" r="3.7"/><circle cx="1356" cy="301" r="3.7"/><circle cx="1710" cy="654" r="3.7"/><circle cx="1729" cy="955" r="3.7"/><circle cx="1233" cy="175" r="3.7"/><circle cx="1696" cy="716" r="3.7"/><circle cx="1210" cy="162" r="3.7"/><circle cx="1471" cy="409" r="3.7"/><circle cx="1540" cy="405" r="3.7"/><circle cx="1637" cy="473" r="3.7"/><circle cx="1548" cy="317" r="3.7"/><circle cx="1444" cy="289" r="3.7"/><circle cx="1747" cy="814" r="3.7"/><circle cx="1549" cy="323" r="3.7"/><circle cx="1592" cy="341" r="3.7"/><circle cx="1534" cy="520" r="3.7"/><circle cx="1544" cy="404" r="3.7"/><circle cx="1617" cy="278" r="3.7"/><circle cx="1737" cy="765" r="3.7"/><circle cx="1628" cy="453" r="3.7"/><circle cx="1533" cy="420" r="3.7"/><circle cx="1575" cy="457" r="3.7"/><circle cx="1257" cy="307" r="3.7"/><circle cx="1732" cy="714" r="3.7"/><circle cx="1554" cy="375" r="3.7"/><circle cx="1306" cy="231" r="3.7"/><circle cx="1494" cy="179" r="3.7"/><circle cx="1592" cy="419" r="3.7"/><circle cx="1399" cy="217" r="3.7"/><circle cx="1385" cy="255" r="3.7"/><circle cx="1562" cy="383" r="3.7"/><circle cx="1558" cy="415" r="3.7"/><circle cx="1534" cy="367" r="3.7"/><circle cx="1461" cy="359" r="3.7"/><circle cx="1859" cy="913" r="3.7"/><circle cx="1459" cy="448" r="3.7"/><circle cx="1178" cy="154" r="3.7"/><circle cx="1700" cy="704" r="3.7"/><circle cx="1602" cy="622" r="3.7"/><circle cx="1733" cy="956" r="3.7"/><circle cx="1207" cy="223" r="3.7"/><circle cx="1455" cy="382" r="3.7"/><circle cx="1535" cy="449" r="3.7"/><circle cx="1559" cy="327" r="3.7"/><circle cx="1909" cy="897" r="3.7"/><circle cx="1401" cy="185" r="3.7"/><circle cx="1575" cy="349" r="3.7"/><circle cx="1300" cy="146" r="3.7"/><circle cx="1889" cy="984" r="3.7"/><circle cx="1240" cy="172" r="3.7"/><circle cx="1523" cy="429" r="3.7"/><circle cx="1804" cy="779" r="3.7"/><circle cx="1753" cy="718" r="3.7"/><circle cx="1588" cy="554" r="3.7"/><circle cx="1527" cy="404" r="3.7"/><circle cx="1643" cy="418" r="3.7"/><circle cx="1679" cy="641" r="3.7"/><circle cx="1471" cy="357" r="3.7"/><circle cx="1327" cy="260" r="3.7"/><circle cx="1686" cy="937" r="3.7"/><circle cx="1588" cy="462" r="3.7"/><circle cx="1373" cy="251" r="3.7"/><circle cx="1506" cy="332" r="3.7"/><circle cx="1525" cy="429" r="3.7"/><circle cx="1638" cy="358" r="3.7"/><circle cx="1408" cy="287" r="3.7"/><circle cx="1346" cy="272" r="3.7"/><circle cx="1604" cy="414" r="3.7"/><circle cx="1429" cy="332" r="3.7"/><circle cx="1453" cy="389" r="3.7"/><circle cx="1678" cy="551" r="3.7"/><circle cx="1555" cy="401" r="3.7"/><circle cx="1533" cy="264" r="3.7"/><circle cx="1657" cy="193" r="3.7"/><circle cx="1584" cy="499" r="3.7"/><circle cx="1656" cy="604" r="3.7"/><circle cx="1593" cy="458" r="3.7"/><circle cx="1559" cy="426" r="3.7"/><circle cx="1537" cy="370" r="3.7"/><circle cx="1286" cy="232" r="3.7"/><circle cx="1636" cy="349" r="3.7"/><circle cx="1730" cy="317" r="3.7"/><circle cx="1416" cy="271" r="3.7"/><circle cx="1561" cy="535" r="3.7"/><circle cx="1621" cy="425" r="3.7"/><circle cx="1577" cy="391" r="3.7"/><circle cx="1485" cy="394" r="3.7"/><circle cx="1389" cy="208" r="3.7"/><circle cx="1460" cy="340" r="3.7"/><circle cx="1698" cy="522" r="3.7"/><circle cx="1460" cy="324" r="3.7"/><circle cx="1322" cy="196" r="3.7"/><circle cx="1600" cy="426" r="3.7"/><circle cx="1666" cy="645" r="3.7"/><circle cx="1549" cy="842" r="3.7"/><circle cx="1610" cy="303" r="3.7"/><circle cx="1411" cy="312" r="3.7"/><circle cx="1329" cy="217" r="3.7"/><circle cx="1524" cy="390" r="3.7"/><circle cx="1486" cy="430" r="3.7"/><circle cx="1365" cy="286" r="3.7"/><circle cx="1591" cy="546" r="3.7"/><circle cx="1312" cy="362" r="3.7"/><circle cx="1644" cy="577" r="3.7"/><circle cx="1451" cy="209" r="3.7"/><circle cx="1354" cy="292" r="3.7"/><circle cx="1696" cy="657" r="3.7"/><circle cx="1554" cy="283" r="3.7"/><circle cx="1332" cy="224" r="3.7"/><circle cx="1375" cy="234" r="3.7"/><circle cx="1793" cy="651" r="3.7"/><circle cx="1357" cy="306" r="3.7"/><circle cx="1268" cy="240" r="3.7"/><circle cx="1533" cy="688" r="3.7"/><circle cx="1696" cy="617" r="3.7"/><circle cx="1480" cy="320" r="3.7"/><circle cx="1471" cy="325" r="3.7"/><circle cx="1552" cy="340" r="3.7"/><circle cx="1685" cy="535" r="3.7"/><circle cx="1721" cy="899" r="3.7"/><circle cx="1465" cy="381" r="3.7"/><circle cx="1406" cy="280" r="3.7"/><circle cx="1370" cy="294" r="3.7"/><circle cx="1523" cy="398" r="3.7"/><circle cx="1221" cy="200" r="3.7"/><circle cx="1706" cy="704" r="3.7"/><circle cx="1444" cy="273" r="3.7"/><circle cx="1763" cy="714" r="3.7"/><circle cx="1210" cy="171" r="3.7"/><circle cx="1333" cy="233" r="3.7"/><circle cx="1378" cy="436" r="3.7"/><circle cx="1650" cy="610" r="3.7"/><circle cx="1603" cy="506" r="3.7"/><circle cx="1570" cy="512" r="3.7"/><circle cx="1253" cy="421" r="3.7"/><circle cx="1671" cy="437" r="3.7"/><circle cx="1530" cy="440" r="3.7"/><circle cx="1778" cy="537" r="3.7"/><circle cx="1539" cy="449" r="3.7"/><circle cx="1253" cy="208" r="3.7"/><circle cx="1705" cy="645" r="3.7"/><circle cx="1461" cy="330" r="3.7"/><circle cx="1267" cy="202" r="3.7"/><circle cx="1492" cy="473" r="3.7"/><circle cx="1677" cy="623" r="3.7"/><circle cx="1595" cy="436" r="3.7"/><circle cx="1570" cy="372" r="3.7"/><circle cx="1280" cy="458" r="3.7"/><circle cx="1571" cy="517" r="3.7"/><circle cx="1451" cy="316" r="3.7"/><circle cx="1451" cy="313" r="3.7"/><circle cx="1520" cy="498" r="3.7"/><circle cx="1610" cy="514" r="3.7"/><circle cx="1536" cy="445" r="3.7"/><circle cx="1355" cy="382" r="3.7"/><circle cx="1499" cy="333" r="3.7"/><circle cx="1476" cy="350" r="3.7"/><circle cx="1498" cy="368" r="3.7"/><circle cx="1627" cy="442" r="3.7"/><circle cx="1462" cy="488" r="3.7"/><circle cx="1559" cy="272" r="3.7"/><circle cx="1477" cy="413" r="3.7"/><circle cx="1587" cy="446" r="3.7"/><circle cx="1639" cy="498" r="3.7"/><circle cx="1747" cy="527" r="3.7"/><circle cx="1656" cy="412" r="3.7"/><circle cx="1371" cy="398" r="3.7"/><circle cx="1512" cy="314" r="3.7"/><circle cx="1786" cy="846" r="3.7"/><circle cx="1712" cy="585" r="3.7"/><circle cx="1372" cy="228" r="3.7"/><circle cx="1630" cy="487" r="3.7"/><circle cx="1910" cy="804" r="3.7"/><circle cx="1435" cy="312" r="3.7"/><circle cx="1693" cy="837" r="3.7"/><circle cx="1311" cy="196" r="3.7"/><circle cx="1343" cy="246" r="3.7"/><circle cx="1239" cy="182" r="3.7"/><circle cx="1279" cy="475" r="3.7"/><circle cx="1657" cy="620" r="3.7"/><circle cx="1567" cy="458" r="3.7"/><circle cx="1529" cy="362" r="3.7"/><circle cx="1611" cy="486" r="3.7"/><circle cx="1492" cy="491" r="3.7"/><circle cx="1940" cy="746" r="3.7"/><circle cx="1618" cy="437" r="3.7"/><circle cx="1168" cy="368" r="3.7"/><circle cx="1374" cy="270" r="3.7"/><circle cx="1510" cy="693" r="3.7"/><circle cx="1514" cy="436" r="3.7"/><circle cx="1458" cy="606" r="3.7"/><circle cx="1582" cy="524" r="3.7"/><circle cx="1614" cy="569" r="3.7"/><circle cx="1616" cy="557" r="3.7"/><circle cx="1554" cy="437" r="3.7"/><circle cx="1585" cy="437" r="3.7"/><circle cx="1455" cy="268" r="3.7"/><circle cx="1234" cy="158" r="3.7"/><circle cx="1689" cy="625" r="3.7"/><circle cx="1593" cy="334" r="3.7"/><circle cx="1460" cy="345" r="3.7"/><circle cx="1758" cy="750" r="3.7"/><circle cx="1691" cy="626" r="3.7"/><circle cx="1333" cy="382" r="3.7"/><circle cx="1650" cy="401" r="3.7"/><circle cx="1680" cy="740" r="3.7"/><circle cx="1624" cy="429" r="3.7"/><circle cx="1322" cy="235" r="3.7"/><circle cx="1413" cy="327" r="3.7"/><circle cx="1187" cy="201" r="3.7"/><circle cx="1520" cy="316" r="3.7"/><circle cx="1745" cy="898" r="3.7"/><circle cx="1348" cy="469" r="3.7"/><circle cx="1624" cy="645" r="3.7"/><circle cx="1544" cy="384" r="3.7"/><circle cx="1636" cy="329" r="3.7"/><circle cx="1468" cy="412" r="3.7"/><circle cx="1908" cy="937" r="3.7"/><circle cx="1753" cy="654" r="3.7"/><circle cx="1507" cy="493" r="3.7"/><circle cx="1534" cy="507" r="3.7"/><circle cx="1538" cy="478" r="3.7"/><circle cx="1433" cy="395" r="3.7"/><circle cx="1545" cy="109" r="3.7"/><circle cx="1543" cy="316" r="3.7"/><circle cx="1657" cy="477" r="3.7"/><circle cx="1505" cy="478" r="3.7"/><circle cx="1759" cy="723" r="3.7"/><circle cx="1481" cy="379" r="3.7"/><circle cx="1322" cy="268" r="3.7"/><circle cx="1676" cy="622" r="3.7"/><circle cx="1243" cy="435" r="3.7"/><circle cx="1388" cy="224" r="3.7"/><circle cx="1606" cy="409" r="3.7"/><circle cx="1517" cy="382" r="3.7"/><circle cx="1569" cy="280" r="3.7"/><circle cx="1660" cy="613" r="3.7"/><circle cx="1526" cy="561" r="3.7"/><circle cx="1441" cy="330" r="3.7"/><circle cx="1473" cy="270" r="3.7"/><circle cx="1620" cy="546" r="3.7"/><circle cx="1640" cy="838" r="3.7"/><circle cx="1562" cy="506" r="3.7"/><circle cx="1380" cy="281" r="3.7"/><circle cx="1385" cy="325" r="3.7"/><circle cx="1435" cy="259" r="3.7"/><circle cx="1872" cy="905" r="3.7"/><circle cx="1442" cy="324" r="3.7"/><circle cx="1562" cy="446" r="3.7"/><circle cx="1351" cy="355" r="3.7"/><circle cx="1665" cy="488" r="3.7"/><circle cx="1322" cy="338" r="3.7"/><circle cx="1624" cy="545" r="3.7"/><circle cx="1514" cy="391" r="3.7"/><circle cx="1506" cy="410" r="3.7"/><circle cx="1634" cy="480" r="3.7"/><circle cx="1422" cy="400" r="3.7"/><circle cx="1615" cy="367" r="3.7"/><circle cx="1302" cy="236" r="3.7"/><circle cx="1657" cy="665" r="3.7"/><circle cx="1477" cy="366" r="3.7"/><circle cx="1537" cy="422" r="3.7"/><circle cx="1429" cy="331" r="3.7"/><circle cx="1683" cy="583" r="3.7"/><circle cx="1439" cy="318" r="3.7"/><circle cx="1774" cy="957" r="3.7"/><circle cx="1718" cy="551" r="3.7"/><circle cx="1564" cy="488" r="3.7"/><circle cx="1703" cy="302" r="3.7"/><circle cx="1644" cy="606" r="3.7"/><circle cx="1677" cy="702" r="3.7"/><circle cx="1360" cy="222" r="3.7"/><circle cx="1416" cy="384" r="3.7"/><circle cx="1508" cy="267" r="3.7"/><circle cx="1581" cy="460" r="3.7"/><circle cx="1281" cy="190" r="3.7"/><circle cx="1585" cy="396" r="3.7"/><circle cx="1457" cy="666" r="3.7"/><circle cx="1732" cy="548" r="3.7"/><circle cx="1757" cy="721" r="3.7"/><circle cx="1515" cy="426" r="3.7"/><circle cx="1393" cy="265" r="3.7"/><circle cx="1436" cy="315" r="3.7"/><circle cx="1313" cy="353" r="3.7"/><circle cx="1384" cy="286" r="3.7"/><circle cx="1389" cy="279" r="3.7"/><circle cx="1596" cy="375" r="3.7"/><circle cx="1483" cy="402" r="3.7"/><circle cx="1406" cy="377" r="3.7"/><circle cx="1633" cy="460" r="3.7"/><circle cx="1542" cy="408" r="3.7"/><circle cx="1568" cy="470" r="3.7"/><circle cx="1747" cy="722" r="3.7"/><circle cx="1421" cy="339" r="3.7"/><circle cx="1609" cy="429" r="3.7"/><circle cx="1565" cy="454" r="3.7"/><circle cx="1522" cy="487" r="3.7"/><circle cx="1442" cy="259" r="3.7"/><circle cx="1360" cy="263" r="3.7"/><circle cx="1473" cy="487" r="3.7"/><circle cx="1550" cy="457" r="3.7"/><circle cx="1320" cy="241" r="3.7"/><circle cx="1569" cy="380" r="3.7"/><circle cx="1454" cy="418" r="3.7"/><circle cx="1474" cy="517" r="3.7"/><circle cx="1345" cy="253" r="3.7"/><circle cx="1574" cy="440" r="3.7"/><circle cx="1649" cy="378" r="3.7"/><circle cx="1527" cy="485" r="3.7"/><circle cx="1561" cy="429" r="3.7"/><circle cx="1469" cy="413" r="3.7"/><circle cx="1576" cy="456" r="3.7"/><circle cx="1641" cy="424" r="3.7"/><circle cx="1535" cy="246" r="3.7"/><circle cx="1499" cy="387" r="3.7"/><circle cx="1609" cy="393" r="3.7"/><circle cx="1367" cy="269" r="3.7"/><circle cx="1552" cy="537" r="3.7"/><circle cx="1350" cy="262" r="3.7"/><circle cx="1605" cy="388" r="3.7"/><circle cx="1560" cy="454" r="3.7"/><circle cx="1519" cy="467" r="3.7"/><circle cx="1660" cy="193" r="3.7"/><circle cx="1558" cy="612" r="3.7"/><circle cx="1414" cy="288" r="3.7"/><circle cx="1247" cy="234" r="3.7"/><circle cx="1507" cy="411" r="3.7"/><circle cx="1454" cy="308" r="3.7"/><circle cx="1546" cy="410" r="3.7"/><circle cx="1487" cy="536" r="3.7"/><circle cx="1488" cy="612" r="3.7"/><circle cx="1414" cy="287" r="3.7"/><circle cx="1503" cy="549" r="3.7"/><circle cx="1847" cy="805" r="3.7"/><circle cx="1449" cy="321" r="3.7"/><circle cx="1623" cy="440" r="3.7"/><circle cx="1391" cy="232" r="3.7"/><circle cx="1529" cy="336" r="3.7"/><circle cx="1584" cy="529" r="3.7"/><circle cx="1515" cy="447" r="3.7"/><circle cx="1533" cy="394" r="3.7"/><circle cx="1687" cy="450" r="3.7"/><circle cx="1469" cy="459" r="3.7"/><circle cx="1478" cy="307" r="3.7"/><circle cx="1482" cy="604" r="3.7"/><circle cx="1551" cy="443" r="3.7"/><circle cx="1559" cy="441" r="3.7"/><circle cx="1579" cy="324" r="3.7"/><circle cx="1343" cy="665" r="3.7"/><circle cx="1732" cy="748" r="3.7"/><circle cx="1742" cy="948" r="3.7"/><circle cx="1805" cy="883" r="3.7"/><circle cx="1731" cy="915" r="3.7"/><circle cx="1554" cy="714" r="3.7"/><circle cx="1618" cy="516" r="3.7"/><circle cx="1206" cy="560" r="3.7"/><circle cx="1752" cy="512" r="3.7"/><circle cx="1534" cy="284" r="3.7"/><circle cx="1752" cy="638" r="3.7"/><circle cx="1360" cy="384" r="3.7"/><circle cx="1564" cy="378" r="3.7"/><circle cx="1552" cy="308" r="3.7"/><circle cx="1420" cy="396" r="3.7"/><circle cx="1211" cy="200" r="3.7"/><circle cx="1520" cy="513" r="3.7"/><circle cx="1503" cy="324" r="3.7"/><circle cx="1615" cy="382" r="3.7"/><circle cx="1571" cy="516" r="3.7"/><circle cx="1563" cy="407" r="3.7"/><circle cx="1415" cy="199" r="3.7"/><circle cx="1530" cy="430" r="3.7"/><circle cx="1551" cy="428" r="3.7"/><circle cx="1878" cy="794" r="3.7"/><circle cx="1749" cy="594" r="3.7"/><circle cx="1715" cy="758" r="3.7"/><circle cx="1555" cy="473" r="3.7"/><circle cx="1902" cy="719" r="3.7"/><circle cx="1489" cy="263" r="3.7"/><circle cx="1422" cy="334" r="3.7"/><circle cx="1430" cy="342" r="3.7"/><circle cx="1535" cy="365" r="3.7"/><circle cx="1700" cy="607" r="3.7"/><circle cx="1697" cy="860" r="3.7"/><circle cx="1366" cy="235" r="3.7"/><circle cx="1281" cy="275" r="3.7"/><circle cx="1611" cy="464" r="3.7"/><circle cx="1417" cy="331" r="3.7"/><circle cx="1603" cy="273" r="3.7"/><circle cx="1419" cy="206" r="3.7"/><circle cx="1732" cy="790" r="3.7"/><circle cx="1667" cy="310" r="3.7"/><circle cx="1226" cy="159" r="3.7"/><circle cx="1533" cy="497" r="3.7"/><circle cx="1886" cy="839" r="3.7"/><circle cx="1540" cy="524" r="3.7"/><circle cx="1569" cy="397" r="3.7"/><circle cx="1296" cy="265" r="3.7"/><circle cx="1535" cy="378" r="3.7"/><circle cx="1608" cy="454" r="3.7"/><circle cx="1499" cy="479" r="3.7"/><circle cx="1419" cy="421" r="3.7"/><circle cx="1574" cy="631" r="3.7"/><circle cx="1590" cy="375" r="3.7"/><circle cx="1526" cy="533" r="3.7"/><circle cx="1315" cy="249" r="3.7"/><circle cx="1534" cy="334" r="3.7"/><circle cx="1554" cy="480" r="3.7"/><circle cx="1735" cy="736" r="3.7"/><circle cx="1388" cy="358" r="3.7"/><circle cx="1590" cy="377" r="3.7"/><circle cx="1463" cy="345" r="3.7"/><circle cx="1228" cy="271" r="3.7"/><circle cx="1352" cy="443" r="3.7"/><circle cx="1350" cy="303" r="3.7"/><circle cx="1313" cy="261" r="3.7"/><circle cx="1599" cy="341" r="3.7"/><circle cx="1493" cy="348" r="3.7"/><circle cx="1552" cy="331" r="3.7"/><circle cx="1412" cy="492" r="3.7"/><circle cx="1572" cy="405" r="3.7"/><circle cx="1575" cy="429" r="3.7"/><circle cx="1500" cy="456" r="3.7"/><circle cx="1333" cy="194" r="3.7"/><circle cx="1541" cy="454" r="3.7"/><circle cx="1626" cy="362" r="3.7"/><circle cx="1357" cy="297" r="3.7"/><circle cx="1732" cy="687" r="3.7"/><circle cx="1630" cy="535" r="3.7"/><circle cx="1705" cy="592" r="3.7"/><circle cx="1524" cy="480" r="3.7"/><circle cx="1270" cy="193" r="3.7"/><circle cx="1582" cy="455" r="3.7"/><circle cx="1766" cy="964" r="3.7"/><circle cx="1433" cy="394" r="3.7"/><circle cx="1699" cy="683" r="3.7"/><circle cx="1526" cy="383" r="3.7"/><circle cx="1523" cy="551" r="3.7"/><circle cx="1365" cy="350" r="3.7"/><circle cx="1582" cy="464" r="3.7"/><circle cx="1685" cy="684" r="3.7"/><circle cx="1736" cy="663" r="3.7"/><circle cx="1367" cy="303" r="3.7"/><circle cx="1498" cy="418" r="3.7"/><circle cx="1424" cy="361" r="3.7"/><circle cx="1532" cy="319" r="3.7"/><circle cx="1282" cy="240" r="3.7"/><circle cx="1661" cy="615" r="3.7"/><circle cx="1411" cy="249" r="3.7"/><circle cx="1619" cy="409" r="3.7"/><circle cx="1677" cy="695" r="3.7"/><circle cx="1281" cy="211" r="3.7"/><circle cx="1632" cy="649" r="3.7"/><circle cx="1648" cy="470" r="3.7"/><circle cx="1467" cy="354" r="3.7"/><circle cx="1882" cy="346" r="3.7"/><circle cx="1567" cy="359" r="3.7"/><circle cx="1498" cy="411" r="3.7"/><circle cx="1626" cy="597" r="3.7"/><circle cx="1530" cy="510" r="3.7"/><circle cx="1627" cy="638" r="3.7"/><circle cx="1605" cy="383" r="3.7"/><circle cx="1754" cy="873" r="3.7"/><circle cx="1631" cy="470" r="3.7"/><circle cx="1760" cy="773" r="3.7"/><circle cx="1201" cy="183" r="3.7"/><circle cx="1710" cy="654" r="3.7"/><circle cx="1229" cy="166" r="3.7"/><circle cx="1315" cy="201" r="3.7"/><circle cx="1839" cy="861" r="3.7"/><circle cx="1618" cy="531" r="3.7"/><circle cx="1247" cy="221" r="3.7"/><circle cx="1619" cy="600" r="3.7"/><circle cx="1648" cy="514" r="3.7"/><circle cx="1528" cy="484" r="3.7"/><circle cx="1569" cy="318" r="3.7"/><circle cx="1375" cy="288" r="3.7"/><circle cx="1721" cy="673" r="3.7"/><circle cx="1635" cy="509" r="3.7"/><circle cx="1356" cy="542" r="3.7"/><circle cx="1379" cy="223" r="3.7"/><circle cx="1627" cy="584" r="3.7"/><circle cx="1555" cy="330" r="3.7"/><circle cx="1550" cy="438" r="3.7"/><circle cx="1734" cy="582" r="3.7"/><circle cx="1419" cy="289" r="3.7"/><circle cx="1521" cy="433" r="3.7"/><circle cx="1509" cy="408" r="3.7"/><circle cx="1815" cy="595" r="3.7"/><circle cx="1529" cy="369" r="3.7"/><circle cx="1562" cy="462" r="3.7"/><circle cx="1688" cy="631" r="3.7"/><circle cx="1584" cy="419" r="3.7"/><circle cx="1311" cy="475" r="3.7"/><circle cx="1624" cy="432" r="3.7"/><circle cx="1577" cy="310" r="3.7"/><circle cx="1499" cy="364" r="3.7"/><circle cx="1681" cy="869" r="3.7"/><circle cx="1653" cy="391" r="3.7"/><circle cx="1601" cy="348" r="3.7"/><circle cx="1449" cy="304" r="3.7"/><circle cx="1525" cy="534" r="3.7"/><circle cx="1618" cy="538" r="3.7"/><circle cx="1562" cy="319" r="3.7"/><circle cx="1558" cy="573" r="3.7"/><circle cx="1702" cy="744" r="3.7"/><circle cx="1395" cy="541" r="3.7"/><circle cx="1392" cy="306" r="3.7"/><circle cx="1484" cy="303" r="3.7"/><circle cx="1691" cy="657" r="3.7"/><circle cx="1449" cy="441" r="3.7"/><circle cx="1506" cy="203" r="3.7"/><circle cx="1586" cy="426" r="3.7"/><circle cx="1383" cy="379" r="3.7"/><circle cx="1635" cy="422" r="3.7"/><circle cx="1732" cy="698" r="3.7"/><circle cx="1523" cy="324" r="3.7"/><circle cx="1742" cy="775" r="3.7"/><circle cx="1586" cy="516" r="3.7"/><circle cx="1706" cy="892" r="3.7"/><circle cx="1536" cy="263" r="3.7"/><circle cx="1601" cy="437" r="3.7"/><circle cx="1524" cy="395" r="3.7"/><circle cx="1563" cy="434" r="3.7"/><circle cx="1445" cy="483" r="3.7"/><circle cx="1714" cy="690" r="3.7"/><circle cx="1464" cy="244" r="3.7"/><circle cx="1461" cy="453" r="3.7"/><circle cx="1266" cy="452" r="3.7"/><circle cx="1581" cy="690" r="3.7"/><circle cx="1332" cy="230" r="3.7"/><circle cx="1322" cy="406" r="3.7"/><circle cx="1373" cy="233" r="3.7"/><circle cx="1680" cy="598" r="3.7"/><circle cx="1552" cy="364" r="3.7"/><circle cx="1511" cy="406" r="3.7"/><circle cx="1667" cy="664" r="3.7"/><circle cx="1554" cy="512" r="3.7"/><circle cx="1538" cy="450" r="3.7"/><circle cx="1628" cy="539" r="3.7"/><circle cx="1338" cy="253" r="3.7"/><circle cx="1480" cy="311" r="3.7"/><circle cx="1563" cy="547" r="3.7"/><circle cx="1557" cy="245" r="3.7"/><circle cx="1553" cy="448" r="3.7"/><circle cx="1651" cy="495" r="3.7"/><circle cx="1598" cy="454" r="3.7"/><circle cx="1354" cy="220" r="3.7"/><circle cx="1555" cy="423" r="3.7"/><circle cx="1789" cy="877" r="3.7"/><circle cx="1451" cy="419" r="3.7"/><circle cx="1713" cy="636" r="3.7"/><circle cx="1290" cy="184" r="3.7"/><circle cx="1437" cy="371" r="3.7"/><circle cx="1424" cy="347" r="3.7"/><circle cx="1362" cy="279" r="3.7"/><circle cx="1675" cy="592" r="3.7"/><circle cx="1703" cy="388" r="3.7"/><circle cx="1563" cy="396" r="3.7"/><circle cx="1591" cy="645" r="3.7"/><circle cx="1621" cy="439" r="3.7"/><circle cx="1779" cy="736" r="3.7"/><circle cx="1540" cy="267" r="3.7"/><circle cx="1413" cy="285" r="3.7"/><circle cx="1519" cy="338" r="3.7"/><circle cx="1458" cy="295" r="3.7"/><circle cx="1227" cy="223" r="3.7"/><circle cx="1535" cy="559" r="3.7"/><circle cx="1536" cy="349" r="3.7"/><circle cx="1543" cy="336" r="3.7"/><circle cx="1673" cy="669" r="3.7"/><circle cx="1628" cy="414" r="3.7"/><circle cx="1546" cy="475" r="3.7"/><circle cx="1341" cy="155" r="3.7"/><circle cx="1603" cy="304" r="3.7"/><circle cx="1809" cy="869" r="3.7"/><circle cx="1631" cy="758" r="3.7"/><circle cx="1606" cy="551" r="3.7"/><circle cx="1485" cy="440" r="3.7"/><circle cx="1422" cy="376" r="3.7"/><circle cx="1713" cy="750" r="3.7"/><circle cx="1496" cy="527" r="3.7"/><circle cx="1586" cy="435" r="3.7"/><circle cx="1544" cy="343" r="3.7"/><circle cx="1686" cy="826" r="3.7"/><circle cx="1447" cy="421" r="3.7"/><circle cx="1518" cy="461" r="3.7"/><circle cx="1599" cy="255" r="3.7"/><circle cx="1621" cy="452" r="3.7"/><circle cx="1649" cy="625" r="3.7"/><circle cx="1546" cy="315" r="3.7"/><circle cx="1197" cy="149" r="3.7"/><circle cx="1538" cy="394" r="3.7"/><circle cx="1649" cy="370" r="3.7"/><circle cx="1692" cy="601" r="3.7"/><circle cx="1707" cy="454" r="3.7"/><circle cx="1335" cy="326" r="3.7"/><circle cx="1649" cy="674" r="3.7"/><circle cx="1720" cy="681" r="3.7"/><circle cx="1636" cy="514" r="3.7"/><circle cx="1278" cy="421" r="3.7"/><circle cx="1615" cy="629" r="3.7"/><circle cx="1448" cy="286" r="3.7"/><circle cx="1709" cy="654" r="3.7"/><circle cx="1407" cy="289" r="3.7"/><circle cx="1224" cy="214" r="3.7"/><circle cx="1524" cy="407" r="3.7"/><circle cx="1622" cy="589" r="3.7"/><circle cx="1543" cy="482" r="3.7"/><circle cx="1607" cy="463" r="3.7"/><circle cx="1514" cy="549" r="3.7"/><circle cx="1554" cy="368" r="3.7"/><circle cx="1877" cy="914" r="3.7"/><circle cx="1434" cy="279" r="3.7"/><circle cx="1538" cy="504" r="3.7"/><circle cx="1332" cy="227" r="3.7"/><circle cx="1579" cy="535" r="3.7"/><circle cx="1707" cy="599" r="3.7"/><circle cx="1512" cy="374" r="3.7"/><circle cx="1587" cy="363" r="3.7"/><circle cx="1537" cy="438" r="3.7"/><circle cx="1681" cy="429" r="3.7"/><circle cx="1623" cy="515" r="3.7"/><circle cx="1431" cy="464" r="3.7"/><circle cx="1614" cy="512" r="3.7"/><circle cx="1514" cy="425" r="3.7"/><circle cx="1499" cy="400" r="3.7"/><circle cx="1398" cy="251" r="3.7"/><circle cx="1597" cy="478" r="3.7"/><circle cx="1789" cy="850" r="3.7"/><circle cx="1289" cy="261" r="3.7"/><circle cx="1471" cy="391" r="3.7"/><circle cx="1651" cy="892" r="3.7"/><circle cx="1605" cy="368" r="3.7"/><circle cx="1594" cy="385" r="3.7"/><circle cx="1518" cy="494" r="3.7"/><circle cx="1603" cy="384" r="3.7"/><circle cx="1710" cy="637" r="3.7"/><circle cx="1724" cy="626" r="3.7"/><circle cx="1571" cy="482" r="3.7"/><circle cx="1660" cy="402" r="3.7"/><circle cx="1162" cy="137" r="3.7"/><circle cx="1599" cy="581" r="3.7"/><circle cx="1658" cy="605" r="3.7"/><circle cx="1289" cy="191" r="3.7"/><circle cx="1647" cy="612" r="3.7"/><circle cx="1673" cy="634" r="3.7"/><circle cx="1667" cy="431" r="3.7"/><circle cx="1366" cy="346" r="3.7"/><circle cx="1482" cy="343" r="3.7"/><circle cx="1616" cy="395" r="3.7"/><circle cx="1475" cy="740" r="3.7"/><circle cx="1357" cy="291" r="3.7"/><circle cx="1567" cy="324" r="3.7"/><circle cx="1429" cy="293" r="3.7"/><circle cx="1375" cy="236" r="3.7"/><circle cx="1541" cy="344" r="3.7"/><circle cx="1456" cy="404" r="3.7"/><circle cx="1631" cy="553" r="3.7"/><circle cx="1636" cy="541" r="3.7"/><circle cx="1546" cy="348" r="3.7"/><circle cx="1318" cy="232" r="3.7"/><circle cx="1806" cy="737" r="3.7"/><circle cx="1815" cy="809" r="3.7"/><circle cx="1557" cy="458" r="3.7"/><circle cx="1584" cy="483" r="3.7"/><circle cx="1730" cy="707" r="3.7"/><circle cx="1375" cy="338" r="3.7"/><circle cx="1312" cy="238" r="3.7"/><circle cx="1344" cy="324" r="3.7"/><circle cx="1602" cy="468" r="3.7"/><circle cx="1626" cy="353" r="3.7"/><circle cx="1719" cy="613" r="3.7"/><circle cx="1344" cy="193" r="3.7"/><circle cx="1514" cy="454" r="3.7"/><circle cx="1491" cy="440" r="3.7"/><circle cx="1329" cy="403" r="3.7"/><circle cx="1400" cy="290" r="3.7"/><circle cx="1504" cy="451" r="3.7"/><circle cx="1610" cy="599" r="3.7"/><circle cx="1398" cy="221" r="3.7"/><circle cx="1862" cy="912" r="3.7"/><circle cx="1822" cy="683" r="3.7"/><circle cx="1560" cy="458" r="3.7"/><circle cx="1495" cy="445" r="3.7"/><circle cx="1789" cy="794" r="3.7"/><circle cx="1381" cy="278" r="3.7"/><circle cx="1464" cy="352" r="3.7"/><circle cx="1576" cy="411" r="3.7"/><circle cx="1552" cy="366" r="3.7"/><circle cx="1461" cy="758" r="3.7"/><circle cx="1669" cy="428" r="3.7"/><circle cx="1564" cy="415" r="3.7"/><circle cx="1445" cy="323" r="3.7"/><circle cx="1380" cy="262" r="3.7"/><circle cx="1540" cy="505" r="3.7"/><circle cx="1591" cy="418" r="3.7"/><circle cx="1437" cy="338" r="3.7"/><circle cx="1413" cy="380" r="3.7"/><circle cx="1617" cy="422" r="3.7"/><circle cx="1612" cy="425" r="3.7"/><circle cx="1659" cy="610" r="3.7"/><circle cx="1561" cy="482" r="3.7"/><circle cx="1567" cy="460" r="3.7"/><circle cx="1690" cy="926" r="3.7"/><circle cx="1669" cy="578" r="3.7"/><circle cx="1723" cy="680" r="3.7"/><circle cx="1554" cy="308" r="3.7"/><circle cx="1525" cy="283" r="3.7"/><circle cx="1390" cy="325" r="3.7"/><circle cx="1335" cy="258" r="3.7"/><circle cx="1436" cy="290" r="3.7"/><circle cx="1436" cy="798" r="3.7"/><circle cx="1749" cy="870" r="3.7"/><circle cx="1515" cy="355" r="3.7"/><circle cx="1393" cy="366" r="3.7"/><circle cx="1691" cy="638" r="3.7"/><circle cx="1518" cy="199" r="3.7"/><circle cx="1549" cy="413" r="3.7"/><circle cx="1454" cy="323" r="3.7"/><circle cx="1753" cy="577" r="3.7"/><circle cx="1427" cy="254" r="3.7"/><circle cx="1255" cy="253" r="3.7"/><circle cx="1382" cy="253" r="3.7"/><circle cx="1524" cy="487" r="3.7"/><circle cx="1168" cy="446" r="3.7"/><circle cx="1556" cy="412" r="3.7"/><circle cx="1601" cy="411" r="3.7"/><circle cx="1637" cy="660" r="3.7"/><circle cx="1426" cy="450" r="3.7"/><circle cx="1691" cy="615" r="3.7"/><circle cx="1482" cy="415" r="3.7"/><circle cx="1785" cy="747" r="3.7"/><circle cx="1813" cy="792" r="3.7"/><circle cx="1397" cy="258" r="3.7"/><circle cx="1577" cy="671" r="3.7"/><circle cx="1661" cy="384" r="3.7"/><circle cx="1291" cy="275" r="3.7"/><circle cx="1539" cy="424" r="3.7"/><circle cx="1569" cy="407" r="3.7"/><circle cx="1332" cy="144" r="3.7"/><circle cx="1635" cy="423" r="3.7"/><circle cx="1315" cy="282" r="3.7"/><circle cx="1458" cy="382" r="3.7"/><circle cx="1591" cy="393" r="3.7"/><circle cx="1626" cy="480" r="3.7"/><circle cx="1570" cy="470" r="3.7"/><circle cx="1369" cy="364" r="3.7"/><circle cx="1566" cy="562" r="3.7"/><circle cx="1639" cy="195" r="3.7"/><circle cx="1577" cy="493" r="3.7"/><circle cx="1499" cy="475" r="3.7"/><circle cx="1476" cy="558" r="3.7"/><circle cx="1645" cy="344" r="3.7"/><circle cx="1642" cy="406" r="3.7"/><circle cx="1697" cy="664" r="3.7"/><circle cx="1586" cy="568" r="3.7"/><circle cx="1564" cy="399" r="3.7"/><circle cx="1614" cy="757" r="3.7"/><circle cx="1246" cy="230" r="3.7"/><circle cx="1782" cy="880" r="3.7"/><circle cx="1445" cy="307" r="3.7"/><circle cx="1464" cy="300" r="3.7"/><circle cx="1408" cy="238" r="3.7"/><circle cx="1451" cy="320" r="3.7"/><circle cx="1531" cy="412" r="3.7"/><circle cx="1254" cy="218" r="3.7"/><circle cx="1408" cy="346" r="3.7"/><circle cx="1306" cy="216" r="3.7"/><circle cx="1552" cy="699" r="3.7"/><circle cx="1275" cy="470" r="3.7"/><circle cx="1319" cy="299" r="3.7"/><circle cx="1688" cy="512" r="3.7"/><circle cx="1526" cy="374" r="3.7"/><circle cx="1609" cy="362" r="3.7"/><circle cx="1658" cy="475" r="3.7"/><circle cx="1752" cy="718" r="3.7"/><circle cx="1507" cy="386" r="3.7"/><circle cx="1287" cy="422" r="3.7"/><circle cx="1510" cy="554" r="3.7"/><circle cx="1592" cy="446" r="3.7"/><circle cx="1825" cy="793" r="3.7"/><circle cx="1667" cy="752" r="3.7"/><circle cx="1394" cy="424" r="3.7"/><circle cx="1642" cy="591" r="3.7"/><circle cx="1569" cy="451" r="3.7"/><circle cx="1725" cy="616" r="3.7"/><circle cx="1518" cy="497" r="3.7"/><circle cx="1341" cy="247" r="3.7"/><circle cx="1659" cy="443" r="3.7"/><circle cx="1360" cy="372" r="3.7"/><circle cx="1348" cy="236" r="3.7"/><circle cx="1437" cy="263" r="3.7"/><circle cx="1527" cy="491" r="3.7"/><circle cx="1261" cy="308" r="3.7"/><circle cx="1371" cy="242" r="3.7"/><circle cx="1296" cy="162" r="3.7"/><circle cx="1499" cy="397" r="3.7"/><circle cx="1505" cy="351" r="3.7"/><circle cx="1709" cy="897" r="3.7"/><circle cx="1501" cy="307" r="3.7"/><circle cx="1629" cy="312" r="3.7"/><circle cx="1759" cy="767" r="3.7"/><circle cx="1392" cy="408" r="3.7"/><circle cx="1349" cy="312" r="3.7"/><circle cx="1607" cy="577" r="3.7"/><circle cx="1625" cy="599" r="3.7"/><circle cx="1589" cy="443" r="3.7"/><circle cx="1501" cy="481" r="3.7"/><circle cx="1603" cy="410" r="3.7"/><circle cx="1674" cy="562" r="3.7"/><circle cx="1568" cy="531" r="3.7"/><circle cx="1290" cy="230" r="3.7"/><circle cx="1344" cy="317" r="3.7"/><circle cx="1551" cy="390" r="3.7"/><circle cx="1395" cy="403" r="3.7"/><circle cx="1193" cy="449" r="3.7"/><circle cx="1483" cy="329" r="3.7"/><circle cx="1467" cy="325" r="3.7"/><circle cx="1606" cy="430" r="3.7"/><circle cx="1573" cy="506" r="3.7"/><circle cx="1408" cy="287" r="3.7"/><circle cx="1552" cy="337" r="3.7"/><circle cx="1473" cy="355" r="3.7"/><circle cx="1449" cy="406" r="3.7"/><circle cx="1531" cy="426" r="3.7"/><circle cx="1514" cy="357" r="3.7"/><circle cx="1836" cy="817" r="3.7"/><circle cx="1457" cy="278" r="3.7"/><circle cx="1414" cy="239" r="3.7"/><circle cx="1605" cy="503" r="3.7"/><circle cx="1186" cy="164" r="3.7"/><circle cx="1872" cy="822" r="3.7"/><circle cx="1550" cy="323" r="3.7"/><circle cx="1444" cy="348" r="3.7"/><circle cx="1522" cy="401" r="3.7"/><circle cx="1432" cy="315" r="3.7"/><circle cx="1660" cy="529" r="3.7"/><circle cx="1493" cy="348" r="3.7"/><circle cx="1529" cy="411" r="3.7"/><circle cx="1597" cy="270" r="3.7"/><circle cx="1421" cy="502" r="3.7"/><circle cx="1399" cy="316" r="3.7"/><circle cx="1554" cy="486" r="3.7"/><circle cx="1810" cy="863" r="3.7"/><circle cx="1791" cy="916" r="3.7"/><circle cx="1656" cy="631" r="3.7"/><circle cx="1690" cy="643" r="3.7"/><circle cx="1674" cy="655" r="3.7"/><circle cx="1186" cy="227" r="3.7"/><circle cx="1767" cy="688" r="3.7"/><circle cx="1563" cy="519" r="3.7"/><circle cx="1370" cy="230" r="3.7"/><circle cx="1434" cy="226" r="3.7"/><circle cx="1286" cy="258" r="3.7"/><circle cx="1447" cy="304" r="3.7"/><circle cx="1556" cy="424" r="3.7"/><circle cx="1542" cy="569" r="3.7"/><circle cx="1502" cy="354" r="3.7"/><circle cx="1539" cy="309" r="3.7"/><circle cx="1511" cy="468" r="3.7"/><circle cx="1335" cy="245" r="3.7"/><circle cx="1587" cy="378" r="3.7"/><circle cx="1396" cy="304" r="3.7"/><circle cx="1347" cy="197" r="3.7"/><circle cx="1376" cy="273" r="3.7"/><circle cx="1493" cy="372" r="3.7"/><circle cx="1573" cy="313" r="3.7"/><circle cx="1591" cy="533" r="3.7"/><circle cx="1609" cy="393" r="3.7"/><circle cx="1852" cy="824" r="3.7"/><circle cx="1559" cy="402" r="3.7"/><circle cx="1631" cy="831" r="3.7"/><circle cx="1631" cy="473" r="3.7"/><circle cx="1548" cy="434" r="3.7"/><circle cx="1612" cy="269" r="3.7"/><circle cx="1404" cy="278" r="3.7"/><circle cx="1593" cy="699" r="3.7"/><circle cx="1437" cy="367" r="3.7"/><circle cx="1289" cy="216" r="3.7"/><circle cx="1637" cy="470" r="3.7"/><circle cx="1557" cy="500" r="3.7"/><circle cx="1602" cy="455" r="3.7"/><circle cx="1474" cy="317" r="3.7"/><circle cx="1601" cy="360" r="3.7"/><circle cx="1819" cy="858" r="3.7"/><circle cx="1568" cy="378" r="3.7"/><circle cx="1375" cy="270" r="3.7"/><circle cx="1418" cy="418" r="3.7"/><circle cx="1697" cy="980" r="3.7"/><circle cx="1367" cy="319" r="3.7"/><circle cx="1595" cy="298" r="3.7"/><circle cx="1614" cy="461" r="3.7"/><circle cx="1284" cy="254" r="3.7"/><circle cx="1457" cy="327" r="3.7"/><circle cx="1976" cy="899" r="3.7"/><circle cx="1267" cy="267" r="3.7"/><circle cx="1361" cy="199" r="3.7"/><circle cx="1213" cy="418" r="3.7"/><circle cx="1581" cy="774" r="3.7"/><circle cx="1347" cy="309" r="3.7"/><circle cx="1448" cy="268" r="3.7"/><circle cx="1348" cy="518" r="3.7"/><circle cx="1343" cy="293" r="3.7"/><circle cx="1431" cy="461" r="3.7"/><circle cx="1638" cy="188" r="3.7"/><circle cx="1563" cy="419" r="3.7"/><circle cx="1684" cy="417" r="3.7"/><circle cx="1601" cy="530" r="3.7"/><circle cx="1823" cy="874" r="3.7"/><circle cx="1654" cy="454" r="3.7"/><circle cx="1570" cy="523" r="3.7"/><circle cx="1610" cy="329" r="3.7"/><circle cx="1617" cy="570" r="3.7"/><circle cx="1555" cy="485" r="3.7"/><circle cx="1772" cy="762" r="3.7"/><circle cx="1465" cy="271" r="3.7"/><circle cx="1604" cy="506" r="3.7"/><circle cx="1472" cy="316" r="3.7"/><circle cx="1362" cy="258" r="3.7"/><circle cx="1366" cy="421" r="3.7"/><circle cx="1387" cy="246" r="3.7"/><circle cx="1538" cy="588" r="3.7"/><circle cx="1362" cy="184" r="3.7"/><circle cx="1589" cy="409" r="3.7"/><circle cx="1709" cy="653" r="3.7"/><circle cx="1741" cy="580" r="3.7"/><circle cx="1341" cy="230" r="3.7"/><circle cx="1384" cy="240" r="3.7"/><circle cx="1429" cy="422" r="3.7"/><circle cx="1521" cy="498" r="3.7"/><circle cx="1448" cy="342" r="3.7"/><circle cx="1640" cy="518" r="3.7"/><circle cx="1276" cy="238" r="3.7"/><circle cx="1435" cy="188" r="3.7"/><circle cx="1367" cy="419" r="3.7"/><circle cx="1592" cy="430" r="3.7"/><circle cx="1813" cy="880" r="3.7"/><circle cx="1691" cy="730" r="3.7"/><circle cx="1454" cy="353" r="3.7"/><circle cx="1230" cy="196" r="3.7"/><circle cx="1355" cy="275" r="3.7"/><circle cx="1530" cy="493" r="3.7"/><circle cx="1592" cy="454" r="3.7"/><circle cx="1447" cy="549" r="3.7"/><circle cx="1412" cy="304" r="3.7"/><circle cx="1560" cy="530" r="3.7"/><circle cx="1644" cy="470" r="3.7"/><circle cx="1401" cy="273" r="3.7"/><circle cx="1685" cy="926" r="3.7"/><circle cx="1709" cy="631" r="3.7"/><circle cx="1739" cy="690" r="3.7"/><circle cx="1481" cy="547" r="3.7"/><circle cx="1708" cy="643" r="3.7"/><circle cx="1664" cy="690" r="3.7"/><circle cx="1431" cy="364" r="3.7"/><circle cx="1631" cy="607" r="3.7"/><circle cx="1492" cy="444" r="3.7"/><circle cx="1166" cy="165" r="3.7"/><circle cx="1480" cy="308" r="3.7"/><circle cx="1509" cy="447" r="3.7"/><circle cx="1309" cy="257" r="3.7"/><circle cx="1583" cy="386" r="3.7"/><circle cx="1586" cy="416" r="3.7"/><circle cx="1369" cy="483" r="3.7"/><circle cx="1930" cy="947" r="3.7"/><circle cx="1155" cy="120" r="3.7"/><circle cx="1456" cy="320" r="3.7"/><circle cx="1692" cy="563" r="3.7"/><circle cx="1590" cy="419" r="3.7"/><circle cx="1718" cy="313" r="3.7"/><circle cx="1482" cy="423" r="3.7"/><circle cx="1613" cy="362" r="3.7"/><circle cx="1608" cy="435" r="3.7"/><circle cx="1673" cy="605" r="3.7"/><circle cx="1366" cy="222" r="3.7"/><circle cx="1575" cy="468" r="3.7"/><circle cx="1417" cy="347" r="3.7"/><circle cx="1672" cy="451" r="3.7"/><circle cx="1542" cy="255" r="3.7"/><circle cx="1437" cy="372" r="3.7"/><circle cx="1384" cy="264" r="3.7"/><circle cx="1679" cy="443" r="3.7"/><circle cx="1672" cy="518" r="3.7"/><circle cx="1490" cy="317" r="3.7"/><circle cx="1268" cy="291" r="3.7"/><circle cx="1456" cy="246" r="3.7"/><circle cx="1579" cy="495" r="3.7"/><circle cx="1205" cy="157" r="3.7"/><circle cx="1572" cy="666" r="3.7"/><circle cx="1593" cy="485" r="3.7"/><circle cx="1414" cy="500" r="3.7"/><circle cx="1505" cy="459" r="3.7"/><circle cx="1428" cy="267" r="3.7"/><circle cx="1570" cy="564" r="3.7"/><circle cx="1742" cy="687" r="3.7"/><circle cx="1438" cy="241" r="3.7"/><circle cx="1429" cy="446" r="3.7"/><circle cx="1547" cy="679" r="3.7"/><circle cx="1395" cy="234" r="3.7"/><circle cx="1585" cy="535" r="3.7"/><circle cx="1690" cy="658" r="3.7"/><circle cx="1705" cy="617" r="3.7"/><circle cx="1645" cy="413" r="3.7"/><circle cx="1511" cy="234" r="3.7"/><circle cx="1639" cy="500" r="3.7"/><circle cx="1689" cy="342" r="3.7"/><circle cx="1583" cy="420" r="3.7"/><circle cx="1593" cy="597" r="3.7"/><circle cx="1617" cy="485" r="3.7"/><circle cx="1588" cy="481" r="3.7"/><circle cx="1715" cy="815" r="3.7"/><circle cx="1417" cy="208" r="3.7"/><circle cx="1808" cy="861" r="3.7"/><circle cx="1695" cy="632" r="3.7"/><circle cx="1532" cy="462" r="3.7"/><circle cx="1607" cy="676" r="3.7"/><circle cx="1429" cy="317" r="3.7"/><circle cx="1476" cy="391" r="3.7"/><circle cx="1591" cy="618" r="3.7"/><circle cx="1578" cy="570" r="3.7"/><circle cx="1631" cy="525" r="3.7"/><circle cx="1615" cy="837" r="3.7"/><circle cx="1461" cy="333" r="3.7"/><circle cx="1711" cy="696" r="3.7"/><circle cx="1712" cy="695" r="3.7"/><circle cx="1446" cy="441" r="3.7"/><circle cx="1786" cy="688" r="3.7"/><circle cx="1391" cy="484" r="3.7"/><circle cx="1343" cy="244" r="3.7"/><circle cx="1643" cy="432" r="3.7"/><circle cx="1864" cy="811" r="3.7"/><circle cx="1341" cy="263" r="3.7"/><circle cx="1642" cy="796" r="3.7"/><circle cx="1375" cy="249" r="3.7"/><circle cx="1414" cy="322" r="3.7"/></g><g fill="none" stroke="#000" stroke-width="3.33" stroke-dasharray="12.3 5.4"><path d="M535 12.4V981.2"/><path d="M1553 581.9V981.2"/><path d="M1553 581.9H1999.9"/></g><g fill="none" stroke-width="4.44"><ellipse cx="361.6" cy="221.2" rx="196.3" ry="80.6" transform="rotate(-155.51 361.6 221.2)" stroke="#00bfbf" stroke-opacity="0.7"/><ellipse cx="525.2" cy="528.3" rx="193.5" ry="82.2" transform="rotate(-89.87 525.2 528.3)" stroke="#008000" stroke-opacity="0.7"/><ellipse cx="656.3" cy="657.9" rx="81.8" ry="48.9" transform="rotate(-116.42 656.3 657.9)" stroke="#dc143c" stroke-opacity="0.7"/></g><g fill="none" stroke-width="4.44" stroke-linejoin="round" stroke-linecap="square"><polyline points="182.5,146.6 183.1,154.9 193.5,180.7 212.1,215.9 226.6,244.9 237,276 251.4,293.6 270,296.7 300,292 328,287.2 348,293.6 360.8,288.8 412,284 460,279.2 508,271.2 533.8,265.5 553.4,259.4 568.1,252.6 577.9,245.3 588.9,247.1 580.3,249.6 570.5,253.9 564.4,259.4 554.6,272.8 540,297 529.1,292.7 530,304 545.1,298.3 508,308.7 519.3,320.9 526,318 522.6,330 516.7,337.6 511.2,340.7 495.1,346.1 486.1,348.8 487.9,356.8 485.2,378.3 477.2,391.7 464.7,397 460.2,403.3 462,419.4 457.1,429.4 455,462 451.3,473.9 444.1,487.3 455,502 460.2,527.9 458.7,544.9 451.7,558.9 454.8,575.9 462.5,589.9 473.4,608.4 484.2,636.3 489,648 491.8,662 491.8,678.8 492.5,684.7 498.8,692.8 517,704 536.6,708.9 552,704 566,698.4 582,697.7 594,699.8 626.1,708.2 631.7,694.2 624.7,690 642.9,692.1 677.9,702.6 698.9,723.6 719.9,748.7 738.7,771.4 744.2,779.9 753.4,795.8 770.5,837.4" stroke="#ff0000" stroke-opacity="0.8"/></g><g fill="#f00"><circle cx="182.5" cy="146.6" r="7.8"/><circle cx="554.6" cy="272.8" r="7.8"/><circle cx="451.3" cy="473.5" r="7.8"/><circle cx="492.5" cy="684.7" r="7.8"/><circle cx="582" cy="697.7" r="7.8"/><circle cx="744.2" cy="779.9" r="7.8"/></g><g fill="none" stroke-width="4.44" stroke-linejoin="round" stroke-linecap="square"><polyline points="391.6,447.1 395.2,452.5 397.5,459.9 404.6,461.5 433,468.3 445.6,474.6 454,477.7 452.9,483 449.5,500 448.6,517 456.3,551.1 461.8,574.4 464.1,586 473.4,589.9 484.2,586.8 502.8,569.7 513.7,568.9 521.7,570 530.7,572.8 569.4,585.2 586.5,591.4 612.8,589.9 622.1,596 627.5,604.6" stroke="#0000ff" stroke-opacity="0.7"/></g><g fill="#00f"><circle cx="397.5" cy="459.9" r="7.4"/><circle cx="521.7" cy="570" r="7.4"/><circle cx="627.5" cy="604.6" r="7.4"/></g><g font-size="29.2"><text x="182" y="179.3" fill="#000">1Myr</text><text x="554.4" y="305.3" fill="#000">10Myr</text><text x="451.9" y="506" fill="#000">100Myr</text><text x="492.5" y="717.1" fill="#000">400Myr</text><text x="582.3" y="730.4" fill="#000">1Gyr</text><text x="744.7" y="812.2" fill="#000">10Gyr</text><text x="414.5" y="460.4" fill="#000080">100Myr</text><text x="538" y="570.2" fill="#000080">1Gyr</text><text x="643.8" y="605.1" fill="#000080">10Gyr</text></g><g fill="#f00"><circle cx="1200.4" cy="110.7" r="9.1"/><circle cx="1573.5" cy="311.9" r="9.1"/><circle cx="1469" cy="348.4" r="9.1"/><circle cx="1510.4" cy="454" r="9.1"/><circle cx="1599.9" cy="638.3" r="9.1"/><circle cx="1762.2" cy="850.2" r="9.1"/></g><g fill="#00f"><circle cx="1415.5" cy="319.7" r="7.9"/><circle cx="1540.1" cy="490.3" r="7.9"/><circle cx="1644.7" cy="659.4" r="7.9"/></g><g font-size="29.2"><text x="1210.9" y="116.8" fill="#000">1Myr</text><text x="1583.2" y="317.6" fill="#000">10Myr</text><text x="1479.2" y="353.8" fill="#000">100Myr</text><text x="1520.8" y="458.1" fill="#000">400Myr</text><text x="1609.8" y="644" fill="#000">1Gyr</text><text x="1772.6" y="855.5" fill="#000">10Gyr</text><text x="1416.5" y="318.8" fill="rgba(0,0,128,.8)">100Myr</text><text x="1542.8" y="489.7" fill="rgba(0,0,128,.8)">1Gyr</text><text x="1646.9" y="658.6" fill="rgba(0,0,128,.8)">10Gyr</text></g><g fill="none" stroke-width="4.44"><ellipse cx="1378.7" cy="238.5" rx="212.1" ry="53.6" transform="rotate(-153.95 1378.7 238.5)" stroke="#00bfbf" stroke-opacity="0.7"/><ellipse cx="1576" cy="439.3" rx="117.2" ry="80.5" transform="rotate(-95.53 1576 439.3)" stroke="#008000" stroke-opacity="0.7"/><ellipse cx="1706.7" cy="666.2" rx="131.8" ry="49.6" transform="rotate(-114.90 1706.7 666.2)" stroke="#dc143c" stroke-opacity="0.7"/></g><g fill="none" stroke-width="4.44" stroke-linejoin="round" stroke-linecap="square"><polyline points="1200.4,110.7 1198.8,120 1214.8,136 1254.8,174.4 1266,184 1285,196 1313.9,208.8 1347.7,229.1 1368,247.7 1363,241 1364.7,240.1 1398.5,242.6 1449.3,252.8 1500.1,269.7 1543.5,286.6 1584.9,309.3 1605.5,321.7 1590,316 1573.7,312.4 1564.9,314 1557.1,320.7 1546.8,316.1 1547.3,296.9 1554.5,302.1 1561.3,311.9 1551.9,317.1 1536.4,312.4 1526.1,296.9 1531.2,309.8 1519.8,309.3 1507.4,303.1 1506.2,319.7 1500,329 1481.4,328 1477.2,332.1 1478.3,336.2 1473.1,335.2 1470,342.4 1469,348.4 1476.9,359 1478.2,369.5 1470.3,370.8 1483.5,391.9 1495.3,409 1505.9,428.8 1509.8,442 1510.5,453.8 1517.7,469.7 1532.7,489.7 1553.8,537.2 1569.6,579.3 1571.8,586.5 1599.9,638.3 1613.4,652.5 1643.8,686.4 1650.4,679.5 1643.8,686.4 1654.7,700 1686.8,735.7 1704,760 1713.2,774.5 1723.7,789 1739.5,812.7 1755.3,839 1762.2,850.2 1771.1,860.1 1789.5,890.4" stroke="#ff0000" stroke-opacity="0.8"/></g><g fill="none" stroke-width="4.44" stroke-linejoin="round" stroke-linecap="square"><polyline points="1407,313.8 1415.5,319.7 1440,328 1466.4,339.2 1467,356.4 1474.3,369.5 1479.5,395.9 1494,419.6 1505.9,442 1521.7,467 1540.1,490.3 1564.3,516.1 1590.7,550.3 1606,571.8 1613.4,593.8 1623.2,610.9 1633,628.1 1640.3,647.6 1644.7,659.4" stroke="#0000ff" stroke-opacity="0.7"/></g><polygon points="624.4,88.2 760.6,173.7 763.4,169.2 798.4,202.2 753.3,184.4 755.8,180.5 620.1,94.7" fill="#dc143c"/><polygon points="1642.2,91 1778.4,237.4 1781.4,230 1814.6,284.8 1771.8,256.5 1774.5,248.3 1638.2,101.6" fill="#dc143c"/><text x="692" y="88.8" font-size="31.1" transform="rotate(29 692 88.8)">AV = 1</text><text x="1740" y="627.6" font-size="31.1">Color Selection</text><g fill="none" stroke="#000" stroke-width="1.8" stroke-linecap="square"><rect x="133.8" y="11.4" width="848.1" height="969.9" stroke-linejoin="miter"/><rect x="1151.8" y="11.4" width="848.1" height="969.9" stroke-linejoin="miter"/></g><path d="M133.8 981.2v7.8M296.9 981.2v7.8M460.0 981.2v7.8M623.1 981.2v7.8M786.2 981.2v7.8M949.3 981.2v7.8M1151.8 981.2v7.8M1314.9 981.2v7.8M1478.0 981.2v7.8M1641.1 981.2v7.8M1804.2 981.2v7.8M1967.3 981.2v7.8M133.8 11.4h-7.8M133.8 173.0h-7.8M133.8 334.7h-7.8M133.8 496.3h-7.8M133.8 658.0h-7.8M133.8 819.6h-7.8M133.8 981.2h-7.8M1151.8 68.4h-7.8M1151.8 182.6h-7.8M1151.8 296.6h-7.8M1151.8 410.8h-7.8M1151.8 524.9h-7.8M1151.8 639.0h-7.8M1151.8 753.1h-7.8M1151.8 867.2h-7.8M1151.8 981.2h-7.8" stroke="#000" stroke-width="1.8"/><g font-size="31.1" text-anchor="middle"><text x="133.8" y="1020.3">−0.5</text><text x="296.9" y="1020.3">0.0</text><text x="460.0" y="1020.3">0.5</text><text x="623.1" y="1020.3">1.0</text><text x="786.2" y="1020.3">1.5</text><text x="949.3" y="1020.3">2.0</text><text x="1151.8" y="1020.3">−0.5</text><text x="1314.9" y="1020.3">0.0</text><text x="1478.0" y="1020.3">0.5</text><text x="1641.1" y="1020.3">1.0</text><text x="1804.2" y="1020.3">1.5</text><text x="1967.3" y="1020.3">2.0</text></g><g font-size="31.1" text-anchor="end"><text x="118.2" y="23.7">−2.0</text><text x="118.2" y="185.3">−1.5</text><text x="118.2" y="347.0">−1.0</text><text x="118.2" y="508.6">−0.5</text><text x="118.2" y="670.3">0.0</text><text x="118.2" y="831.9">0.5</text><text x="118.2" y="993.5">1.0</text><text x="1136.2" y="80.7">−0.4</text><text x="1136.2" y="194.9">−0.2</text><text x="1136.2" y="308.9">0.0</text><text x="1136.2" y="423.1">0.2</text><text x="1136.2" y="537.1">0.4</text><text x="1136.2" y="651.2">0.6</text><text x="1136.2" y="765.4">0.8</text><text x="1136.2" y="879.5">1.0</text><text x="1136.2" y="993.5">1.2</text></g><g font-size="35.6" text-anchor="middle"><text x="557.9" y="1062.4">V-I</text><text x="1575.8" y="1062.4">V-I</text><text transform="translate(25.4 496.3) rotate(-90)">U-B</text><text transform="translate(1044 496.3) rotate(-90)">B-V</text></g>
</svg></body></html>
